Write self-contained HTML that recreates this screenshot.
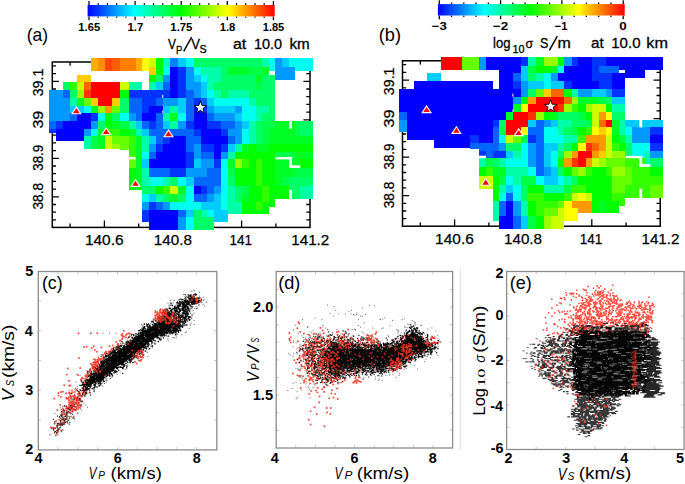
<!DOCTYPE html>
<html><head><meta charset="utf-8"><title>figure</title><style>html,body{margin:0;padding:0;background:#fff;width:685px;height:484px;overflow:hidden}svg{display:block}</style></head><body>
<svg width="685" height="484" viewBox="0 0 685 484" font-family='"Liberation Sans", sans-serif'>
<rect x="0" y="0" width="685" height="484" fill="#ffffff"/>
<defs><linearGradient id="g87" x1="0" x2="1" y1="0" y2="0"><stop offset="0" stop-color="#0000ff"/><stop offset="0.25" stop-color="#00ffff"/><stop offset="0.5" stop-color="#00ff00"/><stop offset="0.75" stop-color="#ffff00"/><stop offset="1" stop-color="#ff0000"/></linearGradient></defs>
<path d="M89.00 4.95v-1.6M89.00 16.40v1.4 M98.22 4.95v-1.6M98.22 16.40v1.4 M107.44 4.95v-1.6M107.44 16.40v1.4 M116.66 4.95v-1.6M116.66 16.40v1.4 M125.88 4.95v-1.6M125.88 16.40v1.4 M135.10 4.95v-1.6M135.10 16.40v1.4 M144.32 4.95v-1.6M144.32 16.40v1.4 M153.54 4.95v-1.6M153.54 16.40v1.4 M162.76 4.95v-1.6M162.76 16.40v1.4 M171.98 4.95v-1.6M171.98 16.40v1.4 M181.20 4.95v-1.6M181.20 16.40v1.4 M190.42 4.95v-1.6M190.42 16.40v1.4 M199.64 4.95v-1.6M199.64 16.40v1.4 M208.86 4.95v-1.6M208.86 16.40v1.4 M218.08 4.95v-1.6M218.08 16.40v1.4 M227.30 4.95v-1.6M227.30 16.40v1.4 M236.52 4.95v-1.6M236.52 16.40v1.4 M245.74 4.95v-1.6M245.74 16.40v1.4 M254.96 4.95v-1.6M254.96 16.40v1.4 M264.18 4.95v-1.6M264.18 16.40v1.4 M273.40 4.95v-1.6M273.40 16.40v1.4 M89.00 4.95V1.05M89.00 16.40V20.20 M135.10 4.95V1.05M135.10 16.40V20.20 M181.20 4.95V1.05M181.20 16.40V20.20 M227.30 4.95V1.05M227.30 16.40V20.20 M273.40 4.95V1.05M273.40 16.40V20.20" stroke="#000" stroke-width="1.25" fill="none"/>
<rect x="87.60" y="4.95" width="187.10" height="11.45" fill="url(#g87)"/>
<defs><linearGradient id="g437" x1="0" x2="1" y1="0" y2="0"><stop offset="0" stop-color="#0000ff"/><stop offset="0.25" stop-color="#00ffff"/><stop offset="0.5" stop-color="#00ff00"/><stop offset="0.75" stop-color="#ffff00"/><stop offset="1" stop-color="#ff0000"/></linearGradient></defs>
<path d="M439.30 4.10v-1.6M439.30 15.50v1.4 M451.56 4.10v-1.6M451.56 15.50v1.4 M463.82 4.10v-1.6M463.82 15.50v1.4 M476.08 4.10v-1.6M476.08 15.50v1.4 M488.34 4.10v-1.6M488.34 15.50v1.4 M500.60 4.10v-1.6M500.60 15.50v1.4 M512.86 4.10v-1.6M512.86 15.50v1.4 M525.12 4.10v-1.6M525.12 15.50v1.4 M537.38 4.10v-1.6M537.38 15.50v1.4 M549.64 4.10v-1.6M549.64 15.50v1.4 M561.90 4.10v-1.6M561.90 15.50v1.4 M574.16 4.10v-1.6M574.16 15.50v1.4 M586.42 4.10v-1.6M586.42 15.50v1.4 M598.68 4.10v-1.6M598.68 15.50v1.4 M610.94 4.10v-1.6M610.94 15.50v1.4 M623.20 4.10v-1.6M623.20 15.50v1.4 M439.30 4.10V0.20M439.30 15.50V19.30 M500.60 4.10V0.20M500.60 15.50V19.30 M561.90 4.10V0.20M561.90 15.50V19.30 M623.20 4.10V0.20M623.20 15.50V19.30" stroke="#000" stroke-width="1.25" fill="none"/>
<rect x="437.90" y="4.10" width="186.80" height="11.40" fill="url(#g437)"/>
<text x="78.39" y="30.90" font-size="11.20" font-weight="bold" font-style="normal" fill="#000" font-family='"Liberation Sans", sans-serif' textLength="21.82" lengthAdjust="spacingAndGlyphs" >1.65</text>
<text x="127.48" y="30.90" font-size="11.20" font-weight="bold" font-style="normal" fill="#000" font-family='"Liberation Sans", sans-serif' textLength="15.82" lengthAdjust="spacingAndGlyphs" >1.7</text>
<text x="170.39" y="30.90" font-size="11.20" font-weight="bold" font-style="normal" fill="#000" font-family='"Liberation Sans", sans-serif' textLength="22.03" lengthAdjust="spacingAndGlyphs" >1.75</text>
<text x="219.69" y="30.90" font-size="11.20" font-weight="bold" font-style="normal" fill="#000" font-family='"Liberation Sans", sans-serif' textLength="15.66" lengthAdjust="spacingAndGlyphs" >1.8</text>
<text x="262.81" y="30.90" font-size="11.20" font-weight="bold" font-style="normal" fill="#000" font-family='"Liberation Sans", sans-serif' textLength="21.40" lengthAdjust="spacingAndGlyphs" >1.85</text>
<text x="431.75" y="29.90" font-size="11.50" font-weight="bold" font-style="normal" fill="#000" font-family='"Liberation Sans", sans-serif' textLength="15.13" lengthAdjust="spacingAndGlyphs" >−3</text>
<text x="493.04" y="29.90" font-size="11.50" font-weight="bold" font-style="normal" fill="#000" font-family='"Liberation Sans", sans-serif' textLength="15.29" lengthAdjust="spacingAndGlyphs" >−2</text>
<text x="554.73" y="30.00" font-size="11.50" font-weight="bold" font-style="normal" fill="#000" font-family='"Liberation Sans", sans-serif' textLength="12.78" lengthAdjust="spacingAndGlyphs" >−1</text>
<text x="619.37" y="30.10" font-size="11.50" font-weight="bold" font-style="normal" fill="#000" font-family='"Liberation Sans", sans-serif' textLength="7.48" lengthAdjust="spacingAndGlyphs" >0</text>
<text x="26.72" y="41.00" font-size="18.20" font-weight="normal" font-style="normal" fill="#000" font-family='"Liberation Sans", sans-serif' textLength="21.37" lengthAdjust="spacingAndGlyphs" >(a)</text>
<text x="378.77" y="41.00" font-size="18.20" font-weight="normal" font-style="normal" fill="#000" font-family='"Liberation Sans", sans-serif' textLength="22.26" lengthAdjust="spacingAndGlyphs" >(b)</text>
<g stroke="#000" stroke-width="0.3">
<text x="167.95" y="48.80" font-size="14.80" font-weight="normal" font-style="normal" fill="#000" font-family='"Liberation Sans", sans-serif' textLength="8.01" lengthAdjust="spacingAndGlyphs" >V</text>
<text x="176.03" y="53.75" font-size="11.40" font-weight="normal" font-style="normal" fill="#000" font-family='"Liberation Sans", sans-serif' textLength="6.27" lengthAdjust="spacingAndGlyphs" >P</text>
<path d="M183.70 51.30L191.60 37.20" stroke="#000" stroke-width="1.45" stroke-linecap="butt"/>
<text x="191.24" y="48.80" font-size="14.80" font-weight="normal" font-style="normal" fill="#000" font-family='"Liberation Sans", sans-serif' textLength="8.71" lengthAdjust="spacingAndGlyphs" >V</text>
<text x="199.41" y="53.40" font-size="10.90" font-weight="normal" font-style="normal" fill="#000" font-family='"Liberation Sans", sans-serif' textLength="7.18" lengthAdjust="spacingAndGlyphs" >S</text>
<text x="232.92" y="48.80" font-size="14.80" font-weight="normal" font-style="normal" fill="#000" font-family='"Liberation Sans", sans-serif' textLength="13.29" lengthAdjust="spacingAndGlyphs" >at</text>
<text x="253.90" y="48.80" font-size="14.80" font-weight="normal" font-style="normal" fill="#000" font-family='"Liberation Sans", sans-serif' textLength="28.17" lengthAdjust="spacingAndGlyphs" >10.0</text>
<text x="289.47" y="48.80" font-size="14.80" font-weight="normal" font-style="normal" fill="#000" font-family='"Liberation Sans", sans-serif' textLength="20.33" lengthAdjust="spacingAndGlyphs" >km</text>
<text x="493.12" y="47.80" font-size="13.80" font-weight="normal" font-style="normal" fill="#000" font-family='"Liberation Sans", sans-serif' textLength="17.42" lengthAdjust="spacingAndGlyphs" >log</text>
<text x="512.57" y="52.75" font-size="11.00" font-weight="normal" font-style="normal" fill="#000" font-family='"Liberation Sans", sans-serif' textLength="12.05" lengthAdjust="spacingAndGlyphs" >10</text>
<text x="525.38" y="47.80" font-size="13.50" font-weight="normal" font-style="normal" fill="#000" font-family='"Liberation Sans", sans-serif' textLength="7.60" lengthAdjust="spacingAndGlyphs" >σ</text>
<text x="540.03" y="47.80" font-size="14.60" font-weight="normal" font-style="normal" fill="#000" font-family='"Liberation Sans", sans-serif' textLength="8.34" lengthAdjust="spacingAndGlyphs" >S</text>
<path d="M549.40 50.30L557.30 36.20" stroke="#000" stroke-width="1.45" stroke-linecap="butt"/>
<text x="557.64" y="47.80" font-size="14.60" font-weight="normal" font-style="normal" fill="#000" font-family='"Liberation Sans", sans-serif' textLength="13.32" lengthAdjust="spacingAndGlyphs" >m</text>
<text x="591.06" y="47.80" font-size="14.60" font-weight="normal" font-style="normal" fill="#000" font-family='"Liberation Sans", sans-serif' textLength="12.66" lengthAdjust="spacingAndGlyphs" >at</text>
<text x="611.26" y="47.80" font-size="14.60" font-weight="normal" font-style="normal" fill="#000" font-family='"Liberation Sans", sans-serif' textLength="29.23" lengthAdjust="spacingAndGlyphs" >10.0</text>
<text x="646.30" y="47.80" font-size="14.60" font-weight="normal" font-style="normal" fill="#000" font-family='"Liberation Sans", sans-serif' textLength="21.67" lengthAdjust="spacingAndGlyphs" >km</text>
</g>
<path d="M52.30 219.90h3.70 M310.00 219.90h-3.70 M52.30 212.20h3.70 M310.00 212.20h-3.70 M52.30 204.50h3.70 M310.00 204.50h-3.70 M52.30 196.80h6.60 M310.00 196.80h-6.60 M52.30 189.10h3.70 M310.00 189.10h-3.70 M52.30 181.40h3.70 M310.00 181.40h-3.70 M52.30 173.70h3.70 M310.00 173.70h-3.70 M52.30 166.00h3.70 M310.00 166.00h-3.70 M52.30 158.30h6.60 M310.00 158.30h-6.60 M52.30 150.60h3.70 M310.00 150.60h-3.70 M52.30 142.90h3.70 M310.00 142.90h-3.70 M52.30 135.20h3.70 M310.00 135.20h-3.70 M52.30 127.50h3.70 M310.00 127.50h-3.70 M52.30 119.80h6.60 M310.00 119.80h-6.60 M52.30 112.10h3.70 M310.00 112.10h-3.70 M52.30 104.40h3.70 M310.00 104.40h-3.70 M52.30 96.70h3.70 M310.00 96.70h-3.70 M52.30 89.00h3.70 M310.00 89.00h-3.70 M52.30 81.30h6.60 M310.00 81.30h-6.60 M52.30 73.60h3.70 M310.00 73.60h-3.70 M52.30 65.90h3.70 M310.00 65.90h-3.70 M70.10 227.40v-3.80 M70.10 62.00v3.80 M104.40 227.40v-7.00 M104.40 62.00v7.00 M138.70 227.40v-3.80 M138.70 62.00v3.80 M173.00 227.40v-7.00 M173.00 62.00v7.00 M207.30 227.40v-3.80 M207.30 62.00v3.80 M241.60 227.40v-7.00 M241.60 62.00v7.00 M275.90 227.40v-3.80 M275.90 62.00v3.80" stroke="#000" stroke-width="1.3" fill="none"/>
<rect x="52.30" y="62.00" width="257.70" height="165.40" fill="none" stroke="#000" stroke-width="1.5"/>
<g shape-rendering="crispEdges"><rect x="90.90" y="58.20" width="7.00" height="8.70" fill="#ffad00"/>
<rect x="97.90" y="58.20" width="6.90" height="8.70" fill="#ff8f00"/>
<rect x="104.80" y="58.20" width="6.70" height="8.70" fill="#ff4700"/>
<rect x="111.50" y="58.20" width="8.50" height="8.70" fill="#ff5c00"/>
<rect x="120.00" y="58.20" width="8.70" height="8.70" fill="#ff8000"/>
<rect x="128.70" y="58.20" width="7.00" height="8.70" fill="#ff8000"/>
<rect x="135.70" y="58.20" width="6.70" height="8.70" fill="#ffad00"/>
<rect x="142.40" y="58.20" width="6.70" height="8.70" fill="#ffff00"/>
<rect x="149.10" y="58.20" width="7.00" height="8.70" fill="#ccff00"/>
<rect x="156.10" y="58.20" width="6.60" height="8.70" fill="#00ff00"/>
<rect x="162.70" y="58.20" width="7.60" height="8.70" fill="#00ffbd"/>
<rect x="170.30" y="58.20" width="7.20" height="8.70" fill="#0080ff"/>
<rect x="177.50" y="58.20" width="8.70" height="8.70" fill="#00ccff"/>
<rect x="186.20" y="58.20" width="7.70" height="8.70" fill="#00fff0"/>
<rect x="193.90" y="58.20" width="6.80" height="8.70" fill="#00ff66"/>
<rect x="200.70" y="58.20" width="6.70" height="8.70" fill="#00ff66"/>
<rect x="207.40" y="58.20" width="6.70" height="8.70" fill="#00ff66"/>
<rect x="214.10" y="58.20" width="7.20" height="8.70" fill="#00ff66"/>
<rect x="221.30" y="58.20" width="6.70" height="8.70" fill="#00ff66"/>
<rect x="228.00" y="58.20" width="7.30" height="8.70" fill="#00ff66"/>
<rect x="235.30" y="58.20" width="6.70" height="8.70" fill="#00ff66"/>
<rect x="242.00" y="58.20" width="6.70" height="8.70" fill="#00ff66"/>
<rect x="248.70" y="58.20" width="7.20" height="8.70" fill="#00ff66"/>
<rect x="255.90" y="58.20" width="6.30" height="8.70" fill="#00ff66"/>
<rect x="262.20" y="58.20" width="6.30" height="8.70" fill="#00ffa8"/>
<rect x="268.50" y="58.20" width="6.50" height="8.70" fill="#00fff0"/>
<rect x="275.00" y="58.20" width="6.90" height="8.70" fill="#0099ff"/>
<rect x="281.90" y="58.20" width="6.80" height="8.70" fill="#00ccff"/>
<rect x="288.70" y="58.20" width="5.80" height="8.70" fill="#00fff0"/>
<rect x="294.50" y="58.20" width="5.70" height="8.70" fill="#00fff0"/>
<rect x="300.20" y="58.20" width="6.30" height="8.70" fill="#00fff0"/>
<rect x="306.50" y="58.20" width="6.30" height="8.70" fill="#00fff0"/>
<rect x="149.10" y="66.90" width="7.00" height="7.70" fill="#ffcc00"/>
<rect x="156.10" y="66.90" width="6.60" height="7.70" fill="#00ff00"/>
<rect x="162.70" y="66.90" width="7.60" height="7.70" fill="#00fff0"/>
<rect x="170.30" y="66.90" width="7.20" height="7.70" fill="#0000ff"/>
<rect x="177.50" y="66.90" width="8.70" height="7.70" fill="#0033ff"/>
<rect x="186.20" y="66.90" width="7.70" height="7.70" fill="#0099ff"/>
<rect x="193.90" y="66.90" width="6.80" height="7.70" fill="#00fff0"/>
<rect x="200.70" y="66.90" width="6.70" height="7.70" fill="#00ffa8"/>
<rect x="207.40" y="66.90" width="6.70" height="7.70" fill="#00ffa8"/>
<rect x="214.10" y="66.90" width="7.20" height="7.70" fill="#00ffa8"/>
<rect x="221.30" y="66.90" width="6.70" height="7.70" fill="#00ff66"/>
<rect x="228.00" y="66.90" width="7.30" height="7.70" fill="#00ff24"/>
<rect x="235.30" y="66.90" width="6.70" height="7.70" fill="#00ff24"/>
<rect x="242.00" y="66.90" width="6.70" height="7.70" fill="#00ff24"/>
<rect x="248.70" y="66.90" width="7.20" height="7.70" fill="#00ff47"/>
<rect x="255.90" y="66.90" width="6.30" height="7.70" fill="#00ff47"/>
<rect x="262.20" y="66.90" width="6.30" height="7.70" fill="#00ff24"/>
<rect x="275.00" y="66.90" width="6.90" height="7.70" fill="#0099ff"/>
<rect x="281.90" y="66.90" width="6.80" height="7.70" fill="#0099ff"/>
<rect x="288.70" y="66.90" width="5.80" height="7.70" fill="#0099ff"/>
<rect x="77.20" y="74.60" width="7.00" height="7.70" fill="#ffcc00"/>
<rect x="84.20" y="74.60" width="6.70" height="7.70" fill="#ffcc00"/>
<rect x="149.10" y="74.60" width="7.00" height="7.70" fill="#00ff00"/>
<rect x="156.10" y="74.60" width="6.60" height="7.70" fill="#00ff66"/>
<rect x="162.70" y="74.60" width="7.60" height="7.70" fill="#0099ff"/>
<rect x="170.30" y="74.60" width="7.20" height="7.70" fill="#0000ff"/>
<rect x="177.50" y="74.60" width="8.70" height="7.70" fill="#0033ff"/>
<rect x="186.20" y="74.60" width="7.70" height="7.70" fill="#0099ff"/>
<rect x="193.90" y="74.60" width="6.80" height="7.70" fill="#00ccff"/>
<rect x="200.70" y="74.60" width="6.70" height="7.70" fill="#00fff0"/>
<rect x="207.40" y="74.60" width="6.70" height="7.70" fill="#00ffa8"/>
<rect x="214.10" y="74.60" width="7.20" height="7.70" fill="#00ffa8"/>
<rect x="221.30" y="74.60" width="6.70" height="7.70" fill="#00ff66"/>
<rect x="228.00" y="74.60" width="7.30" height="7.70" fill="#00ff66"/>
<rect x="235.30" y="74.60" width="6.70" height="7.70" fill="#00ff66"/>
<rect x="242.00" y="74.60" width="6.70" height="7.70" fill="#00ff66"/>
<rect x="248.70" y="74.60" width="7.20" height="7.70" fill="#00ff66"/>
<rect x="255.90" y="74.60" width="6.30" height="7.70" fill="#00ff24"/>
<rect x="262.20" y="74.60" width="6.30" height="7.70" fill="#00ff66"/>
<rect x="268.50" y="74.60" width="6.50" height="7.70" fill="#00ff66"/>
<rect x="275.00" y="74.60" width="6.90" height="4.90" fill="#0099ff"/>
<rect x="281.90" y="74.60" width="6.80" height="4.90" fill="#0099ff"/>
<rect x="288.70" y="74.60" width="5.80" height="4.90" fill="#0099ff"/>
<rect x="63.30" y="82.30" width="6.90" height="7.70" fill="#00ff66"/>
<rect x="70.20" y="82.30" width="7.00" height="7.70" fill="#33ff00"/>
<rect x="77.20" y="82.30" width="7.00" height="7.70" fill="#ccff00"/>
<rect x="84.20" y="82.30" width="6.70" height="7.70" fill="#ff6600"/>
<rect x="90.90" y="82.30" width="7.00" height="7.70" fill="#ff0000"/>
<rect x="97.90" y="82.30" width="6.90" height="7.70" fill="#ff0000"/>
<rect x="104.80" y="82.30" width="6.70" height="7.70" fill="#ff0000"/>
<rect x="111.50" y="82.30" width="8.50" height="7.70" fill="#ff0000"/>
<rect x="120.00" y="82.30" width="8.70" height="7.70" fill="#ccff00"/>
<rect x="128.70" y="82.30" width="7.00" height="7.70" fill="#00ffa8"/>
<rect x="135.70" y="82.30" width="6.70" height="7.70" fill="#00ffa8"/>
<rect x="149.10" y="82.30" width="7.00" height="7.70" fill="#00ffa8"/>
<rect x="156.10" y="82.30" width="6.60" height="7.70" fill="#00ccff"/>
<rect x="162.70" y="82.30" width="7.60" height="7.70" fill="#0066ff"/>
<rect x="170.30" y="82.30" width="7.20" height="7.70" fill="#0000ff"/>
<rect x="177.50" y="82.30" width="8.70" height="7.70" fill="#0033ff"/>
<rect x="186.20" y="82.30" width="7.70" height="7.70" fill="#0099ff"/>
<rect x="193.90" y="82.30" width="6.80" height="7.70" fill="#0099ff"/>
<rect x="200.70" y="82.30" width="6.70" height="7.70" fill="#00ccff"/>
<rect x="207.40" y="82.30" width="6.70" height="7.70" fill="#00ffa8"/>
<rect x="214.10" y="82.30" width="7.20" height="7.70" fill="#00ff66"/>
<rect x="221.30" y="82.30" width="6.70" height="7.70" fill="#00ff66"/>
<rect x="228.00" y="82.30" width="7.30" height="7.70" fill="#00ff66"/>
<rect x="235.30" y="82.30" width="6.70" height="7.70" fill="#00ff66"/>
<rect x="242.00" y="82.30" width="6.70" height="7.70" fill="#00ff66"/>
<rect x="248.70" y="82.30" width="7.20" height="7.70" fill="#00ff66"/>
<rect x="255.90" y="82.30" width="6.30" height="7.70" fill="#00ff47"/>
<rect x="262.20" y="82.30" width="6.30" height="7.70" fill="#00ff66"/>
<rect x="268.50" y="82.30" width="6.50" height="7.70" fill="#00ff66"/>
<rect x="49.20" y="90.00" width="7.10" height="7.80" fill="#0099ff"/>
<rect x="56.30" y="90.00" width="7.00" height="7.80" fill="#0099ff"/>
<rect x="63.30" y="90.00" width="6.90" height="7.80" fill="#0066ff"/>
<rect x="70.20" y="90.00" width="7.00" height="7.80" fill="#00ff66"/>
<rect x="77.20" y="90.00" width="7.00" height="7.80" fill="#99ff00"/>
<rect x="84.20" y="90.00" width="6.70" height="7.80" fill="#ff3300"/>
<rect x="90.90" y="90.00" width="7.00" height="7.80" fill="#ff0000"/>
<rect x="97.90" y="90.00" width="6.90" height="7.80" fill="#ff0000"/>
<rect x="104.80" y="90.00" width="6.70" height="7.80" fill="#ff0000"/>
<rect x="111.50" y="90.00" width="8.50" height="7.80" fill="#ff0000"/>
<rect x="120.00" y="90.00" width="8.70" height="7.80" fill="#00ff00"/>
<rect x="128.70" y="90.00" width="7.00" height="7.80" fill="#0033ff"/>
<rect x="135.70" y="90.00" width="6.70" height="7.80" fill="#0033ff"/>
<rect x="142.40" y="90.00" width="6.70" height="7.80" fill="#0033ff"/>
<rect x="149.10" y="90.00" width="7.00" height="7.80" fill="#0033ff"/>
<rect x="156.10" y="90.00" width="6.60" height="7.80" fill="#0033ff"/>
<rect x="162.70" y="90.00" width="7.60" height="7.80" fill="#0033ff"/>
<rect x="170.30" y="90.00" width="7.20" height="7.80" fill="#0000ff"/>
<rect x="177.50" y="90.00" width="8.70" height="7.80" fill="#0033ff"/>
<rect x="186.20" y="90.00" width="7.70" height="7.80" fill="#0066ff"/>
<rect x="193.90" y="90.00" width="6.80" height="7.80" fill="#0099ff"/>
<rect x="200.70" y="90.00" width="6.70" height="7.80" fill="#00ccff"/>
<rect x="207.40" y="90.00" width="6.70" height="7.80" fill="#00fff0"/>
<rect x="214.10" y="90.00" width="7.20" height="7.80" fill="#00ffa8"/>
<rect x="221.30" y="90.00" width="6.70" height="7.80" fill="#00ff66"/>
<rect x="228.00" y="90.00" width="7.30" height="7.80" fill="#00ffa8"/>
<rect x="235.30" y="90.00" width="6.70" height="7.80" fill="#00ffa8"/>
<rect x="242.00" y="90.00" width="6.70" height="7.80" fill="#00ffa8"/>
<rect x="248.70" y="90.00" width="7.20" height="7.80" fill="#00ff66"/>
<rect x="255.90" y="90.00" width="6.30" height="7.80" fill="#00ff66"/>
<rect x="262.20" y="90.00" width="6.30" height="7.80" fill="#00ff66"/>
<rect x="268.50" y="90.00" width="6.50" height="7.80" fill="#00ff66"/>
<rect x="49.20" y="97.80" width="7.10" height="7.70" fill="#0099ff"/>
<rect x="56.30" y="97.80" width="7.00" height="7.70" fill="#0099ff"/>
<rect x="63.30" y="97.80" width="6.90" height="7.70" fill="#0099ff"/>
<rect x="70.20" y="97.80" width="7.00" height="7.70" fill="#00ffa8"/>
<rect x="77.20" y="97.80" width="7.00" height="7.70" fill="#00ff24"/>
<rect x="84.20" y="97.80" width="6.70" height="7.70" fill="#66ff00"/>
<rect x="90.90" y="97.80" width="7.00" height="7.70" fill="#ffcc00"/>
<rect x="97.90" y="97.80" width="6.90" height="7.70" fill="#ff0000"/>
<rect x="104.80" y="97.80" width="6.70" height="7.70" fill="#ff0000"/>
<rect x="111.50" y="97.80" width="8.50" height="7.70" fill="#ffcc00"/>
<rect x="120.00" y="97.80" width="8.70" height="7.70" fill="#00ff66"/>
<rect x="128.70" y="97.80" width="7.00" height="7.70" fill="#0066ff"/>
<rect x="135.70" y="97.80" width="6.70" height="7.70" fill="#0066ff"/>
<rect x="142.40" y="97.80" width="6.70" height="7.70" fill="#0033ff"/>
<rect x="149.10" y="97.80" width="7.00" height="7.70" fill="#0033ff"/>
<rect x="156.10" y="97.80" width="6.60" height="7.70" fill="#0066ff"/>
<rect x="162.70" y="97.80" width="7.60" height="7.70" fill="#0099ff"/>
<rect x="170.30" y="97.80" width="7.20" height="7.70" fill="#0099ff"/>
<rect x="177.50" y="97.80" width="8.70" height="7.70" fill="#00ccff"/>
<rect x="186.20" y="97.80" width="7.70" height="7.70" fill="#0066ff"/>
<rect x="193.90" y="97.80" width="6.80" height="7.70" fill="#0033ff"/>
<rect x="200.70" y="97.80" width="6.70" height="7.70" fill="#0066ff"/>
<rect x="207.40" y="97.80" width="6.70" height="7.70" fill="#00ccff"/>
<rect x="214.10" y="97.80" width="7.20" height="7.70" fill="#00fff0"/>
<rect x="221.30" y="97.80" width="6.70" height="7.70" fill="#00fff0"/>
<rect x="228.00" y="97.80" width="7.30" height="7.70" fill="#00fff0"/>
<rect x="235.30" y="97.80" width="6.70" height="7.70" fill="#00fff0"/>
<rect x="242.00" y="97.80" width="6.70" height="7.70" fill="#00fff0"/>
<rect x="248.70" y="97.80" width="7.20" height="7.70" fill="#00ffa8"/>
<rect x="255.90" y="97.80" width="6.30" height="7.70" fill="#00ff66"/>
<rect x="262.20" y="97.80" width="6.30" height="7.70" fill="#00ff66"/>
<rect x="268.50" y="97.80" width="6.50" height="7.70" fill="#00ff66"/>
<rect x="49.20" y="105.50" width="7.10" height="7.80" fill="#0099ff"/>
<rect x="56.30" y="105.50" width="7.00" height="7.80" fill="#0099ff"/>
<rect x="63.30" y="105.50" width="6.90" height="7.80" fill="#0099ff"/>
<rect x="70.20" y="105.50" width="7.00" height="7.80" fill="#00ccff"/>
<rect x="77.20" y="105.50" width="7.00" height="7.80" fill="#00ccff"/>
<rect x="84.20" y="105.50" width="6.70" height="7.80" fill="#00fff0"/>
<rect x="90.90" y="105.50" width="7.00" height="7.80" fill="#00ff24"/>
<rect x="97.90" y="105.50" width="6.90" height="7.80" fill="#99ff00"/>
<rect x="104.80" y="105.50" width="6.70" height="7.80" fill="#ff9900"/>
<rect x="111.50" y="105.50" width="8.50" height="7.80" fill="#66ff00"/>
<rect x="120.00" y="105.50" width="8.70" height="7.80" fill="#00ff66"/>
<rect x="128.70" y="105.50" width="7.00" height="7.80" fill="#0066ff"/>
<rect x="135.70" y="105.50" width="6.70" height="7.80" fill="#0066ff"/>
<rect x="142.40" y="105.50" width="6.70" height="7.80" fill="#0033ff"/>
<rect x="149.10" y="105.50" width="7.00" height="7.80" fill="#0000ff"/>
<rect x="156.10" y="105.50" width="6.60" height="7.80" fill="#0000ff"/>
<rect x="162.70" y="105.50" width="7.60" height="7.80" fill="#00ccff"/>
<rect x="170.30" y="105.50" width="7.20" height="7.80" fill="#00ffa8"/>
<rect x="177.50" y="105.50" width="8.70" height="7.80" fill="#00ccff"/>
<rect x="186.20" y="105.50" width="7.70" height="7.80" fill="#0066ff"/>
<rect x="193.90" y="105.50" width="6.80" height="7.80" fill="#0000ff"/>
<rect x="200.70" y="105.50" width="6.70" height="7.80" fill="#0033ff"/>
<rect x="207.40" y="105.50" width="6.70" height="7.80" fill="#0099ff"/>
<rect x="214.10" y="105.50" width="7.20" height="7.80" fill="#00ccff"/>
<rect x="221.30" y="105.50" width="6.70" height="7.80" fill="#00ccff"/>
<rect x="228.00" y="105.50" width="7.30" height="7.80" fill="#00ccff"/>
<rect x="235.30" y="105.50" width="6.70" height="7.80" fill="#0099ff"/>
<rect x="242.00" y="105.50" width="6.70" height="7.80" fill="#00fff0"/>
<rect x="248.70" y="105.50" width="7.20" height="7.80" fill="#00fff0"/>
<rect x="255.90" y="105.50" width="6.30" height="7.80" fill="#00ffa8"/>
<rect x="262.20" y="105.50" width="6.30" height="7.80" fill="#00ffa8"/>
<rect x="268.50" y="105.50" width="6.50" height="7.80" fill="#00ff66"/>
<rect x="49.20" y="113.30" width="7.10" height="7.60" fill="#0099ff"/>
<rect x="56.30" y="113.30" width="7.00" height="7.60" fill="#0099ff"/>
<rect x="63.30" y="113.30" width="6.90" height="7.60" fill="#0099ff"/>
<rect x="70.20" y="113.30" width="7.00" height="7.60" fill="#0066ff"/>
<rect x="77.20" y="113.30" width="7.00" height="7.60" fill="#0000ff"/>
<rect x="84.20" y="113.30" width="6.70" height="7.60" fill="#0000ff"/>
<rect x="90.90" y="113.30" width="7.00" height="7.60" fill="#0033ff"/>
<rect x="97.90" y="113.30" width="6.90" height="7.60" fill="#00fff0"/>
<rect x="104.80" y="113.30" width="6.70" height="7.60" fill="#00ff00"/>
<rect x="111.50" y="113.30" width="8.50" height="7.60" fill="#00ff66"/>
<rect x="120.00" y="113.30" width="8.70" height="7.60" fill="#00fff0"/>
<rect x="128.70" y="113.30" width="7.00" height="7.60" fill="#0099ff"/>
<rect x="135.70" y="113.30" width="6.70" height="7.60" fill="#0066ff"/>
<rect x="142.40" y="113.30" width="6.70" height="7.60" fill="#0000ff"/>
<rect x="149.10" y="113.30" width="7.00" height="7.60" fill="#0000ff"/>
<rect x="156.10" y="113.30" width="6.60" height="7.60" fill="#0066ff"/>
<rect x="162.70" y="113.30" width="7.60" height="7.60" fill="#00ffa8"/>
<rect x="170.30" y="113.30" width="7.20" height="7.60" fill="#00ff24"/>
<rect x="177.50" y="113.30" width="8.70" height="7.60" fill="#00fff0"/>
<rect x="186.20" y="113.30" width="7.70" height="7.60" fill="#0066ff"/>
<rect x="193.90" y="113.30" width="6.80" height="7.60" fill="#0000ff"/>
<rect x="200.70" y="113.30" width="6.70" height="7.60" fill="#0000ff"/>
<rect x="207.40" y="113.30" width="6.70" height="7.60" fill="#0066ff"/>
<rect x="214.10" y="113.30" width="7.20" height="7.60" fill="#0099ff"/>
<rect x="221.30" y="113.30" width="6.70" height="7.60" fill="#0099ff"/>
<rect x="228.00" y="113.30" width="7.30" height="7.60" fill="#0099ff"/>
<rect x="235.30" y="113.30" width="6.70" height="7.60" fill="#00ccff"/>
<rect x="242.00" y="113.30" width="6.70" height="7.60" fill="#00fff0"/>
<rect x="248.70" y="113.30" width="7.20" height="7.60" fill="#00fff0"/>
<rect x="255.90" y="113.30" width="6.30" height="7.60" fill="#00ffa8"/>
<rect x="262.20" y="113.30" width="6.30" height="7.60" fill="#00ff66"/>
<rect x="268.50" y="113.30" width="6.50" height="7.60" fill="#00ff66"/>
<rect x="49.20" y="120.90" width="7.10" height="7.70" fill="#0066ff"/>
<rect x="56.30" y="120.90" width="7.00" height="7.70" fill="#0033ff"/>
<rect x="63.30" y="120.90" width="6.90" height="7.70" fill="#0000ff"/>
<rect x="70.20" y="120.90" width="7.00" height="7.70" fill="#0000ff"/>
<rect x="77.20" y="120.90" width="7.00" height="7.70" fill="#0000ff"/>
<rect x="84.20" y="120.90" width="6.70" height="7.70" fill="#0000ff"/>
<rect x="90.90" y="120.90" width="7.00" height="7.70" fill="#0099ff"/>
<rect x="97.90" y="120.90" width="6.90" height="7.70" fill="#00ff66"/>
<rect x="104.80" y="120.90" width="6.70" height="7.70" fill="#00ff00"/>
<rect x="111.50" y="120.90" width="8.50" height="7.70" fill="#00ff24"/>
<rect x="120.00" y="120.90" width="8.70" height="7.70" fill="#00ff47"/>
<rect x="128.70" y="120.90" width="7.00" height="7.70" fill="#00ffa8"/>
<rect x="135.70" y="120.90" width="6.70" height="7.70" fill="#00ccff"/>
<rect x="142.40" y="120.90" width="6.70" height="7.70" fill="#0066ff"/>
<rect x="149.10" y="120.90" width="7.00" height="7.70" fill="#0033ff"/>
<rect x="156.10" y="120.90" width="6.60" height="7.70" fill="#0066ff"/>
<rect x="162.70" y="120.90" width="7.60" height="7.70" fill="#00ccff"/>
<rect x="170.30" y="120.90" width="7.20" height="7.70" fill="#00ffa8"/>
<rect x="177.50" y="120.90" width="8.70" height="7.70" fill="#0099ff"/>
<rect x="186.20" y="120.90" width="7.70" height="7.70" fill="#0033ff"/>
<rect x="193.90" y="120.90" width="6.80" height="7.70" fill="#0000ff"/>
<rect x="200.70" y="120.90" width="6.70" height="7.70" fill="#0000ff"/>
<rect x="207.40" y="120.90" width="6.70" height="7.70" fill="#0033ff"/>
<rect x="214.10" y="120.90" width="7.20" height="7.70" fill="#0033ff"/>
<rect x="221.30" y="120.90" width="6.70" height="7.70" fill="#0066ff"/>
<rect x="228.00" y="120.90" width="7.30" height="7.70" fill="#0066ff"/>
<rect x="235.30" y="120.90" width="6.70" height="7.70" fill="#0099ff"/>
<rect x="242.00" y="120.90" width="6.70" height="7.70" fill="#00ccff"/>
<rect x="248.70" y="120.90" width="7.20" height="7.70" fill="#00ffa8"/>
<rect x="255.90" y="120.90" width="6.30" height="7.70" fill="#00ff66"/>
<rect x="262.20" y="120.90" width="6.30" height="7.70" fill="#00ff47"/>
<rect x="268.50" y="120.90" width="6.50" height="7.70" fill="#00ff47"/>
<rect x="275.00" y="120.90" width="6.90" height="7.70" fill="#00ff24"/>
<rect x="281.90" y="120.90" width="6.80" height="7.70" fill="#00ff24"/>
<rect x="288.70" y="120.90" width="5.80" height="7.70" fill="#00ff24"/>
<rect x="294.50" y="120.90" width="5.70" height="7.70" fill="#00ff47"/>
<rect x="300.20" y="120.90" width="6.30" height="7.70" fill="#00ff66"/>
<rect x="306.50" y="120.90" width="6.30" height="7.70" fill="#00ff66"/>
<rect x="49.20" y="128.60" width="7.10" height="4.80" fill="#0033ff"/>
<rect x="56.30" y="128.60" width="7.00" height="7.80" fill="#0000ff"/>
<rect x="63.30" y="128.60" width="6.90" height="7.80" fill="#0000ff"/>
<rect x="70.20" y="128.60" width="7.00" height="7.80" fill="#0000ff"/>
<rect x="77.20" y="128.60" width="7.00" height="7.80" fill="#0000ff"/>
<rect x="84.20" y="128.60" width="6.70" height="7.80" fill="#0099ff"/>
<rect x="90.90" y="128.60" width="7.00" height="7.80" fill="#00fff0"/>
<rect x="97.90" y="128.60" width="6.90" height="7.80" fill="#00ff24"/>
<rect x="104.80" y="128.60" width="6.70" height="7.80" fill="#33ff00"/>
<rect x="111.50" y="128.60" width="8.50" height="7.80" fill="#33ff00"/>
<rect x="120.00" y="128.60" width="8.70" height="7.80" fill="#00ff00"/>
<rect x="128.70" y="128.60" width="7.00" height="7.80" fill="#00ff24"/>
<rect x="135.70" y="128.60" width="6.70" height="7.80" fill="#00ffa8"/>
<rect x="142.40" y="128.60" width="6.70" height="7.80" fill="#00ccff"/>
<rect x="149.10" y="128.60" width="7.00" height="7.80" fill="#0066ff"/>
<rect x="156.10" y="128.60" width="6.60" height="7.80" fill="#0066ff"/>
<rect x="162.70" y="128.60" width="7.60" height="7.80" fill="#0066ff"/>
<rect x="170.30" y="128.60" width="7.20" height="7.80" fill="#0066ff"/>
<rect x="177.50" y="128.60" width="8.70" height="7.80" fill="#0066ff"/>
<rect x="186.20" y="128.60" width="7.70" height="7.80" fill="#0066ff"/>
<rect x="193.90" y="128.60" width="6.80" height="7.80" fill="#0033ff"/>
<rect x="200.70" y="128.60" width="6.70" height="7.80" fill="#0000ff"/>
<rect x="207.40" y="128.60" width="6.70" height="7.80" fill="#0000ff"/>
<rect x="214.10" y="128.60" width="7.20" height="7.80" fill="#0000ff"/>
<rect x="221.30" y="128.60" width="6.70" height="7.80" fill="#0033ff"/>
<rect x="228.00" y="128.60" width="7.30" height="7.80" fill="#0099ff"/>
<rect x="235.30" y="128.60" width="6.70" height="7.80" fill="#0099ff"/>
<rect x="242.00" y="128.60" width="6.70" height="7.80" fill="#00fff0"/>
<rect x="248.70" y="128.60" width="7.20" height="7.80" fill="#00ffa8"/>
<rect x="255.90" y="128.60" width="6.30" height="7.80" fill="#00ff66"/>
<rect x="262.20" y="128.60" width="6.30" height="7.80" fill="#00ff47"/>
<rect x="268.50" y="128.60" width="6.50" height="7.80" fill="#00ff24"/>
<rect x="275.00" y="128.60" width="6.90" height="7.80" fill="#00ff24"/>
<rect x="281.90" y="128.60" width="6.80" height="7.80" fill="#00ff24"/>
<rect x="288.70" y="128.60" width="5.80" height="7.80" fill="#00ff24"/>
<rect x="294.50" y="128.60" width="5.70" height="7.80" fill="#00ff47"/>
<rect x="300.20" y="128.60" width="6.30" height="7.80" fill="#00ff66"/>
<rect x="306.50" y="128.60" width="6.30" height="7.80" fill="#00ff66"/>
<rect x="56.30" y="136.40" width="7.00" height="4.90" fill="#0000ff"/>
<rect x="63.30" y="136.40" width="6.90" height="4.90" fill="#0000ff"/>
<rect x="70.20" y="136.40" width="7.00" height="4.90" fill="#0000ff"/>
<rect x="77.20" y="136.40" width="7.00" height="4.90" fill="#0000ff"/>
<rect x="84.20" y="136.40" width="6.70" height="7.60" fill="#00ffa8"/>
<rect x="90.90" y="136.40" width="7.00" height="7.60" fill="#00ff47"/>
<rect x="97.90" y="136.40" width="6.90" height="7.60" fill="#00ff24"/>
<rect x="104.80" y="136.40" width="6.70" height="7.60" fill="#ccff00"/>
<rect x="111.50" y="136.40" width="8.50" height="7.60" fill="#66ff00"/>
<rect x="120.00" y="136.40" width="8.70" height="7.60" fill="#66ff00"/>
<rect x="128.70" y="136.40" width="7.00" height="7.60" fill="#33ff00"/>
<rect x="135.70" y="136.40" width="6.70" height="7.60" fill="#00ff24"/>
<rect x="142.40" y="136.40" width="6.70" height="7.60" fill="#00ffa8"/>
<rect x="149.10" y="136.40" width="7.00" height="7.60" fill="#00ccff"/>
<rect x="156.10" y="136.40" width="6.60" height="7.60" fill="#0066ff"/>
<rect x="162.70" y="136.40" width="7.60" height="7.60" fill="#0033ff"/>
<rect x="170.30" y="136.40" width="7.20" height="7.60" fill="#0000ff"/>
<rect x="177.50" y="136.40" width="8.70" height="7.60" fill="#0000ff"/>
<rect x="186.20" y="136.40" width="7.70" height="7.60" fill="#0066ff"/>
<rect x="193.90" y="136.40" width="6.80" height="7.60" fill="#0066ff"/>
<rect x="200.70" y="136.40" width="6.70" height="7.60" fill="#0000ff"/>
<rect x="207.40" y="136.40" width="6.70" height="7.60" fill="#0000ff"/>
<rect x="214.10" y="136.40" width="7.20" height="7.60" fill="#0000ff"/>
<rect x="221.30" y="136.40" width="6.70" height="7.60" fill="#0000ff"/>
<rect x="228.00" y="136.40" width="7.30" height="7.60" fill="#0066ff"/>
<rect x="235.30" y="136.40" width="6.70" height="7.60" fill="#0099ff"/>
<rect x="242.00" y="136.40" width="6.70" height="7.60" fill="#00fff0"/>
<rect x="248.70" y="136.40" width="7.20" height="7.60" fill="#00ffa8"/>
<rect x="255.90" y="136.40" width="6.30" height="7.60" fill="#00ff66"/>
<rect x="262.20" y="136.40" width="6.30" height="7.60" fill="#00ff47"/>
<rect x="268.50" y="136.40" width="6.50" height="7.60" fill="#00ff24"/>
<rect x="275.00" y="136.40" width="6.90" height="7.60" fill="#00ff24"/>
<rect x="281.90" y="136.40" width="6.80" height="7.60" fill="#00ff24"/>
<rect x="288.70" y="136.40" width="5.80" height="7.60" fill="#00ff24"/>
<rect x="294.50" y="136.40" width="5.70" height="7.60" fill="#00ff24"/>
<rect x="300.20" y="136.40" width="6.30" height="7.60" fill="#00ff24"/>
<rect x="306.50" y="136.40" width="6.30" height="7.60" fill="#00ff24"/>
<rect x="84.20" y="144.00" width="6.70" height="5.20" fill="#00ffa8"/>
<rect x="90.90" y="144.00" width="7.00" height="5.20" fill="#00ff47"/>
<rect x="97.90" y="144.00" width="6.90" height="5.20" fill="#00ff24"/>
<rect x="104.80" y="144.00" width="6.70" height="5.20" fill="#ccff00"/>
<rect x="111.50" y="144.00" width="8.50" height="5.20" fill="#99ff00"/>
<rect x="120.00" y="144.00" width="8.70" height="6.00" fill="#66ff00"/>
<rect x="128.70" y="144.00" width="7.00" height="7.70" fill="#33ff00"/>
<rect x="135.70" y="144.00" width="6.70" height="7.70" fill="#00ff24"/>
<rect x="142.40" y="144.00" width="6.70" height="7.70" fill="#00ffa8"/>
<rect x="149.10" y="144.00" width="7.00" height="7.70" fill="#0099ff"/>
<rect x="156.10" y="144.00" width="6.60" height="7.70" fill="#0033ff"/>
<rect x="162.70" y="144.00" width="7.60" height="7.70" fill="#0000ff"/>
<rect x="170.30" y="144.00" width="7.20" height="7.70" fill="#0000ff"/>
<rect x="177.50" y="144.00" width="8.70" height="7.70" fill="#0000ff"/>
<rect x="186.20" y="144.00" width="7.70" height="7.70" fill="#0066ff"/>
<rect x="193.90" y="144.00" width="6.80" height="7.70" fill="#0099ff"/>
<rect x="200.70" y="144.00" width="6.70" height="7.70" fill="#0033ff"/>
<rect x="207.40" y="144.00" width="6.70" height="7.70" fill="#0033ff"/>
<rect x="214.10" y="144.00" width="7.20" height="7.70" fill="#0000ff"/>
<rect x="221.30" y="144.00" width="6.70" height="7.70" fill="#0033ff"/>
<rect x="228.00" y="144.00" width="7.30" height="7.70" fill="#00ccff"/>
<rect x="235.30" y="144.00" width="6.70" height="7.70" fill="#00ffa8"/>
<rect x="242.00" y="144.00" width="6.70" height="7.70" fill="#00ff24"/>
<rect x="248.70" y="144.00" width="7.20" height="7.70" fill="#00ff00"/>
<rect x="255.90" y="144.00" width="6.30" height="7.70" fill="#00ff24"/>
<rect x="262.20" y="144.00" width="6.30" height="7.70" fill="#00ff24"/>
<rect x="268.50" y="144.00" width="6.50" height="7.70" fill="#00ff00"/>
<rect x="275.00" y="144.00" width="6.90" height="7.70" fill="#00ff00"/>
<rect x="281.90" y="144.00" width="6.80" height="7.70" fill="#00ff00"/>
<rect x="288.70" y="144.00" width="5.80" height="7.70" fill="#00ff00"/>
<rect x="294.50" y="144.00" width="5.70" height="7.70" fill="#00ff00"/>
<rect x="300.20" y="144.00" width="6.30" height="7.70" fill="#00ff00"/>
<rect x="306.50" y="144.00" width="6.30" height="7.70" fill="#00ff00"/>
<rect x="128.70" y="151.70" width="7.00" height="7.60" fill="#33ff00"/>
<rect x="135.70" y="151.70" width="6.70" height="7.60" fill="#00ff24"/>
<rect x="142.40" y="151.70" width="6.70" height="7.60" fill="#00fff0"/>
<rect x="149.10" y="151.70" width="7.00" height="7.60" fill="#0066ff"/>
<rect x="156.10" y="151.70" width="6.60" height="7.60" fill="#0000ff"/>
<rect x="162.70" y="151.70" width="7.60" height="7.60" fill="#0000ff"/>
<rect x="170.30" y="151.70" width="7.20" height="7.60" fill="#0000ff"/>
<rect x="177.50" y="151.70" width="8.70" height="7.60" fill="#0000ff"/>
<rect x="186.20" y="151.70" width="7.70" height="7.60" fill="#0033ff"/>
<rect x="193.90" y="151.70" width="6.80" height="7.60" fill="#0099ff"/>
<rect x="200.70" y="151.70" width="6.70" height="7.60" fill="#0066ff"/>
<rect x="207.40" y="151.70" width="6.70" height="7.60" fill="#0066ff"/>
<rect x="214.10" y="151.70" width="7.20" height="7.60" fill="#0000ff"/>
<rect x="221.30" y="151.70" width="6.70" height="7.60" fill="#0099ff"/>
<rect x="228.00" y="151.70" width="7.30" height="7.60" fill="#00ffa8"/>
<rect x="235.30" y="151.70" width="6.70" height="7.60" fill="#00ff00"/>
<rect x="242.00" y="151.70" width="6.70" height="7.60" fill="#00ff00"/>
<rect x="248.70" y="151.70" width="7.20" height="7.60" fill="#00ff00"/>
<rect x="255.90" y="151.70" width="6.30" height="7.60" fill="#00ff00"/>
<rect x="262.20" y="151.70" width="6.30" height="7.60" fill="#00ff00"/>
<rect x="268.50" y="151.70" width="6.50" height="7.60" fill="#00ff00"/>
<rect x="275.00" y="151.70" width="6.90" height="7.60" fill="#00ff47"/>
<rect x="281.90" y="151.70" width="6.80" height="7.60" fill="#00ff47"/>
<rect x="288.70" y="151.70" width="5.80" height="7.60" fill="#00ff47"/>
<rect x="294.50" y="151.70" width="5.70" height="7.60" fill="#00ff24"/>
<rect x="300.20" y="151.70" width="6.30" height="7.60" fill="#00ff24"/>
<rect x="306.50" y="151.70" width="6.30" height="7.60" fill="#00ff24"/>
<rect x="128.70" y="159.30" width="7.00" height="8.50" fill="#66ff00"/>
<rect x="135.70" y="159.30" width="6.70" height="8.50" fill="#00ff24"/>
<rect x="142.40" y="159.30" width="6.70" height="8.50" fill="#00ccff"/>
<rect x="149.10" y="159.30" width="7.00" height="8.50" fill="#0000ff"/>
<rect x="156.10" y="159.30" width="6.60" height="8.50" fill="#0000ff"/>
<rect x="162.70" y="159.30" width="7.60" height="8.50" fill="#0000ff"/>
<rect x="170.30" y="159.30" width="7.20" height="8.50" fill="#0000ff"/>
<rect x="177.50" y="159.30" width="8.70" height="8.50" fill="#0000ff"/>
<rect x="186.20" y="159.30" width="7.70" height="8.50" fill="#0033ff"/>
<rect x="193.90" y="159.30" width="6.80" height="8.50" fill="#00ccff"/>
<rect x="200.70" y="159.30" width="6.70" height="8.50" fill="#0099ff"/>
<rect x="207.40" y="159.30" width="6.70" height="8.50" fill="#0099ff"/>
<rect x="214.10" y="159.30" width="7.20" height="8.50" fill="#0033ff"/>
<rect x="221.30" y="159.30" width="6.70" height="8.50" fill="#00fff0"/>
<rect x="228.00" y="159.30" width="7.30" height="8.50" fill="#00ff24"/>
<rect x="235.30" y="159.30" width="6.70" height="8.50" fill="#99ff00"/>
<rect x="242.00" y="159.30" width="6.70" height="8.50" fill="#33ff00"/>
<rect x="248.70" y="159.30" width="7.20" height="8.50" fill="#00ff00"/>
<rect x="255.90" y="159.30" width="6.30" height="8.50" fill="#33ff00"/>
<rect x="262.20" y="159.30" width="6.30" height="8.50" fill="#00ff00"/>
<rect x="268.50" y="159.30" width="6.50" height="8.50" fill="#00ff00"/>
<rect x="275.00" y="159.30" width="6.90" height="8.50" fill="#00ff24"/>
<rect x="281.90" y="159.30" width="6.80" height="8.50" fill="#00ff24"/>
<rect x="288.70" y="159.30" width="5.80" height="8.50" fill="#00ff24"/>
<rect x="294.50" y="159.30" width="5.70" height="8.50" fill="#00ff24"/>
<rect x="300.20" y="159.30" width="6.30" height="8.50" fill="#00ff00"/>
<rect x="306.50" y="159.30" width="6.30" height="8.50" fill="#00ff00"/>
<rect x="128.70" y="167.80" width="7.00" height="9.10" fill="#00ff00"/>
<rect x="135.70" y="167.80" width="6.70" height="9.10" fill="#00ff24"/>
<rect x="142.40" y="167.80" width="6.70" height="9.10" fill="#00ffa8"/>
<rect x="149.10" y="167.80" width="7.00" height="9.10" fill="#0066ff"/>
<rect x="156.10" y="167.80" width="6.60" height="9.10" fill="#0066ff"/>
<rect x="162.70" y="167.80" width="7.60" height="9.10" fill="#0066ff"/>
<rect x="170.30" y="167.80" width="7.20" height="9.10" fill="#0033ff"/>
<rect x="177.50" y="167.80" width="8.70" height="9.10" fill="#0033ff"/>
<rect x="186.20" y="167.80" width="7.70" height="9.10" fill="#0099ff"/>
<rect x="193.90" y="167.80" width="6.80" height="9.10" fill="#0099ff"/>
<rect x="200.70" y="167.80" width="6.70" height="9.10" fill="#0099ff"/>
<rect x="207.40" y="167.80" width="6.70" height="9.10" fill="#0066ff"/>
<rect x="214.10" y="167.80" width="7.20" height="9.10" fill="#0066ff"/>
<rect x="221.30" y="167.80" width="6.70" height="9.10" fill="#00fff0"/>
<rect x="228.00" y="167.80" width="7.30" height="9.10" fill="#00ff47"/>
<rect x="235.30" y="167.80" width="6.70" height="9.10" fill="#00ff00"/>
<rect x="242.00" y="167.80" width="6.70" height="9.10" fill="#00ff00"/>
<rect x="248.70" y="167.80" width="7.20" height="9.10" fill="#00ff00"/>
<rect x="255.90" y="167.80" width="6.30" height="9.10" fill="#33ff00"/>
<rect x="262.20" y="167.80" width="6.30" height="9.10" fill="#00ff00"/>
<rect x="268.50" y="167.80" width="6.50" height="9.10" fill="#00ff00"/>
<rect x="275.00" y="167.80" width="6.90" height="9.10" fill="#00ff24"/>
<rect x="281.90" y="167.80" width="6.80" height="9.10" fill="#00ff24"/>
<rect x="288.70" y="167.80" width="5.80" height="9.10" fill="#00ff24"/>
<rect x="294.50" y="167.80" width="5.70" height="9.10" fill="#00ff47"/>
<rect x="300.20" y="167.80" width="6.30" height="9.10" fill="#00ff47"/>
<rect x="306.50" y="167.80" width="6.30" height="9.10" fill="#00ff47"/>
<rect x="128.70" y="176.90" width="7.00" height="9.40" fill="#00ff00"/>
<rect x="135.70" y="176.90" width="6.70" height="9.40" fill="#00ff24"/>
<rect x="142.40" y="176.90" width="6.70" height="9.40" fill="#00ffa8"/>
<rect x="149.10" y="176.90" width="7.00" height="9.40" fill="#00fff0"/>
<rect x="156.10" y="176.90" width="6.60" height="9.40" fill="#00fff0"/>
<rect x="162.70" y="176.90" width="7.60" height="9.40" fill="#00ffa8"/>
<rect x="170.30" y="176.90" width="7.20" height="9.40" fill="#00ff66"/>
<rect x="177.50" y="176.90" width="8.70" height="9.40" fill="#00fff0"/>
<rect x="186.20" y="176.90" width="7.70" height="9.40" fill="#00ccff"/>
<rect x="193.90" y="176.90" width="6.80" height="9.40" fill="#0066ff"/>
<rect x="200.70" y="176.90" width="6.70" height="9.40" fill="#0066ff"/>
<rect x="207.40" y="176.90" width="6.70" height="9.40" fill="#0066ff"/>
<rect x="214.10" y="176.90" width="7.20" height="9.40" fill="#0066ff"/>
<rect x="221.30" y="176.90" width="6.70" height="9.40" fill="#00fff0"/>
<rect x="228.00" y="176.90" width="7.30" height="9.40" fill="#00ff66"/>
<rect x="235.30" y="176.90" width="6.70" height="9.40" fill="#00ff00"/>
<rect x="242.00" y="176.90" width="6.70" height="9.40" fill="#00ff00"/>
<rect x="248.70" y="176.90" width="7.20" height="9.40" fill="#00ff00"/>
<rect x="255.90" y="176.90" width="6.30" height="9.40" fill="#33ff00"/>
<rect x="262.20" y="176.90" width="6.30" height="9.40" fill="#00ff00"/>
<rect x="268.50" y="176.90" width="6.50" height="9.40" fill="#00ff00"/>
<rect x="275.00" y="176.90" width="6.90" height="9.40" fill="#00ff24"/>
<rect x="281.90" y="176.90" width="6.80" height="9.40" fill="#00ff47"/>
<rect x="288.70" y="176.90" width="5.80" height="9.40" fill="#00ff66"/>
<rect x="294.50" y="176.90" width="5.70" height="9.40" fill="#00ff66"/>
<rect x="300.20" y="176.90" width="6.30" height="9.40" fill="#00ff66"/>
<rect x="306.50" y="176.90" width="6.30" height="9.40" fill="#00ff66"/>
<rect x="128.70" y="186.30" width="7.00" height="3.70" fill="#00ff00"/>
<rect x="135.70" y="186.30" width="6.70" height="3.70" fill="#00ff24"/>
<rect x="142.40" y="186.30" width="6.70" height="7.90" fill="#00ff66"/>
<rect x="149.10" y="186.30" width="7.00" height="7.90" fill="#00ff66"/>
<rect x="156.10" y="186.30" width="6.60" height="7.90" fill="#00ff00"/>
<rect x="162.70" y="186.30" width="7.60" height="7.90" fill="#33ff00"/>
<rect x="170.30" y="186.30" width="7.20" height="7.90" fill="#ccff00"/>
<rect x="177.50" y="186.30" width="8.70" height="7.90" fill="#00ff24"/>
<rect x="186.20" y="186.30" width="7.70" height="7.90" fill="#00fff0"/>
<rect x="193.90" y="186.30" width="6.80" height="7.90" fill="#0000ff"/>
<rect x="200.70" y="186.30" width="6.70" height="7.90" fill="#0033ff"/>
<rect x="207.40" y="186.30" width="6.70" height="7.90" fill="#0066ff"/>
<rect x="214.10" y="186.30" width="7.20" height="7.90" fill="#0099ff"/>
<rect x="221.30" y="186.30" width="6.70" height="7.90" fill="#00fff0"/>
<rect x="228.00" y="186.30" width="7.30" height="7.90" fill="#00ffa8"/>
<rect x="235.30" y="186.30" width="6.70" height="7.90" fill="#00ff66"/>
<rect x="242.00" y="186.30" width="6.70" height="7.90" fill="#00ff47"/>
<rect x="248.70" y="186.30" width="7.20" height="7.90" fill="#00ff00"/>
<rect x="255.90" y="186.30" width="6.30" height="7.90" fill="#00ff00"/>
<rect x="262.20" y="186.30" width="6.30" height="7.90" fill="#33ff00"/>
<rect x="268.50" y="186.30" width="6.50" height="7.90" fill="#00ff00"/>
<rect x="275.00" y="186.30" width="6.90" height="7.90" fill="#00ff00"/>
<rect x="281.90" y="186.30" width="6.80" height="7.90" fill="#00ff00"/>
<rect x="288.70" y="186.30" width="5.80" height="7.90" fill="#00ff66"/>
<rect x="294.50" y="186.30" width="5.70" height="7.90" fill="#00ff66"/>
<rect x="300.20" y="186.30" width="6.30" height="7.90" fill="#00ffa8"/>
<rect x="306.50" y="186.30" width="6.30" height="7.90" fill="#00ffa8"/>
<rect x="142.40" y="194.20" width="6.70" height="7.80" fill="#00fff0"/>
<rect x="149.10" y="194.20" width="7.00" height="7.80" fill="#00ccff"/>
<rect x="156.10" y="194.20" width="6.60" height="7.80" fill="#00ffa8"/>
<rect x="162.70" y="194.20" width="7.60" height="7.80" fill="#00ff66"/>
<rect x="170.30" y="194.20" width="7.20" height="7.80" fill="#00ff24"/>
<rect x="177.50" y="194.20" width="8.70" height="7.80" fill="#00ff66"/>
<rect x="186.20" y="194.20" width="7.70" height="7.80" fill="#00fff0"/>
<rect x="193.90" y="194.20" width="6.80" height="7.80" fill="#0066ff"/>
<rect x="200.70" y="194.20" width="6.70" height="7.80" fill="#0066ff"/>
<rect x="207.40" y="194.20" width="6.70" height="7.80" fill="#0099ff"/>
<rect x="214.10" y="194.20" width="7.20" height="7.80" fill="#00ccff"/>
<rect x="221.30" y="194.20" width="6.70" height="7.80" fill="#00fff0"/>
<rect x="228.00" y="194.20" width="7.30" height="7.80" fill="#00ffa8"/>
<rect x="235.30" y="194.20" width="6.70" height="7.80" fill="#00ff66"/>
<rect x="242.00" y="194.20" width="6.70" height="7.80" fill="#00ff24"/>
<rect x="248.70" y="194.20" width="7.20" height="7.80" fill="#00ff00"/>
<rect x="255.90" y="194.20" width="6.30" height="7.80" fill="#00ff00"/>
<rect x="262.20" y="194.20" width="6.30" height="7.80" fill="#33ff00"/>
<rect x="268.50" y="194.20" width="6.50" height="7.80" fill="#00ff00"/>
<rect x="275.00" y="194.20" width="6.90" height="5.20" fill="#00ff00"/>
<rect x="281.90" y="194.20" width="6.80" height="5.20" fill="#00ff00"/>
<rect x="288.70" y="194.20" width="5.80" height="5.20" fill="#00ff66"/>
<rect x="294.50" y="194.20" width="5.70" height="5.20" fill="#00ff66"/>
<rect x="300.20" y="194.20" width="6.30" height="5.20" fill="#00ffa8"/>
<rect x="306.50" y="194.20" width="6.30" height="5.20" fill="#00ffa8"/>
<rect x="142.40" y="202.00" width="6.70" height="7.60" fill="#0099ff"/>
<rect x="149.10" y="202.00" width="7.00" height="7.60" fill="#0033ff"/>
<rect x="156.10" y="202.00" width="6.60" height="7.60" fill="#0066ff"/>
<rect x="162.70" y="202.00" width="7.60" height="7.60" fill="#0099ff"/>
<rect x="170.30" y="202.00" width="7.20" height="7.60" fill="#00fff0"/>
<rect x="177.50" y="202.00" width="8.70" height="7.60" fill="#00fff0"/>
<rect x="186.20" y="202.00" width="7.70" height="7.60" fill="#00fff0"/>
<rect x="193.90" y="202.00" width="6.80" height="7.60" fill="#00fff0"/>
<rect x="200.70" y="202.00" width="6.70" height="7.60" fill="#00ccff"/>
<rect x="207.40" y="202.00" width="6.70" height="7.60" fill="#00ccff"/>
<rect x="214.10" y="202.00" width="7.20" height="7.60" fill="#00ccff"/>
<rect x="221.30" y="202.00" width="6.70" height="7.60" fill="#00fff0"/>
<rect x="228.00" y="202.00" width="7.30" height="7.60" fill="#00ffa8"/>
<rect x="235.30" y="202.00" width="6.70" height="7.60" fill="#00ffa8"/>
<rect x="242.00" y="202.00" width="6.70" height="7.60" fill="#00ff00"/>
<rect x="248.70" y="202.00" width="7.20" height="7.60" fill="#00ff00"/>
<rect x="255.90" y="202.00" width="6.30" height="7.60" fill="#33ff00"/>
<rect x="262.20" y="202.00" width="6.30" height="7.60" fill="#00ff00"/>
<rect x="268.50" y="202.00" width="6.50" height="5.10" fill="#00ff00"/>
<rect x="142.40" y="209.60" width="6.70" height="7.50" fill="#0033ff"/>
<rect x="149.10" y="209.60" width="7.00" height="7.50" fill="#0000ff"/>
<rect x="156.10" y="209.60" width="6.60" height="7.50" fill="#0000ff"/>
<rect x="162.70" y="209.60" width="7.60" height="7.50" fill="#0000ff"/>
<rect x="170.30" y="209.60" width="7.20" height="7.50" fill="#0000ff"/>
<rect x="177.50" y="209.60" width="8.70" height="7.50" fill="#0066ff"/>
<rect x="186.20" y="209.60" width="7.70" height="7.50" fill="#00ccff"/>
<rect x="193.90" y="209.60" width="6.80" height="7.50" fill="#00ff66"/>
<rect x="200.70" y="209.60" width="6.70" height="7.50" fill="#00ffa8"/>
<rect x="207.40" y="209.60" width="6.70" height="7.50" fill="#00fff0"/>
<rect x="214.10" y="209.60" width="7.20" height="7.50" fill="#00ccff"/>
<rect x="221.30" y="209.60" width="6.70" height="7.50" fill="#00ccff"/>
<rect x="228.00" y="209.60" width="7.30" height="4.60" fill="#00ffa8"/>
<rect x="235.30" y="209.60" width="6.70" height="4.60" fill="#00ffa8"/>
<rect x="242.00" y="209.60" width="6.70" height="4.60" fill="#00ff00"/>
<rect x="248.70" y="209.60" width="7.20" height="4.60" fill="#00ff00"/>
<rect x="255.90" y="209.60" width="6.30" height="4.60" fill="#00ff00"/>
<rect x="262.20" y="209.60" width="6.30" height="4.60" fill="#00ff00"/>
<rect x="142.40" y="217.10" width="6.70" height="4.80" fill="#0033ff"/>
<rect x="149.10" y="217.10" width="7.00" height="5.40" fill="#0000ff"/>
<rect x="156.10" y="217.10" width="6.60" height="5.40" fill="#0000ff"/>
<rect x="162.70" y="217.10" width="7.60" height="5.40" fill="#0000ff"/>
<rect x="170.30" y="217.10" width="7.20" height="5.40" fill="#0000ff"/>
<rect x="177.50" y="217.10" width="8.70" height="5.40" fill="#0099ff"/>
<rect x="186.20" y="217.10" width="7.70" height="5.40" fill="#00fff0"/>
<rect x="193.90" y="217.10" width="6.80" height="5.40" fill="#00ff66"/>
<rect x="200.70" y="217.10" width="6.70" height="5.40" fill="#00ff66"/>
<rect x="207.40" y="217.10" width="6.70" height="5.40" fill="#00ff66"/>
<rect x="214.10" y="217.10" width="7.20" height="4.70" fill="#00ccff"/>
<rect x="221.30" y="217.10" width="6.70" height="4.70" fill="#00ccff"/>
<rect x="149.10" y="222.50" width="7.00" height="7.50" fill="#0000ff"/>
<rect x="156.10" y="222.50" width="6.60" height="7.50" fill="#0000ff"/>
<rect x="162.70" y="222.50" width="7.60" height="7.50" fill="#0000ff"/>
<rect x="170.30" y="222.50" width="7.20" height="7.50" fill="#0000ff"/>
<rect x="177.50" y="222.50" width="8.70" height="7.50" fill="#0099ff"/>
<rect x="186.20" y="222.50" width="7.70" height="7.50" fill="#00fff0"/>
<rect x="193.90" y="222.50" width="6.80" height="7.50" fill="#00ff66"/>
<rect x="200.70" y="222.50" width="6.70" height="7.50" fill="#00ff66"/>
<rect x="207.40" y="222.50" width="6.70" height="7.50" fill="#00ff66"/>
<rect x="90.90" y="66.90" width="7.00" height="4.10" fill="#ffad00"/>
<rect x="97.90" y="66.90" width="6.90" height="4.10" fill="#ff8f00"/>
<rect x="104.80" y="66.90" width="6.70" height="4.10" fill="#ff4700"/>
<rect x="111.50" y="66.90" width="8.50" height="4.10" fill="#ff5c00"/>
<rect x="120.00" y="66.90" width="8.70" height="4.10" fill="#ff8000"/>
<rect x="128.70" y="66.90" width="7.00" height="4.10" fill="#ff8000"/>
<rect x="135.70" y="66.90" width="6.70" height="4.10" fill="#ffad00"/>
<rect x="142.40" y="66.90" width="6.70" height="4.10" fill="#ffff00"/>
<rect x="268.50" y="66.90" width="6.50" height="4.10" fill="#00fff0"/>
<rect x="294.50" y="66.90" width="5.70" height="4.10" fill="#00fff0"/>
<rect x="300.20" y="66.90" width="6.30" height="4.10" fill="#00fff0"/>
<rect x="306.50" y="66.90" width="6.30" height="4.10" fill="#00fff0"/></g>
<rect x="275.50" y="157.10" width="16.50" height="2.30" fill="#fff"/>
<rect x="289.20" y="157.10" width="2.80" height="10.90" fill="#fff"/>
<rect x="289.20" y="165.30" width="11.00" height="2.70" fill="#fff"/>
<rect x="289.20" y="190.00" width="2.80" height="9.40" fill="#fff"/>
<rect x="289.20" y="120.70" width="2.80" height="7.90" fill="#fff"/>
<rect x="128.70" y="156.90" width="7.00" height="2.50" fill="#fff"/>
<rect x="162.20" y="94.80" width="1.00" height="3.10" fill="#fff"/>
<rect x="162.20" y="110.80" width="1.00" height="2.10" fill="#fff"/>
<path d="M76.4 107.1L72.0 113.8L80.8 113.8Z" fill="#ff0000" stroke="#ffffff" stroke-width="1.1" stroke-linejoin="miter"/>
<path d="M106.2 127.9L101.8 134.6L110.6 134.6Z" fill="#ff0000" stroke="#ffffff" stroke-width="1.1" stroke-linejoin="miter"/>
<path d="M168.5 130.1L164.1 136.8L172.9 136.8Z" fill="#ff0000" stroke="#ffffff" stroke-width="1.1" stroke-linejoin="miter"/>
<path d="M135.5 179.7L131.1 186.4L139.9 186.4Z" fill="#ff0000" stroke="#ffffff" stroke-width="1.1" stroke-linejoin="miter"/>
<path d="M200.40 101.00L201.99 105.42L206.68 105.56L202.97 108.43L204.28 112.94L200.40 110.30L196.52 112.94L197.83 108.43L194.12 105.56L198.81 105.42Z" fill="#ffffff" stroke="#000000" stroke-width="0.9"/>
<g stroke="#000" stroke-width="0.25">
<text x="84.92" y="245.00" font-size="15.20" font-weight="normal" font-style="normal" fill="#000" font-family='"Liberation Sans", sans-serif' textLength="38.66" lengthAdjust="spacingAndGlyphs" >140.6</text>
<text x="153.84" y="245.00" font-size="15.20" font-weight="normal" font-style="normal" fill="#000" font-family='"Liberation Sans", sans-serif' textLength="38.02" lengthAdjust="spacingAndGlyphs" >140.8</text>
<text x="229.57" y="245.00" font-size="15.20" font-weight="normal" font-style="normal" fill="#000" font-family='"Liberation Sans", sans-serif' textLength="22.59" lengthAdjust="spacingAndGlyphs" >141</text>
<text x="291.24" y="245.00" font-size="15.20" font-weight="normal" font-style="normal" fill="#000" font-family='"Liberation Sans", sans-serif' textLength="38.02" lengthAdjust="spacingAndGlyphs" >141.2</text>
<g transform="translate(43.30 95.80) rotate(-90)"><text x="-0.54" y="0.00" font-size="15.20" font-weight="normal" font-style="normal" fill="#000" font-family='"Liberation Sans", sans-serif' textLength="27.63" lengthAdjust="spacingAndGlyphs" >39.1</text></g>
<g transform="translate(43.30 128.00) rotate(-90)"><text x="-0.61" y="0.00" font-size="15.20" font-weight="normal" font-style="normal" fill="#000" font-family='"Liberation Sans", sans-serif' textLength="17.87" lengthAdjust="spacingAndGlyphs" >39</text></g>
<g transform="translate(43.30 170.20) rotate(-90)"><text x="-0.51" y="0.00" font-size="15.20" font-weight="normal" font-style="normal" fill="#000" font-family='"Liberation Sans", sans-serif' textLength="25.94" lengthAdjust="spacingAndGlyphs" >38.9</text></g>
<g transform="translate(43.30 209.00) rotate(-90)"><text x="-0.52" y="0.00" font-size="15.20" font-weight="normal" font-style="normal" fill="#000" font-family='"Liberation Sans", sans-serif' textLength="26.72" lengthAdjust="spacingAndGlyphs" >38.8</text></g>
</g>
<path d="M402.50 218.70h3.70 M660.20 218.70h-3.70 M402.50 211.00h3.70 M660.20 211.00h-3.70 M402.50 203.30h3.70 M660.20 203.30h-3.70 M402.50 195.60h6.60 M660.20 195.60h-6.60 M402.50 187.90h3.70 M660.20 187.90h-3.70 M402.50 180.20h3.70 M660.20 180.20h-3.70 M402.50 172.50h3.70 M660.20 172.50h-3.70 M402.50 164.80h3.70 M660.20 164.80h-3.70 M402.50 157.10h6.60 M660.20 157.10h-6.60 M402.50 149.40h3.70 M660.20 149.40h-3.70 M402.50 141.70h3.70 M660.20 141.70h-3.70 M402.50 134.00h3.70 M660.20 134.00h-3.70 M402.50 126.30h3.70 M660.20 126.30h-3.70 M402.50 118.60h6.60 M660.20 118.60h-6.60 M402.50 110.90h3.70 M660.20 110.90h-3.70 M402.50 103.20h3.70 M660.20 103.20h-3.70 M402.50 95.50h3.70 M660.20 95.50h-3.70 M402.50 87.80h3.70 M660.20 87.80h-3.70 M402.50 80.10h6.60 M660.20 80.10h-6.60 M402.50 72.40h3.70 M660.20 72.40h-3.70 M402.50 64.70h3.70 M660.20 64.70h-3.70 M420.30 226.20v-3.80 M420.30 60.80v3.80 M454.60 226.20v-7.00 M454.60 60.80v7.00 M488.90 226.20v-3.80 M488.90 60.80v3.80 M523.20 226.20v-7.00 M523.20 60.80v7.00 M557.50 226.20v-3.80 M557.50 60.80v3.80 M591.80 226.20v-7.00 M591.80 60.80v7.00 M626.10 226.20v-3.80 M626.10 60.80v3.80" stroke="#000" stroke-width="1.3" fill="none"/>
<rect x="402.50" y="60.80" width="257.70" height="165.40" fill="none" stroke="#000" stroke-width="1.5"/>
<g shape-rendering="crispEdges"><rect x="441.10" y="57.00" width="7.00" height="8.70" fill="#ff0000"/>
<rect x="448.10" y="57.00" width="6.90" height="8.70" fill="#ff0000"/>
<rect x="455.00" y="57.00" width="6.70" height="8.70" fill="#ff0000"/>
<rect x="461.70" y="57.00" width="8.50" height="8.70" fill="#66ff00"/>
<rect x="470.20" y="57.00" width="8.70" height="8.70" fill="#66ff00"/>
<rect x="478.90" y="57.00" width="7.00" height="8.70" fill="#0099ff"/>
<rect x="485.90" y="57.00" width="6.70" height="8.70" fill="#0000ff"/>
<rect x="492.60" y="57.00" width="6.70" height="8.70" fill="#0000ff"/>
<rect x="499.30" y="57.00" width="7.00" height="8.70" fill="#0000ff"/>
<rect x="506.30" y="57.00" width="6.60" height="8.70" fill="#0000ff"/>
<rect x="512.90" y="57.00" width="7.60" height="8.70" fill="#0000ff"/>
<rect x="520.50" y="57.00" width="7.20" height="8.70" fill="#0033ff"/>
<rect x="527.70" y="57.00" width="8.70" height="8.70" fill="#00ffa8"/>
<rect x="536.40" y="57.00" width="7.70" height="8.70" fill="#00ff24"/>
<rect x="544.10" y="57.00" width="6.80" height="8.70" fill="#99ff00"/>
<rect x="550.90" y="57.00" width="6.70" height="8.70" fill="#99ff00"/>
<rect x="557.60" y="57.00" width="6.70" height="8.70" fill="#00ff00"/>
<rect x="564.30" y="57.00" width="7.20" height="8.70" fill="#0099ff"/>
<rect x="571.50" y="57.00" width="6.70" height="8.70" fill="#0033ff"/>
<rect x="578.20" y="57.00" width="7.30" height="8.70" fill="#0000ff"/>
<rect x="585.50" y="57.00" width="6.70" height="8.70" fill="#0000ff"/>
<rect x="592.20" y="57.00" width="6.70" height="8.70" fill="#0033ff"/>
<rect x="598.90" y="57.00" width="7.20" height="8.70" fill="#0033ff"/>
<rect x="606.10" y="57.00" width="6.30" height="8.70" fill="#0000ff"/>
<rect x="612.40" y="57.00" width="6.30" height="8.70" fill="#0000ff"/>
<rect x="618.70" y="57.00" width="6.50" height="8.70" fill="#0000ff"/>
<rect x="625.20" y="57.00" width="6.90" height="8.70" fill="#0000ff"/>
<rect x="632.10" y="57.00" width="6.80" height="8.70" fill="#0000ff"/>
<rect x="638.90" y="57.00" width="5.80" height="8.70" fill="#0000ff"/>
<rect x="644.70" y="57.00" width="5.70" height="8.70" fill="#0000ff"/>
<rect x="650.40" y="57.00" width="6.30" height="8.70" fill="#0000ff"/>
<rect x="656.70" y="57.00" width="6.30" height="8.70" fill="#0000ff"/>
<rect x="499.30" y="65.70" width="7.00" height="7.70" fill="#0000ff"/>
<rect x="506.30" y="65.70" width="6.60" height="7.70" fill="#0000ff"/>
<rect x="512.90" y="65.70" width="7.60" height="7.70" fill="#0000ff"/>
<rect x="520.50" y="65.70" width="7.20" height="7.70" fill="#00ccff"/>
<rect x="527.70" y="65.70" width="8.70" height="7.70" fill="#00ff47"/>
<rect x="536.40" y="65.70" width="7.70" height="7.70" fill="#00ff00"/>
<rect x="544.10" y="65.70" width="6.80" height="7.70" fill="#00ff00"/>
<rect x="550.90" y="65.70" width="6.70" height="7.70" fill="#00ff24"/>
<rect x="557.60" y="65.70" width="6.70" height="7.70" fill="#00fff0"/>
<rect x="564.30" y="65.70" width="7.20" height="7.70" fill="#0000ff"/>
<rect x="571.50" y="65.70" width="6.70" height="7.70" fill="#0000ff"/>
<rect x="578.20" y="65.70" width="7.30" height="7.70" fill="#0000ff"/>
<rect x="585.50" y="65.70" width="6.70" height="7.70" fill="#0000ff"/>
<rect x="592.20" y="65.70" width="6.70" height="7.70" fill="#0033ff"/>
<rect x="598.90" y="65.70" width="7.20" height="7.70" fill="#0066ff"/>
<rect x="606.10" y="65.70" width="6.30" height="7.70" fill="#0066ff"/>
<rect x="612.40" y="65.70" width="6.30" height="7.70" fill="#0066ff"/>
<rect x="625.20" y="65.70" width="6.90" height="7.70" fill="#0000ff"/>
<rect x="632.10" y="65.70" width="6.80" height="7.70" fill="#0000ff"/>
<rect x="638.90" y="65.70" width="5.80" height="7.70" fill="#0000ff"/>
<rect x="427.40" y="73.40" width="7.00" height="7.70" fill="#00ccff"/>
<rect x="434.40" y="73.40" width="6.70" height="7.70" fill="#00ccff"/>
<rect x="499.30" y="73.40" width="7.00" height="7.70" fill="#0000ff"/>
<rect x="506.30" y="73.40" width="6.60" height="7.70" fill="#0000ff"/>
<rect x="512.90" y="73.40" width="7.60" height="7.70" fill="#0066ff"/>
<rect x="520.50" y="73.40" width="7.20" height="7.70" fill="#00ccff"/>
<rect x="527.70" y="73.40" width="8.70" height="7.70" fill="#00ff66"/>
<rect x="536.40" y="73.40" width="7.70" height="7.70" fill="#00ffa8"/>
<rect x="544.10" y="73.40" width="6.80" height="7.70" fill="#00fff0"/>
<rect x="550.90" y="73.40" width="6.70" height="7.70" fill="#0099ff"/>
<rect x="557.60" y="73.40" width="6.70" height="7.70" fill="#0000ff"/>
<rect x="564.30" y="73.40" width="7.20" height="7.70" fill="#0000ff"/>
<rect x="571.50" y="73.40" width="6.70" height="7.70" fill="#0000ff"/>
<rect x="578.20" y="73.40" width="7.30" height="7.70" fill="#0000ff"/>
<rect x="585.50" y="73.40" width="6.70" height="7.70" fill="#0000ff"/>
<rect x="592.20" y="73.40" width="6.70" height="7.70" fill="#0033ff"/>
<rect x="598.90" y="73.40" width="7.20" height="7.70" fill="#0033ff"/>
<rect x="606.10" y="73.40" width="6.30" height="7.70" fill="#0033ff"/>
<rect x="612.40" y="73.40" width="6.30" height="7.70" fill="#0000ff"/>
<rect x="618.70" y="73.40" width="6.50" height="7.70" fill="#0000ff"/>
<rect x="625.20" y="73.40" width="6.90" height="4.90" fill="#0000ff"/>
<rect x="632.10" y="73.40" width="6.80" height="4.90" fill="#0000ff"/>
<rect x="638.90" y="73.40" width="5.80" height="4.90" fill="#0000ff"/>
<rect x="413.50" y="81.10" width="6.90" height="7.70" fill="#0000ff"/>
<rect x="420.40" y="81.10" width="7.00" height="7.70" fill="#0000ff"/>
<rect x="427.40" y="81.10" width="7.00" height="7.70" fill="#0000ff"/>
<rect x="434.40" y="81.10" width="6.70" height="7.70" fill="#0000ff"/>
<rect x="441.10" y="81.10" width="7.00" height="7.70" fill="#0000ff"/>
<rect x="448.10" y="81.10" width="6.90" height="7.70" fill="#0000ff"/>
<rect x="455.00" y="81.10" width="6.70" height="7.70" fill="#0000ff"/>
<rect x="461.70" y="81.10" width="8.50" height="7.70" fill="#0000ff"/>
<rect x="470.20" y="81.10" width="8.70" height="7.70" fill="#0000ff"/>
<rect x="478.90" y="81.10" width="7.00" height="7.70" fill="#0000ff"/>
<rect x="485.90" y="81.10" width="6.70" height="7.70" fill="#0000ff"/>
<rect x="499.30" y="81.10" width="7.00" height="7.70" fill="#0000ff"/>
<rect x="506.30" y="81.10" width="6.60" height="7.70" fill="#0000ff"/>
<rect x="512.90" y="81.10" width="7.60" height="7.70" fill="#0033ff"/>
<rect x="520.50" y="81.10" width="7.20" height="7.70" fill="#0099ff"/>
<rect x="527.70" y="81.10" width="8.70" height="7.70" fill="#00ccff"/>
<rect x="536.40" y="81.10" width="7.70" height="7.70" fill="#00ccff"/>
<rect x="544.10" y="81.10" width="6.80" height="7.70" fill="#00fff0"/>
<rect x="550.90" y="81.10" width="6.70" height="7.70" fill="#00ccff"/>
<rect x="557.60" y="81.10" width="6.70" height="7.70" fill="#00ccff"/>
<rect x="564.30" y="81.10" width="7.20" height="7.70" fill="#0033ff"/>
<rect x="571.50" y="81.10" width="6.70" height="7.70" fill="#0000ff"/>
<rect x="578.20" y="81.10" width="7.30" height="7.70" fill="#0000ff"/>
<rect x="585.50" y="81.10" width="6.70" height="7.70" fill="#0000ff"/>
<rect x="592.20" y="81.10" width="6.70" height="7.70" fill="#0000ff"/>
<rect x="598.90" y="81.10" width="7.20" height="7.70" fill="#0033ff"/>
<rect x="606.10" y="81.10" width="6.30" height="7.70" fill="#0033ff"/>
<rect x="612.40" y="81.10" width="6.30" height="7.70" fill="#0000ff"/>
<rect x="618.70" y="81.10" width="6.50" height="7.70" fill="#0000ff"/>
<rect x="399.40" y="88.80" width="7.10" height="7.80" fill="#0000ff"/>
<rect x="406.50" y="88.80" width="7.00" height="7.80" fill="#0000ff"/>
<rect x="413.50" y="88.80" width="6.90" height="7.80" fill="#0000ff"/>
<rect x="420.40" y="88.80" width="7.00" height="7.80" fill="#0000ff"/>
<rect x="427.40" y="88.80" width="7.00" height="7.80" fill="#0000ff"/>
<rect x="434.40" y="88.80" width="6.70" height="7.80" fill="#0000ff"/>
<rect x="441.10" y="88.80" width="7.00" height="7.80" fill="#0000ff"/>
<rect x="448.10" y="88.80" width="6.90" height="7.80" fill="#0000ff"/>
<rect x="455.00" y="88.80" width="6.70" height="7.80" fill="#0000ff"/>
<rect x="461.70" y="88.80" width="8.50" height="7.80" fill="#0000ff"/>
<rect x="470.20" y="88.80" width="8.70" height="7.80" fill="#0000ff"/>
<rect x="478.90" y="88.80" width="7.00" height="7.80" fill="#0000ff"/>
<rect x="485.90" y="88.80" width="6.70" height="7.80" fill="#0000ff"/>
<rect x="492.60" y="88.80" width="6.70" height="7.80" fill="#0000ff"/>
<rect x="499.30" y="88.80" width="7.00" height="7.80" fill="#0000ff"/>
<rect x="506.30" y="88.80" width="6.60" height="7.80" fill="#0000ff"/>
<rect x="512.90" y="88.80" width="7.60" height="7.80" fill="#0000ff"/>
<rect x="520.50" y="88.80" width="7.20" height="7.80" fill="#0099ff"/>
<rect x="527.70" y="88.80" width="8.70" height="7.80" fill="#00ff66"/>
<rect x="536.40" y="88.80" width="7.70" height="7.80" fill="#66ff00"/>
<rect x="544.10" y="88.80" width="6.80" height="7.80" fill="#ffcc00"/>
<rect x="550.90" y="88.80" width="6.70" height="7.80" fill="#ff6600"/>
<rect x="557.60" y="88.80" width="6.70" height="7.80" fill="#ff6600"/>
<rect x="564.30" y="88.80" width="7.20" height="7.80" fill="#00ff00"/>
<rect x="571.50" y="88.80" width="6.70" height="7.80" fill="#00ffa8"/>
<rect x="578.20" y="88.80" width="7.30" height="7.80" fill="#0099ff"/>
<rect x="585.50" y="88.80" width="6.70" height="7.80" fill="#0099ff"/>
<rect x="592.20" y="88.80" width="6.70" height="7.80" fill="#00ccff"/>
<rect x="598.90" y="88.80" width="7.20" height="7.80" fill="#00ccff"/>
<rect x="606.10" y="88.80" width="6.30" height="7.80" fill="#0099ff"/>
<rect x="612.40" y="88.80" width="6.30" height="7.80" fill="#0033ff"/>
<rect x="618.70" y="88.80" width="6.50" height="7.80" fill="#0033ff"/>
<rect x="399.40" y="96.60" width="7.10" height="7.70" fill="#0000ff"/>
<rect x="406.50" y="96.60" width="7.00" height="7.70" fill="#0000ff"/>
<rect x="413.50" y="96.60" width="6.90" height="7.70" fill="#0000ff"/>
<rect x="420.40" y="96.60" width="7.00" height="7.70" fill="#0000ff"/>
<rect x="427.40" y="96.60" width="7.00" height="7.70" fill="#0000ff"/>
<rect x="434.40" y="96.60" width="6.70" height="7.70" fill="#0000ff"/>
<rect x="441.10" y="96.60" width="7.00" height="7.70" fill="#0000ff"/>
<rect x="448.10" y="96.60" width="6.90" height="7.70" fill="#0000ff"/>
<rect x="455.00" y="96.60" width="6.70" height="7.70" fill="#0000ff"/>
<rect x="461.70" y="96.60" width="8.50" height="7.70" fill="#0000ff"/>
<rect x="470.20" y="96.60" width="8.70" height="7.70" fill="#0000ff"/>
<rect x="478.90" y="96.60" width="7.00" height="7.70" fill="#0000ff"/>
<rect x="485.90" y="96.60" width="6.70" height="7.70" fill="#0000ff"/>
<rect x="492.60" y="96.60" width="6.70" height="7.70" fill="#0000ff"/>
<rect x="499.30" y="96.60" width="7.00" height="7.70" fill="#0000ff"/>
<rect x="506.30" y="96.60" width="6.60" height="7.70" fill="#0000ff"/>
<rect x="512.90" y="96.60" width="7.60" height="7.70" fill="#0099ff"/>
<rect x="520.50" y="96.60" width="7.20" height="7.70" fill="#00ff00"/>
<rect x="527.70" y="96.60" width="8.70" height="7.70" fill="#ff9900"/>
<rect x="536.40" y="96.60" width="7.70" height="7.70" fill="#ff0000"/>
<rect x="544.10" y="96.60" width="6.80" height="7.70" fill="#ff0000"/>
<rect x="550.90" y="96.60" width="6.70" height="7.70" fill="#ff0000"/>
<rect x="557.60" y="96.60" width="6.70" height="7.70" fill="#ff0000"/>
<rect x="564.30" y="96.60" width="7.20" height="7.70" fill="#ff6600"/>
<rect x="571.50" y="96.60" width="6.70" height="7.70" fill="#99ff00"/>
<rect x="578.20" y="96.60" width="7.30" height="7.70" fill="#00ff24"/>
<rect x="585.50" y="96.60" width="6.70" height="7.70" fill="#00ff24"/>
<rect x="592.20" y="96.60" width="6.70" height="7.70" fill="#00ff24"/>
<rect x="598.90" y="96.60" width="7.20" height="7.70" fill="#00ff47"/>
<rect x="606.10" y="96.60" width="6.30" height="7.70" fill="#00ff66"/>
<rect x="612.40" y="96.60" width="6.30" height="7.70" fill="#00ccff"/>
<rect x="618.70" y="96.60" width="6.50" height="7.70" fill="#00ccff"/>
<rect x="399.40" y="104.30" width="7.10" height="7.80" fill="#0000ff"/>
<rect x="406.50" y="104.30" width="7.00" height="7.80" fill="#0000ff"/>
<rect x="413.50" y="104.30" width="6.90" height="7.80" fill="#0000ff"/>
<rect x="420.40" y="104.30" width="7.00" height="7.80" fill="#0000ff"/>
<rect x="427.40" y="104.30" width="7.00" height="7.80" fill="#0000ff"/>
<rect x="434.40" y="104.30" width="6.70" height="7.80" fill="#0000ff"/>
<rect x="441.10" y="104.30" width="7.00" height="7.80" fill="#0000ff"/>
<rect x="448.10" y="104.30" width="6.90" height="7.80" fill="#0000ff"/>
<rect x="455.00" y="104.30" width="6.70" height="7.80" fill="#0000ff"/>
<rect x="461.70" y="104.30" width="8.50" height="7.80" fill="#0000ff"/>
<rect x="470.20" y="104.30" width="8.70" height="7.80" fill="#0000ff"/>
<rect x="478.90" y="104.30" width="7.00" height="7.80" fill="#0000ff"/>
<rect x="485.90" y="104.30" width="6.70" height="7.80" fill="#0000ff"/>
<rect x="492.60" y="104.30" width="6.70" height="7.80" fill="#0000ff"/>
<rect x="499.30" y="104.30" width="7.00" height="7.80" fill="#0000ff"/>
<rect x="506.30" y="104.30" width="6.60" height="7.80" fill="#0000ff"/>
<rect x="512.90" y="104.30" width="7.60" height="7.80" fill="#00ff24"/>
<rect x="520.50" y="104.30" width="7.20" height="7.80" fill="#ffff00"/>
<rect x="527.70" y="104.30" width="8.70" height="7.80" fill="#ff0000"/>
<rect x="536.40" y="104.30" width="7.70" height="7.80" fill="#ff0000"/>
<rect x="544.10" y="104.30" width="6.80" height="7.80" fill="#ff0000"/>
<rect x="550.90" y="104.30" width="6.70" height="7.80" fill="#ff0000"/>
<rect x="557.60" y="104.30" width="6.70" height="7.80" fill="#ff3300"/>
<rect x="564.30" y="104.30" width="7.20" height="7.80" fill="#99ff00"/>
<rect x="571.50" y="104.30" width="6.70" height="7.80" fill="#33ff00"/>
<rect x="578.20" y="104.30" width="7.30" height="7.80" fill="#00ff00"/>
<rect x="585.50" y="104.30" width="6.70" height="7.80" fill="#99ff00"/>
<rect x="592.20" y="104.30" width="6.70" height="7.80" fill="#ccff00"/>
<rect x="598.90" y="104.30" width="7.20" height="7.80" fill="#ccff00"/>
<rect x="606.10" y="104.30" width="6.30" height="7.80" fill="#00ff00"/>
<rect x="612.40" y="104.30" width="6.30" height="7.80" fill="#00ffa8"/>
<rect x="618.70" y="104.30" width="6.50" height="7.80" fill="#00ffa8"/>
<rect x="399.40" y="112.10" width="7.10" height="7.60" fill="#0066ff"/>
<rect x="406.50" y="112.10" width="7.00" height="7.60" fill="#0000ff"/>
<rect x="413.50" y="112.10" width="6.90" height="7.60" fill="#0000ff"/>
<rect x="420.40" y="112.10" width="7.00" height="7.60" fill="#0000ff"/>
<rect x="427.40" y="112.10" width="7.00" height="7.60" fill="#0000ff"/>
<rect x="434.40" y="112.10" width="6.70" height="7.60" fill="#0000ff"/>
<rect x="441.10" y="112.10" width="7.00" height="7.60" fill="#0000ff"/>
<rect x="448.10" y="112.10" width="6.90" height="7.60" fill="#0000ff"/>
<rect x="455.00" y="112.10" width="6.70" height="7.60" fill="#0000ff"/>
<rect x="461.70" y="112.10" width="8.50" height="7.60" fill="#0000ff"/>
<rect x="470.20" y="112.10" width="8.70" height="7.60" fill="#0000ff"/>
<rect x="478.90" y="112.10" width="7.00" height="7.60" fill="#0000ff"/>
<rect x="485.90" y="112.10" width="6.70" height="7.60" fill="#0000ff"/>
<rect x="492.60" y="112.10" width="6.70" height="7.60" fill="#0000ff"/>
<rect x="499.30" y="112.10" width="7.00" height="7.60" fill="#0000ff"/>
<rect x="506.30" y="112.10" width="6.60" height="7.60" fill="#00ff24"/>
<rect x="512.90" y="112.10" width="7.60" height="7.60" fill="#ff0000"/>
<rect x="520.50" y="112.10" width="7.20" height="7.60" fill="#ff0000"/>
<rect x="527.70" y="112.10" width="8.70" height="7.60" fill="#ff3300"/>
<rect x="536.40" y="112.10" width="7.70" height="7.60" fill="#99ff00"/>
<rect x="544.10" y="112.10" width="6.80" height="7.60" fill="#00ff00"/>
<rect x="550.90" y="112.10" width="6.70" height="7.60" fill="#00ff24"/>
<rect x="557.60" y="112.10" width="6.70" height="7.60" fill="#00ff66"/>
<rect x="564.30" y="112.10" width="7.20" height="7.60" fill="#00ff66"/>
<rect x="571.50" y="112.10" width="6.70" height="7.60" fill="#00ff66"/>
<rect x="578.20" y="112.10" width="7.30" height="7.60" fill="#00ff47"/>
<rect x="585.50" y="112.10" width="6.70" height="7.60" fill="#00ff00"/>
<rect x="592.20" y="112.10" width="6.70" height="7.60" fill="#ccff00"/>
<rect x="598.90" y="112.10" width="7.20" height="7.60" fill="#ff9900"/>
<rect x="606.10" y="112.10" width="6.30" height="7.60" fill="#ffff00"/>
<rect x="612.40" y="112.10" width="6.30" height="7.60" fill="#00ff66"/>
<rect x="618.70" y="112.10" width="6.50" height="7.60" fill="#00ff66"/>
<rect x="399.40" y="119.70" width="7.10" height="7.70" fill="#0099ff"/>
<rect x="406.50" y="119.70" width="7.00" height="7.70" fill="#0000ff"/>
<rect x="413.50" y="119.70" width="6.90" height="7.70" fill="#0000ff"/>
<rect x="420.40" y="119.70" width="7.00" height="7.70" fill="#0000ff"/>
<rect x="427.40" y="119.70" width="7.00" height="7.70" fill="#0000ff"/>
<rect x="434.40" y="119.70" width="6.70" height="7.70" fill="#0000ff"/>
<rect x="441.10" y="119.70" width="7.00" height="7.70" fill="#0000ff"/>
<rect x="448.10" y="119.70" width="6.90" height="7.70" fill="#0000ff"/>
<rect x="455.00" y="119.70" width="6.70" height="7.70" fill="#0000ff"/>
<rect x="461.70" y="119.70" width="8.50" height="7.70" fill="#0000ff"/>
<rect x="470.20" y="119.70" width="8.70" height="7.70" fill="#0000ff"/>
<rect x="478.90" y="119.70" width="7.00" height="7.70" fill="#0000ff"/>
<rect x="485.90" y="119.70" width="6.70" height="7.70" fill="#0000ff"/>
<rect x="492.60" y="119.70" width="6.70" height="7.70" fill="#0033ff"/>
<rect x="499.30" y="119.70" width="7.00" height="7.70" fill="#00ff66"/>
<rect x="506.30" y="119.70" width="6.60" height="7.70" fill="#ff0000"/>
<rect x="512.90" y="119.70" width="7.60" height="7.70" fill="#ff0000"/>
<rect x="520.50" y="119.70" width="7.20" height="7.70" fill="#ff0000"/>
<rect x="527.70" y="119.70" width="8.70" height="7.70" fill="#00ccff"/>
<rect x="536.40" y="119.70" width="7.70" height="7.70" fill="#0066ff"/>
<rect x="544.10" y="119.70" width="6.80" height="7.70" fill="#0099ff"/>
<rect x="550.90" y="119.70" width="6.70" height="7.70" fill="#00ccff"/>
<rect x="557.60" y="119.70" width="6.70" height="7.70" fill="#00ffa8"/>
<rect x="564.30" y="119.70" width="7.20" height="7.70" fill="#00ffa8"/>
<rect x="571.50" y="119.70" width="6.70" height="7.70" fill="#00ff66"/>
<rect x="578.20" y="119.70" width="7.30" height="7.70" fill="#00ff66"/>
<rect x="585.50" y="119.70" width="6.70" height="7.70" fill="#00ff47"/>
<rect x="592.20" y="119.70" width="6.70" height="7.70" fill="#ccff00"/>
<rect x="598.90" y="119.70" width="7.20" height="7.70" fill="#ff6600"/>
<rect x="606.10" y="119.70" width="6.30" height="7.70" fill="#ff0000"/>
<rect x="612.40" y="119.70" width="6.30" height="7.70" fill="#00ff24"/>
<rect x="618.70" y="119.70" width="6.50" height="7.70" fill="#00ffa8"/>
<rect x="625.20" y="119.70" width="6.90" height="7.70" fill="#00ccff"/>
<rect x="632.10" y="119.70" width="6.80" height="7.70" fill="#00ccff"/>
<rect x="638.90" y="119.70" width="5.80" height="7.70" fill="#00ccff"/>
<rect x="644.70" y="119.70" width="5.70" height="7.70" fill="#00ccff"/>
<rect x="650.40" y="119.70" width="6.30" height="7.70" fill="#00ccff"/>
<rect x="656.70" y="119.70" width="6.30" height="7.70" fill="#00ccff"/>
<rect x="399.40" y="127.40" width="7.10" height="4.80" fill="#0099ff"/>
<rect x="406.50" y="127.40" width="7.00" height="7.80" fill="#0000ff"/>
<rect x="413.50" y="127.40" width="6.90" height="7.80" fill="#0000ff"/>
<rect x="420.40" y="127.40" width="7.00" height="7.80" fill="#0000ff"/>
<rect x="427.40" y="127.40" width="7.00" height="7.80" fill="#0000ff"/>
<rect x="434.40" y="127.40" width="6.70" height="7.80" fill="#0000ff"/>
<rect x="441.10" y="127.40" width="7.00" height="7.80" fill="#0000ff"/>
<rect x="448.10" y="127.40" width="6.90" height="7.80" fill="#0000ff"/>
<rect x="455.00" y="127.40" width="6.70" height="7.80" fill="#0000ff"/>
<rect x="461.70" y="127.40" width="8.50" height="7.80" fill="#0000ff"/>
<rect x="470.20" y="127.40" width="8.70" height="7.80" fill="#0000ff"/>
<rect x="478.90" y="127.40" width="7.00" height="7.80" fill="#0000ff"/>
<rect x="485.90" y="127.40" width="6.70" height="7.80" fill="#0000ff"/>
<rect x="492.60" y="127.40" width="6.70" height="7.80" fill="#0066ff"/>
<rect x="499.30" y="127.40" width="7.00" height="7.80" fill="#00ff47"/>
<rect x="506.30" y="127.40" width="6.60" height="7.80" fill="#ff0000"/>
<rect x="512.90" y="127.40" width="7.60" height="7.80" fill="#ff0000"/>
<rect x="520.50" y="127.40" width="7.20" height="7.80" fill="#ffff00"/>
<rect x="527.70" y="127.40" width="8.70" height="7.80" fill="#0066ff"/>
<rect x="536.40" y="127.40" width="7.70" height="7.80" fill="#0066ff"/>
<rect x="544.10" y="127.40" width="6.80" height="7.80" fill="#00fff0"/>
<rect x="550.90" y="127.40" width="6.70" height="7.80" fill="#00fff0"/>
<rect x="557.60" y="127.40" width="6.70" height="7.80" fill="#00ffa8"/>
<rect x="564.30" y="127.40" width="7.20" height="7.80" fill="#00ff66"/>
<rect x="571.50" y="127.40" width="6.70" height="7.80" fill="#00ff47"/>
<rect x="578.20" y="127.40" width="7.30" height="7.80" fill="#00ff00"/>
<rect x="585.50" y="127.40" width="6.70" height="7.80" fill="#33ff00"/>
<rect x="592.20" y="127.40" width="6.70" height="7.80" fill="#ffff00"/>
<rect x="598.90" y="127.40" width="7.20" height="7.80" fill="#ffcc00"/>
<rect x="606.10" y="127.40" width="6.30" height="7.80" fill="#ffff00"/>
<rect x="612.40" y="127.40" width="6.30" height="7.80" fill="#00ff24"/>
<rect x="618.70" y="127.40" width="6.50" height="7.80" fill="#00ffa8"/>
<rect x="625.20" y="127.40" width="6.90" height="7.80" fill="#00fff0"/>
<rect x="632.10" y="127.40" width="6.80" height="7.80" fill="#0099ff"/>
<rect x="638.90" y="127.40" width="5.80" height="7.80" fill="#0099ff"/>
<rect x="644.70" y="127.40" width="5.70" height="7.80" fill="#0099ff"/>
<rect x="650.40" y="127.40" width="6.30" height="7.80" fill="#0033ff"/>
<rect x="656.70" y="127.40" width="6.30" height="7.80" fill="#0033ff"/>
<rect x="406.50" y="135.20" width="7.00" height="4.90" fill="#0000ff"/>
<rect x="413.50" y="135.20" width="6.90" height="4.90" fill="#0000ff"/>
<rect x="420.40" y="135.20" width="7.00" height="4.90" fill="#0000ff"/>
<rect x="427.40" y="135.20" width="7.00" height="4.90" fill="#0000ff"/>
<rect x="434.40" y="135.20" width="6.70" height="7.60" fill="#0000ff"/>
<rect x="441.10" y="135.20" width="7.00" height="7.60" fill="#0000ff"/>
<rect x="448.10" y="135.20" width="6.90" height="7.60" fill="#0000ff"/>
<rect x="455.00" y="135.20" width="6.70" height="7.60" fill="#0000ff"/>
<rect x="461.70" y="135.20" width="8.50" height="7.60" fill="#0000ff"/>
<rect x="470.20" y="135.20" width="8.70" height="7.60" fill="#0033ff"/>
<rect x="478.90" y="135.20" width="7.00" height="7.60" fill="#0000ff"/>
<rect x="485.90" y="135.20" width="6.70" height="7.60" fill="#0000ff"/>
<rect x="492.60" y="135.20" width="6.70" height="7.60" fill="#0066ff"/>
<rect x="499.30" y="135.20" width="7.00" height="7.60" fill="#00fff0"/>
<rect x="506.30" y="135.20" width="6.60" height="7.60" fill="#ccff00"/>
<rect x="512.90" y="135.20" width="7.60" height="7.60" fill="#66ff00"/>
<rect x="520.50" y="135.20" width="7.20" height="7.60" fill="#00ff47"/>
<rect x="527.70" y="135.20" width="8.70" height="7.60" fill="#0033ff"/>
<rect x="536.40" y="135.20" width="7.70" height="7.60" fill="#0066ff"/>
<rect x="544.10" y="135.20" width="6.80" height="7.60" fill="#00fff0"/>
<rect x="550.90" y="135.20" width="6.70" height="7.60" fill="#00fff0"/>
<rect x="557.60" y="135.20" width="6.70" height="7.60" fill="#00fff0"/>
<rect x="564.30" y="135.20" width="7.20" height="7.60" fill="#00ffa8"/>
<rect x="571.50" y="135.20" width="6.70" height="7.60" fill="#00ffa8"/>
<rect x="578.20" y="135.20" width="7.30" height="7.60" fill="#33ff00"/>
<rect x="585.50" y="135.20" width="6.70" height="7.60" fill="#ff9900"/>
<rect x="592.20" y="135.20" width="6.70" height="7.60" fill="#ff9900"/>
<rect x="598.90" y="135.20" width="7.20" height="7.60" fill="#ff9900"/>
<rect x="606.10" y="135.20" width="6.30" height="7.60" fill="#ccff00"/>
<rect x="612.40" y="135.20" width="6.30" height="7.60" fill="#00ff00"/>
<rect x="618.70" y="135.20" width="6.50" height="7.60" fill="#00ff47"/>
<rect x="625.20" y="135.20" width="6.90" height="7.60" fill="#00ffa8"/>
<rect x="632.10" y="135.20" width="6.80" height="7.60" fill="#0099ff"/>
<rect x="638.90" y="135.20" width="5.80" height="7.60" fill="#0099ff"/>
<rect x="644.70" y="135.20" width="5.70" height="7.60" fill="#0099ff"/>
<rect x="650.40" y="135.20" width="6.30" height="7.60" fill="#0000ff"/>
<rect x="656.70" y="135.20" width="6.30" height="7.60" fill="#0000ff"/>
<rect x="434.40" y="142.80" width="6.70" height="5.20" fill="#0000ff"/>
<rect x="441.10" y="142.80" width="7.00" height="5.20" fill="#0000ff"/>
<rect x="448.10" y="142.80" width="6.90" height="5.20" fill="#0000ff"/>
<rect x="455.00" y="142.80" width="6.70" height="5.20" fill="#0000ff"/>
<rect x="461.70" y="142.80" width="8.50" height="5.20" fill="#0000ff"/>
<rect x="470.20" y="142.80" width="8.70" height="6.00" fill="#0066ff"/>
<rect x="478.90" y="142.80" width="7.00" height="7.70" fill="#0066ff"/>
<rect x="485.90" y="142.80" width="6.70" height="7.70" fill="#0066ff"/>
<rect x="492.60" y="142.80" width="6.70" height="7.70" fill="#0066ff"/>
<rect x="499.30" y="142.80" width="7.00" height="7.70" fill="#0099ff"/>
<rect x="506.30" y="142.80" width="6.60" height="7.70" fill="#00ff66"/>
<rect x="512.90" y="142.80" width="7.60" height="7.70" fill="#00ff66"/>
<rect x="520.50" y="142.80" width="7.20" height="7.70" fill="#00fff0"/>
<rect x="527.70" y="142.80" width="8.70" height="7.70" fill="#0099ff"/>
<rect x="536.40" y="142.80" width="7.70" height="7.70" fill="#0066ff"/>
<rect x="544.10" y="142.80" width="6.80" height="7.70" fill="#00ccff"/>
<rect x="550.90" y="142.80" width="6.70" height="7.70" fill="#00ccff"/>
<rect x="557.60" y="142.80" width="6.70" height="7.70" fill="#00ffa8"/>
<rect x="564.30" y="142.80" width="7.20" height="7.70" fill="#00ff66"/>
<rect x="571.50" y="142.80" width="6.70" height="7.70" fill="#00ff00"/>
<rect x="578.20" y="142.80" width="7.30" height="7.70" fill="#ffff00"/>
<rect x="585.50" y="142.80" width="6.70" height="7.70" fill="#ff3300"/>
<rect x="592.20" y="142.80" width="6.70" height="7.70" fill="#ff6600"/>
<rect x="598.90" y="142.80" width="7.20" height="7.70" fill="#ff9900"/>
<rect x="606.10" y="142.80" width="6.30" height="7.70" fill="#ccff00"/>
<rect x="612.40" y="142.80" width="6.30" height="7.70" fill="#33ff00"/>
<rect x="618.70" y="142.80" width="6.50" height="7.70" fill="#00ff00"/>
<rect x="625.20" y="142.80" width="6.90" height="7.70" fill="#00ff66"/>
<rect x="632.10" y="142.80" width="6.80" height="7.70" fill="#00fff0"/>
<rect x="638.90" y="142.80" width="5.80" height="7.70" fill="#00fff0"/>
<rect x="644.70" y="142.80" width="5.70" height="7.70" fill="#00fff0"/>
<rect x="650.40" y="142.80" width="6.30" height="7.70" fill="#0033ff"/>
<rect x="656.70" y="142.80" width="6.30" height="7.70" fill="#0033ff"/>
<rect x="478.90" y="150.50" width="7.00" height="7.60" fill="#0033ff"/>
<rect x="485.90" y="150.50" width="6.70" height="7.60" fill="#0066ff"/>
<rect x="492.60" y="150.50" width="6.70" height="7.60" fill="#0033ff"/>
<rect x="499.30" y="150.50" width="7.00" height="7.60" fill="#0033ff"/>
<rect x="506.30" y="150.50" width="6.60" height="7.60" fill="#00ccff"/>
<rect x="512.90" y="150.50" width="7.60" height="7.60" fill="#00ffa8"/>
<rect x="520.50" y="150.50" width="7.20" height="7.60" fill="#00fff0"/>
<rect x="527.70" y="150.50" width="8.70" height="7.60" fill="#0099ff"/>
<rect x="536.40" y="150.50" width="7.70" height="7.60" fill="#0066ff"/>
<rect x="544.10" y="150.50" width="6.80" height="7.60" fill="#00ccff"/>
<rect x="550.90" y="150.50" width="6.70" height="7.60" fill="#00fff0"/>
<rect x="557.60" y="150.50" width="6.70" height="7.60" fill="#00ff66"/>
<rect x="564.30" y="150.50" width="7.20" height="7.60" fill="#99ff00"/>
<rect x="571.50" y="150.50" width="6.70" height="7.60" fill="#ff9900"/>
<rect x="578.20" y="150.50" width="7.30" height="7.60" fill="#ff0000"/>
<rect x="585.50" y="150.50" width="6.70" height="7.60" fill="#ff0000"/>
<rect x="592.20" y="150.50" width="6.70" height="7.60" fill="#ff9900"/>
<rect x="598.90" y="150.50" width="7.20" height="7.60" fill="#ffcc00"/>
<rect x="606.10" y="150.50" width="6.30" height="7.60" fill="#ccff00"/>
<rect x="612.40" y="150.50" width="6.30" height="7.60" fill="#99ff00"/>
<rect x="618.70" y="150.50" width="6.50" height="7.60" fill="#99ff00"/>
<rect x="625.20" y="150.50" width="6.90" height="7.60" fill="#00ff66"/>
<rect x="632.10" y="150.50" width="6.80" height="7.60" fill="#00fff0"/>
<rect x="638.90" y="150.50" width="5.80" height="7.60" fill="#00fff0"/>
<rect x="644.70" y="150.50" width="5.70" height="7.60" fill="#00ffa8"/>
<rect x="650.40" y="150.50" width="6.30" height="7.60" fill="#0099ff"/>
<rect x="656.70" y="150.50" width="6.30" height="7.60" fill="#0099ff"/>
<rect x="478.90" y="158.10" width="7.00" height="8.50" fill="#00ffa8"/>
<rect x="485.90" y="158.10" width="6.70" height="8.50" fill="#00ff47"/>
<rect x="492.60" y="158.10" width="6.70" height="8.50" fill="#00ff66"/>
<rect x="499.30" y="158.10" width="7.00" height="8.50" fill="#00ffa8"/>
<rect x="506.30" y="158.10" width="6.60" height="8.50" fill="#00fff0"/>
<rect x="512.90" y="158.10" width="7.60" height="8.50" fill="#00fff0"/>
<rect x="520.50" y="158.10" width="7.20" height="8.50" fill="#00fff0"/>
<rect x="527.70" y="158.10" width="8.70" height="8.50" fill="#0099ff"/>
<rect x="536.40" y="158.10" width="7.70" height="8.50" fill="#0066ff"/>
<rect x="544.10" y="158.10" width="6.80" height="8.50" fill="#00ccff"/>
<rect x="550.90" y="158.10" width="6.70" height="8.50" fill="#00fff0"/>
<rect x="557.60" y="158.10" width="6.70" height="8.50" fill="#00ff00"/>
<rect x="564.30" y="158.10" width="7.20" height="8.50" fill="#ff9900"/>
<rect x="571.50" y="158.10" width="6.70" height="8.50" fill="#ff3300"/>
<rect x="578.20" y="158.10" width="7.30" height="8.50" fill="#ff0000"/>
<rect x="585.50" y="158.10" width="6.70" height="8.50" fill="#ff9900"/>
<rect x="592.20" y="158.10" width="6.70" height="8.50" fill="#ccff00"/>
<rect x="598.90" y="158.10" width="7.20" height="8.50" fill="#99ff00"/>
<rect x="606.10" y="158.10" width="6.30" height="8.50" fill="#66ff00"/>
<rect x="612.40" y="158.10" width="6.30" height="8.50" fill="#66ff00"/>
<rect x="618.70" y="158.10" width="6.50" height="8.50" fill="#66ff00"/>
<rect x="625.20" y="158.10" width="6.90" height="8.50" fill="#33ff00"/>
<rect x="632.10" y="158.10" width="6.80" height="8.50" fill="#33ff00"/>
<rect x="638.90" y="158.10" width="5.80" height="8.50" fill="#33ff00"/>
<rect x="644.70" y="158.10" width="5.70" height="8.50" fill="#00ffa8"/>
<rect x="650.40" y="158.10" width="6.30" height="8.50" fill="#00ff66"/>
<rect x="656.70" y="158.10" width="6.30" height="8.50" fill="#00ff66"/>
<rect x="478.90" y="166.60" width="7.00" height="9.10" fill="#00ff00"/>
<rect x="485.90" y="166.60" width="6.70" height="9.10" fill="#33ff00"/>
<rect x="492.60" y="166.60" width="6.70" height="9.10" fill="#00ff24"/>
<rect x="499.30" y="166.60" width="7.00" height="9.10" fill="#00ff24"/>
<rect x="506.30" y="166.60" width="6.60" height="9.10" fill="#00ffa8"/>
<rect x="512.90" y="166.60" width="7.60" height="9.10" fill="#00ffa8"/>
<rect x="520.50" y="166.60" width="7.20" height="9.10" fill="#00ffa8"/>
<rect x="527.70" y="166.60" width="8.70" height="9.10" fill="#00fff0"/>
<rect x="536.40" y="166.60" width="7.70" height="9.10" fill="#0066ff"/>
<rect x="544.10" y="166.60" width="6.80" height="9.10" fill="#0099ff"/>
<rect x="550.90" y="166.60" width="6.70" height="9.10" fill="#00ccff"/>
<rect x="557.60" y="166.60" width="6.70" height="9.10" fill="#00ff66"/>
<rect x="564.30" y="166.60" width="7.20" height="9.10" fill="#00ff00"/>
<rect x="571.50" y="166.60" width="6.70" height="9.10" fill="#66ff00"/>
<rect x="578.20" y="166.60" width="7.30" height="9.10" fill="#99ff00"/>
<rect x="585.50" y="166.60" width="6.70" height="9.10" fill="#33ff00"/>
<rect x="592.20" y="166.60" width="6.70" height="9.10" fill="#00ff00"/>
<rect x="598.90" y="166.60" width="7.20" height="9.10" fill="#00ff00"/>
<rect x="606.10" y="166.60" width="6.30" height="9.10" fill="#33ff00"/>
<rect x="612.40" y="166.60" width="6.30" height="9.10" fill="#99ff00"/>
<rect x="618.70" y="166.60" width="6.50" height="9.10" fill="#99ff00"/>
<rect x="625.20" y="166.60" width="6.90" height="9.10" fill="#66ff00"/>
<rect x="632.10" y="166.60" width="6.80" height="9.10" fill="#33ff00"/>
<rect x="638.90" y="166.60" width="5.80" height="9.10" fill="#33ff00"/>
<rect x="644.70" y="166.60" width="5.70" height="9.10" fill="#33ff00"/>
<rect x="650.40" y="166.60" width="6.30" height="9.10" fill="#00ff00"/>
<rect x="656.70" y="166.60" width="6.30" height="9.10" fill="#00ff00"/>
<rect x="478.90" y="175.70" width="7.00" height="9.40" fill="#ccff00"/>
<rect x="485.90" y="175.70" width="6.70" height="9.40" fill="#ccff00"/>
<rect x="492.60" y="175.70" width="6.70" height="9.40" fill="#00ff00"/>
<rect x="499.30" y="175.70" width="7.00" height="9.40" fill="#00ff47"/>
<rect x="506.30" y="175.70" width="6.60" height="9.40" fill="#00fff0"/>
<rect x="512.90" y="175.70" width="7.60" height="9.40" fill="#00ffa8"/>
<rect x="520.50" y="175.70" width="7.20" height="9.40" fill="#00ff47"/>
<rect x="527.70" y="175.70" width="8.70" height="9.40" fill="#00ff47"/>
<rect x="536.40" y="175.70" width="7.70" height="9.40" fill="#00fff0"/>
<rect x="544.10" y="175.70" width="6.80" height="9.40" fill="#00ccff"/>
<rect x="550.90" y="175.70" width="6.70" height="9.40" fill="#00ccff"/>
<rect x="557.60" y="175.70" width="6.70" height="9.40" fill="#00fff0"/>
<rect x="564.30" y="175.70" width="7.20" height="9.40" fill="#00ffa8"/>
<rect x="571.50" y="175.70" width="6.70" height="9.40" fill="#00ff66"/>
<rect x="578.20" y="175.70" width="7.30" height="9.40" fill="#00ff00"/>
<rect x="585.50" y="175.70" width="6.70" height="9.40" fill="#00ff00"/>
<rect x="592.20" y="175.70" width="6.70" height="9.40" fill="#00ff00"/>
<rect x="598.90" y="175.70" width="7.20" height="9.40" fill="#00ff00"/>
<rect x="606.10" y="175.70" width="6.30" height="9.40" fill="#00ff00"/>
<rect x="612.40" y="175.70" width="6.30" height="9.40" fill="#66ff00"/>
<rect x="618.70" y="175.70" width="6.50" height="9.40" fill="#66ff00"/>
<rect x="625.20" y="175.70" width="6.90" height="9.40" fill="#66ff00"/>
<rect x="632.10" y="175.70" width="6.80" height="9.40" fill="#33ff00"/>
<rect x="638.90" y="175.70" width="5.80" height="9.40" fill="#33ff00"/>
<rect x="644.70" y="175.70" width="5.70" height="9.40" fill="#33ff00"/>
<rect x="650.40" y="175.70" width="6.30" height="9.40" fill="#33ff00"/>
<rect x="656.70" y="175.70" width="6.30" height="9.40" fill="#33ff00"/>
<rect x="478.90" y="185.10" width="7.00" height="3.70" fill="#ccff00"/>
<rect x="485.90" y="185.10" width="6.70" height="3.70" fill="#ccff00"/>
<rect x="492.60" y="185.10" width="6.70" height="7.90" fill="#00ff00"/>
<rect x="499.30" y="185.10" width="7.00" height="7.90" fill="#00ffa8"/>
<rect x="506.30" y="185.10" width="6.60" height="7.90" fill="#00ccff"/>
<rect x="512.90" y="185.10" width="7.60" height="7.90" fill="#00fff0"/>
<rect x="520.50" y="185.10" width="7.20" height="7.90" fill="#00ff66"/>
<rect x="527.70" y="185.10" width="8.70" height="7.90" fill="#00ff00"/>
<rect x="536.40" y="185.10" width="7.70" height="7.90" fill="#00ff00"/>
<rect x="544.10" y="185.10" width="6.80" height="7.90" fill="#00ffa8"/>
<rect x="550.90" y="185.10" width="6.70" height="7.90" fill="#00ffa8"/>
<rect x="557.60" y="185.10" width="6.70" height="7.90" fill="#00ffa8"/>
<rect x="564.30" y="185.10" width="7.20" height="7.90" fill="#00ff47"/>
<rect x="571.50" y="185.10" width="6.70" height="7.90" fill="#33ff00"/>
<rect x="578.20" y="185.10" width="7.30" height="7.90" fill="#33ff00"/>
<rect x="585.50" y="185.10" width="6.70" height="7.90" fill="#00ff00"/>
<rect x="592.20" y="185.10" width="6.70" height="7.90" fill="#00ff00"/>
<rect x="598.90" y="185.10" width="7.20" height="7.90" fill="#00ff00"/>
<rect x="606.10" y="185.10" width="6.30" height="7.90" fill="#00ff00"/>
<rect x="612.40" y="185.10" width="6.30" height="7.90" fill="#66ff00"/>
<rect x="618.70" y="185.10" width="6.50" height="7.90" fill="#66ff00"/>
<rect x="625.20" y="185.10" width="6.90" height="7.90" fill="#33ff00"/>
<rect x="632.10" y="185.10" width="6.80" height="7.90" fill="#33ff00"/>
<rect x="638.90" y="185.10" width="5.80" height="7.90" fill="#33ff00"/>
<rect x="644.70" y="185.10" width="5.70" height="7.90" fill="#33ff00"/>
<rect x="650.40" y="185.10" width="6.30" height="7.90" fill="#66ff00"/>
<rect x="656.70" y="185.10" width="6.30" height="7.90" fill="#66ff00"/>
<rect x="492.60" y="193.00" width="6.70" height="7.80" fill="#00ff00"/>
<rect x="499.30" y="193.00" width="7.00" height="7.80" fill="#00fff0"/>
<rect x="506.30" y="193.00" width="6.60" height="7.80" fill="#0066ff"/>
<rect x="512.90" y="193.00" width="7.60" height="7.80" fill="#00fff0"/>
<rect x="520.50" y="193.00" width="7.20" height="7.80" fill="#00ff66"/>
<rect x="527.70" y="193.00" width="8.70" height="7.80" fill="#33ff00"/>
<rect x="536.40" y="193.00" width="7.70" height="7.80" fill="#33ff00"/>
<rect x="544.10" y="193.00" width="6.80" height="7.80" fill="#00ff00"/>
<rect x="550.90" y="193.00" width="6.70" height="7.80" fill="#00ff00"/>
<rect x="557.60" y="193.00" width="6.70" height="7.80" fill="#00ff00"/>
<rect x="564.30" y="193.00" width="7.20" height="7.80" fill="#33ff00"/>
<rect x="571.50" y="193.00" width="6.70" height="7.80" fill="#ccff00"/>
<rect x="578.20" y="193.00" width="7.30" height="7.80" fill="#ffff00"/>
<rect x="585.50" y="193.00" width="6.70" height="7.80" fill="#ccff00"/>
<rect x="592.20" y="193.00" width="6.70" height="7.80" fill="#00ff00"/>
<rect x="598.90" y="193.00" width="7.20" height="7.80" fill="#00ff00"/>
<rect x="606.10" y="193.00" width="6.30" height="7.80" fill="#00ff00"/>
<rect x="612.40" y="193.00" width="6.30" height="7.80" fill="#33ff00"/>
<rect x="618.70" y="193.00" width="6.50" height="7.80" fill="#33ff00"/>
<rect x="625.20" y="193.00" width="6.90" height="5.20" fill="#33ff00"/>
<rect x="632.10" y="193.00" width="6.80" height="5.20" fill="#33ff00"/>
<rect x="638.90" y="193.00" width="5.80" height="5.20" fill="#33ff00"/>
<rect x="644.70" y="193.00" width="5.70" height="5.20" fill="#33ff00"/>
<rect x="650.40" y="193.00" width="6.30" height="5.20" fill="#66ff00"/>
<rect x="656.70" y="193.00" width="6.30" height="5.20" fill="#66ff00"/>
<rect x="492.60" y="200.80" width="6.70" height="7.60" fill="#00ffa8"/>
<rect x="499.30" y="200.80" width="7.00" height="7.60" fill="#0066ff"/>
<rect x="506.30" y="200.80" width="6.60" height="7.60" fill="#0000ff"/>
<rect x="512.90" y="200.80" width="7.60" height="7.60" fill="#0099ff"/>
<rect x="520.50" y="200.80" width="7.20" height="7.60" fill="#00ffa8"/>
<rect x="527.70" y="200.80" width="8.70" height="7.60" fill="#00ff00"/>
<rect x="536.40" y="200.80" width="7.70" height="7.60" fill="#33ff00"/>
<rect x="544.10" y="200.80" width="6.80" height="7.60" fill="#33ff00"/>
<rect x="550.90" y="200.80" width="6.70" height="7.60" fill="#33ff00"/>
<rect x="557.60" y="200.80" width="6.70" height="7.60" fill="#66ff00"/>
<rect x="564.30" y="200.80" width="7.20" height="7.60" fill="#ffff00"/>
<rect x="571.50" y="200.80" width="6.70" height="7.60" fill="#ff9900"/>
<rect x="578.20" y="200.80" width="7.30" height="7.60" fill="#ff9900"/>
<rect x="585.50" y="200.80" width="6.70" height="7.60" fill="#ff9900"/>
<rect x="592.20" y="200.80" width="6.70" height="7.60" fill="#00ff00"/>
<rect x="598.90" y="200.80" width="7.20" height="7.60" fill="#00ff24"/>
<rect x="606.10" y="200.80" width="6.30" height="7.60" fill="#00ff00"/>
<rect x="612.40" y="200.80" width="6.30" height="7.60" fill="#00ff00"/>
<rect x="618.70" y="200.80" width="6.50" height="5.10" fill="#33ff00"/>
<rect x="492.60" y="208.40" width="6.70" height="7.50" fill="#00ffa8"/>
<rect x="499.30" y="208.40" width="7.00" height="7.50" fill="#0066ff"/>
<rect x="506.30" y="208.40" width="6.60" height="7.50" fill="#0000ff"/>
<rect x="512.90" y="208.40" width="7.60" height="7.50" fill="#0099ff"/>
<rect x="520.50" y="208.40" width="7.20" height="7.50" fill="#00ffa8"/>
<rect x="527.70" y="208.40" width="8.70" height="7.50" fill="#00ff00"/>
<rect x="536.40" y="208.40" width="7.70" height="7.50" fill="#33ff00"/>
<rect x="544.10" y="208.40" width="6.80" height="7.50" fill="#66ff00"/>
<rect x="550.90" y="208.40" width="6.70" height="7.50" fill="#66ff00"/>
<rect x="557.60" y="208.40" width="6.70" height="7.50" fill="#ccff00"/>
<rect x="564.30" y="208.40" width="7.20" height="7.50" fill="#ffff00"/>
<rect x="571.50" y="208.40" width="6.70" height="7.50" fill="#ffff00"/>
<rect x="578.20" y="208.40" width="7.30" height="4.60" fill="#ff9900"/>
<rect x="585.50" y="208.40" width="6.70" height="4.60" fill="#ff9900"/>
<rect x="592.20" y="208.40" width="6.70" height="4.60" fill="#00ff00"/>
<rect x="598.90" y="208.40" width="7.20" height="4.60" fill="#00ff24"/>
<rect x="606.10" y="208.40" width="6.30" height="4.60" fill="#00ff00"/>
<rect x="612.40" y="208.40" width="6.30" height="4.60" fill="#00ff00"/>
<rect x="492.60" y="215.90" width="6.70" height="4.80" fill="#00ffa8"/>
<rect x="499.30" y="215.90" width="7.00" height="5.40" fill="#0000ff"/>
<rect x="506.30" y="215.90" width="6.60" height="5.40" fill="#0000ff"/>
<rect x="512.90" y="215.90" width="7.60" height="5.40" fill="#0066ff"/>
<rect x="520.50" y="215.90" width="7.20" height="5.40" fill="#00ccff"/>
<rect x="527.70" y="215.90" width="8.70" height="5.40" fill="#00ff47"/>
<rect x="536.40" y="215.90" width="7.70" height="5.40" fill="#00ff00"/>
<rect x="544.10" y="215.90" width="6.80" height="5.40" fill="#99ff00"/>
<rect x="550.90" y="215.90" width="6.70" height="5.40" fill="#ccff00"/>
<rect x="557.60" y="215.90" width="6.70" height="5.40" fill="#ccff00"/>
<rect x="564.30" y="215.90" width="7.20" height="4.70" fill="#ffff00"/>
<rect x="571.50" y="215.90" width="6.70" height="4.70" fill="#ffff00"/>
<rect x="499.30" y="221.30" width="7.00" height="7.50" fill="#0000ff"/>
<rect x="506.30" y="221.30" width="6.60" height="7.50" fill="#0000ff"/>
<rect x="512.90" y="221.30" width="7.60" height="7.50" fill="#0066ff"/>
<rect x="520.50" y="221.30" width="7.20" height="7.50" fill="#00ccff"/>
<rect x="527.70" y="221.30" width="8.70" height="7.50" fill="#00ff47"/>
<rect x="536.40" y="221.30" width="7.70" height="7.50" fill="#00ff00"/>
<rect x="544.10" y="221.30" width="6.80" height="7.50" fill="#99ff00"/>
<rect x="550.90" y="221.30" width="6.70" height="7.50" fill="#ccff00"/>
<rect x="557.60" y="221.30" width="6.70" height="7.50" fill="#ccff00"/>
<rect x="441.10" y="65.70" width="7.00" height="4.10" fill="#ff0000"/>
<rect x="448.10" y="65.70" width="6.90" height="4.10" fill="#ff0000"/>
<rect x="455.00" y="65.70" width="6.70" height="4.10" fill="#ff0000"/>
<rect x="461.70" y="65.70" width="8.50" height="4.10" fill="#66ff00"/>
<rect x="470.20" y="65.70" width="8.70" height="4.10" fill="#66ff00"/>
<rect x="478.90" y="65.70" width="7.00" height="4.10" fill="#0099ff"/>
<rect x="485.90" y="65.70" width="6.70" height="4.10" fill="#0000ff"/>
<rect x="492.60" y="65.70" width="6.70" height="4.10" fill="#0000ff"/>
<rect x="618.70" y="65.70" width="6.50" height="4.10" fill="#0000ff"/>
<rect x="644.70" y="65.70" width="5.70" height="4.10" fill="#0000ff"/>
<rect x="650.40" y="65.70" width="6.30" height="4.10" fill="#0000ff"/>
<rect x="656.70" y="65.70" width="6.30" height="4.10" fill="#0000ff"/></g>
<rect x="625.70" y="155.90" width="16.50" height="2.30" fill="#fff"/>
<rect x="639.40" y="155.90" width="2.80" height="10.90" fill="#fff"/>
<rect x="639.40" y="164.10" width="11.00" height="2.70" fill="#fff"/>
<rect x="639.40" y="188.80" width="2.80" height="9.40" fill="#fff"/>
<rect x="639.40" y="119.50" width="2.80" height="7.90" fill="#fff"/>
<rect x="478.90" y="155.70" width="7.00" height="2.50" fill="#fff"/>
<rect x="512.40" y="93.60" width="1.00" height="3.10" fill="#fff"/>
<rect x="512.40" y="109.60" width="1.00" height="2.10" fill="#fff"/>
<path d="M426.6 105.9L422.2 112.6L431.0 112.6Z" fill="#ff0000" stroke="#ffffff" stroke-width="1.1" stroke-linejoin="miter"/>
<path d="M456.4 126.7L452.0 133.4L460.8 133.4Z" fill="#ff0000" stroke="#ffffff" stroke-width="1.1" stroke-linejoin="miter"/>
<path d="M518.7 128.9L514.3 135.6L523.1 135.6Z" fill="#ff0000" stroke="#ffffff" stroke-width="1.1" stroke-linejoin="miter"/>
<path d="M485.7 178.5L481.3 185.2L490.1 185.2Z" fill="#ff0000" stroke="#ffffff" stroke-width="1.1" stroke-linejoin="miter"/>
<path d="M550.60 99.80L552.19 104.22L556.88 104.36L553.17 107.23L554.48 111.74L550.60 109.10L546.72 111.74L548.03 107.23L544.32 104.36L549.01 104.22Z" fill="#ffffff" stroke="#000000" stroke-width="0.9"/>
<g stroke="#000" stroke-width="0.25">
<text x="435.12" y="243.80" font-size="15.20" font-weight="normal" font-style="normal" fill="#000" font-family='"Liberation Sans", sans-serif' textLength="38.66" lengthAdjust="spacingAndGlyphs" >140.6</text>
<text x="504.04" y="243.80" font-size="15.20" font-weight="normal" font-style="normal" fill="#000" font-family='"Liberation Sans", sans-serif' textLength="38.02" lengthAdjust="spacingAndGlyphs" >140.8</text>
<text x="579.77" y="243.80" font-size="15.20" font-weight="normal" font-style="normal" fill="#000" font-family='"Liberation Sans", sans-serif' textLength="22.59" lengthAdjust="spacingAndGlyphs" >141</text>
<text x="641.44" y="243.80" font-size="15.20" font-weight="normal" font-style="normal" fill="#000" font-family='"Liberation Sans", sans-serif' textLength="38.02" lengthAdjust="spacingAndGlyphs" >141.2</text>
<g transform="translate(393.50 94.60) rotate(-90)"><text x="-0.54" y="0.00" font-size="15.20" font-weight="normal" font-style="normal" fill="#000" font-family='"Liberation Sans", sans-serif' textLength="27.63" lengthAdjust="spacingAndGlyphs" >39.1</text></g>
<g transform="translate(393.50 126.80) rotate(-90)"><text x="-0.61" y="0.00" font-size="15.20" font-weight="normal" font-style="normal" fill="#000" font-family='"Liberation Sans", sans-serif' textLength="17.87" lengthAdjust="spacingAndGlyphs" >39</text></g>
<g transform="translate(393.50 169.00) rotate(-90)"><text x="-0.51" y="0.00" font-size="15.20" font-weight="normal" font-style="normal" fill="#000" font-family='"Liberation Sans", sans-serif' textLength="25.94" lengthAdjust="spacingAndGlyphs" >38.9</text></g>
<g transform="translate(393.50 207.80) rotate(-90)"><text x="-0.52" y="0.00" font-size="15.20" font-weight="normal" font-style="normal" fill="#000" font-family='"Liberation Sans", sans-serif' textLength="26.72" lengthAdjust="spacingAndGlyphs" >38.8</text></g>
</g>
<path d="M58.10 449.90v-2.8M58.10 271.50v2.8 M77.90 449.90v-2.8M77.90 271.50v2.8 M97.70 449.90v-2.8M97.70 271.50v2.8 M117.50 449.90v-2.8M117.50 271.50v2.8 M137.30 449.90v-2.8M137.30 271.50v2.8 M157.10 449.90v-2.8M157.10 271.50v2.8 M176.90 449.90v-2.8M176.90 271.50v2.8 M196.70 449.90v-2.8M196.70 271.50v2.8 M216.50 449.90v-2.8M216.50 271.50v2.8 M38.30 420.10h2.8M216.80 420.10h-2.8 M38.30 390.30h2.8M216.80 390.30h-2.8 M38.30 360.50h2.8M216.80 360.50h-2.8 M38.30 330.70h2.8M216.80 330.70h-2.8 M38.30 300.90h2.8M216.80 300.90h-2.8" stroke="#c8c8c8" stroke-width="1" fill="none"/>
<rect x="38.30" y="271.50" width="178.50" height="178.40" fill="none" stroke="#8c8c8c" stroke-width="1.3"/>
<path d="M72.0 396.5h0M77.7 400.4h0M70.0 406.7h0M193.9 296.2h0M109.0 358.2h0M157.6 332.3h0M156.3 322.1h0M134.6 361.7h0M169.2 328.3h0M75.5 388.2h0M122.0 345.3h0M82.6 393.2h0M190.5 325.1h0M193.2 306.9h0M155.6 333.0h0M155.6 318.0h0M100.3 384.5h0M69.0 390.1h0M121.8 345.7h0M70.9 398.6h0M176.7 316.3h0M83.3 378.5h0M68.5 408.2h0M169.5 328.1h0M187.9 308.0h0M87.0 370.9h0M95.2 371.9h0M105.8 362.0h0M151.0 328.9h0M157.1 337.1h0M152.1 346.5h0M75.6 397.4h0M171.4 324.4h0M61.7 413.4h0M183.0 303.0h0M152.0 332.6h0M127.7 357.3h0M143.2 350.1h0M136.7 351.4h0M108.6 364.7h0M75.8 382.1h0M101.3 356.3h0M73.6 406.3h0M69.9 410.7h0M160.0 326.1h0M61.4 409.4h0M157.9 327.6h0M144.7 340.8h0M93.6 379.1h0M144.8 351.1h0M167.4 313.7h0M173.0 318.9h0M133.0 354.8h0M177.7 311.0h0M150.2 331.8h0M107.3 359.2h0M112.6 355.7h0M81.4 381.5h0M189.2 328.5h0M74.8 389.3h0M112.8 367.9h0M119.3 341.2h0M177.9 304.9h0M132.3 339.0h0M181.2 302.8h0M82.5 383.2h0M124.5 358.7h0M70.2 381.2h0M84.1 378.5h0M133.3 339.7h0M96.4 362.0h0M93.3 381.5h0M166.9 336.6h0M91.9 365.0h0M60.2 428.3h0M192.1 314.2h0M120.1 372.0h0M81.0 406.0h0M141.7 346.6h0M185.6 295.1h0M108.7 354.0h0M99.6 383.9h0M156.9 332.7h0M133.1 362.6h0M81.1 391.1h0M75.5 396.7h0M171.6 326.3h0M89.8 391.7h0M160.6 328.9h0M78.5 403.2h0M143.1 336.5h0M185.1 332.7h0M90.1 369.7h0M77.4 398.6h0M136.0 334.1h0M83.8 403.1h0M113.5 372.8h0M67.5 415.1h0M137.5 353.5h0M153.9 338.7h0M164.3 314.8h0M122.0 363.8h0M133.0 344.2h0M114.4 366.6h0M174.9 331.1h0M101.2 374.9h0M72.9 418.6h0M86.2 393.0h0M99.8 376.1h0M98.9 364.3h0M87.5 407.2h0M171.9 333.6h0M187.6 310.6h0M116.7 368.2h0M194.0 324.5h0M142.9 354.7h0M142.6 344.0h0M180.3 303.0h0M174.1 310.7h0M80.6 408.6h0M80.0 375.6h0M109.0 353.5h0M129.5 358.3h0M95.0 374.4h0M100.1 380.1h0M163.4 333.0h0M162.5 314.6h0M124.3 352.1h0M148.5 346.1h0M157.0 333.8h0M185.9 324.6h0M81.4 410.1h0M162.1 313.0h0M141.5 348.3h0M157.3 314.3h0M197.6 307.9h0M158.6 323.1h0M106.3 382.3h0M204.1 300.0h0M76.8 374.4h0M147.8 356.6h0M162.6 329.3h0M158.2 322.3h0M77.6 405.5h0M95.6 362.0h0M77.3 386.3h0M130.6 352.0h0M54.9 413.5h0M194.2 320.5h0M173.6 323.8h0M188.2 310.6h0M93.9 371.1h0M76.4 398.3h0M104.6 352.7h0M154.6 333.1h0M70.4 412.5h0M163.4 319.7h0M94.2 389.3h0M96.9 380.8h0M97.8 374.4h0M156.4 324.0h0M168.1 340.4h0M76.5 408.3h0M148.7 349.0h0M88.9 382.6h0M161.9 313.2h0M170.0 313.2h0M115.7 371.6h0M159.4 339.3h0M196.1 304.2h0M93.3 359.3h0M65.1 410.1h0M69.7 408.9h0M90.8 373.4h0M60.5 407.8h0M85.0 390.8h0M91.8 365.1h0M82.9 381.8h0M112.4 365.1h0M91.2 377.2h0M121.4 353.7h0M85.1 404.9h0M65.4 414.8h0M83.4 394.2h0M138.4 344.3h0M174.3 328.7h0M115.8 367.1h0" stroke="#303030" stroke-width="1.00" stroke-linecap="square" fill="none" opacity="0.70"/>
<path d="M176.3 336.0h0M140.7 356.0h0M106.8 380.4h0M110.8 352.0h0M125.2 361.8h0M93.0 373.8h0M189.9 311.9h0M109.0 354.9h0M138.4 360.4h0M129.2 336.4h0M198.3 301.3h0M169.9 305.7h0M83.6 388.9h0M183.7 294.6h0M88.9 374.3h0M111.6 349.6h0M169.3 307.2h0M118.7 345.4h0M179.6 299.4h0M107.7 375.0h0M190.4 309.9h0M90.9 374.9h0M182.0 334.9h0M79.8 389.4h0M163.4 311.7h0M146.9 325.0h0M155.8 341.2h0M188.0 296.5h0M95.2 382.7h0M144.5 326.3h0M157.6 319.7h0M98.2 364.5h0M95.2 367.7h0M81.0 385.6h0M116.7 371.7h0M186.3 325.6h0M196.9 308.7h0M93.3 385.1h0M141.5 351.8h0M96.2 363.9h0M190.4 308.1h0M203.0 304.2h0M117.5 344.9h0M87.3 379.1h0M194.1 290.4h0M125.9 342.5h0M178.6 300.0h0M152.3 346.0h0M136.0 357.2h0M191.8 291.4h0M127.6 366.2h0M153.4 340.7h0M114.2 347.2h0M105.5 358.8h0M147.6 327.2h0M81.7 382.2h0M173.1 302.9h0M162.9 309.2h0M138.5 358.7h0M110.1 378.4h0M106.1 378.6h0M82.8 382.7h0M185.0 296.7h0M150.9 346.2h0M96.0 362.1h0M90.3 368.4h0M96.6 366.0h0M125.0 369.3h0M82.4 388.1h0M186.3 312.7h0M192.2 315.9h0M127.8 364.8h0M97.5 387.1h0M117.6 343.7h0M161.6 339.4h0M190.4 313.2h0M186.6 296.8h0M148.4 347.2h0M111.2 351.6h0M160.9 340.6h0M192.0 314.9h0M147.4 352.4h0M110.7 372.7h0M83.9 382.3h0M85.8 392.4h0M152.3 347.4h0M184.4 298.7h0M129.9 336.4h0M124.1 365.0h0M170.2 300.5h0M151.1 344.3h0M186.4 332.0h0M152.9 342.9h0M199.2 298.1h0M190.7 319.3h0M158.3 313.8h0M202.0 300.0h0M172.9 337.6h0M105.5 354.3h0M127.0 341.5h0M180.1 327.7h0M181.2 302.2h0M178.0 331.2h0M86.6 379.0h0M153.1 318.9h0M102.1 378.5h0M147.9 325.2h0M104.1 353.8h0M118.5 346.8h0M111.7 374.7h0M191.7 308.5h0M129.7 334.9h0M169.0 305.2h0M154.6 342.8h0M86.6 375.3h0M111.9 377.2h0M164.6 309.5h0M95.2 365.9h0M117.2 374.3h0M188.7 317.8h0M127.9 338.8h0M176.5 302.8h0M206.4 302.1h0M201.8 302.5h0M184.8 294.3h0M145.4 348.6h0M170.4 302.9h0M172.3 304.9h0M105.9 354.3h0M160.2 318.6h0M124.6 364.7h0M100.9 385.7h0M165.5 308.9h0M187.2 321.6h0M141.8 328.1h0M91.3 375.1h0M133.5 338.4h0M183.8 324.3h0M106.8 380.0h0M143.1 352.6h0M177.6 301.2h0M177.1 334.4h0M160.8 337.1h0M170.8 305.7h0M167.9 338.8h0M102.7 383.0h0M186.0 299.0h0M140.4 329.7h0M167.4 309.1h0M142.6 350.8h0M204.6 305.9h0M143.6 350.2h0M85.9 379.9h0M89.8 370.3h0M104.6 383.5h0M102.0 360.7h0M189.2 309.0h0M174.1 337.8h0M187.7 297.5h0M143.0 325.3h0M203.1 297.2h0M105.1 380.5h0M161.0 338.3h0M160.4 312.4h0M141.7 329.2h0M124.2 366.5h0M180.8 329.2h0M147.4 345.9h0M185.5 301.1h0M201.5 299.6h0M134.7 355.1h0M191.3 296.2h0M187.4 324.9h0M93.8 389.8h0M141.6 324.7h0M189.8 320.3h0M196.1 306.7h0M137.0 334.5h0M199.3 301.4h0M176.7 333.5h0M194.0 313.2h0M150.7 323.2h0M117.7 368.9h0M182.5 325.7h0M80.3 389.9h0M126.8 360.9h0M125.8 363.4h0M176.1 338.1h0M189.5 310.9h0M143.0 355.2h0M136.4 356.6h0M186.4 324.7h0M89.8 388.5h0M191.8 318.6h0M142.8 326.6h0M189.8 297.6h0M201.5 300.3h0M143.2 331.3h0M124.1 364.6h0M144.3 348.7h0M201.0 298.3h0M102.9 386.1h0M87.5 388.3h0M106.5 356.5h0M116.4 371.4h0M190.1 296.6h0M174.1 300.3h0M148.5 323.5h0M139.8 353.0h0M127.5 340.9h0M98.2 384.4h0M163.5 312.9h0M198.9 305.7h0M182.9 326.1h0M151.3 341.9h0M122.1 344.1h0M177.1 302.3h0M131.4 335.4h0M171.0 302.9h0M144.1 347.8h0M185.7 294.7h0M136.1 335.9h0M123.9 365.6h0M176.3 304.1h0M101.1 356.8h0M85.4 379.9h0M196.7 308.7h0M194.8 308.5h0M120.6 343.3h0M199.0 304.5h0M161.7 335.6h0M157.7 317.1h0M185.4 297.7h0M110.7 376.0h0M104.6 381.5h0M131.4 335.1h0M187.6 311.3h0M199.4 296.1h0M199.6 292.2h0M163.9 310.8h0M138.8 334.0h0M134.1 338.5h0M198.1 303.4h0M87.6 389.8h0M159.9 318.4h0M87.3 376.9h0M142.9 354.2h0M193.1 310.7h0M110.4 378.6h0M114.5 372.1h0M203.8 300.2h0M151.7 321.2h0M138.2 330.2h0M168.0 303.0h0M185.3 325.2h0M115.9 370.6h0M137.6 357.6h0M99.2 385.8h0M191.0 323.0h0M131.8 359.4h0M97.0 368.7h0M142.9 328.7h0" stroke="#202020" stroke-width="1.00" stroke-linecap="square" fill="none" opacity="0.80"/>
<path d="M78.8 392.1h0M66.5 397.8h0M67.8 368.4h0M80.2 368.1h0M56.1 421.3h0M93.7 346.2h0M85.7 381.5h0M74.7 392.0h0M60.7 397.0h0M58.4 393.0h0M54.3 398.4h0M70.3 385.7h0M60.3 404.9h0M70.5 403.2h0M62.8 391.7h0M71.2 393.6h0M66.8 374.4h0M89.6 375.3h0M101.4 347.5h0M68.7 380.8h0M91.1 373.1h0M93.3 364.6h0M103.2 355.3h0M58.5 395.5h0M84.6 384.4h0M98.2 360.8h0M69.1 392.4h0M106.3 352.5h0M57.3 410.0h0M84.0 347.0h0M94.9 350.0h0M91.8 347.9h0M79.0 358.0h0M87.3 375.0h0M89.9 372.1h0M54.6 423.1h0M97.0 351.8h0M63.0 411.2h0M102.0 354.8h0M64.2 385.2h0M72.5 405.9h0M90.6 373.4h0M71.0 401.6h0M72.0 390.4h0M60.9 392.0h0M103.5 356.7h0M69.2 385.6h0M86.7 346.7h0M78.1 375.1h0M93.2 362.4h0M111.7 352.2h0M102.2 358.4h0M117.0 348.5h0M85.5 383.1h0M82.3 377.7h0M87.2 376.4h0M103.4 359.5h0M105.9 351.6h0M112.8 353.6h0M97.4 361.5h0M86.1 381.4h0M119.4 349.7h0M83.9 383.4h0M117.5 346.3h0M112.1 354.0h0M116.1 342.0h0M110.5 357.5h0M105.0 353.4h0M105.1 360.2h0M98.6 357.4h0M118.2 343.9h0M95.5 364.4h0M85.4 375.5h0M103.4 362.4h0M87.6 383.4h0M98.2 360.5h0M81.7 378.5h0M95.6 365.5h0M125.5 343.4h0M102.5 358.5h0M94.7 362.0h0M108.6 351.6h0M117.6 344.4h0M115.8 349.6h0M100.7 359.1h0M108.1 354.3h0M92.5 368.1h0M112.0 349.0h0M89.4 371.6h0M88.8 383.3h0M96.1 368.4h0M112.7 345.6h0M111.1 353.4h0M87.7 374.5h0M85.5 376.8h0M86.1 384.8h0M87.7 380.4h0M92.1 380.1h0M93.7 364.7h0M117.0 349.0h0M109.5 346.2h0M109.3 351.8h0M101.1 363.3h0M85.4 380.7h0M116.9 349.4h0M80.8 379.7h0M93.0 367.6h0M103.1 359.0h0M111.5 352.7h0M119.3 345.8h0M108.7 353.3h0M113.0 349.3h0M85.6 379.3h0M81.7 379.0h0M110.9 350.6h0M85.6 379.8h0M96.9 362.0h0M112.3 349.6h0M87.2 377.2h0M103.6 359.2h0M90.7 370.7h0M115.5 347.6h0M90.3 377.7h0M98.0 362.4h0M113.5 352.4h0M112.6 354.1h0M89.9 369.9h0M97.0 362.4h0M86.1 381.2h0M85.6 376.6h0M87.5 372.4h0M88.4 375.0h0M55.8 435.6h0M66.0 415.8h0M69.2 404.4h0M83.4 390.3h0M76.3 398.8h0M67.5 411.1h0M80.2 399.7h0M58.0 431.7h0M61.0 423.0h0M63.4 412.7h0M83.1 394.8h0M82.7 388.6h0M71.0 408.5h0M63.0 411.5h0M64.8 414.5h0M62.5 418.9h0M72.2 401.2h0M79.5 395.3h0M67.3 418.2h0M77.0 401.0h0M73.7 416.4h0M64.4 419.7h0M60.4 424.9h0M74.9 398.3h0M78.5 394.6h0M78.0 399.8h0M87.4 389.8h0M70.3 405.8h0M57.0 432.4h0M64.1 423.5h0M62.5 412.9h0M79.1 392.1h0M59.2 419.7h0M84.2 390.4h0M61.5 414.6h0M80.3 394.4h0M58.8 429.5h0M84.2 391.4h0M57.2 426.2h0M74.3 410.0h0M54.3 428.0h0M82.4 392.4h0M76.0 390.0h0M78.0 393.9h0M79.4 392.8h0M66.9 412.8h0M82.3 401.4h0M61.3 430.4h0M62.9 424.6h0M67.7 408.7h0M66.4 406.8h0M82.5 388.3h0M83.5 393.3h0M56.4 433.2h0M85.3 394.2h0M89.6 392.8h0M85.0 389.6h0M53.2 428.9h0M87.0 383.4h0M60.4 424.3h0M61.7 424.2h0M70.1 413.0h0M80.2 399.7h0M64.3 422.0h0M69.8 412.6h0M78.9 402.4h0M64.1 410.2h0M85.1 386.9h0M62.8 408.5h0M85.6 394.4h0M50.9 427.3h0M69.6 417.1h0M75.8 406.9h0M80.8 405.9h0M66.4 410.9h0M57.4 425.0h0M61.9 423.3h0M61.1 414.7h0M63.1 420.6h0M69.5 409.2h0M80.3 398.4h0M65.5 414.8h0M86.4 387.7h0M65.9 418.8h0M77.7 396.7h0M85.1 390.1h0" stroke="#ff3322" stroke-width="2.00" stroke-linecap="round" fill="none" opacity="0.85"/>
<path d="M78.5 333.2h0M90.8 333.2h0M97.3 333.2h0" stroke="#ff3322" stroke-width="2.00" stroke-linecap="round" fill="none" opacity="0.85"/>
<path d="M103.0 333.2h0M109.6 333.2h0M116.0 333.2h0" stroke="#404040" stroke-width="1.00" stroke-linecap="square" fill="none" opacity="0.80"/>
<path d="M80.8 401.8h0M59.6 417.2h0M54.8 431.5h0M82.6 396.7h0M60.9 422.2h0M86.7 393.5h0M56.8 430.5h0M69.1 412.3h0M77.9 397.6h0M54.8 421.5h0M67.9 416.4h0M72.4 414.2h0M61.6 416.2h0M74.5 406.7h0M55.7 431.4h0M62.8 406.3h0M71.0 410.3h0M61.8 419.3h0M81.6 395.5h0M64.8 422.3h0M57.6 428.9h0M84.9 396.4h0M64.6 420.8h0M87.7 389.4h0M66.7 408.4h0M64.5 411.1h0M62.1 415.0h0M67.9 413.1h0M53.8 428.9h0M53.3 419.4h0M60.6 424.0h0M54.6 432.6h0M79.5 393.8h0M60.0 425.1h0M68.6 408.5h0M81.0 395.5h0M83.7 391.7h0M77.9 406.3h0M60.4 427.0h0M75.4 403.6h0M71.9 402.9h0M64.9 420.1h0M55.6 428.1h0M73.0 404.8h0M64.0 418.5h0M64.9 413.1h0M86.9 392.7h0M71.3 393.5h0M68.0 408.7h0M73.0 403.5h0M61.3 431.7h0M67.7 422.9h0M81.1 404.2h0M68.8 408.2h0M66.7 419.5h0M83.5 389.7h0M67.2 421.4h0M63.4 419.1h0M58.3 425.2h0M58.7 428.7h0M50.0 434.7h0M81.0 401.3h0M79.8 398.3h0M65.7 421.8h0M73.0 404.8h0M52.9 427.6h0M57.1 425.9h0M64.6 405.6h0M85.2 389.8h0M66.4 412.7h0M57.5 416.1h0M79.2 400.4h0M69.5 418.8h0M61.6 411.6h0M77.5 398.0h0M71.3 407.7h0M60.5 415.8h0M59.6 424.0h0M66.3 414.0h0M72.6 408.4h0M77.8 398.4h0M71.2 404.8h0M70.2 409.0h0M81.2 405.2h0M56.7 432.6h0M53.6 430.3h0M57.2 427.5h0M80.0 400.2h0M78.3 391.4h0M79.1 396.0h0M67.1 412.6h0M62.7 429.9h0M71.0 408.7h0M71.0 416.2h0M68.0 420.7h0M78.9 405.8h0M58.9 423.3h0M83.1 385.6h0M72.0 407.1h0M74.5 404.4h0M63.1 422.9h0M85.7 393.3h0M69.3 424.1h0M70.5 405.9h0M74.6 399.0h0M62.2 424.2h0M66.7 414.9h0M83.6 389.3h0M75.3 409.8h0M73.2 406.8h0M79.9 399.6h0M80.4 390.4h0M77.8 413.1h0M58.0 430.1h0M65.0 406.5h0M63.2 414.7h0M86.0 389.6h0M65.9 422.4h0M74.4 399.5h0M79.3 398.9h0M63.2 410.3h0M73.3 405.8h0M71.7 405.6h0M54.7 424.0h0M59.5 416.5h0M64.8 424.1h0M83.8 390.4h0M69.8 422.5h0M78.8 408.0h0M71.9 408.4h0M68.6 420.4h0M65.3 419.2h0M70.2 407.2h0M60.3 420.9h0M76.8 402.7h0M78.7 391.6h0M59.8 427.7h0M58.4 423.6h0M73.0 417.6h0M74.4 418.8h0M60.6 418.3h0M61.7 415.2h0M85.1 389.5h0M66.6 417.3h0M86.6 389.4h0M64.6 416.8h0M84.7 395.3h0M66.7 406.0h0M71.8 399.0h0M70.7 410.8h0M51.5 428.2h0M77.4 398.3h0M63.4 409.8h0M63.2 417.1h0M79.9 393.3h0M69.1 409.4h0M63.2 424.2h0M57.3 423.6h0M61.9 415.4h0M60.9 420.5h0M83.6 392.2h0M72.7 412.0h0M57.8 434.3h0M85.5 392.4h0M57.7 430.8h0M65.6 416.4h0M85.3 393.9h0M62.3 424.3h0M77.1 402.8h0M60.9 421.3h0M72.4 411.3h0M84.0 392.0h0M62.1 417.1h0M77.4 390.6h0M81.9 401.1h0M90.2 392.7h0M74.8 409.5h0M68.1 408.0h0M71.2 413.3h0M62.0 425.0h0M68.2 408.7h0M82.6 394.8h0M62.3 425.8h0M77.3 388.7h0M82.6 393.6h0M74.5 395.3h0M56.8 425.7h0M90.5 395.1h0M71.1 405.4h0M72.2 399.1h0M61.7 424.1h0M68.6 411.5h0M62.1 419.4h0" stroke="#101010" stroke-width="1.10" stroke-linecap="square" fill="none" opacity="0.90"/>
<path d="M86.9 382.5L85.6 386.5L88.3 385.7L97.4 381.9L106.6 374.6L115.9 367.2L125.2 361.6L134.4 354.2L143.7 346.7L153.0 339.2L162.3 331.9L169.0 326.5L169.0 317.1L163.4 319.9L154.1 325.4L144.9 330.8L135.6 338.3L126.4 345.8L117.1 351.3L107.9 358.8L98.6 367.7L86.9 382.5Z" fill="#060606" fill-rule="evenodd" opacity="1.00"/>
<path d="M90.9 381.8h0M93.5 373.2h0M135.3 344.5h0M101.7 371.3h0M125.5 353.9h0M149.2 335.6h0M164.3 320.6h0M158.7 323.2h0M159.4 324.8h0M141.8 340.2h0M98.1 370.3h0M135.3 349.7h0M135.1 355.8h0M155.4 327.4h0M104.1 357.2h0M115.5 370.9h0M136.9 343.9h0M153.6 340.0h0M164.6 325.5h0M141.6 343.4h0M153.8 335.6h0M115.1 362.0h0M148.9 326.6h0M86.3 388.6h0M161.1 330.2h0M118.5 350.0h0M95.2 384.0h0M98.2 370.6h0M146.0 337.5h0M109.2 360.7h0M171.0 327.2h0M107.3 362.5h0M106.1 376.0h0M89.1 383.6h0M167.5 320.0h0M158.4 329.5h0M90.9 378.0h0M171.7 311.5h0M114.3 354.1h0M130.6 348.3h0M125.4 350.0h0M144.7 326.7h0M97.3 371.6h0M138.3 342.9h0M152.1 326.8h0M125.5 358.1h0M160.6 333.5h0M143.8 343.0h0M116.1 355.1h0M109.6 376.0h0M140.8 341.5h0M142.2 341.6h0M140.9 330.2h0M87.1 387.2h0M135.1 347.4h0M94.8 386.3h0M167.1 327.5h0M163.9 329.8h0M123.9 356.8h0M113.6 355.7h0M145.3 336.4h0M95.2 380.6h0M127.0 345.4h0M147.7 339.7h0M131.9 341.2h0M114.3 354.7h0M90.4 382.2h0M128.8 343.2h0M102.7 363.7h0M154.9 323.7h0M124.1 360.0h0M117.2 347.6h0M120.7 357.1h0M162.5 335.9h0M154.0 324.0h0M150.5 331.2h0M168.3 322.9h0M116.9 355.6h0M130.9 354.8h0M105.6 362.6h0M119.9 348.4h0M135.2 350.4h0M159.6 333.1h0M130.1 350.3h0M114.8 352.5h0M117.2 359.8h0M88.6 376.5h0M109.1 373.0h0M123.6 349.3h0M135.0 352.8h0M119.2 367.1h0M167.7 328.2h0M166.6 325.1h0M165.1 327.0h0M116.3 354.2h0M120.5 345.5h0M151.4 331.7h0M94.7 370.8h0M164.0 328.5h0M159.6 318.6h0M84.3 385.5h0M109.4 361.5h0M152.7 321.5h0M110.6 369.7h0M164.2 323.6h0M102.7 379.9h0M134.7 354.7h0M103.3 373.7h0M109.8 360.4h0M111.7 373.7h0M130.9 346.6h0M125.4 348.8h0M100.7 375.3h0M103.6 366.3h0M109.2 358.6h0M86.8 379.8h0M138.8 333.1h0M156.6 325.2h0M106.6 358.9h0M136.0 339.7h0M109.5 357.5h0M94.8 384.9h0M159.1 331.5h0M108.8 358.3h0M113.0 355.5h0M133.5 349.5h0M154.6 326.6h0M163.9 331.6h0M161.8 326.6h0M161.5 333.9h0M142.3 347.3h0M151.9 336.0h0M104.0 381.7h0M167.4 328.1h0M124.2 361.8h0M92.3 379.6h0M111.1 369.1h0M144.7 347.7h0M163.9 332.6h0M92.3 378.2h0M98.1 380.3h0M86.1 388.4h0M114.0 359.9h0M119.4 356.8h0M160.0 333.2h0M133.9 340.5h0M111.3 374.0h0M113.1 359.6h0M162.5 330.0h0M104.9 363.4h0M160.3 320.6h0M128.8 352.4h0M89.8 375.5h0M161.7 334.7h0M141.9 352.8h0M99.7 378.9h0M137.4 345.2h0M112.9 355.8h0M117.3 349.5h0M113.0 357.3h0M125.9 349.4h0M109.5 360.8h0M103.9 362.2h0M126.5 366.2h0M126.7 342.5h0M144.8 342.9h0M99.9 366.1h0M113.2 363.0h0M160.3 326.6h0M106.2 363.7h0M112.6 364.6h0M105.6 359.3h0M135.5 336.1h0M91.0 380.4h0M98.3 373.5h0M102.6 362.5h0M94.0 371.1h0M116.8 362.7h0M98.1 380.1h0M123.9 350.2h0M149.3 329.2h0M82.4 384.7h0M106.2 368.2h0M170.5 316.6h0M88.6 381.7h0M129.0 355.5h0M102.0 367.2h0M158.0 322.1h0M165.4 329.4h0M107.2 374.4h0M148.3 343.6h0M108.3 368.1h0M111.3 362.7h0M165.7 322.7h0M103.2 376.1h0M147.1 331.2h0M168.9 327.5h0M94.0 384.9h0M161.5 323.8h0M145.4 338.3h0M99.0 373.5h0M101.2 377.8h0M88.2 384.3h0M169.1 319.3h0M135.9 333.6h0M130.3 360.0h0M104.0 358.2h0M107.8 359.4h0M122.5 355.1h0M114.3 357.9h0M120.5 362.2h0M120.4 363.8h0M130.1 357.4h0M134.1 343.9h0M140.7 337.2h0M109.1 374.1h0M101.0 379.8h0M91.3 380.0h0M90.9 386.4h0M129.9 356.0h0M122.0 363.7h0M86.2 384.4h0M143.2 332.9h0M144.9 338.3h0M163.0 328.8h0M97.8 370.8h0M147.2 326.0h0M130.0 352.2h0M136.8 349.7h0M166.8 316.4h0M128.5 357.7h0M105.6 362.6h0M129.0 350.4h0M101.9 369.0h0M92.1 381.7h0M164.5 319.5h0M108.9 367.4h0M152.4 338.2h0M154.4 331.8h0M159.9 326.3h0M158.5 332.3h0M142.0 346.5h0M153.8 334.4h0M145.5 334.5h0M91.8 380.7h0M122.4 364.8h0M149.3 329.5h0M137.5 336.6h0M143.5 328.4h0M109.4 364.9h0M139.6 343.5h0M149.3 327.4h0M113.2 363.7h0M152.4 337.2h0M96.6 380.2h0M97.8 373.2h0M114.3 372.8h0M94.1 370.1h0M108.2 370.1h0M160.3 327.9h0M150.2 337.6h0M124.1 354.4h0M138.0 350.9h0M106.2 373.9h0M136.6 343.1h0M122.5 352.6h0M103.3 372.5h0M113.1 364.6h0M144.3 341.6h0M106.9 353.7h0M139.6 341.6h0M130.6 340.1h0M135.0 337.7h0M142.8 339.4h0M159.0 331.2h0M100.6 381.7h0M138.7 343.2h0M103.0 379.3h0M166.9 328.0h0M141.9 341.6h0M164.8 322.4h0M117.3 349.3h0M98.3 367.1h0M136.4 348.4h0M116.9 371.6h0M144.3 331.3h0M141.3 338.9h0M158.5 327.3h0M112.5 361.2h0M128.8 357.1h0M130.0 344.3h0M153.2 335.7h0M169.4 329.1h0M109.3 364.9h0M146.1 338.5h0M99.7 374.1h0M96.8 386.9h0M120.5 367.0h0M108.1 372.3h0M110.2 354.0h0M94.8 387.5h0M97.7 379.7h0M140.1 341.7h0M132.3 342.4h0M167.8 325.0h0M150.4 333.7h0M118.6 370.2h0M124.6 345.4h0M106.1 372.0h0M148.6 331.3h0M100.0 366.5h0M88.1 383.0h0M96.5 375.6h0M111.0 367.5h0M126.7 367.8h0M169.2 314.3h0M88.7 388.6h0M126.3 350.1h0M103.6 367.5h0M158.9 324.1h0M139.3 351.3h0M113.7 349.2h0M114.6 350.4h0M99.9 380.0h0M127.6 351.3h0M136.5 346.0h0M108.7 372.5h0M139.7 350.5h0M104.1 359.9h0M149.4 337.4h0M109.0 364.6h0M157.5 322.4h0M148.2 335.7h0M155.9 328.1h0M161.5 333.9h0M143.5 327.3h0M118.7 364.3h0M153.6 332.2h0M122.0 350.6h0M110.7 365.8h0M123.7 366.6h0M87.9 379.9h0M132.8 344.6h0M113.3 352.4h0M146.3 338.6h0M158.3 341.7h0M168.5 325.3h0M164.6 322.0h0M125.5 360.1h0M160.3 320.8h0M92.5 377.5h0M168.2 322.5h0M118.6 348.2h0M140.0 342.8h0M151.7 340.9h0M132.8 355.9h0M152.6 335.2h0M146.9 337.9h0M120.3 361.1h0M147.3 338.0h0M96.2 368.9h0M108.9 359.4h0M150.8 341.4h0M151.9 335.1h0M118.2 351.9h0M126.5 349.7h0M128.5 337.3h0M153.9 332.2h0M159.3 320.9h0M148.1 324.7h0M97.2 371.8h0M100.8 379.5h0M133.8 344.4h0M152.0 341.4h0M100.6 366.7h0M155.7 320.8h0M84.9 384.6h0M122.5 361.5h0M122.3 355.2h0M138.9 346.9h0M163.5 318.9h0M159.0 324.7h0M105.6 356.8h0M134.6 339.4h0M156.1 324.3h0M123.5 355.0h0M97.3 378.8h0M113.7 353.0h0M109.6 359.0h0M87.5 388.5h0M128.7 355.7h0M109.3 356.7h0M144.1 346.6h0M162.0 327.7h0M110.8 364.4h0M92.8 377.4h0M115.2 361.1h0M123.8 354.0h0M160.3 324.4h0M147.3 335.6h0M97.7 375.7h0M143.3 347.5h0M122.1 354.8h0M163.8 328.4h0M134.7 337.6h0M130.2 362.7h0M102.8 365.0h0M132.0 334.4h0M111.0 370.9h0M160.3 327.7h0M107.9 358.3h0M118.9 364.5h0M108.6 372.4h0M91.9 373.9h0M128.0 351.0h0M91.0 385.0h0M110.1 373.1h0M132.9 346.7h0M100.1 372.6h0M132.3 338.2h0M121.1 354.6h0M118.3 354.3h0M122.1 367.3h0M133.1 339.9h0M116.0 367.1h0M155.6 336.2h0M165.7 316.9h0M94.1 391.1h0M149.3 339.9h0M115.5 352.9h0M116.7 361.8h0M108.8 357.9h0M166.9 330.2h0M139.5 347.5h0M125.9 363.7h0M103.0 375.9h0M168.2 317.7h0M171.9 324.3h0M121.9 341.5h0M157.3 338.1h0M110.6 363.0h0M168.4 318.4h0M99.7 380.5h0M106.2 361.5h0M83.5 387.4h0M169.0 323.2h0M145.1 332.7h0M138.8 351.9h0M113.4 358.9h0M161.7 329.0h0M153.9 337.2h0M115.9 365.1h0M153.8 325.6h0M163.1 320.5h0M147.8 341.3h0M132.2 345.4h0M170.4 319.8h0M165.9 325.5h0M91.0 380.2h0M101.5 365.1h0M156.9 325.0h0M142.6 329.6h0M159.4 339.1h0M129.6 356.9h0M156.5 334.5h0M121.5 345.6h0M145.3 339.7h0M162.8 327.0h0M160.3 339.5h0M163.7 326.7h0M90.4 382.8h0M123.1 368.0h0M88.3 384.0h0M161.5 333.4h0M157.2 331.6h0M165.5 314.4h0M116.9 362.9h0M93.4 382.4h0M148.5 338.7h0M98.4 369.6h0M146.7 343.4h0M124.6 365.4h0M137.8 334.7h0M98.0 367.7h0M86.0 381.8h0M159.1 334.8h0M137.4 348.0h0M138.3 352.5h0M121.5 360.8h0M112.9 368.1h0M129.6 357.0h0M143.0 347.1h0M111.8 357.4h0M154.0 329.2h0M101.7 364.7h0M96.1 377.5h0M132.4 356.6h0M165.8 320.4h0M116.8 362.1h0M135.3 343.1h0M106.2 365.8h0M105.0 365.8h0M143.7 333.7h0M171.3 320.9h0M171.1 314.1h0M122.6 362.9h0M107.1 366.3h0M129.8 361.8h0M107.2 374.8h0M106.9 370.2h0M158.1 330.3h0M130.4 350.8h0M98.7 380.0h0M89.6 385.3h0M135.2 343.1h0M105.7 375.9h0M158.1 337.6h0M149.1 331.4h0M155.5 328.1h0M160.0 335.1h0M114.2 366.6h0M86.6 383.9h0M99.8 365.2h0M95.5 382.1h0M136.9 345.5h0M99.6 385.9h0M131.2 352.7h0M90.1 387.6h0M163.9 330.3h0M135.4 340.7h0M155.0 334.4h0M159.6 330.9h0M101.9 374.1h0M150.5 340.0h0M91.6 371.9h0M155.1 340.6h0M136.3 341.4h0M102.4 374.4h0M163.0 320.8h0M93.0 380.3h0M155.1 343.8h0M147.9 336.0h0M133.6 354.7h0M90.3 376.0h0M155.8 330.8h0M89.7 378.8h0M111.2 361.2h0M139.0 336.2h0M147.1 334.0h0M131.3 344.2h0M131.9 355.5h0M120.5 354.4h0M121.9 362.7h0M118.1 367.1h0M95.0 385.5h0M102.5 360.8h0M151.8 343.0h0M130.8 353.4h0M100.9 370.3h0M120.7 345.8h0M102.5 366.0h0M154.0 319.8h0M98.8 373.5h0M156.6 329.2h0M141.4 352.9h0M147.7 332.2h0M149.3 327.4h0M103.4 361.7h0M106.0 359.3h0M164.9 327.2h0M151.2 327.7h0M170.7 324.0h0M111.5 368.7h0M171.1 317.3h0M99.2 385.5h0M87.9 373.2h0M117.8 356.6h0M90.7 385.5h0M138.6 349.4h0M126.5 346.7h0M122.9 356.0h0M128.6 344.9h0M143.6 333.2h0M120.4 349.4h0M166.1 319.2h0M104.7 366.3h0M113.1 355.7h0M91.0 373.3h0M109.7 372.7h0M90.6 377.0h0M145.6 351.1h0M109.9 351.8h0M113.9 357.8h0M161.8 326.9h0M123.5 349.9h0M124.4 346.2h0M110.7 368.4h0M106.8 374.7h0M160.0 329.0h0M93.6 376.0h0M93.8 388.0h0M132.0 337.2h0M104.4 364.2h0M153.5 327.1h0M164.0 317.6h0M161.1 322.8h0M168.4 314.8h0M143.6 331.3h0M122.6 373.4h0M98.9 379.2h0M105.2 368.4h0M89.6 390.1h0M167.2 332.4h0M82.9 384.1h0M123.3 362.7h0M160.5 320.3h0M163.0 316.3h0M91.5 374.8h0M80.0 385.4h0M138.1 341.5h0M115.0 360.9h0M152.4 334.8h0M153.5 336.8h0M137.3 350.1h0M119.5 354.0h0M128.9 345.1h0M131.6 347.1h0M143.0 329.0h0M138.4 346.5h0M123.1 363.5h0M110.4 368.5h0M168.8 327.1h0M140.6 353.3h0M140.5 332.3h0M114.0 357.3h0M124.2 346.7h0M101.0 369.1h0M109.7 358.7h0M149.1 326.8h0M137.5 344.9h0M111.9 361.0h0M157.4 328.7h0M106.9 362.5h0M132.0 344.9h0M147.9 328.2h0M116.8 346.7h0M130.9 340.6h0M98.7 371.5h0M120.0 355.2h0M105.6 371.7h0M86.3 384.7h0M113.6 369.0h0M125.8 351.2h0M130.5 357.7h0M159.9 322.1h0M107.1 369.1h0M163.3 334.8h0M90.1 380.3h0M130.0 353.2h0M140.7 347.9h0M147.8 339.6h0M169.1 320.1h0M161.1 335.9h0M86.5 385.2h0M162.3 325.7h0M137.2 342.8h0M121.3 346.3h0M92.0 377.8h0M105.6 355.7h0M143.2 349.5h0M132.8 354.9h0M113.5 369.5h0M136.9 355.4h0M99.7 382.7h0M128.9 349.5h0M150.3 334.7h0M118.3 353.5h0M85.1 386.3h0M124.2 366.2h0M151.7 336.2h0M140.7 334.7h0M110.9 365.6h0M98.3 377.0h0M133.8 335.5h0M129.2 353.8h0M168.3 329.7h0M139.9 347.8h0M143.6 354.8h0M92.1 373.9h0M85.0 380.8h0M129.5 358.3h0M97.8 380.4h0M122.0 364.8h0M121.2 358.6h0M144.9 340.2h0M155.9 330.9h0M161.7 321.8h0M114.8 357.0h0M160.3 323.5h0M151.9 336.5h0M167.0 325.0h0M172.7 325.7h0M112.8 357.9h0M112.2 354.3h0M169.2 322.9h0M140.3 333.3h0M127.8 348.9h0M146.8 338.1h0M134.1 351.9h0M106.1 372.1h0M131.4 358.1h0M137.5 348.6h0M116.7 368.4h0M141.3 348.7h0M109.0 360.3h0M110.4 373.7h0M140.2 356.5h0M104.2 360.2h0M142.4 331.9h0M169.2 315.1h0M87.9 371.4h0M110.5 355.6h0M134.8 346.8h0M145.4 336.0h0M96.5 375.0h0M155.4 335.9h0M126.2 349.5h0M147.4 344.6h0M165.8 323.3h0M150.6 334.6h0M106.7 355.7h0M121.9 352.0h0M148.2 340.9h0M118.4 361.6h0M138.5 334.7h0M155.7 320.2h0M168.7 324.6h0M121.0 358.1h0M96.5 378.0h0M119.8 348.1h0M136.0 356.1h0M111.9 374.5h0M133.8 334.6h0M163.3 324.6h0M155.1 334.0h0M168.9 322.4h0M126.7 360.8h0M113.3 350.9h0M172.0 328.7h0M141.5 335.9h0M115.4 350.3h0M142.3 341.4h0M98.6 367.7h0M153.9 337.6h0M123.3 351.2h0M169.3 332.9h0M128.4 345.0h0M113.8 370.7h0M94.6 375.0h0M140.6 339.9h0M153.3 327.7h0M114.8 362.6h0M93.9 374.5h0M133.0 342.7h0M122.9 362.7h0M144.8 337.9h0M112.1 366.6h0M129.4 360.3h0M143.1 340.8h0M106.1 360.7h0M91.2 383.6h0M106.5 359.9h0M97.9 381.8h0M135.2 342.6h0M152.9 331.6h0M111.6 363.4h0M109.4 354.7h0M104.3 377.2h0M162.0 333.1h0M139.9 346.1h0M104.5 368.4h0M163.6 321.3h0M129.6 359.8h0M129.6 356.3h0M123.4 348.3h0M160.4 317.9h0M140.2 343.4h0M127.2 356.1h0M134.4 340.2h0M140.9 340.9h0M166.0 326.2h0M162.8 329.6h0M102.0 378.1h0M108.0 370.1h0M127.8 359.0h0M158.5 319.8h0M93.8 379.9h0M138.4 334.1h0M167.0 332.7h0M138.4 333.5h0M120.6 353.2h0M156.3 334.5h0M146.0 341.7h0M131.2 359.3h0M116.4 360.5h0M129.4 359.5h0M135.7 351.3h0M96.4 368.8h0M123.6 364.5h0M151.3 332.1h0M151.6 337.2h0M127.4 362.2h0M112.1 357.3h0M131.6 360.9h0M130.7 357.2h0M83.0 388.3h0M160.6 327.1h0M160.4 335.5h0M112.0 368.9h0M106.2 363.1h0M125.9 350.2h0M95.2 370.4h0M132.5 359.2h0M144.4 324.0h0M96.3 376.5h0M151.2 328.7h0M115.9 365.0h0M138.9 330.9h0M152.3 345.6h0M144.8 345.6h0M115.1 355.3h0M151.5 331.5h0M139.3 330.7h0M138.7 334.7h0M168.5 331.2h0M109.8 366.2h0M140.2 343.8h0M155.4 325.0h0M168.2 326.7h0M120.7 348.2h0M148.4 338.8h0M125.4 348.1h0M157.9 322.6h0M148.6 345.5h0M115.4 355.1h0M110.5 363.7h0M100.9 377.4h0M131.9 354.5h0M97.7 366.2h0M136.2 357.7h0M167.9 320.9h0M116.9 358.3h0M110.7 361.5h0M101.9 372.4h0M116.0 366.9h0M125.0 360.8h0M111.4 358.1h0M156.3 336.8h0M143.9 334.4h0M164.5 322.7h0M147.1 331.7h0M144.0 338.9h0M115.4 365.6h0M116.7 368.3h0M154.9 337.2h0M140.3 346.7h0M104.8 377.7h0M148.1 335.3h0M141.1 349.7h0M103.4 377.6h0M115.6 362.6h0M129.8 349.7h0M145.8 346.3h0M124.7 350.8h0M106.2 365.2h0M171.0 320.5h0M100.8 368.9h0M95.9 374.1h0M99.5 364.7h0M83.2 382.4h0M127.7 345.8h0M154.1 331.1h0M131.6 349.4h0M117.6 351.8h0M139.9 345.3h0M104.1 368.4h0M108.5 358.3h0M146.5 341.8h0M106.3 361.7h0M150.2 330.9h0M152.6 333.5h0M103.3 371.1h0M113.8 370.2h0M109.4 371.5h0M89.2 383.2h0M120.0 363.9h0M147.4 332.8h0M129.0 360.1h0M135.9 355.9h0M146.6 324.1h0M142.3 341.3h0M94.2 375.0h0M96.8 372.0h0M106.8 368.7h0M161.1 328.5h0M161.1 328.2h0M117.0 363.3h0M137.5 350.3h0M83.8 384.3h0M139.6 339.5h0M160.2 329.8h0M87.2 380.3h0M132.0 351.0h0M150.2 339.5h0M89.6 386.1h0M87.6 383.7h0M160.8 332.5h0M114.8 366.5h0M158.3 323.0h0M105.6 374.4h0M87.3 386.2h0M97.3 372.5h0M121.5 364.8h0M124.6 361.0h0M107.5 372.9h0M155.7 327.6h0M102.2 363.0h0M90.5 375.5h0M103.1 362.8h0M151.6 328.2h0M155.2 329.8h0M156.9 334.8h0M167.1 322.0h0M138.4 349.8h0M109.9 367.9h0M147.6 329.3h0M130.0 342.5h0M142.8 339.8h0M149.7 348.6h0M142.3 332.8h0M130.7 345.1h0M110.6 371.5h0M132.1 358.9h0M132.6 356.5h0M103.6 378.8h0M159.9 324.2h0M128.0 357.9h0M111.8 357.8h0M139.9 341.9h0M142.4 332.5h0M146.9 341.4h0M151.3 338.2h0M127.8 353.3h0M148.4 330.9h0M93.6 379.7h0M154.8 331.5h0M89.9 385.4h0M95.3 368.0h0M137.4 353.3h0M121.2 349.8h0M97.3 368.2h0M145.4 336.0h0M112.2 371.2h0M170.1 323.6h0M143.1 343.2h0M159.4 326.8h0M148.0 334.1h0M131.1 350.6h0M134.8 338.8h0M127.6 357.1h0M169.3 322.1h0M165.8 316.6h0M135.7 346.2h0M170.8 319.6h0M114.3 357.6h0M98.3 383.4h0M164.3 328.1h0M132.3 354.4h0M170.7 318.0h0M86.6 390.8h0M90.8 380.9h0M89.1 379.5h0M150.2 326.6h0M98.1 370.9h0M161.3 334.5h0M93.9 380.6h0M110.6 369.1h0M122.1 357.3h0M96.0 380.4h0M119.0 346.7h0M95.3 385.5h0M95.6 374.5h0M127.5 345.1h0M115.3 366.6h0M110.6 371.8h0M160.5 333.4h0M111.0 358.0h0M164.0 322.6h0M130.0 351.9h0M90.7 378.5h0M156.4 325.5h0M101.0 370.9h0M108.7 363.1h0M105.6 364.9h0M139.8 342.5h0M108.3 368.3h0M149.4 341.1h0M112.8 367.0h0M92.9 377.7h0M145.4 343.5h0M152.0 333.3h0M130.9 346.4h0M160.8 319.4h0M94.9 374.7h0M104.2 371.1h0M82.1 390.4h0M104.8 369.3h0M108.8 367.4h0M101.1 380.4h0M96.1 370.3h0M132.4 352.8h0M98.3 378.3h0M163.5 327.8h0M168.4 321.7h0M120.1 357.5h0M100.7 384.0h0M127.1 350.2h0M126.3 344.3h0M157.7 318.3h0M157.3 337.1h0M142.2 336.3h0M113.0 366.2h0M100.5 379.9h0M167.3 316.9h0M125.3 353.8h0M107.4 375.5h0M144.4 333.4h0M161.9 326.2h0M134.0 357.9h0M121.7 363.5h0M112.6 375.8h0M135.5 341.2h0M155.9 320.9h0M141.4 348.4h0M127.4 350.8h0M103.1 368.2h0M148.9 327.4h0M160.2 329.8h0M111.5 360.7h0M161.9 324.7h0M104.4 361.0h0M142.7 334.0h0M87.5 380.6h0M110.7 363.2h0M133.3 355.1h0M136.4 337.1h0M118.2 347.7h0M127.7 343.6h0M112.5 370.5h0M105.6 374.1h0M117.8 365.3h0M136.8 337.3h0M144.0 331.6h0M168.1 315.2h0M91.1 382.7h0M169.7 323.5h0M100.5 379.0h0M90.9 379.8h0M144.4 331.8h0M121.6 351.5h0M170.7 329.4h0M103.1 375.2h0M130.6 344.4h0M101.3 361.5h0M167.1 313.2h0M118.8 348.2h0M168.2 316.8h0M146.1 341.5h0M116.8 364.4h0M117.5 364.0h0M133.5 349.1h0M117.0 363.1h0M85.1 390.0h0M143.1 344.3h0M119.1 362.0h0M167.1 329.2h0M168.4 329.7h0M111.2 357.5h0M135.5 343.8h0M145.8 343.3h0M89.0 386.0h0M130.0 353.5h0M156.3 323.4h0M100.1 382.3h0M107.5 368.7h0M144.0 347.2h0M95.4 373.9h0M173.3 326.5h0M115.4 352.2h0M99.9 376.5h0M152.0 342.9h0M150.8 334.9h0M86.2 382.6h0M129.8 344.7h0M125.7 348.1h0M131.1 356.0h0M124.3 349.1h0M87.6 382.1h0M142.2 343.6h0M134.2 356.7h0M145.6 330.5h0M99.2 367.3h0M158.8 317.5h0M127.5 347.6h0M117.4 367.2h0M115.2 358.2h0M134.4 337.9h0M99.2 368.0h0M88.7 386.3h0M112.7 359.3h0M141.8 351.5h0M109.8 360.3h0M90.8 375.1h0M136.0 347.0h0M97.5 376.3h0M153.6 322.2h0M161.1 320.3h0M144.6 337.0h0M133.3 358.5h0M127.9 345.2h0M151.9 333.4h0M114.1 351.7h0M134.5 351.0h0M128.5 341.3h0M151.9 321.8h0M157.5 331.0h0M111.6 368.6h0M99.1 376.3h0M123.7 355.1h0M127.0 341.8h0M131.1 355.5h0M155.4 325.2h0M117.5 357.8h0M122.3 352.8h0M133.8 351.5h0M103.6 365.4h0M142.8 333.8h0M126.6 353.1h0M169.4 320.7h0M136.3 340.1h0M166.1 318.0h0M96.1 379.3h0M91.3 382.4h0M86.8 387.5h0M161.4 321.7h0M155.1 324.1h0M138.7 346.3h0M127.2 343.7h0M100.8 361.8h0M127.8 362.3h0M119.4 360.0h0M153.9 336.0h0M121.5 349.4h0M144.8 334.8h0M99.0 375.9h0M88.2 380.1h0M146.9 325.8h0M109.1 361.2h0M102.4 377.9h0M149.0 344.2h0M142.4 341.5h0M101.2 381.2h0M109.3 374.9h0M93.2 377.1h0M114.6 353.7h0M127.4 352.2h0M147.5 335.4h0M150.0 327.0h0M93.8 367.5h0M102.6 364.2h0M137.2 347.6h0M141.1 337.5h0M161.3 320.4h0M146.6 336.8h0M111.8 361.1h0M126.3 353.7h0M112.1 352.7h0M100.8 367.1h0M123.0 343.1h0M144.3 344.1h0M162.4 329.4h0M139.3 350.8h0M93.1 374.4h0M152.0 338.9h0M123.3 349.9h0M155.1 336.6h0M138.5 344.7h0M150.9 333.0h0M167.8 330.6h0M100.2 374.3h0M96.8 369.2h0M163.9 313.4h0M122.5 354.5h0M146.9 342.6h0M98.7 372.9h0M151.3 335.3h0M123.6 355.9h0M161.3 331.2h0M137.8 343.3h0M100.1 372.8h0M141.4 332.6h0M167.9 324.7h0M97.3 376.1h0M138.2 335.1h0M147.3 346.7h0M152.5 328.6h0M122.0 352.1h0M126.0 347.4h0M144.5 328.0h0M142.6 333.7h0M96.4 371.0h0M123.6 346.0h0M113.2 359.9h0M106.4 366.6h0M108.4 366.6h0M132.6 338.4h0M107.9 369.8h0M147.0 332.3h0M162.1 325.2h0M113.3 361.6h0M169.9 324.4h0M144.1 330.2h0M101.7 376.4h0M112.5 361.5h0M114.6 371.1h0M130.0 346.5h0M172.6 320.1h0M117.2 353.6h0M153.0 336.3h0M158.1 332.8h0M143.0 331.3h0M153.3 332.2h0M104.8 373.3h0M106.8 365.1h0M133.4 346.2h0M124.1 347.3h0M121.2 362.6h0M116.1 361.2h0M130.3 342.4h0M134.9 345.0h0M142.5 346.9h0M137.4 347.6h0M158.1 330.9h0M133.9 350.8h0M151.2 336.4h0M154.4 326.1h0M95.4 372.8h0M165.4 329.0h0M94.5 371.4h0M102.8 376.8h0M123.9 347.8h0M171.5 313.1h0M108.0 372.5h0M112.7 351.0h0M107.8 375.3h0M125.2 355.7h0M122.8 361.0h0M112.7 365.1h0M96.0 383.6h0M168.6 330.4h0M157.8 335.4h0M115.0 351.6h0M128.0 349.0h0M159.0 334.8h0M142.7 347.1h0M97.9 380.5h0M91.9 379.5h0M121.7 353.3h0M146.1 348.0h0M144.5 331.2h0M137.1 337.2h0M121.5 356.9h0M126.8 347.6h0M81.8 385.3h0M117.5 354.1h0M173.5 320.3h0M158.0 336.2h0M101.1 363.0h0M108.0 356.0h0M102.1 379.5h0M87.5 388.6h0M136.0 338.1h0M99.1 381.8h0M100.6 369.0h0M128.5 347.9h0M107.0 365.1h0M156.0 328.1h0M161.4 331.1h0M130.5 340.9h0M167.5 322.9h0M138.9 349.6h0M126.5 348.9h0M125.2 353.9h0M103.3 380.9h0M124.1 355.5h0M116.0 355.5h0M171.6 322.0h0M117.3 368.5h0M115.2 360.7h0M83.9 386.1h0M157.1 336.5h0M134.2 347.0h0M117.4 362.8h0M138.7 341.2h0M145.7 328.8h0M124.5 348.9h0M160.2 330.2h0M129.1 352.2h0M121.8 357.9h0M132.3 354.4h0M156.6 333.1h0M125.1 353.5h0M89.0 384.8h0M105.1 366.3h0M91.4 379.8h0M92.2 388.5h0M86.4 388.3h0M128.4 354.1h0M136.0 351.3h0M134.2 352.9h0M124.3 347.8h0M112.4 363.5h0M114.5 358.5h0M166.8 321.0h0M110.0 369.4h0M111.4 353.6h0M159.7 320.7h0M141.4 346.7h0M156.6 325.4h0M152.8 338.9h0M136.4 356.0h0M128.1 353.9h0M124.5 353.7h0M147.4 326.3h0M153.2 328.2h0M146.7 331.6h0M108.8 358.1h0M122.1 356.6h0M143.6 329.1h0M120.9 360.9h0M141.8 333.5h0M134.2 341.2h0M153.2 326.3h0M152.6 327.5h0M163.9 315.9h0M118.4 359.7h0M146.6 336.5h0M106.5 376.7h0M118.9 361.6h0M106.8 356.8h0M115.4 354.9h0M136.8 343.9h0M146.3 337.2h0M110.9 361.0h0M114.6 353.9h0M137.2 337.6h0M91.1 376.6h0M150.3 337.9h0M87.1 385.7h0M118.7 360.4h0M113.5 348.1h0M152.2 329.1h0M138.9 337.7h0M109.5 354.7h0M126.2 349.5h0M87.8 389.3h0M99.9 359.3h0M140.3 351.2h0M170.8 321.9h0M125.9 355.0h0M96.6 376.3h0M104.8 365.2h0M118.9 355.6h0M130.6 361.1h0M110.6 369.9h0M94.2 366.9h0M98.8 378.9h0M141.2 330.5h0M152.3 335.4h0M96.4 372.7h0M111.2 360.5h0M136.1 336.2h0M89.8 381.2h0M102.8 370.7h0M171.0 317.3h0M113.3 369.0h0M139.5 338.7h0M132.9 362.7h0M163.6 310.8h0M101.0 383.6h0M119.9 352.5h0M131.9 347.5h0M106.7 368.2h0M148.9 340.7h0M114.1 355.5h0M115.6 372.4h0M122.0 353.3h0M127.5 358.2h0M148.2 332.2h0M97.6 365.8h0M137.0 350.4h0M133.1 346.8h0M138.7 334.1h0M128.3 342.6h0M167.3 318.8h0M101.5 365.5h0M132.6 351.5h0M165.4 326.8h0M157.6 328.6h0M142.6 330.6h0M108.8 355.4h0M150.0 325.3h0M154.4 330.2h0M85.5 388.0h0M152.3 332.7h0M135.5 350.9h0M152.5 327.8h0M121.2 350.5h0M158.2 327.7h0M95.9 376.6h0M136.3 351.2h0M171.4 315.0h0M122.7 356.4h0M135.3 347.7h0M135.2 338.7h0M112.6 362.7h0M81.5 380.8h0M120.8 367.4h0M134.8 352.5h0M152.7 328.1h0M146.5 339.6h0M150.1 341.2h0M159.4 338.2h0M122.8 347.9h0M146.8 332.1h0M165.6 319.7h0M152.5 329.9h0M99.1 383.1h0M116.6 367.4h0M151.5 335.0h0M140.5 335.2h0M140.8 346.9h0M161.4 318.4h0M163.6 333.0h0M111.1 352.8h0M169.8 317.8h0M160.7 327.2h0M149.6 325.2h0M122.7 368.7h0M115.6 355.4h0M114.7 363.5h0M137.1 342.0h0M139.6 354.0h0M147.6 338.7h0M156.0 332.9h0M144.9 333.9h0M161.0 330.3h0M116.9 349.5h0M151.8 336.3h0M152.4 324.6h0M105.7 366.7h0M121.9 352.5h0M106.8 373.2h0M119.6 362.3h0M106.9 364.3h0M136.2 350.1h0M129.2 357.1h0M141.2 336.0h0M141.8 333.4h0M144.0 342.3h0M109.0 362.9h0M146.7 348.8h0M148.9 332.8h0M132.5 341.0h0M160.2 322.0h0M121.6 354.9h0M112.0 362.6h0M154.7 334.7h0M85.4 390.6h0M122.6 349.9h0M112.4 354.8h0M114.7 368.0h0M110.1 370.8h0M133.4 351.1h0M163.0 319.5h0M89.3 385.9h0M153.5 326.3h0M150.8 337.0h0M168.2 325.8h0M89.8 382.7h0M142.5 338.3h0M138.3 341.4h0M96.7 375.4h0M117.9 367.6h0M158.7 328.0h0" stroke="#060606" stroke-width="1.30" stroke-linecap="square" fill="none" opacity="1.00"/>
<path d="M117.5 354.3h0M88.9 382.9h0M158.8 326.2h0M108.2 361.7h0M166.4 323.7h0M101.7 370.3h0M102.2 369.1h0M144.5 336.1h0M134.3 343.4h0M145.5 338.0h0M134.0 350.8h0M127.4 354.3h0M144.7 336.6h0M105.6 366.1h0M97.2 373.9h0M141.0 340.2h0M107.0 365.4h0M133.5 345.4h0M104.0 367.9h0M95.5 377.2h0M102.1 367.1h0M164.1 321.7h0M146.2 337.7h0M104.5 364.2h0M151.6 332.6h0M122.6 350.8h0M95.8 380.5h0M144.8 333.9h0M138.3 342.5h0M144.0 342.5h0M129.4 353.3h0M129.0 354.1h0M117.7 362.6h0M166.8 320.5h0M105.5 363.7h0M153.2 331.6h0M122.3 357.9h0M109.9 362.5h0" stroke="#ffffff" stroke-width="1.00" stroke-linecap="square" fill="none" opacity="0.40"/>
<path d="M179.3 326.4h0M176.1 316.0h0M164.9 322.7h0M184.2 311.9h0M165.6 327.3h0M184.9 310.7h0M179.4 311.9h0M160.1 321.4h0M180.7 304.9h0M186.8 309.1h0M159.5 322.4h0M194.0 296.4h0M177.0 317.9h0M188.5 316.8h0M195.9 301.2h0M185.0 317.5h0M174.4 330.3h0M173.5 326.3h0M175.6 323.8h0M193.1 298.1h0M172.7 309.4h0M173.0 329.5h0M179.7 310.0h0M170.9 319.2h0M184.9 305.5h0M191.5 300.9h0M176.1 310.7h0M172.9 324.5h0M182.9 321.6h0M195.0 299.7h0M186.3 311.2h0M162.4 325.4h0M185.8 309.6h0M172.9 329.8h0M187.3 304.5h0M191.0 299.8h0M177.3 330.4h0M183.9 305.3h0M170.8 327.8h0M174.7 331.6h0M172.9 327.5h0M166.8 333.4h0M182.5 327.4h0M184.9 302.2h0M161.7 317.4h0M171.9 326.0h0M179.4 312.0h0M175.3 322.8h0M193.3 301.3h0M188.3 303.9h0M183.2 310.4h0M184.9 320.6h0M166.6 317.0h0M186.4 317.2h0M173.3 316.3h0M180.9 315.7h0M183.8 302.3h0M169.9 332.0h0M169.1 317.5h0M163.6 318.8h0M159.5 328.5h0M161.6 329.3h0M164.1 334.5h0M189.3 320.2h0M171.7 322.8h0M180.6 303.8h0M176.1 321.8h0M160.7 330.0h0M164.3 328.4h0M195.4 300.3h0M187.0 316.6h0M182.5 301.6h0M178.2 312.1h0M186.3 303.7h0M188.3 303.0h0M174.7 329.9h0M179.5 321.6h0M174.0 322.9h0M168.6 325.8h0M191.6 302.8h0M185.7 300.0h0M178.5 321.7h0M180.2 309.5h0M165.8 319.6h0M180.5 322.2h0M171.5 313.3h0M165.7 318.4h0M164.8 333.2h0M166.5 324.1h0M163.3 332.1h0M169.9 329.1h0M180.3 324.5h0M175.2 322.7h0M183.8 302.8h0M175.7 331.2h0M174.8 308.7h0M168.5 319.6h0M174.2 326.8h0M173.3 323.5h0M164.7 329.9h0M168.7 330.5h0M173.7 331.7h0M164.7 326.4h0M175.1 306.2h0M171.1 303.9h0M178.6 319.8h0M187.5 300.8h0M169.2 308.4h0M196.9 298.6h0M185.0 311.0h0M181.7 315.1h0M176.4 320.7h0M168.6 317.6h0M193.8 298.5h0M169.1 322.1h0M186.4 312.1h0M174.3 320.6h0M177.3 306.0h0M182.8 304.5h0M175.0 317.9h0M184.7 321.3h0M186.1 301.7h0M176.1 323.5h0M173.0 330.4h0M162.6 333.5h0M170.5 330.7h0M175.2 329.5h0M164.5 316.6h0M177.1 328.6h0M198.2 301.7h0M168.4 319.7h0M173.6 324.1h0M177.2 325.2h0M175.1 330.4h0M192.1 307.0h0M194.2 302.7h0M158.4 331.0h0M172.0 326.2h0M175.4 324.3h0M163.2 334.3h0M179.2 322.9h0M190.7 296.0h0M174.4 329.0h0M162.5 312.7h0M184.6 313.6h0M182.1 322.1h0M170.2 315.0h0M184.5 306.7h0M166.9 319.2h0M167.8 333.0h0M183.2 301.9h0M177.3 318.4h0M184.2 323.7h0M184.7 301.4h0M169.6 329.9h0M177.9 305.7h0M162.8 325.5h0M182.4 315.8h0M166.7 319.4h0M188.0 314.4h0M193.7 300.1h0M180.4 311.0h0M172.2 325.0h0M183.0 310.6h0M177.8 306.1h0M195.6 298.6h0M176.0 319.2h0M183.9 325.6h0M177.8 330.2h0M182.6 304.8h0M168.4 331.7h0M185.6 304.5h0M164.1 319.5h0M178.6 325.8h0M173.0 330.1h0M188.0 312.8h0M165.5 311.2h0M164.4 335.8h0M180.4 320.1h0M175.7 327.2h0M172.1 327.4h0M173.0 312.2h0M171.4 313.5h0M188.7 297.0h0M186.8 314.2h0M187.3 308.7h0M175.1 325.3h0M181.4 326.0h0M177.9 329.4h0M170.2 314.5h0M169.9 314.2h0M165.9 320.6h0M192.1 301.8h0M178.2 317.0h0M172.9 321.6h0M198.5 297.8h0M176.0 315.3h0M168.2 325.5h0M189.3 319.1h0M168.1 324.9h0M176.7 325.7h0M188.9 300.8h0M167.1 316.3h0M184.6 323.9h0M168.3 323.8h0M184.9 305.2h0M176.2 311.7h0M175.9 322.7h0M188.7 301.0h0M164.0 319.2h0M175.5 311.8h0M185.8 298.2h0M193.9 304.1h0M168.3 328.0h0M189.6 298.6h0M176.0 327.0h0M192.5 296.9h0M169.4 316.5h0M166.4 328.7h0M183.0 322.6h0M193.2 302.2h0M166.5 332.7h0M179.5 311.4h0M178.8 312.5h0M179.7 304.7h0M192.0 300.4h0M185.3 302.0h0M174.3 328.3h0M167.8 320.7h0M183.1 306.1h0M173.2 328.7h0M168.6 312.3h0M170.3 331.1h0M176.9 310.2h0M184.9 318.0h0M171.5 313.2h0M178.1 313.7h0M168.3 314.9h0M185.8 311.9h0M187.3 304.6h0M176.7 324.9h0M178.7 315.4h0M188.6 304.7h0M173.2 320.0h0M175.2 322.5h0M177.2 313.8h0M191.6 303.8h0M170.6 327.2h0M183.3 309.0h0M179.1 303.0h0M170.5 308.5h0M178.0 308.4h0M197.5 298.5h0M170.7 323.6h0M190.9 295.0h0M159.6 329.9h0M185.7 316.1h0M182.4 307.0h0M174.9 316.9h0M183.6 307.2h0M191.4 301.9h0M161.1 318.3h0M190.2 300.0h0M179.7 318.6h0M176.6 326.5h0M182.3 308.0h0M174.1 317.1h0M199.3 300.3h0M169.1 318.5h0M160.0 324.3h0M186.0 305.0h0M168.7 323.5h0M165.8 321.8h0M162.4 322.6h0M167.0 310.9h0M182.4 307.5h0M169.5 330.9h0M164.9 319.1h0M171.2 330.9h0M171.2 331.4h0M171.9 330.9h0M160.9 318.7h0M165.6 320.3h0M176.4 307.6h0M170.6 327.3h0M186.5 302.2h0M188.9 303.7h0M176.3 328.1h0M182.0 321.9h0M181.8 308.8h0M175.2 311.9h0M193.2 300.9h0M180.1 320.4h0M195.1 294.3h0M165.7 331.6h0M179.8 305.3h0M198.3 300.3h0M177.0 323.9h0M191.1 302.1h0M182.9 313.9h0M183.6 303.4h0M178.8 326.9h0M190.0 305.6h0M188.6 297.6h0M180.2 320.4h0M178.3 314.4h0M196.2 303.4h0M179.0 312.5h0M173.6 324.2h0M170.0 315.6h0M171.4 314.0h0M184.6 308.1h0M161.7 320.9h0M170.6 316.9h0M167.2 325.6h0M175.0 323.9h0M192.9 300.7h0M162.0 332.0h0M184.2 307.9h0M186.2 306.0h0M164.5 320.8h0M163.5 322.3h0M179.9 317.7h0M171.1 330.4h0M179.6 301.5h0M164.5 313.0h0M172.9 330.6h0M172.4 314.0h0M185.6 313.3h0M165.7 321.0h0M177.2 311.6h0M164.2 318.2h0M189.2 298.3h0M193.3 303.5h0M185.3 309.9h0M189.4 317.3h0M188.8 309.1h0M179.8 309.2h0M199.7 300.4h0M177.5 306.0h0M194.7 303.4h0M171.4 327.1h0M183.2 317.2h0M175.4 327.0h0M175.9 319.6h0M191.8 297.3h0M182.7 317.2h0M185.1 304.7h0M190.2 304.9h0M164.8 313.4h0M161.3 328.6h0M176.0 329.9h0M195.1 299.7h0M188.5 318.5h0M185.2 317.7h0M159.6 321.2h0M159.6 317.8h0M172.9 330.1h0M165.5 313.4h0M200.8 301.2h0M174.9 327.3h0M194.1 300.9h0M187.6 306.3h0M165.2 318.8h0M166.1 330.3h0M168.5 325.8h0M174.8 306.6h0M183.4 310.5h0M186.2 305.0h0M175.8 324.5h0M175.6 316.8h0M177.9 331.4h0M179.3 321.7h0M174.6 327.2h0M185.2 322.4h0M197.0 303.0h0M180.0 310.3h0M174.6 327.4h0M195.6 295.2h0M169.3 328.0h0M172.8 330.7h0M182.4 317.7h0M179.2 321.3h0M173.7 315.8h0M174.4 313.9h0M161.5 329.5h0M180.3 319.9h0M199.8 302.1h0M180.7 304.2h0M189.6 316.6h0M163.7 322.1h0M172.4 305.7h0M174.7 309.3h0M182.4 310.2h0M171.7 313.1h0M160.9 317.4h0M197.0 303.1h0M164.7 326.8h0M166.0 317.4h0M163.8 332.8h0M184.3 318.2h0M179.1 305.1h0M195.3 294.0h0M185.1 302.4h0M170.2 333.8h0M180.9 317.2h0M171.3 331.9h0M192.1 297.4h0M178.3 325.3h0M167.6 311.2h0M171.6 332.8h0M175.9 313.4h0M185.3 310.8h0M187.3 302.1h0M187.0 302.2h0M170.1 331.4h0M182.9 309.4h0M172.6 333.5h0M180.4 315.7h0M176.7 311.1h0M177.5 324.8h0M196.4 294.7h0M168.2 319.0h0M194.8 301.4h0M164.2 325.0h0M169.9 319.9h0M169.4 325.8h0M165.1 328.0h0M162.6 329.3h0M163.7 321.8h0M166.2 333.2h0M183.1 315.4h0M179.7 326.3h0M164.0 331.5h0M169.5 328.8h0M164.4 318.0h0M177.1 318.3h0M177.7 320.7h0M161.5 329.7h0M165.4 313.6h0M180.1 325.8h0M162.1 324.8h0M161.5 334.6h0M194.6 303.0h0M175.3 313.8h0M179.8 323.5h0M168.7 326.5h0M179.2 316.8h0M174.8 324.0h0M174.6 308.7h0M188.0 310.7h0M169.8 332.6h0M182.0 310.3h0M191.3 300.2h0M183.4 313.5h0M170.0 327.9h0M193.9 300.5h0M187.6 313.5h0M163.7 318.8h0M174.7 307.1h0M179.0 304.7h0M167.4 317.9h0M184.1 323.8h0M179.3 319.3h0M185.0 306.7h0M178.0 303.7h0M166.2 327.7h0M180.7 321.3h0M188.3 295.0h0M181.7 317.0h0M169.4 314.8h0M168.5 322.0h0M164.9 320.5h0M175.5 334.5h0M179.3 309.0h0M176.6 316.1h0M165.1 320.1h0M182.6 303.1h0M184.3 310.3h0M175.7 318.2h0M170.2 325.1h0M164.6 319.8h0M180.7 325.4h0M170.5 310.5h0M194.5 302.8h0M168.5 319.9h0M159.8 316.0h0M177.8 328.0h0M170.4 318.6h0M177.5 314.1h0M163.6 323.4h0M169.5 327.3h0M175.7 323.3h0M180.4 318.5h0M173.0 322.9h0M164.5 319.7h0M179.8 323.3h0M161.0 326.0h0M172.8 330.7h0M185.7 322.1h0M186.4 311.1h0M183.2 304.0h0M174.0 327.8h0M177.0 329.0h0M191.1 297.3h0M189.6 300.0h0M191.0 306.2h0M170.4 313.7h0M185.2 306.8h0M169.6 330.6h0M182.2 326.5h0M184.8 309.8h0M183.7 304.7h0M187.2 307.7h0M184.2 303.3h0M189.6 300.5h0M166.5 330.3h0M163.2 317.8h0M160.7 330.5h0M175.4 328.5h0M163.7 312.6h0M182.5 304.4h0M182.9 316.3h0M183.6 309.9h0M170.5 326.9h0M179.8 314.1h0M188.5 308.2h0M188.9 298.6h0M164.5 326.5h0M160.4 323.8h0M169.3 328.5h0M196.6 301.2h0M179.8 319.5h0M166.8 315.0h0M180.0 318.3h0M168.2 325.7h0M183.7 307.5h0M180.7 330.9h0M166.2 335.1h0M184.5 300.3h0M170.3 323.8h0M179.9 308.9h0M182.4 324.2h0M184.4 320.0h0M182.8 321.3h0M187.5 315.6h0M177.8 306.2h0M165.5 314.7h0M176.2 332.1h0M187.4 304.2h0M185.8 309.3h0M162.1 325.0h0M161.4 319.8h0M185.4 307.9h0M188.8 304.4h0M167.8 311.8h0M175.3 326.8h0M177.6 326.7h0M175.4 326.6h0M166.5 319.6h0M167.8 330.4h0M174.6 315.0h0M172.2 309.4h0M188.0 300.9h0M177.1 330.3h0M167.7 312.6h0M169.0 327.0h0M173.2 327.4h0M171.5 313.8h0M177.6 323.6h0M174.5 320.4h0M178.9 330.6h0M164.9 329.9h0M189.6 311.2h0M185.8 314.7h0M185.0 319.2h0M186.9 312.7h0M163.4 315.8h0M175.8 312.7h0M173.3 326.1h0M166.8 332.4h0M180.8 299.2h0M178.4 324.6h0M174.3 316.8h0M188.1 314.5h0M174.6 331.3h0M187.5 304.2h0M189.8 302.1h0M172.1 312.8h0M177.9 308.9h0M192.7 299.8h0M159.9 328.4h0M184.0 318.1h0M176.8 317.7h0M187.0 300.4h0M197.2 298.5h0M162.6 325.4h0M171.0 325.2h0M173.2 322.4h0M184.4 313.5h0M166.7 315.2h0M179.6 328.7h0M178.6 317.0h0M177.4 324.0h0M178.2 323.3h0M193.6 303.9h0M168.2 311.0h0M187.5 307.0h0M174.0 318.8h0M170.0 311.6h0M173.2 317.9h0M160.0 325.1h0M165.4 324.6h0M187.0 320.7h0M194.2 302.2h0M188.2 313.9h0M165.4 312.8h0M167.4 328.7h0M166.1 320.5h0M162.7 329.0h0M188.4 309.7h0M161.9 326.2h0M184.4 307.3h0M161.5 320.4h0M193.3 303.8h0M193.1 300.6h0M159.5 332.0h0M165.3 319.1h0M172.8 332.5h0M179.3 318.7h0M184.4 307.9h0M177.4 307.0h0M172.7 323.5h0M185.3 320.6h0M170.9 323.6h0M185.2 314.3h0M175.8 317.9h0M178.7 318.1h0M168.7 314.3h0M167.6 314.2h0M192.5 302.2h0M161.8 322.0h0M169.2 319.9h0M164.3 326.1h0M187.1 311.4h0M165.2 332.5h0M182.9 299.6h0M187.1 313.0h0M161.1 320.1h0M167.1 327.2h0M173.5 330.1h0M191.9 298.7h0M166.6 309.2h0M178.9 315.5h0M174.7 310.6h0M164.6 329.6h0M164.9 309.6h0M170.0 321.1h0M173.5 332.6h0M160.1 318.7h0M178.6 307.2h0M168.0 319.9h0M178.5 318.2h0M190.1 299.8h0M185.6 317.9h0M175.6 316.5h0M164.5 332.4h0M191.3 298.7h0M181.0 319.9h0M173.1 308.6h0M178.3 323.8h0M188.8 302.5h0M184.8 321.3h0M192.8 301.9h0M195.0 298.3h0M179.0 306.4h0M176.1 330.8h0M169.9 329.0h0M163.4 334.9h0M185.0 316.6h0M175.8 314.5h0M177.3 305.9h0M159.0 321.1h0M175.0 307.7h0M162.0 320.1h0M179.6 325.3h0M192.3 304.3h0M176.4 324.2h0M178.0 327.3h0M162.6 324.4h0M168.8 319.8h0M187.1 319.2h0M162.6 323.6h0M179.0 305.6h0M172.1 315.7h0M178.2 323.5h0M183.6 322.2h0M164.2 330.0h0M176.0 321.3h0M163.9 315.3h0M186.1 315.9h0M168.6 312.9h0M163.4 337.9h0M163.0 328.8h0M171.7 324.0h0M172.1 313.4h0M171.1 326.2h0M193.4 299.6h0M185.7 302.2h0M187.2 301.7h0M178.7 303.2h0M178.0 308.2h0M182.8 308.9h0M193.6 294.9h0M198.3 302.2h0M173.8 323.1h0M183.6 304.6h0M186.5 317.2h0M170.9 331.6h0M167.0 329.2h0M196.3 298.5h0M177.3 320.4h0M162.9 316.8h0M185.5 319.1h0M183.6 313.2h0M173.6 315.1h0M186.9 316.7h0M182.0 319.8h0M178.8 325.4h0M165.4 329.9h0M188.7 308.6h0M192.3 302.9h0M181.2 303.0h0M180.8 302.2h0M184.2 313.2h0M166.1 317.9h0M164.5 334.1h0M183.4 312.1h0M194.6 302.3h0M171.2 310.6h0M176.2 326.2h0M171.4 312.8h0M175.1 332.5h0M177.6 311.3h0M186.4 319.4h0M168.9 329.1h0M176.3 317.5h0M179.2 319.5h0M162.2 333.5h0M181.9 299.8h0M176.4 319.9h0M184.7 306.9h0M161.6 317.0h0M168.8 312.7h0M187.3 303.0h0M166.6 331.7h0M167.5 309.9h0M174.8 327.9h0M172.9 326.2h0M167.1 315.9h0M170.2 314.0h0M174.9 330.1h0M173.0 321.0h0M172.2 323.5h0M190.6 299.0h0M168.2 315.3h0M171.7 320.5h0M186.0 304.2h0M177.2 306.9h0M194.4 303.9h0M168.2 314.8h0M185.3 315.1h0M183.4 303.0h0M183.1 312.8h0M168.4 336.1h0M172.6 325.8h0M162.5 318.4h0M178.6 320.8h0M179.4 305.9h0M175.3 308.7h0M178.5 332.4h0M180.1 303.9h0M180.3 301.8h0M178.8 327.7h0M195.7 302.4h0M169.5 325.6h0M165.6 314.4h0M183.8 317.7h0M178.8 326.4h0M176.6 323.8h0M170.5 319.2h0M185.5 305.5h0M169.6 313.9h0M176.5 320.1h0M180.9 302.7h0M177.9 317.8h0M164.3 332.9h0M175.3 310.7h0M194.3 297.8h0M177.7 321.1h0M199.0 298.7h0M165.2 316.3h0M169.4 313.2h0M164.6 312.2h0M176.1 328.5h0M169.4 322.0h0M172.8 321.2h0M177.3 302.3h0M180.4 310.9h0M166.1 320.7h0M184.3 320.7h0M174.1 314.9h0M179.9 327.4h0M182.2 313.1h0M174.5 306.9h0M170.7 319.2h0M172.8 326.5h0M174.6 323.0h0M166.0 333.2h0M179.7 328.0h0M173.7 316.9h0M175.4 331.8h0M174.8 325.0h0M196.5 302.9h0M168.4 331.7h0M194.5 303.6h0M188.0 306.8h0M176.5 329.3h0M186.5 301.1h0M168.6 327.6h0M166.4 312.6h0M162.5 332.1h0M179.9 315.9h0M171.7 310.2h0M172.3 321.1h0M183.0 317.2h0M173.1 328.5h0M179.0 309.0h0M169.5 330.5h0M197.0 302.3h0M173.9 318.3h0M185.8 300.9h0M185.0 301.8h0M174.0 313.0h0M160.8 318.7h0M163.8 317.3h0M163.6 327.0h0M175.8 313.8h0M183.9 310.7h0M164.6 335.8h0M175.9 327.6h0M174.2 308.4h0M167.3 320.6h0M184.8 318.6h0M164.1 322.4h0M182.9 319.2h0M178.7 322.7h0M190.8 317.2h0M170.6 322.9h0M191.2 302.4h0M170.1 326.5h0M189.8 295.7h0M171.3 320.5h0M180.0 329.8h0M199.4 300.4h0M180.7 306.2h0M174.4 331.1h0M179.1 327.7h0M189.2 303.4h0M186.6 306.6h0M178.7 308.2h0M176.3 309.0h0M188.0 301.8h0" stroke="#0a0a0a" stroke-width="1.30" stroke-linecap="square" fill="none" opacity="1.00"/>
<path d="M172.9 312.5h0M128.1 344.0h0M170.6 322.1h0M105.6 375.2h0M172.6 326.3h0M166.4 322.9h0M159.2 328.3h0M161.7 320.8h0M98.4 367.1h0M129.5 341.0h0M188.9 300.3h0" stroke="#ff3322" stroke-width="1.80" stroke-linecap="round" fill="none" opacity="0.80"/>
<path d="M157.8 319.2h0M157.1 314.0h0M165.0 319.3h0M157.3 311.9h0M162.3 317.6h0M161.2 318.6h0M165.9 321.7h0M160.6 309.3h0M160.3 311.6h0M157.0 318.6h0M159.5 319.7h0M163.7 317.6h0M160.2 320.2h0M156.4 315.6h0M157.3 313.6h0M160.0 319.2h0M159.8 310.5h0M157.5 317.0h0M162.9 314.9h0M157.5 320.2h0M158.8 315.4h0M155.3 311.1h0M162.9 310.4h0M163.3 313.0h0M157.8 317.3h0M162.6 311.8h0M166.6 313.0h0M164.7 309.7h0M163.0 316.7h0M155.1 315.2h0M159.8 314.0h0M155.1 318.0h0M158.5 317.4h0M165.9 317.3h0M165.1 309.6h0M159.9 319.0h0M155.3 312.6h0M160.5 317.6h0M155.1 317.4h0M166.5 312.6h0M163.3 313.8h0M159.6 318.3h0M162.6 310.3h0M162.7 311.8h0M163.7 319.5h0M164.3 313.2h0M163.0 320.3h0M158.4 316.6h0M165.4 312.5h0M162.1 313.5h0M159.5 312.6h0M168.3 318.1h0M156.3 320.8h0M168.1 310.9h0M158.4 315.4h0M158.9 315.0h0M157.9 317.8h0M159.9 321.1h0M160.9 312.5h0M165.8 313.9h0M166.0 317.0h0M161.7 315.4h0M164.4 312.0h0M163.7 314.4h0M161.0 322.1h0M160.7 319.8h0M176.1 316.1h0M176.5 323.6h0M170.1 322.5h0M175.7 320.2h0M168.5 323.0h0M177.5 322.6h0M168.8 323.4h0M177.7 317.9h0M165.8 321.3h0M171.1 318.9h0M166.3 323.1h0M166.7 316.2h0M175.3 313.8h0M170.1 317.5h0M174.0 317.9h0M169.5 319.0h0M171.5 318.7h0M175.3 317.0h0M172.2 314.0h0M171.0 318.1h0M165.6 319.8h0M169.8 317.9h0M174.4 322.1h0M172.2 315.8h0M169.5 320.1h0M170.3 319.2h0M179.4 319.2h0M173.3 320.2h0M166.5 314.7h0M167.6 316.6h0M167.9 317.8h0M164.5 315.0h0M171.1 320.5h0M196.4 302.8h0M196.3 300.3h0M196.1 298.4h0M196.6 301.7h0M191.9 300.1h0M193.0 296.1h0M199.7 298.1h0M196.8 298.1h0M196.7 299.3h0M196.9 300.3h0M196.8 301.4h0M193.3 297.6h0M200.8 300.6h0M196.2 302.6h0M123.0 337.1h0M124.2 336.5h0M126.7 334.0h0M122.4 338.5h0M123.7 336.3h0M121.5 335.3h0M122.4 333.8h0M122.2 339.3h0M128.5 333.3h0M120.1 340.6h0M125.9 337.4h0M123.7 330.8h0M122.4 335.5h0M126.1 335.0h0M129.3 337.1h0M130.0 333.4h0M136.3 356.7h0M143.1 355.0h0M143.2 357.4h0M136.3 356.1h0M133.2 354.6h0M132.2 350.5h0M140.6 361.1h0M140.6 350.5h0M141.8 354.1h0M138.5 351.1h0M142.2 352.7h0M141.5 359.4h0M136.6 353.5h0M138.9 352.3h0M135.7 356.2h0M138.4 356.7h0M137.9 354.7h0M137.8 358.3h0M142.3 356.7h0M139.5 360.6h0M140.8 357.2h0M142.4 351.7h0M132.5 358.4h0M135.1 361.9h0M136.9 363.6h0M94.8 370.1h0M94.5 368.8h0M99.8 371.1h0M98.4 359.5h0M97.2 359.6h0M92.5 365.3h0M96.5 370.9h0M93.2 366.9h0M96.6 361.9h0M96.8 364.9h0M90.4 369.4h0M92.5 367.2h0M100.0 359.9h0M100.2 371.9h0M94.5 362.8h0M94.7 370.2h0M97.8 361.6h0M95.0 359.8h0M94.5 359.2h0M92.3 366.5h0M98.8 363.7h0M92.7 368.6h0M95.5 369.5h0M95.7 364.6h0M94.4 366.7h0M100.7 360.0h0M90.9 363.7h0M93.1 369.0h0M93.1 366.9h0M97.4 372.3h0M98.7 368.6h0M96.2 364.5h0M96.6 366.3h0M95.3 360.3h0M95.9 364.4h0M97.6 362.2h0M69.9 408.0h0M79.2 405.1h0M66.2 408.7h0M73.1 395.9h0M70.7 398.0h0M76.3 404.0h0M76.1 400.6h0M73.9 396.7h0M75.6 410.4h0M78.9 400.6h0M78.8 407.6h0M70.4 396.8h0M73.8 399.1h0M73.1 404.0h0M72.7 403.2h0M66.4 398.8h0M72.3 408.7h0M70.2 408.1h0M71.4 402.6h0M68.9 406.7h0M72.8 409.7h0M75.8 402.4h0M70.3 395.5h0M75.1 406.7h0M69.6 393.4h0M76.5 397.4h0M76.2 407.6h0M74.3 405.6h0M77.8 404.7h0M73.6 400.8h0M77.8 409.2h0M73.9 408.8h0M68.3 398.1h0M77.1 406.4h0M79.0 402.7h0M80.0 407.4h0M69.5 400.3h0M67.1 407.5h0M66.2 393.3h0M74.3 402.3h0M75.6 397.8h0M71.5 397.1h0M69.1 402.8h0M66.3 408.5h0M69.2 397.0h0M76.5 398.8h0M72.9 402.1h0M81.2 396.5h0M77.1 402.8h0M76.4 398.2h0M68.5 407.4h0M77.5 399.5h0M74.8 395.0h0M74.1 398.3h0M72.5 411.2h0M69.6 399.9h0M72.7 405.4h0M76.4 409.3h0M75.7 403.3h0M69.5 406.0h0M69.0 401.1h0M72.4 392.6h0M68.1 398.7h0" stroke="#ff3322" stroke-width="2.00" stroke-linecap="round" fill="none" opacity="0.85"/>
<text x="41.90" y="289.10" font-size="18.20" font-weight="normal" font-style="normal" fill="#000" font-family='"Liberation Sans", sans-serif' textLength="20.70" lengthAdjust="spacingAndGlyphs" >(c)</text>
<text x="25.19" y="275.60" font-size="14.40" font-weight="bold" font-style="normal" fill="#000" font-family='"Liberation Sans", sans-serif' textLength="8.01" lengthAdjust="spacingAndGlyphs" >5</text>
<text x="24.87" y="336.00" font-size="14.40" font-weight="bold" font-style="normal" fill="#000" font-family='"Liberation Sans", sans-serif' textLength="8.01" lengthAdjust="spacingAndGlyphs" >4</text>
<text x="25.31" y="395.25" font-size="14.40" font-weight="bold" font-style="normal" fill="#000" font-family='"Liberation Sans", sans-serif' textLength="8.01" lengthAdjust="spacingAndGlyphs" >3</text>
<text x="25.37" y="454.10" font-size="14.40" font-weight="bold" font-style="normal" fill="#000" font-family='"Liberation Sans", sans-serif' textLength="8.01" lengthAdjust="spacingAndGlyphs" >2</text>
<text x="34.58" y="462.50" font-size="14.40" font-weight="bold" font-style="normal" fill="#000" font-family='"Liberation Sans", sans-serif' textLength="8.01" lengthAdjust="spacingAndGlyphs" >4</text>
<text x="113.64" y="462.50" font-size="14.40" font-weight="bold" font-style="normal" fill="#000" font-family='"Liberation Sans", sans-serif' textLength="8.01" lengthAdjust="spacingAndGlyphs" >6</text>
<text x="192.69" y="462.50" font-size="14.40" font-weight="bold" font-style="normal" fill="#000" font-family='"Liberation Sans", sans-serif' textLength="8.01" lengthAdjust="spacingAndGlyphs" >8</text>
<text x="88.69" y="479.40" font-size="16.60" font-weight="normal" font-style="italic" fill="#000" font-family='"Liberation Sans", sans-serif' textLength="7.80" lengthAdjust="spacingAndGlyphs" >V</text>
<text x="98.29" y="479.40" font-size="10.00" font-weight="normal" font-style="italic" fill="#000" font-family='"Liberation Sans", sans-serif' textLength="6.67" lengthAdjust="spacingAndGlyphs" >P</text>
<text x="110.55" y="479.10" font-size="16.60" font-weight="normal" font-style="normal" fill="#000" font-family='"Liberation Sans", sans-serif' textLength="51.29" lengthAdjust="spacingAndGlyphs" >(km/s)</text>
<g transform="translate(13.60 399.70) rotate(-90)"><text x="-1.56" y="0.00" font-size="16.60" font-weight="normal" font-style="italic" fill="#000" font-family='"Liberation Sans", sans-serif' textLength="12.06" lengthAdjust="spacingAndGlyphs" >V</text><text x="13.33" y="0.00" font-size="10.00" font-weight="normal" font-style="italic" fill="#000" font-family='"Liberation Sans", sans-serif' textLength="6.27" lengthAdjust="spacingAndGlyphs" >S</text><text x="21.71" y="0.00" font-size="16.60" font-weight="normal" font-style="normal" fill="#000" font-family='"Liberation Sans", sans-serif' textLength="53.28" lengthAdjust="spacingAndGlyphs" >(km/s)</text></g>
<path d="M295.79 448.00v-2.8M295.79 271.50v2.8 M315.38 448.00v-2.8M315.38 271.50v2.8 M334.97 448.00v-2.8M334.97 271.50v2.8 M354.56 448.00v-2.8M354.56 271.50v2.8 M374.15 448.00v-2.8M374.15 271.50v2.8 M393.74 448.00v-2.8M393.74 271.50v2.8 M413.33 448.00v-2.8M413.33 271.50v2.8 M432.92 448.00v-2.8M432.92 271.50v2.8 M452.51 448.00v-2.8M452.51 271.50v2.8 M276.20 430.38h2.8M452.60 430.38h-2.8 M276.20 412.76h2.8M452.60 412.76h-2.8 M276.20 395.14h2.8M452.60 395.14h-2.8 M276.20 377.52h2.8M452.60 377.52h-2.8 M276.20 359.90h2.8M452.60 359.90h-2.8 M276.20 342.28h2.8M452.60 342.28h-2.8 M276.20 324.66h2.8M452.60 324.66h-2.8 M276.20 307.04h2.8M452.60 307.04h-2.8 M276.20 289.42h2.8M452.60 289.42h-2.8" stroke="#c8c8c8" stroke-width="1" fill="none"/>
<rect x="276.20" y="271.50" width="176.40" height="176.50" fill="none" stroke="#8c8c8c" stroke-width="1.3"/>
<path d="M296.0 382.3h0M296.2 398.7h0M354.7 329.1h0M301.6 375.8h0M293.4 342.4h0M290.4 355.2h0M307.0 387.2h0M306.9 372.8h0M390.1 325.7h0M380.7 319.2h0M314.9 385.9h0M289.0 332.3h0M322.2 327.1h0M360.5 316.0h0M310.5 352.5h0M308.9 388.0h0M392.5 320.4h0M313.2 330.2h0M374.9 305.9h0M309.4 389.7h0M354.7 315.2h0M323.2 325.4h0M382.7 319.1h0M293.1 346.8h0M307.7 327.4h0M362.3 316.3h0M307.6 334.6h0M296.1 343.0h0M356.9 314.5h0M293.6 353.3h0M300.0 377.7h0M310.0 397.6h0M297.3 391.7h0M297.7 369.2h0M330.0 313.4h0M288.8 353.8h0M351.5 310.3h0M298.5 369.2h0M327.5 305.1h0M308.5 344.9h0M349.5 333.4h0M293.5 329.8h0M373.6 337.0h0M381.9 328.4h0M310.1 378.2h0M358.3 325.5h0M316.4 352.0h0M372.7 328.0h0M306.8 344.9h0M309.2 364.6h0M293.4 341.0h0M311.2 349.1h0M296.5 352.4h0M316.9 345.2h0M316.7 353.2h0M319.6 357.8h0M369.5 305.3h0M355.3 329.6h0M297.2 397.3h0M355.4 330.1h0M305.0 342.1h0M297.1 348.8h0M362.1 331.8h0M338.8 313.9h0M360.5 327.2h0M349.0 311.3h0M327.9 329.8h0M300.7 368.8h0M314.1 372.9h0M379.9 319.5h0M293.2 383.1h0M333.4 316.1h0M295.4 325.2h0M325.3 328.0h0M365.5 314.5h0M309.0 338.2h0M363.9 322.7h0M293.2 356.2h0M353.5 314.6h0M362.7 308.1h0M335.7 310.3h0M309.7 361.4h0M298.5 333.3h0M308.4 368.3h0M320.0 333.0h0M322.0 319.6h0M345.5 314.3h0M299.0 362.6h0M312.0 347.0h0M351.0 313.9h0M306.0 348.5h0M287.8 390.5h0M384.7 317.9h0M303.6 350.0h0M319.0 362.3h0M300.8 383.4h0M308.0 326.6h0M301.1 390.0h0M302.6 319.5h0M334.3 306.4h0M315.0 318.1h0M383.2 328.0h0M358.4 319.3h0M356.8 313.0h0M332.8 332.3h0M292.2 388.6h0M419.5 340.8h0M322.6 350.5h0M343.9 360.8h0M326.3 347.0h0M388.5 336.7h0M305.5 359.4h0M418.5 358.0h0M325.2 342.5h0M311.9 340.6h0M380.8 369.8h0M351.4 375.2h0M391.8 367.6h0M301.8 335.9h0M358.4 342.0h0M394.1 345.5h0M410.7 338.9h0M438.1 355.5h0M389.5 375.0h0M378.8 374.9h0M311.3 364.5h0M300.8 345.9h0M387.0 353.5h0M305.2 354.3h0M311.0 366.0h0M399.1 375.5h0M300.3 375.7h0M342.6 366.1h0M419.5 339.1h0M299.8 350.1h0M392.3 362.4h0M339.9 379.2h0M351.2 354.4h0M410.9 345.2h0M358.9 348.2h0M398.3 338.5h0M336.9 359.1h0M337.8 367.8h0M321.9 351.9h0M327.3 338.3h0M325.1 342.4h0M401.7 339.1h0M362.0 355.1h0M348.4 335.9h0M431.0 338.2h0M421.4 355.4h0M437.3 342.7h0M306.3 346.6h0M381.4 362.8h0M393.0 371.4h0M308.8 366.9h0M371.7 337.1h0M302.5 345.6h0M388.7 356.6h0M308.9 361.6h0M382.0 375.6h0M422.4 338.8h0M374.0 359.0h0M367.7 361.5h0M312.5 341.6h0M415.3 336.0h0M364.8 354.3h0M347.2 336.1h0M306.3 341.8h0M396.8 329.5h0M386.7 352.8h0M316.4 334.2h0M373.1 351.7h0M295.9 368.3h0M312.1 350.5h0M333.0 357.5h0M398.7 350.8h0M354.1 371.8h0M326.7 363.4h0M315.2 373.6h0M303.7 340.8h0M311.1 365.0h0M378.7 380.2h0M406.7 348.7h0M326.6 382.5h0M438.2 346.3h0M399.4 335.3h0M341.9 340.7h0M330.3 348.0h0M402.7 362.2h0M313.7 339.8h0M414.9 323.9h0M430.5 357.6h0M402.2 352.8h0M358.6 352.5h0M319.1 373.0h0M397.7 359.6h0M345.0 351.2h0M402.5 343.6h0M349.9 345.7h0M307.2 362.7h0M322.1 334.1h0M337.7 362.6h0M303.6 345.8h0M343.9 335.9h0M323.9 359.9h0M341.9 367.1h0M363.5 338.7h0M344.3 358.7h0M363.8 354.6h0M385.3 343.4h0M333.0 377.7h0M396.9 337.4h0M335.0 367.7h0M416.1 341.1h0M307.3 373.6h0M381.1 371.2h0M383.5 365.6h0M372.5 357.8h0M397.9 366.1h0M435.0 336.2h0M395.9 364.7h0M346.7 362.9h0M379.2 368.6h0M412.6 342.6h0M344.9 380.8h0M334.1 365.0h0M353.2 367.1h0M338.3 362.9h0M361.9 366.0h0M361.7 354.1h0M441.0 341.3h0M300.1 344.2h0M332.3 378.3h0M344.0 350.5h0M336.2 349.2h0M314.4 376.0h0M359.6 358.8h0M364.0 359.9h0M394.5 358.3h0M373.9 356.7h0M391.7 339.9h0M341.7 364.1h0M409.3 350.8h0M324.8 366.4h0M323.4 353.5h0M401.2 332.8h0M340.5 369.2h0M434.3 350.9h0M338.0 347.1h0M405.0 356.6h0M334.1 373.6h0M397.8 330.9h0M369.9 369.2h0M336.7 359.6h0M400.4 335.6h0M328.5 372.6h0M397.9 333.1h0M412.6 336.3h0M422.7 353.3h0M320.3 335.4h0M430.0 343.0h0M306.9 369.4h0M393.7 353.5h0M349.4 363.8h0M316.0 352.9h0M307.9 347.4h0M331.8 346.4h0M379.2 345.9h0M423.4 339.7h0M385.7 375.4h0M355.1 361.8h0M399.5 373.7h0M336.3 377.2h0M363.3 338.3h0M386.2 356.2h0M418.8 353.6h0M409.2 335.6h0M342.8 347.8h0M405.4 338.5h0M330.3 337.7h0M404.3 369.2h0M395.5 339.4h0M416.0 345.2h0M376.0 353.3h0M404.6 326.2h0M415.4 322.6h0M409.2 359.3h0M353.8 352.5h0M430.2 353.9h0M391.7 370.3h0M417.5 369.1h0M329.9 378.4h0M315.6 368.8h0M311.3 332.3h0M304.2 339.3h0M311.1 349.9h0M396.5 365.2h0M315.5 379.9h0M313.6 368.8h0M367.9 344.0h0M410.5 362.4h0M321.3 359.8h0M417.7 330.7h0M435.5 351.7h0M395.6 352.5h0M362.2 338.2h0M400.5 348.8h0M352.3 355.6h0M376.9 360.2h0M341.8 364.6h0M360.8 352.9h0M301.8 349.0h0M303.4 337.6h0M301.1 346.4h0M302.1 368.9h0M396.0 348.1h0M313.1 346.0h0M323.2 369.4h0M358.0 355.1h0M381.4 347.1h0M439.6 339.9h0M335.3 364.7h0M403.6 343.3h0M382.2 353.3h0M363.2 363.1h0M328.1 376.4h0M357.1 364.9h0M355.8 345.5h0M369.5 353.9h0M324.7 342.7h0M308.7 371.9h0M334.8 361.9h0M350.2 341.5h0M365.5 352.5h0M425.6 335.6h0M324.6 367.0h0M358.7 343.9h0M323.9 359.6h0M422.0 325.0h0M415.1 343.4h0M431.9 327.9h0M408.6 352.2h0M316.4 377.7h0M373.6 372.2h0M339.2 382.9h0M397.5 348.8h0M366.4 363.1h0M317.1 349.5h0M415.5 329.4h0M346.4 373.5h0M404.4 350.7h0M369.5 368.0h0M317.7 382.9h0M314.0 376.6h0M336.5 374.4h0M318.5 337.5h0M399.6 340.7h0M351.1 345.2h0M405.2 327.5h0M409.8 352.2h0M420.2 354.4h0M381.5 358.3h0M368.4 351.4h0M406.1 361.9h0M332.4 372.7h0M425.2 355.6h0M427.3 356.1h0M398.4 345.3h0M384.3 367.6h0M341.5 370.1h0M373.8 350.3h0M394.6 340.3h0M313.5 379.4h0M360.0 349.9h0M359.7 349.4h0M431.8 343.5h0M312.1 380.6h0M375.8 369.1h0M314.0 383.3h0M361.6 363.8h0M407.7 324.2h0M306.5 371.8h0M302.2 377.0h0M393.0 364.3h0M345.9 346.3h0M350.9 366.7h0M324.4 374.6h0M434.5 338.1h0M308.8 376.1h0M306.3 339.4h0M336.6 337.8h0M415.5 352.9h0M425.9 352.4h0M316.2 364.0h0M381.1 366.7h0M419.2 333.4h0M408.6 337.0h0M346.1 378.7h0M354.4 353.2h0M318.5 355.3h0M412.7 351.2h0M390.7 356.7h0M346.5 355.3h0M320.3 360.1h0M342.1 361.5h0M313.0 387.3h0M399.3 363.0h0M379.3 379.1h0M326.3 370.5h0M420.7 325.5h0M325.2 344.7h0M390.4 368.9h0M364.0 377.9h0M346.9 347.4h0M381.8 376.4h0M417.9 336.6h0M393.6 356.4h0M342.6 376.2h0M313.9 350.2h0M368.7 348.1h0M322.3 352.4h0M395.9 348.0h0M343.1 377.6h0M337.3 362.0h0M305.5 338.2h0M329.3 358.7h0M346.2 353.1h0M342.6 330.8h0M346.7 350.1h0M409.2 344.0h0M349.8 357.5h0M343.7 376.6h0M431.7 353.9h0M310.5 379.3h0M420.5 332.5h0M384.8 358.4h0M361.9 362.0h0M308.9 362.8h0M314.0 382.1h0M334.8 371.0h0M369.7 362.8h0M337.8 341.8h0M314.2 384.6h0M300.1 375.5h0M319.3 361.3h0M318.3 342.5h0M427.0 356.5h0M322.3 350.0h0M303.4 345.8h0M330.9 345.8h0M324.3 391.4h0M377.7 349.0h0M366.2 335.2h0M359.9 354.9h0M437.3 338.9h0M386.4 364.5h0M398.6 330.2h0M398.6 331.8h0M321.9 337.1h0M354.4 369.9h0M395.1 361.4h0M311.2 345.1h0M418.5 348.9h0M339.3 364.9h0M352.4 329.4h0M322.2 361.5h0M420.6 342.8h0M353.8 361.0h0M306.8 361.6h0M429.2 345.4h0M306.5 360.3h0M302.1 378.5h0M401.1 342.9h0M365.7 368.5h0M402.7 359.8h0M416.4 329.9h0M400.6 339.3h0M431.5 342.5h0M392.3 364.7h0M347.3 343.9h0M426.1 359.1h0M383.5 354.2h0M308.3 334.5h0M375.6 379.1h0M330.1 341.3h0M386.0 344.5h0M327.4 329.3h0M366.1 365.0h0M362.6 368.0h0M380.1 351.1h0M376.1 346.7h0M379.6 375.9h0M303.2 351.4h0M351.8 345.1h0M312.9 375.5h0M317.2 366.6h0M399.2 341.2h0M391.2 365.5h0M411.2 361.2h0M408.9 324.7h0M298.4 341.6h0M375.3 376.9h0M412.3 342.0h0M347.7 343.7h0M396.7 343.1h0M426.5 352.2h0M411.2 337.0h0M381.9 354.8h0M384.1 352.9h0M390.9 341.9h0M349.7 356.4h0M405.8 331.5h0M414.1 321.9h0M321.2 372.9h0M427.8 329.0h0M371.7 375.7h0M358.9 340.6h0M308.9 386.0h0M365.9 360.6h0M434.8 341.8h0M378.9 352.1h0M302.9 380.8h0M374.0 360.8h0M322.9 365.7h0M389.5 352.2h0M358.0 360.2h0M305.6 370.2h0M406.4 357.5h0M410.9 348.5h0M309.0 338.9h0M311.7 340.5h0M435.8 330.9h0M337.5 357.7h0M424.7 361.6h0M345.7 358.7h0M425.7 340.7h0M323.0 382.9h0M308.6 347.6h0M360.7 368.8h0M306.5 382.0h0M430.7 351.7h0M303.5 354.7h0M379.8 352.6h0M387.3 342.1h0M337.4 343.0h0M322.8 356.6h0M419.9 337.7h0M310.0 365.2h0M375.4 352.2h0M361.2 370.8h0M353.5 375.0h0M407.0 327.7h0M433.9 338.5h0M380.3 367.5h0M337.0 329.5h0M343.0 370.4h0M406.3 353.1h0M311.9 363.0h0M363.8 333.3h0M410.3 350.4h0M377.8 340.6h0M352.8 342.6h0M305.9 383.9h0M364.7 362.2h0M374.9 370.9h0M400.6 366.8h0M429.0 348.7h0M357.8 354.0h0M398.5 351.6h0M380.0 373.1h0M327.1 361.6h0M312.5 355.3h0M408.9 347.0h0M365.3 352.4h0M404.3 318.9h0M382.2 374.8h0M388.1 335.2h0M414.2 365.8h0M397.0 371.3h0M377.6 342.6h0M321.2 345.9h0M304.4 344.0h0M370.1 360.2h0M370.2 362.5h0M312.7 373.6h0M381.6 348.2h0M303.6 361.5h0M349.0 364.1h0M340.9 354.2h0M312.4 363.7h0M415.7 325.1h0M411.4 335.6h0M396.3 377.7h0M412.3 320.6h0M407.9 337.9h0M431.3 354.9h0M377.6 358.2h0M335.6 364.5h0M433.8 337.9h0M366.8 361.0h0M323.6 344.3h0M354.0 363.1h0M385.4 369.3h0M300.8 349.1h0M410.8 364.1h0M300.3 376.5h0M364.9 355.2h0M314.4 354.0h0M321.4 375.1h0M404.5 359.5h0M425.0 356.0h0M353.6 383.0h0M313.6 374.3h0M420.3 336.8h0M408.1 357.3h0M303.2 361.0h0M394.7 362.7h0M393.2 374.4h0M315.7 364.4h0M339.3 355.9h0M327.3 352.9h0M320.7 377.3h0M337.1 367.6h0M353.3 352.5h0M342.0 352.5h0M437.7 335.4h0M321.0 336.3h0M347.6 340.1h0M400.6 350.0h0M343.9 362.5h0M335.5 350.2h0M405.6 343.0h0M375.1 345.9h0M421.9 357.1h0M358.3 367.9h0M320.3 341.2h0M341.5 368.2h0M431.1 344.7h0M359.7 340.7h0M410.1 352.4h0M336.4 361.9h0M389.7 354.0h0M353.2 339.3h0M440.6 342.7h0M309.5 339.6h0M334.7 350.3h0M312.4 355.9h0M382.0 380.6h0M309.8 360.8h0M399.9 348.3h0M398.2 343.6h0M424.4 333.7h0M359.8 358.2h0M406.3 368.6h0M432.0 346.8h0M415.0 361.3h0M328.7 378.1h0M378.3 370.9h0M361.5 347.4h0M368.5 357.5h0M423.1 332.2h0M329.7 336.7h0M402.0 319.5h0M401.8 366.3h0M334.5 374.3h0M358.0 359.3h0M341.9 369.9h0M387.4 352.4h0" stroke="#303030" stroke-width="1.00" stroke-linecap="square" fill="none" opacity="0.70"/>
<path d="M314.1 333.5h0M331.5 393.4h0M303.8 357.2h0M328.5 361.9h0M309.6 335.2h0M336.8 332.3h0M316.2 390.6h0M352.1 348.7h0M327.3 339.7h0M352.6 347.2h0M293.0 373.5h0M322.6 369.6h0M313.7 342.7h0M334.5 370.3h0M328.2 357.1h0M335.4 372.9h0M316.0 343.3h0M320.9 377.7h0M351.0 337.6h0M307.2 340.6h0M343.1 370.1h0M308.8 354.5h0M337.9 383.5h0M332.0 348.5h0M303.9 333.6h0M304.0 382.5h0M300.2 331.7h0M297.3 328.2h0M299.2 323.4h0M332.0 390.3h0M315.2 346.5h0M346.1 363.1h0M337.1 388.6h0M319.5 396.6h0M324.4 387.6h0M289.9 340.2h0M324.7 378.5h0M298.5 322.0h0M299.4 347.8h0M327.2 343.3h0M313.7 334.1h0M306.0 378.7h0M303.3 376.2h0M353.2 340.9h0M322.8 345.4h0M325.6 378.9h0M341.2 368.7h0M324.4 373.2h0M290.7 342.5h0M339.5 355.2h0M338.8 374.3h0M321.6 372.2h0M309.5 344.0h0M335.5 356.2h0M299.1 376.0h0M320.1 334.9h0M304.3 353.0h0M309.0 379.9h0M339.7 371.9h0M341.8 340.3h0M328.2 353.2h0M320.3 328.1h0M347.7 341.1h0M322.7 330.4h0M315.7 373.9h0M334.0 365.9h0M309.4 380.3h0M345.2 343.5h0M308.3 375.9h0M308.9 342.2h0M311.3 357.8h0M300.2 348.7h0M327.4 367.8h0M311.1 377.8h0M299.3 351.2h0M338.4 331.5h0M327.4 374.0h0M304.3 380.2h0M312.8 381.2h0M307.8 367.9h0M350.2 354.9h0M331.4 342.7h0M300.0 370.3h0M344.1 335.3h0M294.3 360.2h0M289.2 338.9h0M327.2 353.6h0M328.7 340.5h0M312.0 338.5h0M297.7 341.3h0M290.6 337.2h0M339.8 340.9h0M327.0 341.6h0M297.5 375.3h0M336.5 378.8h0M326.5 363.0h0M299.8 358.3h0M299.5 370.4h0M339.6 357.7h0M310.1 379.6h0M304.5 381.7h0M318.0 366.3h0M320.4 354.4h0M321.2 340.1h0M289.5 333.3h0M338.9 349.2h0M348.3 329.6h0M300.7 388.0h0M350.2 353.4h0M342.3 336.9h0M324.3 391.9h0M343.7 368.5h0M327.7 385.4h0M338.3 345.5h0M317.4 392.5h0M301.2 360.4h0M302.9 348.8h0M310.9 349.7h0M345.2 333.4h0M323.8 333.3h0M311.9 352.9h0M341.5 382.2h0M330.4 413.9h0M327.1 412.5h0M314.6 407.2h0M329.3 398.2h0M310.6 411.3h0M310.6 424.4h0M337.7 398.9h0M326.7 408.0h0M310.0 383.5h0M308.8 419.8h0M309.2 393.8h0M335.2 394.1h0M330.9 407.9h0M316.8 414.2h0M322.3 389.3h0M317.7 387.8h0M319.1 402.3h0M311.1 391.1h0M333.4 397.4h0M324.5 426.2h0M323.4 354.1h0M307.8 363.4h0M338.2 337.1h0M312.1 374.0h0M327.6 361.6h0M303.9 359.0h0M316.0 383.4h0M328.1 358.3h0M339.2 369.1h0M335.9 362.6h0M339.6 371.1h0M337.8 379.7h0M309.6 351.7h0M328.9 365.1h0M337.0 349.7h0M318.2 378.0h0M335.5 345.4h0M310.2 377.5h0M304.7 344.4h0M334.2 343.1h0M327.6 361.1h0M319.8 353.5h0M314.2 361.5h0M322.3 340.0h0M339.7 365.5h0M305.8 347.0h0M329.1 371.4h0M333.6 344.0h0M311.9 379.2h0M340.2 344.6h0M329.6 351.4h0M306.0 361.5h0M318.1 364.6h0M343.4 357.4h0M318.0 370.9h0M338.0 341.1h0M336.3 374.7h0M318.6 365.7h0M339.7 360.7h0M306.4 352.2h0M321.4 344.5h0M342.9 350.8h0M325.3 374.7h0M313.2 377.3h0M317.0 341.4h0M308.3 354.4h0M311.6 364.3h0M333.0 367.1h0M331.2 344.0h0M323.3 337.3h0M339.0 354.3h0M333.1 339.9h0M305.9 360.3h0M310.2 342.9h0M336.8 349.4h0M317.3 370.7h0M329.1 365.9h0M341.3 350.0h0M337.1 371.8h0M306.6 353.6h0M337.4 361.1h0M328.3 359.0h0M314.7 341.3h0M333.4 360.6h0M341.8 352.6h0M336.5 345.4h0M330.4 355.7h0M318.6 361.5h0M312.5 345.7h0M334.3 336.8h0M317.1 344.0h0M302.4 356.6h0M343.2 371.5h0M322.9 365.2h0M304.7 366.9h0M324.4 378.3h0M349.3 352.7h0M319.1 342.7h0M305.8 347.7h0M302.7 354.7h0M312.4 365.5h0M327.4 346.3h0M309.7 360.4h0M301.3 364.8h0M323.0 356.1h0M344.5 349.2h0M335.5 352.7h0M329.3 374.7h0M306.3 339.8h0M336.5 348.0h0M334.7 355.8h0M311.7 355.0h0M319.2 373.0h0M313.7 349.1h0M344.9 364.0h0M333.5 371.9h0M325.1 374.2h0M338.4 361.2h0M331.0 380.0h0M315.0 355.3h0M336.6 364.4h0M327.7 344.4h0M340.8 368.0h0M332.7 358.7h0M334.6 356.2h0M319.2 347.3h0M342.6 357.0h0M341.2 342.7h0M327.4 374.9h0M344.7 372.1h0M326.9 382.3h0M309.4 371.1h0M342.2 349.4h0M320.3 365.9h0M331.6 382.1h0M315.0 367.7h0M347.2 360.1h0M304.1 366.4h0M306.3 360.8h0M324.4 345.6h0M322.1 381.9h0M324.7 352.0h0M311.1 366.3h0M334.5 346.0h0M315.7 343.1h0M313.4 346.2h0M323.0 373.2h0M307.2 370.0h0M314.8 338.3h0M326.5 353.7h0M311.3 343.1h0M339.6 375.8h0M340.7 361.6h0M329.3 359.3h0M331.7 377.0h0M339.5 375.5h0M335.6 372.0h0M340.4 348.0h0M340.7 364.0h0M317.6 342.1h0M299.0 357.7h0M309.4 373.8h0M317.4 364.2h0M335.7 350.2h0M335.3 352.0h0M312.6 359.4h0M299.2 362.5h0M309.4 345.9h0M308.8 361.2h0M324.9 353.3h0M338.3 348.4h0M320.3 340.8h0M321.1 361.2h0M309.9 350.7h0M312.2 357.2h0M347.3 351.3h0M318.0 342.8h0M327.8 341.7h0M343.9 367.0h0M308.5 351.7h0M306.2 363.1h0M323.5 353.2h0M333.1 351.7h0M327.4 374.4h0M315.1 375.7h0M334.1 351.7h0M309.1 367.4h0M330.3 369.1h0M342.7 351.7h0M338.2 339.2h0M344.6 345.6h0M324.8 377.2h0M317.6 365.6h0M339.4 359.0h0M334.2 347.6h0M324.7 348.8h0M328.2 375.1h0M310.4 353.2h0M319.3 361.9h0M296.0 362.8h0M305.3 363.3h0M342.1 348.8h0M324.2 362.0h0M335.3 362.8h0M327.5 360.1h0M308.7 344.5h0M305.1 368.6h0M318.2 377.0h0M334.1 380.7h0M301.4 366.1h0M345.4 351.1h0M344.2 378.3h0M341.8 352.5h0M346.1 343.1h0M339.8 373.2h0M340.8 338.1h0M312.2 370.4h0M328.2 348.9h0M299.8 357.3h0M332.7 381.8h0M320.7 360.5h0M318.8 347.2h0M334.3 343.7h0M326.0 348.9h0M316.3 340.7h0M324.3 348.9h0M310.3 355.0h0M324.5 374.5h0M326.9 361.1h0M315.6 338.5h0M333.0 384.4h0M315.3 363.8h0M319.7 364.6h0M327.5 367.6h0M329.8 348.7h0M309.3 348.2h0M340.2 356.2h0M326.3 378.3h0M320.0 349.3h0M315.1 352.2h0M331.8 345.8h0M313.6 363.9h0M342.4 364.3h0M331.4 365.7h0M297.3 359.3h0M320.8 344.1h0M332.8 365.9h0M318.9 379.4h0M319.9 358.0h0M325.7 363.6h0M309.4 351.2h0M334.3 371.4h0M326.9 348.0h0M318.5 349.8h0M312.4 351.6h0M323.1 345.0h0M312.8 347.9h0M317.8 335.7h0M329.6 371.0h0M321.3 362.0h0M315.0 352.2h0M341.0 359.0h0M320.9 361.6h0M343.3 348.4h0M338.7 364.8h0M334.1 343.8h0M304.2 355.4h0M316.4 367.4h0M306.4 354.2h0M339.7 379.0h0M309.6 357.1h0M324.2 352.0h0M325.0 357.2h0M331.3 348.3h0M316.6 347.2h0M333.4 366.4h0M329.6 362.6h0M331.6 368.2h0M313.3 368.1h0" stroke="#ff3322" stroke-width="2.00" stroke-linecap="round" fill="none" opacity="0.85"/>
<path d="M359.1 375.1h0M307.7 353.4h0M337.6 361.9h0M313.0 354.7h0M350.8 367.3h0M356.6 371.4h0M365.8 368.1h0M348.4 334.1h0M307.8 355.3h0M347.1 371.0h0M317.4 345.4h0M348.6 357.6h0M335.2 375.2h0M358.3 371.3h0M318.7 362.4h0M346.6 343.4h0M380.5 363.8h0M347.7 339.1h0M341.8 362.3h0M349.9 359.9h0M345.0 378.6h0M330.2 372.7h0M327.3 350.1h0M346.2 350.5h0M346.6 358.9h0M314.4 364.3h0M314.5 356.7h0M328.3 357.2h0M321.8 338.2h0M319.8 365.4h0M312.1 353.7h0M376.8 363.2h0M354.7 353.3h0M330.9 360.5h0M330.3 353.8h0M326.7 361.9h0M336.9 372.1h0M326.1 379.9h0M368.7 359.3h0M362.9 366.8h0M349.1 366.4h0M360.8 338.4h0M313.9 374.9h0M309.0 340.1h0M317.2 369.6h0M305.0 351.3h0M314.6 342.9h0M342.8 381.4h0M345.5 350.7h0M371.5 359.9h0M356.3 357.7h0M329.2 367.4h0M332.1 342.7h0M327.2 352.1h0M325.4 375.4h0M326.2 357.4h0M379.8 369.1h0M317.3 372.9h0M326.0 376.2h0M369.8 346.9h0M314.5 341.8h0M310.5 353.0h0M343.8 331.2h0M349.9 368.6h0M355.2 360.3h0M310.0 347.7h0M322.1 349.2h0M354.8 354.8h0M333.5 343.3h0M356.1 373.0h0M348.7 361.5h0M326.7 364.4h0M326.5 384.9h0M338.5 338.7h0M366.8 350.6h0M334.0 367.9h0M311.7 358.5h0M346.6 344.7h0M338.3 358.7h0M348.8 372.4h0M334.5 374.6h0M359.7 351.2h0M317.5 350.6h0M321.6 365.2h0M343.6 374.2h0M338.6 359.5h0M334.8 354.1h0M368.0 342.1h0M335.4 375.8h0M339.2 345.3h0M318.8 378.5h0M347.4 343.5h0M316.4 342.5h0M379.5 360.6h0M378.4 345.3h0M350.2 338.6h0M326.2 354.0h0M369.1 349.9h0M376.2 342.1h0M329.2 377.3h0M314.8 346.7h0M320.8 368.0h0M333.7 378.6h0M355.4 357.6h0M340.6 377.8h0M329.5 339.0h0M357.9 344.0h0M312.3 350.4h0M372.8 344.4h0M321.2 370.6h0M343.9 370.5h0M305.2 348.8h0M355.5 367.0h0M313.0 351.3h0M323.2 348.5h0M349.5 365.2h0M355.6 355.6h0M334.5 366.1h0M364.6 352.0h0M336.0 350.2h0M386.3 343.0h0M363.7 360.6h0M361.3 347.3h0M373.4 367.2h0M361.2 339.5h0M353.6 353.0h0M379.5 346.6h0M349.3 359.4h0M343.3 356.3h0M324.9 357.9h0M330.5 342.6h0M366.9 360.5h0M355.6 369.4h0M312.9 349.4h0M347.5 348.7h0M330.3 375.7h0M315.8 372.9h0M317.1 378.0h0M324.2 364.6h0M340.5 351.7h0M327.4 342.8h0M331.3 365.5h0M370.7 367.3h0M335.1 352.6h0M322.7 369.2h0M352.1 353.7h0M320.5 361.0h0M336.4 368.2h0M344.4 347.5h0M363.4 347.3h0M348.8 354.9h0M354.1 368.5h0M310.2 337.2h0M327.5 352.1h0M361.1 361.8h0M342.4 354.2h0M359.1 349.6h0M363.6 339.3h0M382.7 360.5h0M369.6 350.5h0M369.2 358.6h0M373.3 355.1h0M340.0 377.2h0M371.0 356.3h0M343.1 377.5h0M318.5 365.1h0M328.6 380.9h0M355.5 351.9h0M355.4 341.7h0M335.1 342.3h0M382.3 362.4h0M334.6 373.3h0M315.6 354.7h0M377.9 354.9h0M377.9 350.4h0M371.0 360.1h0M336.5 366.4h0M332.3 345.6h0M319.6 374.0h0M337.3 339.9h0M332.1 341.2h0M325.9 377.9h0M359.4 370.1h0M356.2 362.3h0M382.0 357.5h0M377.5 365.4h0M327.6 376.4h0M361.2 340.3h0M337.3 352.0h0M376.2 360.4h0M306.0 344.5h0M351.9 344.3h0M376.0 345.6h0M328.4 370.5h0M314.2 346.3h0M337.2 366.9h0M355.5 345.2h0M365.9 350.5h0M333.4 347.3h0M330.4 382.4h0M325.8 359.0h0M332.0 362.4h0M311.6 344.9h0M383.7 358.2h0M341.6 376.2h0M387.3 347.4h0M333.4 342.3h0M334.3 366.5h0M358.9 376.8h0M321.3 362.7h0M330.2 383.5h0M327.8 352.1h0M307.8 363.4h0M362.7 356.6h0M362.5 361.6h0M350.2 374.4h0M327.9 381.7h0M363.4 371.2h0M317.6 347.1h0M311.8 370.2h0M364.2 354.8h0M372.7 348.7h0M364.3 338.8h0M349.2 372.5h0M321.7 380.2h0M313.8 339.5h0M333.8 375.3h0M297.3 353.0h0M329.0 347.4h0M341.4 372.3h0M387.9 365.3h0M324.7 354.1h0M353.2 373.7h0M373.6 354.9h0M315.1 374.7h0M316.5 366.0h0M352.3 342.2h0M323.8 365.0h0M321.4 353.9h0M367.2 342.4h0M359.0 360.2h0M359.4 345.8h0M379.9 362.9h0M378.0 363.1h0M321.2 354.1h0M372.0 342.7h0M362.4 372.9h0M314.4 360.7h0M350.0 356.6h0M385.6 350.2h0M349.8 364.7h0M319.2 361.6h0M367.5 365.1h0M335.7 354.1h0M332.3 381.4h0M381.4 362.9h0M330.8 346.5h0M354.4 373.5h0M326.8 349.8h0M353.2 353.0h0M347.7 357.9h0M366.0 357.3h0M380.9 358.2h0M312.0 360.3h0M337.8 334.7h0M356.5 344.5h0M307.1 358.1h0M347.2 369.5h0M381.2 355.3h0M317.6 339.5h0M335.1 353.5h0M354.5 362.7h0M327.9 340.5h0M364.4 350.6h0M362.4 367.4h0M343.4 341.0h0M322.4 356.4h0M381.1 356.7h0M311.9 362.4h0M322.5 379.0h0M354.5 364.2h0M378.4 369.7h0M354.9 350.2h0M362.2 374.2h0M377.7 348.0h0M324.3 355.3h0M363.7 369.8h0M334.7 337.9h0M381.9 363.1h0M369.4 358.1h0M341.5 366.3h0M322.2 367.7h0M336.0 346.4h0M369.9 349.6h0M369.6 351.8h0M311.6 359.7h0M339.8 376.4h0M343.0 369.9h0M313.2 361.2h0M362.6 339.4h0M321.3 346.8h0M382.7 354.1h0M311.3 352.6h0M337.8 351.3h0M318.9 357.9h0M336.0 375.2h0M363.0 337.3h0M322.2 360.3h0M347.1 345.0h0M314.5 343.5h0M355.2 347.4h0M335.7 362.1h0M318.7 352.3h0M343.8 357.1h0M341.4 366.4h0M320.3 347.2h0M352.2 371.3h0M350.0 370.0h0M323.5 348.7h0M335.9 340.2h0M347.7 343.4h0M309.0 347.4h0M373.0 355.5h0M322.6 377.3h0M377.2 365.3h0M341.1 371.8h0M369.7 355.6h0M337.8 362.1h0M332.8 346.9h0M376.9 346.5h0M372.4 356.1h0M353.6 371.5h0M317.3 337.9h0M365.1 348.9h0M374.9 349.4h0M378.8 368.8h0M368.5 355.8h0M317.4 380.3h0M314.8 355.4h0M354.8 362.2h0M364.9 367.8h0M358.6 354.9h0M323.3 341.7h0M347.4 342.9h0M357.7 366.5h0M335.0 362.2h0M343.9 344.6h0M350.7 361.4h0M310.2 349.0h0M349.6 366.8h0M337.5 380.7h0M356.2 350.1h0M330.0 355.4h0M320.6 350.3h0M358.3 346.3h0M355.8 369.8h0M357.6 352.5h0M308.0 351.0h0M337.5 376.2h0M324.3 347.9h0M315.2 344.0h0M386.2 345.5h0M330.9 358.1h0M338.1 358.5h0M379.7 347.9h0M369.9 369.4h0M314.5 363.8h0M365.9 344.7h0M319.0 371.8h0M372.6 348.3h0M315.4 363.5h0M313.3 347.3h0M330.9 349.4h0M324.9 351.1h0M343.0 348.8h0M324.9 355.1h0M328.7 356.4h0M333.5 377.7h0M360.6 357.5h0M326.0 350.8h0M324.9 371.6h0M332.1 359.1h0M337.1 356.9h0M321.7 360.1h0M319.1 346.7h0M311.4 365.5h0M329.6 344.0h0M322.0 346.3h0M330.7 365.8h0M338.8 336.8h0M376.0 350.3h0M348.6 356.1h0M347.3 360.3h0M374.0 355.2h0M339.8 335.5h0M327.4 380.6h0M363.7 339.4h0M321.1 342.3h0M331.4 380.0h0M321.4 370.6h0M327.9 341.5h0M311.3 373.1h0M342.9 371.2h0M344.8 366.9h0M363.3 340.2h0M351.3 360.4h0M353.9 359.0h0M331.8 335.3h0M376.8 356.2h0M317.7 360.6h0M347.4 341.9h0M326.6 373.5h0M347.2 357.7h0M377.4 343.1h0M322.7 341.6h0M326.7 353.3h0M339.1 347.5h0M355.3 366.3h0M372.4 344.6h0M381.0 361.1h0M378.6 341.9h0M326.9 356.5h0M327.3 354.5h0M348.9 339.8h0M378.6 354.8h0M315.0 371.7h0M365.2 361.3h0M331.1 341.9h0M328.9 344.3h0M334.9 378.9h0M315.4 361.9h0M381.5 344.9h0M356.4 367.0h0M381.6 345.1h0M320.3 375.8h0M312.1 357.4h0M364.5 343.4h0M326.0 383.0h0M342.9 369.1h0M341.5 339.9h0M335.0 364.0h0M309.2 368.2h0M344.4 366.2h0M384.4 356.2h0M322.4 352.1h0M373.0 362.1h0M332.8 362.1h0M333.9 373.8h0M365.7 354.8h0M380.2 358.7h0M306.6 350.1h0M322.0 365.7h0M350.4 346.4h0M345.7 359.2h0M327.7 377.8h0M344.9 373.0h0M378.2 371.0h0M330.7 354.3h0M378.5 352.4h0M356.8 342.8h0M321.3 346.4h0M325.7 351.9h0M330.8 335.3h0M376.0 363.7h0M309.1 357.8h0M342.8 372.0h0M312.4 354.5h0M337.5 348.9h0M353.1 367.9h0M361.4 367.6h0M330.4 375.4h0M374.8 351.3h0M349.8 346.9h0M348.8 352.5h0M355.6 359.7h0M307.5 348.7h0M333.1 362.4h0M299.7 355.4h0M340.9 363.0h0M337.7 375.0h0M347.4 357.4h0M321.9 341.4h0M342.5 360.2h0M343.2 357.4h0M392.1 348.1h0M315.3 371.0h0M317.3 375.8h0M356.6 346.9h0M372.6 369.0h0M336.9 371.1h0M326.3 356.0h0M316.6 364.3h0M374.4 367.3h0M380.2 351.1h0M378.9 370.0h0M304.3 353.9h0M320.4 364.8h0M323.2 366.5h0M310.6 341.5h0M342.3 351.9h0M330.6 345.3h0M341.9 348.9h0M338.5 377.7h0M323.1 372.7h0M383.4 357.6h0M336.0 377.6h0M331.3 341.8h0M338.0 366.5h0M371.2 368.7h0M323.4 368.3h0M363.8 339.2h0M386.3 338.1h0M374.2 349.6h0M306.2 363.8h0M368.4 358.5h0M352.3 355.3h0M324.9 361.3h0M383.5 349.7h0M320.6 351.2h0M368.1 344.8h0M367.5 342.0h0M326.9 340.7h0M383.8 350.2h0M321.5 346.5h0M357.5 372.8h0M350.0 370.5h0M344.4 355.8h0M328.6 335.9h0M387.3 339.8h0M318.0 369.0h0M338.1 368.6h0M323.4 378.8h0M362.2 364.6h0M317.2 350.1h0M329.9 347.5h0M343.5 371.1h0M357.3 368.3h0M339.5 345.0h0M305.7 355.9h0M348.2 339.8h0M345.0 369.0h0M335.6 346.5h0M333.0 345.1h0M313.7 336.4h0M354.7 357.8h0M359.7 345.2h0M321.8 353.2h0M327.0 342.1h0M319.0 374.4h0M377.2 370.1h0M340.9 340.7h0M319.9 374.0h0M364.1 365.1h0M368.4 366.2h0M356.5 375.4h0M333.4 348.8h0M326.3 341.8h0M385.0 356.2h0M363.3 368.8h0M318.1 363.4h0M354.4 354.8h0M383.8 356.1h0M317.3 375.4h0M361.6 353.8h0M336.6 368.5h0M383.3 360.2h0M361.2 348.9h0M356.8 347.3h0M351.6 349.8h0M381.6 355.3h0M319.1 363.0h0M377.0 367.4h0M385.5 349.6h0M366.4 366.3h0M357.3 348.1h0M320.7 356.3h0M343.1 347.3h0M330.0 339.2h0M315.8 367.3h0M318.5 358.5h0M307.9 365.9h0M352.5 342.5h0M330.7 358.2h0M328.3 379.9h0M315.5 364.9h0M339.1 355.6h0M319.2 373.5h0M311.0 345.7h0M372.4 357.7h0M366.1 364.9h0M372.1 352.4h0M320.5 377.8h0M331.3 354.0h0M317.8 342.7h0M314.4 358.3h0M338.1 382.5h0M381.7 362.1h0M349.1 346.7h0M340.9 353.0h0M357.6 338.3h0M378.3 370.4h0M373.7 342.2h0M354.3 369.0h0M325.0 358.9h0M299.8 350.5h0M326.2 352.3h0M327.1 336.0h0M331.3 352.8h0M361.7 365.2h0M354.9 373.3h0M384.3 365.2h0M343.6 341.7h0M350.3 365.9h0M339.6 369.2h0M335.5 376.3h0M352.1 338.3h0M322.7 350.4h0M335.8 361.8h0M360.1 365.0h0M334.5 358.2h0M338.9 368.1h0M342.8 341.4h0M319.5 356.5h0M320.3 350.6h0M337.3 369.5h0M367.3 370.6h0M353.8 359.8h0M380.4 360.6h0M361.5 336.9h0M388.4 352.0h0M309.0 351.6h0M348.4 354.1h0M322.8 379.8h0M325.4 344.5h0M352.6 345.7h0M378.3 350.0h0M364.2 343.9h0M369.3 344.9h0M306.0 347.9h0M336.5 369.0h0M329.9 354.4h0M320.8 362.3h0M346.2 337.1h0M307.8 351.7h0M331.4 351.8h0M367.6 347.1h0M326.2 360.8h0M363.1 379.2h0M370.5 358.4h0M323.3 348.3h0M333.1 348.7h0M380.7 371.3h0M321.4 366.5h0M378.0 375.7h0M313.7 355.5h0M336.7 357.3h0M380.1 352.0h0M314.1 368.7h0M383.2 343.2h0M365.6 348.6h0M321.1 357.7h0M316.0 375.4h0M346.6 352.2h0M323.6 369.1h0M329.2 335.0h0M310.1 343.3h0M374.0 340.5h0M358.5 341.6h0M345.8 354.4h0M369.3 361.8h0M377.4 371.0h0M346.9 336.9h0M319.1 367.3h0M355.9 366.8h0M338.7 364.7h0M359.2 349.0h0M326.8 350.1h0M330.5 365.0h0M378.3 341.0h0M357.9 356.6h0M373.0 344.0h0M352.1 351.5h0M317.7 346.5h0M313.1 342.3h0M351.0 367.2h0M358.9 372.7h0M332.1 364.9h0M347.0 340.0h0M361.9 367.7h0M388.4 354.3h0M374.2 374.5h0M313.2 351.7h0M375.2 349.1h0M364.5 362.7h0M330.5 343.7h0M376.1 358.5h0M378.1 372.1h0M370.1 353.0h0M379.8 373.3h0M359.1 365.5h0M383.5 369.0h0M320.5 362.0h0M347.3 368.7h0M365.2 352.8h0M325.2 363.4h0M334.9 344.4h0M366.6 342.5h0M365.9 364.6h0M326.1 384.7h0M312.0 370.2h0M347.4 355.1h0M364.5 351.0h0M358.3 367.7h0M300.7 361.0h0M344.3 334.6h0M332.7 375.0h0M389.6 350.8h0M353.5 366.5h0M344.8 374.9h0M356.9 359.0h0M342.2 370.3h0M327.4 358.5h0M371.3 347.4h0M362.7 343.1h0M331.7 367.1h0M311.5 363.8h0M353.8 356.0h0M333.3 361.2h0M373.9 359.8h0M311.4 359.3h0M314.5 365.4h0M362.5 372.4h0M374.0 356.8h0M307.7 373.1h0M351.6 356.0h0M336.3 347.7h0M361.6 351.2h0M364.2 343.0h0M310.4 346.0h0M349.6 367.6h0M352.1 345.8h0M318.1 376.4h0M327.2 367.9h0M334.1 350.6h0M367.3 338.1h0M303.2 345.3h0M318.1 362.6h0M366.8 364.3h0M333.2 348.3h0M345.8 348.2h0M355.1 362.7h0M328.2 336.2h0M352.9 358.5h0M344.5 349.9h0M337.5 360.1h0M358.2 344.5h0M302.3 349.3h0M322.6 368.8h0M344.1 352.2h0M321.7 368.9h0M335.4 377.7h0M366.0 351.4h0M323.7 338.4h0M383.1 348.4h0M349.0 349.6h0M349.6 354.5h0M350.7 374.2h0M357.6 347.4h0M352.0 350.3h0M320.0 378.4h0M338.1 375.6h0M351.7 344.0h0M329.5 347.8h0M334.6 354.4h0M353.0 339.3h0M330.9 355.7h0M381.8 362.9h0M332.2 373.4h0M322.0 357.5h0M369.4 357.1h0M328.3 352.5h0M318.5 350.6h0M355.6 343.9h0M378.6 357.9h0M318.6 341.6h0M320.3 343.2h0M308.9 363.8h0M349.5 371.4h0M372.7 360.1h0M381.8 364.8h0M383.3 351.0h0M341.8 347.9h0M345.7 353.7h0M331.1 378.6h0M313.1 358.3h0M321.8 363.0h0M375.1 366.0h0M330.5 358.9h0M337.1 376.5h0M367.6 339.0h0M341.8 352.3h0M358.5 340.7h0M354.8 359.6h0M336.5 375.1h0M334.2 344.5h0M368.9 370.6h0M319.7 355.3h0M314.7 368.0h0M317.2 383.0h0M352.1 362.0h0M374.0 371.0h0M345.7 350.6h0M376.4 351.4h0M316.8 375.6h0M375.5 353.8h0M384.9 343.9h0M335.7 381.3h0M325.1 352.7h0M344.3 336.9h0M322.8 363.8h0M358.5 353.6h0M363.1 340.5h0M384.0 362.9h0M376.7 339.7h0M370.8 374.1h0M383.6 367.5h0M371.1 355.4h0M336.2 348.1h0M299.4 362.5h0M347.4 364.4h0M365.6 357.0h0M320.7 374.0h0M362.0 347.1h0M359.4 350.1h0M307.9 347.9h0M327.0 342.0h0M361.1 358.5h0M316.0 380.5h0M338.9 364.0h0M324.8 343.9h0M308.8 363.1h0M353.9 360.0h0M337.0 344.6h0M317.0 367.6h0M321.6 349.5h0M358.0 354.8h0M374.0 367.8h0M364.0 363.3h0M358.1 349.2h0M365.7 348.8h0M345.8 367.4h0M317.1 354.5h0M363.9 359.7h0M364.7 349.6h0M308.7 365.7h0M373.5 370.8h0M377.6 349.4h0M340.2 362.4h0M315.0 361.1h0M336.2 358.1h0M311.6 355.7h0M330.2 370.0h0M341.1 352.2h0M355.7 355.6h0M327.3 379.6h0M337.7 357.1h0M338.9 352.5h0M346.4 333.1h0M341.1 350.6h0M340.4 358.7h0M297.7 359.7h0M337.3 366.2h0M368.7 346.5h0M334.3 363.1h0M353.1 338.8h0M366.6 365.0h0M362.3 342.5h0M377.5 369.8h0M320.9 374.8h0M318.3 334.2h0M330.3 353.9h0M317.6 358.5h0M353.3 356.7h0M354.7 375.3h0M339.3 345.3h0M379.8 364.8h0M341.9 344.0h0M308.6 356.9h0M352.0 346.2h0M316.5 346.9h0M368.2 349.9h0M347.9 355.8h0M355.1 366.5h0M308.4 360.1h0M382.4 369.8h0M337.6 380.4h0M369.4 355.3h0M326.8 379.8h0M306.8 354.6h0M341.0 367.2h0M356.8 372.5h0M326.4 355.9h0M362.4 364.0h0M354.5 369.2h0M357.3 368.5h0M374.4 341.9h0M385.4 351.6h0M366.1 343.2h0M382.2 373.9h0M371.1 354.8h0M343.1 346.9h0M327.2 345.9h0M328.8 342.3h0M324.6 364.8h0M374.3 361.0h0M336.6 371.2h0M372.2 356.3h0M305.8 344.9h0M316.1 370.8h0M322.1 362.4h0M330.4 359.0h0M377.3 345.4h0M323.9 386.8h0M336.1 348.6h0M336.2 351.1h0M345.7 360.3h0M311.8 346.7h0M309.9 360.7h0M310.2 360.9h0M329.0 357.2h0M331.5 342.2h0M333.5 366.3h0M365.1 345.8h0M341.4 361.8h0M330.8 377.9h0M364.2 345.0h0M316.2 354.9h0M368.2 335.7h0M324.7 364.9h0M367.0 357.7h0M349.1 357.0h0M332.4 361.3h0M314.5 351.5h0M329.0 358.2h0M329.9 360.0h0M346.2 367.9h0M322.5 340.2h0M333.2 359.7h0M378.8 343.6h0M326.2 363.4h0M367.0 364.7h0M373.5 365.1h0M368.7 377.0h0M386.0 370.6h0M322.9 341.6h0M315.6 362.5h0M348.8 348.2h0M355.0 354.3h0M352.1 375.5h0M367.5 358.2h0M389.6 345.0h0M332.2 352.5h0M331.3 369.6h0M315.0 351.0h0M337.7 362.1h0M352.1 350.5h0M321.0 371.0h0M335.3 362.0h0M307.7 367.2h0M310.1 354.8h0M329.9 356.1h0M308.7 348.8h0M331.1 342.2h0M336.2 371.8h0M324.4 382.6h0M369.7 367.5h0M325.9 358.6h0M324.0 373.0h0M307.4 354.9h0M363.9 364.4h0M307.3 358.5h0M374.4 346.7h0M354.1 349.0h0M360.0 352.9h0M317.0 371.8h0M328.1 345.4h0M329.8 346.5h0M314.0 343.1h0M362.0 349.7h0M314.0 367.2h0M324.7 350.1h0M361.1 362.2h0M314.1 366.7h0M349.7 375.7h0M344.1 353.2h0M358.5 375.1h0M302.1 366.6h0M341.6 338.3h0M318.8 359.4h0M358.1 349.6h0M330.5 334.5h0M338.2 348.4h0M383.6 365.8h0M324.3 345.5h0M347.8 350.0h0M364.0 364.3h0M328.7 372.0h0M337.0 347.2h0M340.2 359.6h0M359.4 364.2h0M350.4 340.1h0M356.0 361.9h0M350.6 356.6h0M313.3 356.5h0M323.7 359.9h0M319.6 343.1h0M381.4 367.2h0M322.7 368.1h0M366.2 340.0h0M379.4 365.3h0M346.2 363.9h0M344.6 367.1h0M345.9 350.8h0M335.0 378.3h0M318.4 355.5h0M336.0 352.1h0M344.8 337.0h0M336.0 340.6h0M368.4 347.1h0M364.3 344.5h0M360.1 343.4h0M329.6 364.1h0M337.5 347.2h0M379.9 355.8h0M359.1 346.6h0M352.3 349.8h0M353.7 336.4h0M351.7 359.7h0M337.0 379.4h0M371.8 345.4h0M354.8 346.1h0M373.3 351.8h0M308.5 357.1h0M307.8 348.1h0M333.7 367.3h0M332.5 354.6h0M335.6 337.5h0M371.2 360.7h0M373.5 364.1h0M360.8 349.4h0M322.0 340.2h0M319.6 336.7h0M354.0 353.6h0M328.6 331.9h0M349.1 362.3h0M380.1 358.3h0M322.8 356.3h0M378.9 371.5h0M384.4 371.7h0M339.3 343.8h0M351.3 374.0h0M321.5 358.0h0M340.9 363.4h0M375.4 351.6h0M310.3 352.7h0M375.3 348.2h0M337.8 344.1h0M319.4 373.3h0M334.9 375.0h0M370.9 350.2h0M344.5 347.3h0M349.1 350.4h0M323.7 366.1h0M342.6 378.2h0M345.7 331.6h0M324.2 354.0h0M347.1 345.5h0M348.8 342.8h0M376.5 359.5h0M344.6 377.9h0M336.4 372.8h0M318.8 342.5h0M312.1 349.9h0M320.3 345.6h0M303.0 350.7h0M336.9 364.7h0M323.8 365.0h0M322.6 356.8h0M345.3 367.7h0M323.4 350.1h0M367.2 375.0h0M376.2 347.7h0M355.4 371.9h0M310.1 371.5h0M346.3 375.4h0M315.8 336.7h0M341.7 337.2h0M376.5 353.9h0M324.8 343.0h0M372.7 365.2h0M335.5 363.9h0M335.6 350.3h0M323.8 365.8h0M311.5 359.3h0M380.6 367.2h0M370.1 349.4h0M306.9 355.1h0M320.6 382.7h0M345.7 371.0h0M338.8 338.0h0M318.6 338.8h0M358.9 335.3h0M365.5 346.1h0M342.8 337.8h0M385.7 362.9h0M357.0 364.7h0M315.9 352.0h0M337.1 352.7h0M314.4 368.3h0M313.0 353.4h0M342.2 353.4h0M316.9 370.0h0M380.5 344.1h0M318.5 346.7h0M370.5 354.7h0M366.3 375.0h0M367.8 339.7h0M344.4 339.4h0M310.5 354.2h0M343.4 362.1h0M344.8 366.8h0M334.6 347.8h0M355.5 369.6h0M375.8 362.7h0M325.4 370.7h0M343.6 354.1h0M340.2 373.4h0M376.3 366.8h0M338.9 361.4h0M303.4 341.5h0M326.5 366.6h0M365.8 368.0h0M320.9 354.6h0M356.8 363.0h0M320.1 356.2h0M307.7 347.9h0M332.0 377.4h0M314.2 372.5h0M307.6 368.7h0M322.1 368.4h0M377.9 349.8h0M344.0 355.3h0M380.4 357.2h0M331.1 382.6h0M324.6 339.1h0M344.4 347.7h0M333.5 342.5h0M352.3 359.7h0M344.4 358.3h0M332.5 334.0h0M353.1 335.8h0M334.9 346.3h0M320.0 350.6h0M366.8 362.1h0M312.8 342.0h0M380.9 359.7h0M354.2 366.5h0M333.1 349.6h0M384.4 345.9h0M361.0 339.1h0M326.9 340.9h0M317.3 362.0h0M328.9 374.5h0M340.6 364.8h0M330.1 340.7h0M363.6 351.7h0M338.2 374.9h0M336.7 364.5h0M340.9 355.9h0M312.5 374.6h0M379.1 367.9h0M352.1 346.2h0M308.1 341.9h0M333.3 359.2h0M369.7 338.8h0M335.7 357.1h0M313.3 359.3h0M362.1 364.3h0M335.7 372.1h0M322.7 358.1h0M369.9 372.7h0M382.2 366.4h0M324.0 361.9h0M326.7 378.9h0M337.5 356.3h0M316.1 372.6h0M315.3 366.6h0M358.4 365.4h0M360.4 349.5h0M313.1 348.7h0M373.5 368.9h0M334.5 360.5h0M321.4 351.2h0M357.8 358.1h0M351.9 366.0h0M364.9 369.2h0M343.6 343.2h0M322.1 369.9h0M334.2 336.6h0M350.5 356.3h0M323.1 374.3h0M328.7 366.6h0M314.4 369.9h0M336.3 365.2h0M306.5 359.9h0M300.7 349.4h0M366.0 353.5h0M335.0 369.5h0M373.4 370.7h0M318.9 375.9h0M346.0 367.7h0M336.8 346.1h0M328.8 364.1h0M316.2 333.9h0M348.1 355.7h0M355.3 361.3h0M343.5 377.3h0M343.4 360.6h0M322.6 354.8h0M320.0 370.6h0M318.0 356.8h0M366.0 338.8h0M340.6 338.7h0M371.1 339.4h0M372.0 372.7h0M368.1 357.9h0M378.0 362.4h0M374.0 344.2h0M316.4 358.9h0M373.4 352.7h0M324.8 379.1h0M367.0 359.4h0M358.2 341.9h0M335.1 368.7h0M320.4 365.4h0M346.7 348.4h0M373.9 350.8h0M312.0 358.2h0M313.4 361.8h0M350.0 361.7h0M345.4 363.9h0M383.8 355.7h0M364.3 363.4h0M380.7 372.8h0M326.3 352.2h0M321.9 345.2h0M328.1 364.1h0M308.2 372.4h0M334.1 338.1h0M369.2 345.9h0M331.9 349.7h0M312.0 342.7h0M360.2 362.7h0M324.1 371.9h0M322.0 373.1h0M380.1 341.8h0M338.4 348.5h0M372.0 359.3h0M342.5 371.8h0M307.3 350.4h0M318.5 370.1h0M343.4 369.8h0M381.1 346.4h0M345.6 377.1h0M339.7 352.4h0M366.2 372.2h0M366.0 348.1h0M327.6 360.8h0M338.0 370.8h0M320.0 337.7h0M378.6 347.1h0M334.1 353.4h0M381.2 369.8h0M382.0 365.4h0M314.6 352.1h0M321.6 382.2h0M358.7 370.7h0M322.2 375.2h0M362.4 357.9h0M345.4 359.3h0M371.2 371.3h0M355.9 370.1h0M343.9 367.0h0M356.7 354.3h0M350.9 359.1h0M360.8 351.3h0M333.6 338.9h0M318.8 336.6h0M342.8 372.0h0M379.1 358.5h0M340.1 347.1h0M305.4 359.3h0M340.2 349.3h0M351.4 371.3h0M356.9 363.2h0M318.7 360.5h0M329.0 361.0h0M311.7 368.1h0M332.0 352.3h0M344.4 365.2h0M317.1 338.8h0M313.2 352.3h0M317.0 378.9h0M311.0 344.9h0M302.8 348.2h0M342.1 343.1h0M360.8 367.2h0M366.8 347.8h0M339.0 336.5h0M338.8 347.5h0M342.9 367.8h0M348.1 370.8h0M317.6 337.9h0M370.7 354.1h0M362.9 369.7h0M325.1 371.5h0M320.1 363.2h0M368.5 344.5h0M306.6 364.1h0M381.1 356.6h0M308.1 352.3h0M359.9 370.4h0M335.0 348.8h0M361.7 349.3h0M371.1 348.7h0M352.5 369.2h0M312.5 361.5h0M358.4 364.6h0M358.0 363.2h0M379.4 355.4h0M325.4 377.8h0M349.3 355.5h0M322.1 366.0h0M356.2 368.6h0M308.5 371.4h0M369.1 337.9h0M332.2 358.8h0" stroke="#101010" stroke-width="1.20" stroke-linecap="square" fill="none" opacity="0.90"/>
<path d="M369.1 339.9h0M321.0 371.9h0M311.2 353.2h0M315.0 357.5h0M331.1 341.6h0M316.8 358.8h0M331.4 372.5h0M314.2 344.6h0M321.4 364.2h0M319.1 371.2h0M332.2 382.3h0M315.9 348.0h0M340.6 337.4h0M316.5 339.3h0M307.0 365.8h0M364.6 343.4h0M324.5 360.8h0M375.2 369.6h0M365.4 371.2h0M327.7 341.9h0M311.7 353.8h0M335.6 344.0h0M321.7 369.5h0M312.0 350.6h0M361.3 372.1h0M308.8 351.3h0M324.3 354.7h0M344.7 379.8h0M324.0 378.8h0M331.1 343.3h0M354.6 373.4h0M334.3 377.9h0M317.7 347.1h0M356.5 345.3h0M323.3 373.9h0M330.6 376.1h0M316.7 378.2h0M305.5 345.5h0M327.9 341.8h0M314.3 371.4h0M353.5 343.9h0M321.0 365.9h0M330.1 379.8h0M342.3 333.9h0M315.1 351.0h0M319.8 363.4h0M307.4 349.2h0M359.6 343.9h0M323.2 358.4h0M314.7 348.5h0M332.7 343.6h0M325.6 382.6h0M350.9 373.2h0M324.2 369.2h0M330.0 345.5h0M308.5 365.1h0M310.7 366.3h0M320.9 345.6h0M304.8 353.0h0M320.6 352.9h0M358.5 340.7h0M329.5 378.2h0M358.0 339.5h0M324.0 349.2h0M351.7 339.2h0M324.2 340.4h0M307.8 360.2h0M354.8 374.8h0M313.0 343.7h0M323.8 363.3h0M363.8 343.8h0M321.0 359.8h0M304.3 352.0h0M349.9 344.7h0M321.9 339.3h0M326.1 355.8h0M328.5 345.3h0M370.3 335.7h0M310.0 352.7h0M374.6 341.8h0M308.3 372.4h0M344.1 341.2h0M312.9 363.6h0M360.4 341.9h0M311.6 370.2h0M308.5 358.4h0M314.6 352.8h0M371.9 341.4h0M336.7 377.5h0M328.4 336.6h0M331.9 381.2h0M366.1 345.4h0M358.1 370.3h0M339.6 346.0h0M323.2 351.7h0M337.3 335.0h0M324.9 342.3h0M313.6 372.5h0M368.4 344.2h0M305.7 341.9h0M313.2 359.1h0M330.7 339.1h0M314.1 360.4h0M318.7 341.9h0M322.5 367.4h0M362.9 339.9h0M322.7 345.8h0M364.5 344.5h0" stroke="#ff3322" stroke-width="1.90" stroke-linecap="round" fill="none" opacity="0.80"/>
<path d="M329.5 350.7L329.5 367.4L334.8 370.3L346.6 368.5L361.4 366.5L388.5 366.5L398.8 363.4L407.4 357.3L418.1 353.3L425.7 349.1L431.4 345.6L425.5 344.0L417.1 334.5L412.7 331.9L409.8 334.2L403.7 341.8L396.7 345.2L384.2 349.5L368.8 349.5L354.8 348.5L340.4 348.5L329.5 350.7Z" fill="#080808" fill-rule="evenodd" opacity="1.00"/>
<path d="M333.6 348.4h0M404.7 353.3h0M339.0 363.0h0M388.4 346.6h0M358.2 345.5h0M364.9 368.8h0M406.7 351.9h0M378.3 349.1h0M380.1 369.8h0M363.2 372.1h0M353.0 371.3h0M340.8 362.0h0M434.1 348.9h0M405.9 346.6h0M410.6 338.3h0M379.1 359.4h0M413.8 351.7h0M358.2 352.4h0M366.9 360.5h0M398.3 354.7h0M375.6 351.3h0M376.3 367.7h0M370.1 368.5h0M329.5 368.0h0M402.3 358.8h0M362.7 353.1h0M381.7 346.8h0M387.3 346.2h0M413.4 343.8h0M372.8 369.8h0M396.2 353.9h0M407.0 348.1h0M389.3 361.3h0M406.7 365.8h0M404.9 367.0h0M379.6 367.7h0M339.2 361.1h0M406.5 332.9h0M374.2 352.7h0M368.3 358.7h0M380.9 363.4h0M362.6 368.0h0M421.4 353.8h0M394.5 363.3h0M406.3 356.6h0M424.8 342.5h0M365.4 374.3h0M330.2 363.9h0M332.9 371.8h0M393.4 348.6h0M363.4 357.2h0M388.2 344.1h0M415.2 360.1h0M373.0 358.5h0M388.8 349.4h0M347.9 361.5h0M336.7 365.4h0M409.1 350.3h0M366.0 355.3h0M371.3 354.4h0M407.5 341.1h0M426.5 347.2h0M409.5 356.5h0M428.6 344.2h0M330.4 368.3h0M369.8 367.3h0M395.7 347.2h0M418.0 343.9h0M424.1 340.3h0M344.0 349.3h0M349.4 355.3h0M402.6 358.4h0M359.0 351.6h0M359.1 351.7h0M427.6 340.2h0M337.2 373.8h0M393.2 345.4h0M336.1 346.6h0M412.5 341.0h0M363.3 365.7h0M346.2 362.7h0M404.9 357.7h0M338.5 363.5h0M375.0 346.4h0M351.4 363.2h0M370.8 353.6h0M342.4 374.2h0M414.4 333.7h0M357.8 353.8h0M406.2 356.5h0M372.9 369.4h0M392.1 364.6h0M365.6 367.0h0M340.9 353.0h0M411.6 360.3h0M354.3 370.2h0M410.3 347.1h0M374.3 365.0h0M387.2 346.3h0M424.9 350.0h0M431.2 340.2h0M367.0 356.2h0M349.6 370.4h0M347.3 363.0h0M419.3 339.3h0M435.0 346.1h0M334.6 358.4h0M374.5 360.6h0M348.7 351.2h0M418.4 347.7h0M328.7 353.3h0M337.7 358.4h0M418.8 340.9h0M379.8 361.1h0M351.7 347.3h0M406.8 348.9h0M400.5 335.3h0M383.6 343.6h0M374.6 345.2h0M404.7 343.9h0M368.2 368.4h0M366.5 352.3h0M345.4 359.9h0M421.5 349.5h0M407.1 343.1h0M420.2 333.0h0M378.6 353.8h0M387.1 362.2h0M385.7 346.2h0M428.6 342.3h0M354.3 352.8h0M399.7 366.6h0M405.3 357.7h0M344.3 353.6h0M426.7 345.9h0M358.6 365.6h0M338.3 363.1h0M418.2 333.2h0M378.8 364.0h0M354.4 355.7h0M381.2 347.7h0M422.1 334.7h0M413.0 331.1h0M342.2 362.6h0M429.7 347.3h0M411.1 338.5h0M347.3 370.8h0M394.9 351.0h0M381.8 348.2h0M418.6 344.1h0M358.6 357.0h0M336.6 344.1h0M343.2 357.7h0M410.8 357.9h0M401.9 358.8h0M416.2 335.3h0M376.7 361.7h0M350.5 365.2h0M339.0 371.7h0M412.3 344.3h0M359.4 353.7h0M375.6 356.1h0M423.9 351.1h0M423.1 350.9h0M333.1 348.5h0M418.6 357.1h0M361.0 358.9h0M409.3 335.1h0M395.7 359.5h0M424.4 342.3h0M384.0 365.1h0M383.7 352.4h0M416.0 338.9h0M360.1 350.2h0M396.4 345.0h0M366.0 364.3h0M407.0 360.8h0M392.9 355.9h0M383.5 353.1h0M335.1 350.6h0M420.3 347.8h0M372.0 371.1h0M424.2 349.1h0M329.5 353.4h0M325.9 353.9h0M341.6 341.5h0M339.0 356.7h0M389.5 362.5h0M362.7 350.3h0M376.8 368.2h0M386.4 347.5h0M343.2 358.1h0M378.8 368.3h0M404.6 361.4h0M430.4 349.5h0M404.6 343.5h0M346.5 345.2h0M396.6 341.7h0M403.8 349.1h0M398.3 363.6h0M367.2 368.6h0M350.6 355.7h0M428.3 351.9h0M377.0 369.9h0M331.4 355.1h0M401.5 343.7h0M336.6 366.4h0M334.4 370.3h0M414.1 341.7h0M381.0 350.2h0M361.6 367.2h0M403.1 362.9h0M356.4 360.9h0M409.5 355.6h0M392.2 369.6h0M385.6 364.3h0M359.7 352.4h0M394.6 341.9h0M397.7 341.4h0M361.6 356.0h0M327.3 365.3h0M381.6 356.5h0M331.6 358.5h0M327.3 360.3h0M374.9 358.0h0M377.3 351.3h0M384.8 353.4h0M338.6 345.5h0M416.0 340.4h0M406.2 347.3h0M338.5 365.1h0M417.9 335.8h0M371.5 348.7h0M407.8 354.8h0M376.9 349.4h0M342.0 347.0h0M327.3 356.2h0M329.2 367.0h0M410.5 339.5h0M396.0 350.5h0M339.4 357.8h0M333.0 347.0h0M415.5 337.4h0M345.4 367.5h0M385.0 356.0h0M355.2 346.2h0M412.3 358.9h0M369.4 355.6h0M354.7 358.2h0M411.4 348.8h0M407.1 342.5h0M412.7 349.8h0M339.0 342.2h0M382.1 357.2h0M373.9 359.1h0M330.0 372.4h0M336.4 345.2h0M437.7 343.0h0M337.0 370.8h0M356.4 355.5h0M369.6 364.2h0M352.1 369.4h0M411.4 337.0h0M423.4 346.2h0M382.5 359.6h0M349.0 355.2h0M378.6 368.6h0M347.1 353.4h0M326.8 373.3h0M329.6 363.5h0M328.6 352.6h0M415.5 330.0h0M387.5 358.9h0M334.2 359.7h0M355.6 358.5h0M379.3 361.0h0M394.8 359.2h0M368.1 371.1h0M405.7 337.1h0M423.6 344.4h0M362.9 369.4h0M418.2 333.2h0M385.9 368.7h0M393.0 365.0h0M360.2 358.4h0M410.2 337.4h0M402.9 362.1h0M382.1 368.2h0M339.5 347.4h0M350.0 356.8h0M407.5 352.9h0M400.3 348.9h0M415.9 331.2h0M406.6 347.1h0M337.7 354.8h0M348.8 358.0h0M352.7 350.0h0M364.3 351.6h0M405.5 345.3h0M379.4 366.9h0M346.5 362.9h0M363.9 344.5h0M332.7 346.9h0M349.0 340.8h0M402.9 338.2h0M334.5 343.5h0M358.3 361.2h0M416.2 347.5h0M415.9 354.3h0M395.7 364.6h0M412.3 326.9h0M358.6 364.6h0M340.0 355.5h0M359.0 361.6h0M332.5 353.0h0M422.8 344.3h0M436.6 352.8h0M431.3 349.3h0M432.1 351.1h0M405.2 355.1h0M391.8 366.4h0M332.0 363.5h0M422.5 345.6h0M393.8 352.8h0M413.3 342.1h0M355.7 354.6h0M415.6 344.0h0M380.4 362.5h0M388.7 372.1h0M387.7 346.0h0M395.6 352.1h0M412.7 344.1h0M388.0 358.7h0M408.6 350.4h0M391.1 361.2h0M364.1 353.4h0M396.6 362.7h0M362.5 348.7h0M382.6 360.8h0M334.6 353.4h0M398.0 346.0h0M349.2 352.4h0M372.9 353.7h0M420.2 353.9h0M347.7 361.0h0M405.1 363.5h0M353.6 346.8h0M418.0 356.9h0M324.2 357.3h0M417.4 342.6h0M409.4 337.1h0M338.6 371.2h0M423.2 350.5h0M359.0 365.5h0M419.7 353.6h0M346.6 346.2h0M415.4 352.9h0M381.1 373.1h0M379.0 347.4h0M407.2 345.5h0M367.3 346.1h0M383.7 369.9h0M412.0 342.3h0M419.6 344.4h0M331.8 345.0h0M415.9 355.0h0M350.3 358.2h0M370.4 357.5h0M402.3 346.9h0M344.2 361.1h0M381.2 369.7h0M347.6 371.7h0M351.8 365.4h0M376.9 365.4h0M395.7 349.3h0M420.1 337.7h0M397.2 363.2h0M434.1 348.9h0M427.5 349.7h0M422.9 345.9h0M378.8 344.2h0M333.4 369.1h0M337.4 361.0h0M399.2 350.3h0M347.3 359.7h0M383.1 351.9h0M371.3 351.6h0M346.0 356.8h0M371.5 357.3h0M405.5 366.1h0M346.0 348.5h0M401.8 343.9h0M369.6 365.8h0M378.6 357.2h0M398.4 357.5h0M385.9 360.2h0M332.6 361.2h0M397.6 342.2h0M374.1 349.1h0M390.6 343.6h0M411.8 349.0h0M406.8 360.7h0M401.8 361.7h0M408.8 353.0h0M359.3 370.6h0M340.4 346.0h0M342.3 367.5h0M358.2 348.8h0M406.7 334.2h0M338.2 368.7h0M349.5 363.6h0M342.5 368.1h0M384.6 350.1h0M417.6 339.9h0M410.2 349.8h0M418.9 344.0h0M394.9 358.7h0M325.4 354.5h0M335.6 355.3h0M376.1 358.5h0M339.7 351.2h0M427.5 337.0h0M404.6 341.1h0M347.0 349.7h0M406.3 348.4h0M412.5 353.7h0M335.3 361.2h0M379.5 353.6h0M393.4 361.4h0M397.5 349.3h0M420.6 349.1h0M352.9 358.2h0M412.1 358.3h0M358.8 366.5h0M357.5 342.6h0M334.9 344.7h0M377.3 362.6h0M395.2 338.9h0M331.1 350.3h0M428.4 345.7h0M415.6 352.6h0M366.5 373.1h0M401.3 359.9h0M419.2 330.9h0M391.0 353.5h0M372.1 354.6h0M393.3 350.0h0M394.4 368.8h0M402.0 359.2h0M371.9 362.8h0M401.5 368.1h0M336.9 346.5h0M381.7 370.4h0M434.5 348.8h0M391.0 361.0h0M392.5 355.4h0M403.5 350.9h0M382.9 360.1h0M393.8 365.9h0M384.2 349.6h0M371.3 365.9h0M409.3 346.4h0M352.7 347.4h0M393.4 364.5h0M404.0 358.7h0M432.6 346.4h0M392.2 347.2h0M419.7 356.7h0M408.2 352.7h0M333.2 371.7h0M383.7 370.6h0M347.1 354.0h0M372.6 367.3h0M379.9 349.6h0M339.1 356.1h0M384.9 353.6h0M338.8 354.0h0M363.5 352.7h0M345.1 355.5h0M325.4 368.0h0M412.9 346.1h0M397.2 349.0h0M340.8 355.2h0M392.2 345.1h0M385.6 366.6h0M418.8 355.0h0M346.5 368.7h0M398.9 360.1h0M383.7 363.1h0M351.7 343.9h0M390.5 359.5h0M417.4 350.7h0M371.0 354.8h0M342.0 357.9h0M400.3 358.7h0M430.3 351.0h0M406.4 350.5h0M404.5 363.2h0M409.5 349.8h0M414.7 352.1h0M403.9 366.7h0M389.3 355.1h0M409.3 341.4h0M392.1 348.1h0M403.8 361.2h0M398.0 359.3h0M405.9 362.5h0M355.1 364.3h0M384.4 366.2h0M411.8 349.6h0M361.3 350.3h0M406.8 335.4h0M381.4 368.0h0M418.6 343.0h0M334.9 376.4h0M344.7 343.9h0M402.1 342.5h0M410.5 354.5h0M387.2 368.3h0M345.0 366.2h0M340.6 366.0h0M383.9 344.7h0M360.7 349.6h0M393.8 359.3h0M375.4 351.6h0M374.6 347.5h0M410.2 338.4h0M405.0 345.2h0M336.6 347.9h0M371.7 365.1h0M418.9 352.7h0M345.2 350.0h0M389.6 356.6h0M342.0 348.7h0M331.4 349.2h0M415.4 346.0h0M435.3 344.3h0M356.5 373.3h0M400.4 339.2h0M404.4 333.1h0M410.9 337.3h0M344.8 360.1h0M394.2 369.9h0M324.8 371.5h0M355.3 360.5h0M417.0 343.7h0M430.9 346.0h0M339.4 362.5h0M415.0 329.6h0M395.4 355.0h0M351.2 368.9h0M407.4 356.1h0M420.4 341.4h0M366.4 350.4h0M379.4 360.6h0M364.0 370.2h0M343.5 351.1h0M406.9 347.5h0M369.3 364.5h0M425.0 347.4h0M388.3 370.7h0M333.6 366.5h0M363.0 361.8h0M378.2 357.4h0M359.9 351.5h0M337.9 347.7h0M410.4 348.2h0M437.9 348.5h0M409.0 355.2h0M389.2 364.1h0M340.4 346.6h0M328.0 358.6h0M418.6 340.3h0M377.4 362.4h0M345.1 346.9h0M323.8 357.1h0M418.9 343.6h0M366.2 350.7h0M349.2 359.8h0M344.3 356.1h0M377.9 349.1h0M339.9 364.5h0M404.0 351.2h0M337.1 356.0h0M389.7 365.8h0M374.4 359.1h0M351.1 370.5h0M328.7 367.3h0M422.3 357.2h0M357.4 365.3h0M385.9 366.5h0M401.8 339.0h0M413.1 331.7h0M355.6 358.0h0M330.4 358.6h0M402.6 363.1h0M402.5 340.8h0M415.8 348.4h0M365.6 354.6h0M333.6 371.9h0M371.0 364.3h0M400.9 343.8h0M359.1 363.3h0M359.1 347.2h0M412.2 357.9h0M405.2 354.4h0M326.9 356.5h0M421.0 337.2h0M404.6 354.2h0M373.0 372.7h0M330.2 372.9h0M326.5 355.3h0M339.8 352.7h0M379.5 361.2h0M400.3 349.1h0M366.0 345.3h0M347.2 362.3h0M346.9 359.5h0M374.0 350.9h0M384.9 360.3h0M372.5 370.0h0M431.5 352.2h0M353.0 356.1h0M413.2 353.5h0M370.5 374.8h0M369.5 351.0h0M401.1 339.6h0M406.2 330.2h0M416.7 332.2h0M403.2 352.5h0M407.4 359.5h0M357.4 346.3h0M340.6 367.9h0M354.5 349.4h0M409.6 341.6h0M396.9 365.2h0M427.3 346.3h0M377.7 364.1h0M343.9 373.7h0M336.0 349.2h0M415.1 349.3h0M419.4 337.7h0M410.5 341.6h0M403.8 340.8h0M334.0 339.3h0M332.6 363.4h0M395.1 349.2h0M372.9 364.5h0M345.7 366.4h0M363.1 352.8h0M401.3 354.8h0M345.4 366.7h0M413.3 340.5h0M355.3 356.8h0M358.4 369.6h0M392.1 364.5h0M383.7 348.3h0M359.0 366.5h0M393.7 370.5h0M331.4 363.2h0M334.2 359.6h0M369.9 352.3h0M409.6 356.9h0M332.5 358.1h0M419.2 338.8h0M348.5 359.8h0M420.0 342.7h0M423.4 332.6h0M416.8 334.8h0M353.0 368.5h0M401.5 345.8h0M330.5 371.1h0M363.5 361.9h0M363.3 359.6h0M366.1 359.1h0M391.0 365.6h0M355.3 364.1h0M348.4 350.1h0M333.2 358.7h0M416.0 355.3h0M340.8 356.6h0M331.9 363.8h0M401.6 341.6h0M416.7 335.9h0M421.7 336.7h0M405.4 347.7h0M381.0 356.3h0M347.5 355.4h0M350.9 367.1h0M384.1 347.7h0M396.6 368.0h0M387.6 368.3h0M355.6 367.5h0M399.2 355.0h0M376.1 349.0h0M390.1 350.9h0M373.7 366.0h0M402.7 355.9h0M408.4 358.1h0M347.3 359.1h0M368.2 371.0h0M349.0 362.6h0M401.7 348.0h0M347.2 343.0h0M383.4 348.9h0M343.8 356.9h0M414.8 343.8h0M419.3 333.8h0M383.0 369.1h0M356.1 366.6h0M368.9 351.5h0M418.3 356.6h0M416.8 336.3h0M337.4 363.2h0M351.3 344.5h0M326.3 365.6h0M393.8 358.7h0M368.4 363.5h0M336.6 359.8h0M397.0 365.5h0M347.8 374.5h0M359.1 367.8h0M415.1 347.3h0M426.1 342.2h0M331.6 351.1h0M373.0 358.9h0M389.0 349.2h0M347.8 355.4h0M357.9 361.1h0M409.7 331.7h0M375.9 344.9h0M378.6 360.3h0M359.7 345.1h0M365.4 356.9h0M342.4 350.7h0M429.5 346.9h0M386.3 357.7h0M336.7 356.8h0M330.3 371.9h0M350.8 370.8h0M416.7 342.5h0M383.6 357.9h0M422.4 351.9h0M372.9 373.2h0M373.0 348.5h0M326.4 359.9h0M340.0 350.9h0M379.1 369.1h0M402.3 338.3h0M377.8 349.8h0M380.3 345.9h0M398.3 358.1h0M354.2 365.3h0M388.6 350.0h0M398.2 357.4h0M358.6 357.4h0M363.8 356.6h0M378.2 352.5h0M409.6 340.1h0M388.9 355.8h0M388.0 363.3h0M427.0 344.3h0M386.5 348.4h0M358.4 361.9h0M401.1 343.7h0M375.5 372.3h0M422.1 342.4h0M365.4 346.7h0M417.6 334.6h0M402.7 341.7h0M385.1 349.1h0M338.6 351.7h0M418.9 336.6h0M371.0 350.0h0M422.5 339.4h0M343.8 348.3h0M391.6 366.4h0M347.4 357.3h0M348.2 370.5h0M419.0 337.6h0M356.0 351.2h0M384.1 355.0h0M402.3 359.3h0M381.7 353.1h0M357.4 347.5h0M423.3 338.3h0M419.8 339.0h0M435.4 342.8h0M362.0 358.5h0M342.0 368.1h0M360.8 348.8h0M392.8 348.8h0M437.7 343.7h0M413.4 342.8h0M359.2 359.4h0M393.5 350.9h0M419.8 337.5h0M343.2 355.2h0M376.6 368.9h0M424.1 352.9h0M423.2 343.9h0M324.5 368.6h0M333.5 363.1h0M371.4 365.8h0M418.5 350.6h0M400.2 357.5h0M388.0 354.9h0M413.1 331.9h0M324.2 362.8h0M398.6 346.6h0M428.1 354.3h0M411.4 358.9h0M351.5 368.7h0M397.8 351.6h0M347.6 345.9h0M407.1 335.7h0M376.7 362.9h0M393.0 359.4h0M391.4 363.5h0M331.2 372.2h0M327.4 359.0h0M417.5 340.4h0M351.1 361.9h0M350.4 350.5h0M409.0 338.1h0M409.5 331.3h0M414.6 333.1h0M338.7 343.7h0M409.5 339.3h0M335.4 371.6h0M354.6 346.3h0M401.7 343.0h0M331.2 363.3h0M410.7 324.9h0M347.5 370.4h0M339.0 352.0h0M415.0 328.9h0M422.2 334.6h0M340.7 361.3h0M350.3 348.7h0M414.0 334.2h0M358.6 371.7h0M347.0 348.4h0M402.2 335.9h0M377.2 371.5h0M329.6 357.3h0M379.0 368.9h0M356.4 360.1h0M383.7 344.4h0M362.8 356.4h0M407.0 340.6h0M417.5 328.9h0M337.0 344.7h0M403.4 351.5h0M346.9 367.5h0M388.4 350.3h0M328.1 355.3h0M363.5 345.1h0M420.1 337.4h0M410.5 359.7h0M333.9 346.8h0M362.6 350.8h0M369.3 353.0h0M351.6 359.1h0M410.8 336.5h0M410.3 336.9h0M381.4 344.9h0M346.8 351.3h0M421.6 352.3h0M412.8 339.0h0M411.5 343.4h0M329.2 368.9h0M374.5 356.1h0M421.2 341.1h0M369.6 363.2h0M432.8 337.7h0M342.5 358.6h0M349.9 366.5h0M361.4 365.1h0M385.7 360.3h0M409.1 343.1h0M380.4 363.3h0M390.0 368.1h0M379.9 348.9h0M381.9 366.4h0M415.5 335.2h0M370.9 356.2h0M338.3 346.0h0M362.0 363.4h0M374.3 359.7h0M389.1 369.0h0M410.2 358.4h0M374.9 364.0h0M400.4 339.9h0M386.5 344.1h0M377.3 346.7h0M368.4 363.7h0M368.2 367.1h0M407.7 333.0h0M334.8 343.5h0M407.8 345.3h0M363.7 356.3h0M422.5 343.4h0M337.6 372.9h0M351.7 351.3h0M342.2 358.1h0M400.8 337.5h0M402.4 341.8h0M400.4 348.1h0M353.5 360.1h0M408.0 345.5h0M382.0 367.3h0M348.7 352.6h0M397.5 353.3h0M372.2 345.3h0M335.5 368.1h0M352.8 348.3h0M374.5 362.1h0M408.7 362.0h0M351.6 355.1h0M408.2 332.0h0M345.2 361.6h0M326.0 355.5h0M407.8 354.2h0M422.3 339.3h0M331.4 356.9h0M366.7 346.0h0M407.5 342.2h0M365.5 353.3h0M371.7 345.6h0M419.0 349.2h0M367.0 362.7h0M332.7 356.6h0M349.1 351.3h0M407.3 336.0h0M388.5 357.7h0M336.1 352.1h0M344.0 350.3h0M343.0 346.3h0M375.5 357.8h0M350.2 367.6h0M353.2 343.8h0M421.9 350.6h0M373.8 350.0h0M331.9 343.6h0M328.8 366.5h0M420.5 344.9h0M371.9 355.4h0M362.1 350.3h0M393.8 351.2h0M372.9 360.0h0M425.3 347.2h0M337.1 349.5h0M335.1 352.3h0M411.4 331.1h0M395.7 358.4h0M421.8 351.5h0M343.5 348.5h0M335.4 357.6h0M335.3 351.2h0M370.4 371.3h0M412.0 335.7h0M333.7 361.6h0M403.4 361.8h0M326.5 360.3h0M331.1 372.8h0M430.8 347.0h0M328.2 348.7h0M415.6 330.2h0M353.7 366.9h0M347.3 346.9h0M385.3 344.7h0M414.7 352.0h0M361.0 355.2h0M344.8 366.7h0M414.1 358.2h0M396.6 350.0h0M412.6 333.0h0M400.9 361.8h0M399.0 348.9h0M324.7 354.1h0M335.5 374.2h0M400.3 368.7h0M396.5 344.4h0M333.6 342.3h0M361.8 350.8h0M343.2 365.1h0M359.6 344.6h0M385.9 347.2h0M375.8 345.4h0M363.3 361.6h0M402.5 348.4h0M421.8 344.3h0M334.5 352.4h0M386.4 361.1h0M397.7 346.4h0M413.9 328.7h0M366.7 363.7h0M351.3 348.0h0M383.8 356.3h0M383.6 348.0h0M388.9 343.4h0M427.4 350.9h0M373.8 356.2h0M369.5 367.7h0M402.8 350.3h0M384.1 372.7h0M385.0 353.5h0M381.2 346.3h0M327.6 351.3h0M381.0 360.1h0M341.2 354.8h0M370.8 368.0h0M378.0 357.3h0M360.1 348.3h0M414.0 351.3h0M359.3 364.7h0M394.9 355.7h0M336.4 368.8h0M400.4 362.4h0M331.6 373.8h0M385.0 350.6h0M388.9 359.2h0M406.1 351.3h0M370.9 353.0h0M407.6 344.5h0M344.7 347.6h0M364.6 363.8h0M341.2 350.7h0M362.2 348.5h0M345.6 347.4h0M393.6 353.8h0M331.5 370.0h0M334.3 368.4h0M334.9 351.8h0M364.9 350.4h0M410.1 362.4h0M328.3 361.4h0M362.3 349.8h0M331.9 353.8h0M394.3 349.3h0M333.5 349.2h0M365.4 361.4h0M372.5 364.0h0M414.4 345.7h0M403.0 364.9h0M393.2 339.8h0M384.0 359.4h0M385.2 355.7h0M414.2 343.5h0M340.9 373.0h0M411.2 326.9h0M394.7 354.2h0M341.2 358.4h0M405.9 335.1h0M335.6 346.9h0M380.3 353.2h0M350.3 349.3h0M423.4 340.6h0M325.9 359.6h0M415.4 345.0h0M393.3 347.7h0M337.2 364.1h0M403.2 362.5h0M387.6 368.3h0M352.0 358.7h0M368.1 359.8h0M348.3 359.8h0M349.8 362.5h0M402.0 361.4h0M421.2 354.6h0M355.0 368.9h0M353.4 355.3h0M373.1 355.8h0M377.4 348.6h0M388.3 363.9h0M336.6 363.5h0M397.8 354.7h0M356.2 360.0h0M411.3 347.3h0M369.9 354.5h0M331.8 369.9h0M390.7 359.8h0M385.5 347.3h0M379.4 360.6h0M370.5 353.8h0M405.9 357.3h0M371.7 365.4h0M414.4 346.6h0M376.6 366.7h0M423.6 347.0h0M326.4 369.5h0M348.9 350.6h0M342.9 362.4h0M340.7 349.3h0M361.8 344.6h0M392.3 340.5h0M377.4 359.6h0M332.2 348.9h0M374.1 364.3h0M409.6 348.2h0M361.1 347.7h0M336.3 359.7h0M418.1 354.2h0M408.9 355.6h0M383.1 356.4h0M393.7 349.8h0M418.3 355.9h0M348.1 363.6h0M339.5 346.2h0M351.9 357.3h0M385.7 351.1h0M404.8 345.8h0M348.1 343.0h0M354.7 350.5h0M352.7 346.3h0M398.0 363.3h0M340.5 364.2h0M332.9 367.5h0M345.5 352.5h0M406.3 359.7h0M408.7 351.7h0M360.4 368.1h0M380.0 368.1h0M328.6 356.3h0M405.7 345.4h0M372.4 358.6h0M393.2 342.7h0M324.7 355.0h0M391.4 343.7h0M393.7 360.6h0M376.7 366.5h0M416.5 340.3h0M361.7 365.4h0M344.7 360.7h0M395.8 355.5h0M373.2 351.6h0M422.8 357.4h0M379.5 355.4h0M339.4 348.6h0M351.1 369.6h0M346.3 359.3h0M389.5 358.6h0M396.8 342.4h0M370.8 342.5h0M330.8 350.5h0M340.0 375.5h0M417.7 332.3h0M358.0 367.5h0M358.2 346.8h0M389.1 347.9h0M384.2 350.8h0M361.2 367.9h0M363.4 369.4h0M411.6 356.7h0M382.7 366.7h0M405.8 336.8h0M390.4 357.5h0M419.5 334.1h0M396.3 351.2h0M395.4 362.3h0M421.5 348.6h0M334.1 355.6h0M348.2 368.6h0M324.9 365.8h0M343.6 350.7h0M340.5 352.7h0M429.4 349.3h0M433.0 348.5h0M341.2 373.4h0M360.7 354.6h0M427.7 335.8h0M323.8 365.2h0M350.4 355.3h0M371.1 342.2h0M414.4 357.5h0M356.6 363.3h0M362.9 360.1h0M339.7 353.9h0M385.6 360.3h0M348.7 375.1h0M394.1 354.9h0M358.6 353.5h0M430.6 354.1h0M385.6 357.7h0M421.5 338.5h0M390.4 363.3h0M332.2 350.0h0M422.0 344.0h0M422.2 347.2h0M383.4 359.9h0M417.1 351.3h0M413.0 347.3h0M355.3 356.4h0M372.7 365.2h0M326.3 366.8h0M338.9 372.5h0M349.5 349.2h0M408.0 336.4h0M342.4 357.8h0M382.3 366.9h0M342.5 347.6h0M400.1 364.5h0M363.7 352.6h0M413.2 330.1h0M343.5 349.7h0M423.5 345.3h0M334.0 363.3h0M331.8 374.2h0M334.3 351.9h0M356.1 357.4h0M409.2 343.4h0M331.5 352.3h0M393.1 360.0h0M352.2 344.9h0M346.0 373.0h0M356.3 360.0h0M405.6 342.6h0M346.0 366.4h0M424.9 346.0h0M399.8 357.0h0M413.6 326.0h0M359.9 367.7h0M396.6 357.2h0M342.1 364.8h0M403.3 348.6h0M399.9 352.6h0M350.8 360.7h0M333.7 369.0h0M345.5 351.3h0M350.3 353.4h0M338.6 356.3h0M382.0 353.8h0M334.9 348.6h0M406.8 343.3h0M392.2 355.0h0M435.0 348.0h0M382.6 371.4h0M342.4 367.3h0M369.6 359.7h0M403.2 336.3h0M371.1 351.4h0M334.2 353.5h0M332.6 356.9h0M347.6 350.6h0M372.3 373.3h0M401.3 343.3h0M377.8 363.0h0M410.6 341.2h0M331.2 372.9h0M333.0 353.5h0M343.0 363.1h0M415.0 339.3h0M329.6 358.3h0M392.0 345.2h0M335.2 350.1h0M409.1 357.9h0M367.4 358.4h0M341.6 349.6h0M350.1 359.8h0M342.3 356.0h0M338.9 375.9h0M352.6 356.7h0M337.9 345.3h0M336.3 368.4h0M420.2 346.0h0M341.0 346.5h0M375.9 354.5h0M397.4 360.8h0M364.4 345.9h0M392.5 349.8h0M359.3 353.4h0M373.0 361.2h0M348.7 363.9h0M394.0 369.3h0M337.2 369.5h0M372.4 362.3h0M388.1 358.6h0M378.0 348.6h0M407.0 339.4h0M414.8 342.8h0M333.9 365.1h0M380.7 349.6h0M415.3 343.2h0M383.1 363.7h0M411.8 347.3h0M355.4 351.5h0M325.3 353.6h0M396.0 364.9h0M394.8 344.2h0M356.6 353.0h0M417.2 327.7h0M410.3 355.2h0M337.2 373.3h0M424.8 353.1h0M394.7 344.0h0M376.0 361.9h0M376.8 368.2h0M389.9 363.7h0M348.9 368.1h0M396.6 349.5h0M364.7 371.3h0M344.5 366.8h0M340.1 350.3h0M430.5 351.8h0M416.9 340.3h0M352.8 350.6h0M361.0 366.0h0M354.6 367.1h0M343.2 362.7h0M403.0 358.6h0M417.4 343.3h0M392.0 342.8h0M404.1 357.2h0M374.2 372.2h0M335.2 361.7h0M404.5 339.8h0M349.9 376.9h0M420.4 338.5h0M385.0 371.5h0M397.2 343.4h0M382.6 350.8h0M402.5 337.3h0M344.5 353.8h0M387.1 365.1h0M396.1 351.5h0M417.3 350.4h0M362.4 343.9h0M399.1 353.8h0M398.3 347.1h0M418.9 333.1h0M335.9 346.1h0M347.5 359.2h0M324.6 359.5h0M347.5 357.2h0M371.3 346.4h0M365.2 354.8h0M389.6 347.7h0M411.4 336.6h0M383.8 345.6h0M407.8 332.1h0M370.5 350.2h0M380.3 344.2h0M415.9 359.5h0M418.6 350.2h0M337.4 345.2h0M386.9 359.1h0M393.0 363.0h0M368.5 362.2h0M345.1 361.9h0M371.1 353.9h0M409.7 341.0h0M389.4 352.4h0M424.5 341.2h0M421.9 352.1h0M401.2 361.1h0M424.6 355.2h0M355.2 354.5h0M328.8 348.3h0M360.4 350.1h0M424.0 349.0h0M344.8 354.0h0M341.3 352.3h0M384.0 354.2h0M363.7 364.8h0M355.2 357.5h0M405.9 358.8h0M391.5 350.1h0M420.1 349.4h0M351.5 363.5h0M399.7 346.2h0M427.5 334.7h0M390.1 361.0h0M385.2 367.6h0M412.3 336.3h0M400.7 356.1h0M408.5 340.3h0M414.7 349.3h0M358.4 367.5h0M377.3 349.8h0M377.9 353.8h0M410.9 358.1h0M332.9 363.8h0M425.4 349.1h0M329.7 363.7h0M335.6 350.0h0M357.8 349.7h0M393.3 350.4h0M369.7 346.1h0M373.2 367.3h0M394.5 351.7h0M350.5 353.9h0M367.9 364.8h0M398.8 356.9h0M330.1 362.5h0M415.9 334.4h0M422.2 350.9h0M354.7 358.5h0M330.0 349.6h0M358.8 365.5h0M435.0 348.8h0M402.2 358.4h0M415.7 339.4h0M420.1 334.1h0M344.8 353.3h0M438.2 340.6h0M348.9 358.2h0M398.1 366.8h0M401.4 350.1h0M365.5 345.2h0M428.7 349.3h0M427.6 343.9h0M331.9 359.6h0M364.8 358.7h0M401.1 361.7h0M382.9 347.3h0M399.5 366.7h0M342.1 361.4h0M412.5 332.1h0M342.9 364.4h0M412.8 335.3h0M364.8 347.3h0M365.4 353.6h0M390.2 348.9h0M355.2 344.8h0M353.1 359.4h0M388.9 346.5h0M387.8 344.3h0M339.7 368.8h0M422.0 333.5h0M373.5 346.2h0M387.3 352.3h0M361.7 365.2h0M361.4 354.7h0M360.6 365.5h0M331.1 342.0h0M382.6 371.2h0M371.1 371.9h0M384.7 364.1h0M399.4 344.0h0M344.6 362.8h0M326.2 365.6h0M326.2 351.9h0M353.4 362.9h0M423.3 348.9h0M405.7 359.2h0M412.2 349.3h0M356.1 352.3h0M415.3 335.8h0M405.8 356.2h0M419.5 350.1h0M370.5 345.3h0M381.8 358.2h0M414.9 358.0h0M402.2 349.3h0M392.7 357.9h0M414.4 328.1h0M363.4 364.5h0M386.1 349.2h0M371.8 351.4h0M353.9 345.0h0M344.5 364.0h0M397.9 350.9h0M398.5 351.3h0M425.5 351.8h0M351.6 362.4h0M329.2 351.7h0M356.7 360.8h0M421.2 353.6h0M385.1 357.7h0M339.3 362.7h0M368.7 345.0h0M350.8 342.3h0M402.7 341.8h0M398.9 354.4h0M412.4 344.8h0M387.8 355.1h0M338.2 355.7h0M332.9 355.8h0M345.0 343.0h0M431.9 349.1h0M432.0 344.4h0M412.1 337.8h0M430.1 352.1h0M392.8 360.1h0M351.2 352.2h0M333.9 353.2h0M420.3 342.2h0M375.2 363.9h0M410.6 345.4h0M417.1 352.5h0M334.9 365.6h0M376.2 363.7h0M335.1 363.6h0M373.2 346.7h0M337.0 353.6h0M337.7 368.0h0M338.2 349.6h0M410.2 348.2h0M380.7 371.3h0M330.6 365.7h0M362.3 366.8h0M411.3 358.6h0M405.3 361.0h0M334.1 345.8h0M386.5 344.7h0M329.1 360.9h0M385.1 364.2h0M355.2 361.0h0M408.4 331.7h0M337.2 359.4h0M331.3 359.1h0M383.9 362.2h0M412.6 334.5h0M332.0 358.4h0M431.0 339.4h0M395.2 359.8h0M350.2 343.9h0M337.4 355.6h0M388.0 356.4h0M406.6 334.6h0M370.4 354.3h0M391.5 367.3h0M401.1 358.1h0M354.1 355.2h0M338.6 355.0h0M353.7 367.5h0M336.6 355.4h0M341.4 348.2h0M341.5 346.2h0M423.8 346.6h0M329.5 356.7h0M403.5 353.5h0M324.0 349.5h0M424.8 351.0h0M368.0 371.9h0M343.0 346.5h0M406.5 332.9h0M414.5 356.6h0M336.8 370.1h0M327.1 360.6h0M328.9 358.8h0M371.4 347.6h0M337.2 372.2h0M357.3 359.4h0M332.6 371.2h0M357.4 372.0h0M417.0 353.3h0M431.6 344.8h0M333.0 354.7h0M378.5 353.8h0M410.4 328.3h0M392.8 342.8h0M355.7 365.6h0M391.6 359.8h0M427.8 350.3h0M385.3 359.3h0M385.3 349.2h0M326.7 359.5h0M346.1 359.9h0M355.3 352.1h0M369.2 345.8h0M417.6 339.8h0M409.4 330.5h0M430.0 348.7h0M324.7 358.0h0M351.2 359.4h0M391.3 364.8h0M345.8 349.8h0M353.3 371.4h0M388.4 363.3h0M395.6 370.0h0M350.6 363.9h0M406.7 359.4h0M361.3 359.3h0M329.2 371.3h0M364.0 353.5h0M351.4 354.3h0M387.8 344.4h0M397.1 351.9h0M338.0 357.9h0M411.5 335.3h0M427.0 348.6h0M426.3 347.4h0M386.8 350.4h0M326.7 365.1h0M384.0 359.2h0M339.7 360.2h0M373.8 363.6h0M358.5 360.2h0M381.6 353.8h0M397.0 356.7h0M405.9 345.4h0M329.3 348.9h0M348.7 361.3h0M416.9 337.7h0M393.5 349.4h0M407.9 346.6h0M335.8 372.7h0M322.3 357.6h0M394.6 356.7h0M324.7 361.1h0M413.8 334.0h0M391.9 343.6h0M422.6 355.7h0M388.2 356.7h0M353.1 345.4h0M323.4 349.6h0M402.5 357.8h0M416.4 330.6h0M408.1 345.1h0M411.2 340.6h0M395.7 343.8h0M367.2 356.2h0M396.1 345.6h0M389.1 347.5h0M376.7 345.1h0M406.4 338.4h0M387.6 353.2h0M427.9 340.0h0M327.8 371.1h0M329.4 352.0h0M386.0 366.2h0M401.5 359.2h0M327.8 355.3h0M390.0 350.1h0M346.7 366.5h0M417.6 350.7h0M346.8 366.0h0M394.8 362.6h0M414.3 358.3h0M380.0 369.7h0M393.1 369.0h0M391.5 349.0h0M430.0 344.4h0M363.1 358.9h0M357.0 358.8h0M333.1 349.0h0M394.8 359.5h0M346.1 356.3h0M379.4 348.6h0M385.0 345.3h0M370.3 357.8h0M337.5 364.7h0M383.7 355.5h0M349.0 345.4h0M361.0 364.7h0M400.9 352.2h0M429.2 342.6h0M332.2 365.0h0M405.6 350.6h0M388.0 358.5h0M332.0 350.8h0M431.8 352.4h0M328.2 351.2h0M403.2 336.3h0M331.9 356.6h0M387.5 343.1h0M403.7 361.8h0M326.0 354.6h0M364.0 355.4h0M368.8 359.9h0M342.9 374.9h0M383.5 361.0h0M422.7 343.0h0M409.6 359.2h0M408.4 347.4h0M355.7 362.1h0M414.8 357.8h0M404.5 335.1h0M427.5 347.7h0M421.9 337.2h0M411.5 338.6h0M385.0 359.1h0M431.1 352.8h0M392.7 366.2h0M415.4 342.8h0M353.0 354.6h0M400.4 351.9h0M327.3 359.3h0M341.4 363.5h0M333.9 350.4h0M350.7 354.3h0M396.4 366.2h0M383.4 369.5h0M354.6 367.6h0M386.7 368.9h0M421.3 340.8h0M407.7 335.4h0M414.5 334.7h0M349.7 370.4h0M416.7 337.3h0M338.9 366.9h0M422.6 345.3h0M358.0 361.8h0M387.4 357.1h0M374.6 352.9h0M354.7 362.3h0M353.8 352.0h0M337.1 345.0h0M340.5 344.9h0M388.6 363.7h0M419.0 337.4h0M366.7 359.5h0M405.9 349.0h0M344.4 370.0h0M398.4 343.4h0M331.3 374.7h0M362.8 370.0h0M346.8 358.8h0M339.6 366.2h0M371.6 370.5h0M384.1 366.2h0M421.2 339.8h0M353.6 368.4h0M430.4 349.0h0M386.3 349.3h0M348.8 363.1h0M328.8 347.1h0M414.5 349.6h0M363.1 353.4h0M330.7 362.4h0M393.8 346.1h0M426.1 337.6h0M369.0 361.0h0M408.7 340.6h0M422.9 342.8h0M365.9 370.4h0M334.5 353.9h0M327.7 358.0h0M407.8 350.9h0M416.5 328.1h0M349.2 350.2h0M421.6 349.6h0M428.5 341.8h0M386.5 368.5h0M363.4 372.1h0M431.8 350.2h0M392.9 364.5h0M386.6 364.7h0M331.3 366.0h0M380.7 349.4h0M345.7 346.3h0M346.7 366.4h0M378.7 345.3h0M336.1 357.5h0M371.8 348.5h0M342.0 356.6h0M346.2 359.9h0M367.1 351.6h0M411.5 347.7h0M427.5 351.8h0M384.7 353.7h0M410.9 343.0h0M341.7 353.8h0M337.0 364.3h0M434.5 347.5h0M364.9 362.2h0M393.8 366.3h0M374.2 366.9h0M353.5 373.6h0M343.3 360.8h0M347.8 349.9h0M410.6 351.9h0M413.7 334.9h0M388.7 359.9h0M345.6 347.9h0M383.1 354.5h0M391.7 361.3h0M412.9 347.1h0M324.7 364.2h0M349.2 363.0h0M420.7 352.1h0M398.7 344.4h0M330.7 367.8h0M421.7 333.7h0M347.7 367.6h0M434.2 342.8h0M339.7 361.0h0M413.8 342.0h0M384.0 366.0h0M351.3 366.2h0M377.6 361.1h0M407.6 343.0h0M351.6 364.2h0M332.2 373.4h0M417.6 346.4h0M338.0 373.8h0M411.9 357.0h0M352.1 345.7h0M359.0 345.6h0M357.4 358.4h0M383.8 357.2h0M418.8 337.1h0M339.7 368.6h0M404.1 352.1h0M392.4 359.1h0M349.2 344.8h0M421.8 350.8h0M400.1 346.6h0M403.4 362.8h0M418.8 348.2h0M405.7 336.9h0M350.9 369.1h0M380.5 360.5h0M326.9 357.8h0M364.0 350.7h0M393.3 341.3h0M419.6 338.6h0M363.8 365.7h0M391.0 361.1h0M363.8 362.5h0M368.2 360.5h0M410.9 336.5h0M384.0 360.5h0M363.0 369.9h0M409.5 327.4h0M330.4 359.7h0M421.5 348.1h0M429.0 344.6h0M338.3 350.0h0M373.6 346.5h0M333.0 347.3h0M363.8 363.3h0M407.7 355.1h0M395.3 363.9h0M404.9 341.3h0M407.2 342.3h0M357.0 364.3h0M406.2 346.9h0M403.2 342.9h0M354.8 340.9h0M347.2 359.5h0M351.7 343.5h0M357.1 350.5h0M403.2 357.1h0M417.0 337.3h0M412.3 337.1h0M396.4 338.6h0M341.4 369.0h0M330.1 359.7h0M371.9 362.4h0M371.8 366.1h0M381.3 359.3h0M414.7 341.7h0M400.4 346.7h0M419.0 340.6h0M374.5 366.7h0M393.8 365.9h0M341.0 369.8h0M393.3 361.7h0M436.2 347.3h0M396.1 364.8h0M394.8 349.9h0M393.4 358.9h0M337.0 344.6h0M368.8 353.2h0M414.5 340.2h0M386.3 353.9h0M425.8 341.3h0M394.0 354.8h0M397.9 347.8h0M371.5 356.3h0M381.8 371.9h0M429.4 346.1h0M390.2 365.8h0M335.1 370.4h0M399.5 341.7h0M404.2 363.5h0M341.7 351.1h0M371.2 354.2h0M395.4 350.9h0M387.9 354.5h0M424.2 344.7h0M368.4 347.8h0M328.8 363.1h0M420.8 349.5h0M344.5 353.8h0M346.4 361.4h0M423.0 355.3h0M342.8 366.8h0M407.5 345.5h0M423.6 348.8h0M399.1 347.8h0M333.0 358.0h0M430.1 346.8h0M387.3 363.9h0M381.7 358.7h0M410.5 346.3h0M390.6 351.6h0M339.3 375.0h0M403.1 347.1h0M420.4 341.0h0M355.3 344.6h0M411.1 328.2h0M406.1 340.3h0M359.7 347.1h0M386.9 358.5h0M344.3 359.8h0M387.0 353.1h0M386.6 348.5h0M355.1 348.8h0M373.8 358.6h0M338.3 374.9h0M359.7 346.0h0M334.3 346.8h0M342.1 361.1h0M361.8 348.3h0M338.6 348.0h0M432.8 343.4h0M383.1 351.9h0M389.0 359.3h0M333.6 355.7h0M396.8 353.8h0M377.0 368.1h0M358.8 353.6h0M348.5 365.4h0M398.3 357.6h0M402.9 341.4h0M373.1 363.8h0M357.7 357.2h0M330.7 348.3h0M426.1 341.8h0M420.7 347.8h0M386.9 357.3h0M411.3 346.1h0M341.4 349.6h0M415.0 339.7h0M389.6 358.7h0M392.3 355.7h0M404.7 347.4h0M380.7 345.7h0M397.9 336.5h0M426.2 347.4h0M388.4 364.5h0M421.0 339.2h0M362.8 357.6h0M374.1 357.8h0M328.4 353.8h0M346.0 372.5h0M373.2 357.0h0M344.3 344.9h0M375.2 349.4h0M378.3 365.4h0M360.8 352.7h0M398.6 349.7h0M339.6 348.7h0M366.6 358.0h0M335.3 367.8h0M411.4 332.8h0M389.9 364.9h0M328.9 372.8h0M383.7 363.0h0M345.3 347.6h0M370.7 347.4h0M333.5 368.4h0M341.7 364.5h0M396.8 364.4h0M354.7 367.8h0M339.2 344.2h0M401.3 355.0h0M430.9 343.7h0M336.0 342.4h0M407.4 337.6h0M330.8 361.3h0M367.1 359.0h0M351.8 344.1h0M402.3 357.2h0M331.5 369.9h0M403.2 336.8h0M330.5 349.7h0M346.1 346.1h0M328.3 362.2h0M417.7 338.2h0M385.0 353.6h0M399.0 368.1h0M335.4 349.3h0M413.4 346.3h0M399.8 366.2h0M377.6 347.0h0M333.7 354.4h0M397.2 367.5h0M334.0 363.0h0M327.6 360.8h0M364.4 357.9h0M374.6 360.5h0M341.1 363.7h0M348.6 347.4h0M362.5 352.1h0M327.4 358.6h0M348.4 348.0h0M348.9 367.3h0M338.8 368.8h0M394.2 356.4h0M388.2 358.8h0M366.1 356.3h0M354.9 362.3h0M329.8 369.0h0M434.8 342.8h0M362.7 364.9h0M338.7 369.5h0M386.4 372.2h0M367.9 357.2h0M348.6 342.7h0M374.8 362.5h0M420.1 349.2h0M351.2 368.8h0M395.1 353.0h0M408.0 347.5h0M393.5 349.3h0M368.1 363.2h0M418.7 349.9h0M331.9 354.3h0M379.2 349.3h0M349.9 363.5h0M412.5 332.5h0M385.3 360.2h0M382.0 353.3h0M329.4 366.0h0M327.3 354.7h0M386.5 357.6h0M371.1 364.2h0M388.5 346.8h0M390.9 361.5h0M377.9 349.8h0M335.6 360.8h0M350.8 349.4h0M353.5 355.6h0M373.8 349.2h0M416.1 357.1h0M365.6 352.8h0M418.9 351.1h0M387.7 350.8h0M405.1 352.4h0M421.1 348.9h0M382.0 355.7h0M347.3 370.0h0M360.4 367.2h0M391.9 345.9h0M395.8 357.2h0M334.0 373.4h0M344.7 367.9h0M334.6 344.7h0M373.4 357.7h0M408.1 347.6h0M394.4 366.4h0M341.6 361.1h0M412.6 343.5h0M332.3 345.7h0M412.4 358.2h0M386.6 366.5h0M359.5 365.3h0M398.2 348.8h0M332.5 346.2h0M379.6 363.3h0M375.7 359.8h0M391.7 368.5h0M378.3 359.2h0M420.3 335.8h0M336.7 343.7h0M344.0 357.1h0M382.0 363.5h0M326.0 357.5h0M327.4 367.2h0M412.8 355.0h0M332.5 351.8h0M398.5 345.4h0M335.1 361.1h0M361.6 364.9h0M421.3 341.9h0M386.6 350.7h0M377.7 347.9h0M431.8 348.9h0M419.0 339.9h0M359.8 362.6h0M363.9 349.9h0M427.6 338.9h0M412.6 340.3h0M423.5 341.6h0M415.0 335.7h0M330.4 366.8h0M354.9 351.3h0M393.0 358.6h0M360.7 353.8h0M390.0 347.7h0M334.5 364.2h0M335.8 357.9h0M431.5 343.7h0M408.6 346.3h0M392.5 361.0h0M337.8 361.0h0M355.5 355.8h0M372.9 358.7h0M385.0 348.3h0M397.5 361.3h0M368.6 350.3h0M386.1 362.0h0M339.9 353.5h0M359.8 354.6h0M413.2 353.2h0M352.8 349.4h0M406.7 336.5h0M344.0 356.6h0M377.6 359.6h0M338.7 374.7h0M355.2 365.2h0M405.7 361.3h0M363.0 366.2h0M346.0 365.5h0M406.5 336.8h0M352.3 360.4h0M334.8 356.9h0M366.7 356.4h0M371.6 363.4h0M384.2 369.2h0M345.3 347.1h0M403.1 358.7h0M334.3 349.1h0M417.2 352.7h0M377.5 368.1h0M430.2 350.3h0M364.3 366.1h0M386.2 356.5h0M366.5 366.5h0M413.1 334.9h0M335.0 368.7h0M411.5 335.2h0M370.8 348.5h0M403.1 364.7h0M366.6 359.7h0M347.0 356.7h0M420.6 348.3h0M413.2 334.7h0M415.8 332.2h0M421.0 356.6h0M376.9 347.6h0M419.7 344.8h0M408.9 359.5h0M415.0 347.4h0M385.9 365.7h0M331.0 361.1h0M432.9 345.3h0M401.6 340.9h0M335.6 353.5h0M347.8 366.7h0M389.4 365.5h0M364.9 362.6h0M330.1 369.3h0M420.3 341.0h0M366.2 355.8h0M420.9 354.6h0M345.0 350.7h0M419.2 349.1h0M426.6 351.7h0M415.8 341.1h0M330.1 369.2h0M343.0 341.1h0M354.3 353.1h0M332.6 355.2h0M342.7 360.6h0M405.7 335.6h0M331.3 361.0h0M403.6 350.5h0M408.3 356.9h0M406.4 346.9h0M340.1 352.2h0M331.5 365.6h0M367.2 365.2h0M397.3 364.7h0M333.8 354.4h0M405.8 354.4h0M354.5 363.8h0M336.2 359.2h0M347.4 367.8h0M364.3 349.2h0M331.5 344.5h0M404.1 344.9h0M336.3 368.8h0M382.9 367.4h0M407.7 346.2h0M390.1 344.9h0M394.6 351.0h0M339.2 346.7h0M366.9 364.7h0M406.0 360.3h0M362.6 364.5h0M382.2 365.7h0M384.4 358.0h0M378.5 366.7h0M367.2 354.5h0M411.7 330.0h0M334.9 353.4h0" stroke="#080808" stroke-width="1.30" stroke-linecap="square" fill="none" opacity="1.00"/>
<path d="M427.7 345.1h0M388.9 357.0h0M405.1 365.2h0M359.9 345.5h0M353.7 344.4h0M392.0 355.4h0M345.7 350.6h0M378.7 370.1h0M339.1 345.0h0M354.5 369.5h0M398.8 358.8h0M336.1 349.4h0M348.2 366.6h0M393.2 362.5h0M364.6 347.3h0M377.2 356.6h0M372.4 365.8h0M398.7 352.6h0M339.3 343.9h0M369.3 356.2h0M333.0 371.6h0M374.1 364.5h0M389.6 367.5h0M360.1 356.1h0M363.2 359.4h0M398.5 354.1h0M371.8 363.2h0M406.6 346.8h0M361.2 369.4h0M347.9 360.6h0M429.6 346.3h0M402.3 354.9h0M397.0 348.4h0M328.4 354.6h0M371.3 363.7h0M371.0 353.1h0M390.5 360.8h0M418.6 349.8h0M338.5 347.8h0M414.4 353.7h0M366.0 346.7h0M415.8 352.3h0M377.8 350.9h0M375.2 360.1h0M395.7 350.1h0M417.1 345.4h0M351.2 347.6h0M404.9 336.1h0M342.9 351.5h0M403.0 337.7h0M361.4 366.0h0M422.1 337.0h0M373.2 348.9h0M347.5 372.3h0M389.4 347.5h0M408.6 335.0h0M370.1 347.2h0M328.9 361.8h0M343.6 347.7h0M424.2 350.7h0M382.2 357.2h0M386.1 365.5h0M350.8 359.8h0M351.8 347.2h0M327.9 366.9h0M410.9 337.3h0M355.2 354.4h0M394.9 348.0h0M397.6 340.6h0M394.9 349.3h0M353.7 370.4h0M343.4 372.7h0M415.4 340.5h0M397.3 344.9h0M414.2 338.6h0M435.6 343.3h0M404.7 338.9h0M384.5 353.3h0M370.3 353.3h0M371.8 357.9h0M358.7 355.3h0M416.1 346.2h0M402.3 342.5h0M423.8 352.5h0M401.5 349.8h0M349.7 352.1h0M384.9 346.4h0" stroke="#ff3322" stroke-width="1.80" stroke-linecap="round" fill="none" opacity="0.75"/>
<path d="M417.0 336.0h0M375.8 362.8h0M413.2 350.6h0M346.2 368.9h0M396.4 365.4h0M355.8 359.4h0M332.9 352.0h0M339.0 362.9h0M387.5 364.1h0M350.2 365.8h0M369.0 367.2h0M347.2 353.9h0M342.2 367.4h0M334.9 353.1h0M352.0 358.8h0M348.5 349.9h0M336.3 361.2h0M351.7 363.6h0M382.8 348.3h0M373.9 356.2h0M355.9 365.5h0M386.0 351.1h0M398.1 342.9h0M417.2 338.8h0M363.9 357.3h0M398.5 360.6h0M354.3 367.5h0M340.7 347.9h0M403.1 357.0h0M341.4 358.9h0M414.3 340.0h0M418.6 334.8h0M403.5 350.2h0M418.5 353.2h0M344.9 352.6h0M411.2 349.1h0M350.2 347.7h0M403.9 352.1h0M391.0 363.6h0M385.3 361.2h0M418.0 350.7h0M413.3 350.4h0M398.6 355.4h0M401.7 353.4h0M367.1 363.8h0M332.5 358.8h0M351.5 363.3h0M339.3 358.4h0M344.6 369.3h0M414.7 339.8h0M361.2 348.3h0M342.2 349.2h0M422.3 349.9h0M371.7 358.2h0M349.1 351.5h0M401.7 343.9h0M330.1 363.4h0M356.8 367.5h0M369.3 363.5h0M423.6 342.9h0M377.8 361.8h0M344.8 353.6h0M376.8 360.6h0M404.2 344.2h0M369.3 367.2h0M333.5 369.6h0M374.7 364.3h0M359.8 357.1h0M381.0 362.5h0M381.4 351.6h0M406.6 346.4h0M382.0 364.6h0M339.6 357.1h0M342.9 365.6h0M424.6 341.8h0M385.0 354.6h0M353.9 357.8h0M347.8 364.6h0M347.4 357.2h0M349.5 353.7h0M359.5 353.1h0M412.5 338.4h0M351.0 351.8h0M372.3 353.0h0M334.1 366.4h0M332.0 358.8h0M361.4 364.1h0M398.8 362.4h0M385.0 359.3h0M361.6 366.9h0M343.7 364.8h0M381.3 361.9h0M356.7 367.2h0M350.3 358.3h0M329.8 350.1h0M330.2 351.3h0M346.2 348.7h0M430.3 346.7h0M389.4 360.8h0M402.1 357.0h0M329.3 357.0h0M342.1 368.6h0M330.4 363.7h0M399.7 348.2h0M366.4 352.1h0M352.6 359.5h0M400.2 353.5h0" stroke="#ffffff" stroke-width="1.00" stroke-linecap="square" fill="none" opacity="0.40"/>
<path d="M409.0 343.8h0M403.3 348.7h0M403.7 347.3h0M409.8 354.9h0M406.4 351.4h0M409.1 349.9h0M403.5 348.8h0M407.8 347.4h0M403.2 345.5h0M412.2 352.4h0M407.9 357.3h0M406.8 352.4h0M408.5 355.9h0M408.5 346.0h0M410.3 354.8h0M411.4 354.2h0M406.4 344.9h0M403.7 345.1h0M401.3 347.0h0M410.1 348.7h0M405.3 358.2h0M404.3 350.4h0M403.4 347.5h0M411.6 346.6h0M406.6 350.6h0M406.1 352.5h0M400.8 354.1h0M403.1 351.2h0M412.7 359.2h0M409.3 351.0h0M405.8 357.1h0M408.9 360.6h0M407.3 348.8h0M411.0 350.0h0M405.8 347.3h0M405.1 358.4h0M411.0 344.7h0M409.6 351.7h0M402.7 355.5h0M408.2 352.3h0M408.5 346.5h0M403.2 349.1h0M409.8 346.3h0M407.1 357.6h0M406.6 352.4h0M406.5 354.6h0M402.7 347.6h0M402.6 354.1h0M404.0 345.0h0M409.9 346.3h0M396.2 366.8h0M395.9 363.2h0M396.7 363.3h0M391.8 367.1h0M398.6 362.1h0M401.1 363.8h0M397.0 369.5h0M395.6 364.8h0M397.1 359.3h0M395.9 368.9h0M396.1 366.7h0M391.9 365.3h0M392.5 363.0h0M401.2 365.2h0M393.2 365.8h0M399.7 361.3h0M397.5 366.7h0M394.8 369.2h0M396.8 360.7h0M391.0 359.1h0M392.3 360.8h0M393.6 362.0h0M398.0 358.1h0M395.5 368.5h0M400.8 367.9h0M398.1 364.4h0M396.8 358.8h0M395.3 362.3h0M400.8 362.4h0M390.4 365.1h0M391.0 363.3h0M396.7 369.3h0M395.0 364.6h0M391.9 360.5h0M393.7 362.2h0M393.0 371.5h0M397.0 363.8h0M389.9 369.9h0M398.0 359.2h0M401.2 359.2h0M398.5 366.9h0M368.4 339.4h0M376.3 332.2h0M376.9 339.1h0M370.6 339.2h0M371.8 342.6h0M371.1 340.9h0M377.5 341.6h0M367.4 340.8h0M367.4 335.1h0M378.2 346.8h0M371.5 336.6h0M369.2 339.5h0M369.3 339.8h0M368.3 337.2h0M378.2 345.6h0M378.2 344.4h0M366.4 337.7h0M373.2 340.1h0M375.3 333.9h0M377.5 340.3h0M375.4 338.6h0M372.1 335.1h0M371.8 336.6h0M371.4 343.8h0M369.5 345.6h0M371.5 338.2h0M376.2 332.8h0M371.2 342.6h0M374.2 343.1h0M357.3 379.7h0M356.3 381.6h0M353.2 382.4h0M359.8 377.6h0M358.2 380.9h0M354.6 381.6h0M359.3 377.6h0M355.4 378.5h0M355.7 380.8h0M356.0 380.9h0M353.7 382.6h0M355.7 377.0h0M360.9 382.0h0M359.5 381.3h0M356.5 383.1h0M347.4 341.4h0M346.2 344.9h0M345.4 340.2h0M342.2 342.0h0M339.9 346.8h0M346.2 347.1h0M341.5 344.8h0M340.0 340.6h0M344.4 337.5h0M341.1 340.7h0M350.4 344.1h0M342.6 343.5h0M346.1 347.3h0M348.2 344.0h0M343.4 346.0h0M341.1 348.2h0M348.5 348.2h0M349.1 344.3h0M322.1 359.1h0M331.7 359.3h0M330.3 359.8h0M332.0 367.3h0M338.6 358.0h0M321.8 350.5h0M337.3 355.5h0M326.3 371.4h0M323.1 363.8h0M336.0 368.9h0M325.5 361.5h0M323.9 353.0h0M321.6 355.0h0M337.1 371.6h0M327.9 359.8h0M337.0 365.4h0M319.2 356.1h0M333.9 352.8h0M331.3 364.1h0M327.8 359.6h0M335.0 355.9h0M330.7 360.5h0M321.0 365.9h0M324.6 358.4h0M319.3 355.7h0M333.4 360.1h0M339.1 366.5h0M338.0 352.3h0M334.2 361.2h0M336.8 358.4h0M322.0 361.3h0M331.6 362.2h0M321.4 365.7h0M320.8 364.3h0M333.5 360.0h0M328.8 369.7h0M337.0 359.1h0M324.9 350.1h0M333.7 365.5h0M317.8 355.8h0M332.1 367.4h0M321.6 366.0h0M323.6 366.7h0M326.7 371.1h0M337.6 352.1h0M331.0 352.8h0M332.9 351.7h0M331.0 355.7h0M337.3 358.9h0M331.9 363.7h0M327.2 364.0h0M336.1 353.9h0M321.1 366.1h0M327.4 353.5h0M326.6 358.9h0M334.5 366.7h0M325.9 370.1h0M336.5 364.6h0M319.4 362.1h0M323.3 353.6h0M319.2 369.0h0M327.9 365.9h0M327.7 360.9h0M331.1 352.9h0M328.9 356.9h0M326.3 358.0h0M432.1 336.6h0M431.2 338.3h0M430.4 345.2h0M436.3 342.9h0M434.6 338.3h0M434.1 343.3h0M427.2 341.8h0M426.3 343.4h0M428.6 342.8h0M426.5 339.8h0M427.4 345.2h0M434.2 342.3h0M425.3 343.1h0M438.8 341.9h0M431.4 343.3h0M432.2 337.7h0M432.4 342.9h0" stroke="#ff3322" stroke-width="2.00" stroke-linecap="round" fill="none" opacity="0.85"/>
<text x="278.18" y="288.80" font-size="18.20" font-weight="normal" font-style="normal" fill="#000" font-family='"Liberation Sans", sans-serif' textLength="22.15" lengthAdjust="spacingAndGlyphs" >(d)</text>
<text x="253.10" y="312.30" font-size="14.40" font-weight="bold" font-style="normal" fill="#000" font-family='"Liberation Sans", sans-serif' textLength="20.20" lengthAdjust="spacingAndGlyphs" >2.0</text>
<text x="252.67" y="400.10" font-size="14.40" font-weight="bold" font-style="normal" fill="#000" font-family='"Liberation Sans", sans-serif' textLength="20.44" lengthAdjust="spacingAndGlyphs" >1.5</text>
<text x="270.78" y="463.20" font-size="14.40" font-weight="bold" font-style="normal" fill="#000" font-family='"Liberation Sans", sans-serif' textLength="8.01" lengthAdjust="spacingAndGlyphs" >4</text>
<text x="350.59" y="463.20" font-size="14.40" font-weight="bold" font-style="normal" fill="#000" font-family='"Liberation Sans", sans-serif' textLength="8.01" lengthAdjust="spacingAndGlyphs" >6</text>
<text x="428.69" y="463.20" font-size="14.40" font-weight="bold" font-style="normal" fill="#000" font-family='"Liberation Sans", sans-serif' textLength="8.01" lengthAdjust="spacingAndGlyphs" >8</text>
<text x="334.55" y="479.40" font-size="16.60" font-weight="normal" font-style="italic" fill="#000" font-family='"Liberation Sans", sans-serif' textLength="8.11" lengthAdjust="spacingAndGlyphs" >V</text>
<text x="344.54" y="479.40" font-size="10.00" font-weight="normal" font-style="italic" fill="#000" font-family='"Liberation Sans", sans-serif' textLength="7.84" lengthAdjust="spacingAndGlyphs" >P</text>
<text x="356.72" y="479.10" font-size="16.60" font-weight="normal" font-style="normal" fill="#000" font-family='"Liberation Sans", sans-serif' textLength="52.65" lengthAdjust="spacingAndGlyphs" >(km/s)</text>
<g transform="translate(258.60 380.80) rotate(-90)"><text x="-1.30" y="0.00" font-size="16.60" font-weight="normal" font-style="italic" fill="#000" font-family='"Liberation Sans", sans-serif' textLength="10.03" lengthAdjust="spacingAndGlyphs" >V</text><text x="10.80" y="0.00" font-size="10.00" font-weight="normal" font-style="italic" fill="#000" font-family='"Liberation Sans", sans-serif' textLength="6.57" lengthAdjust="spacingAndGlyphs" >P</text><text x="19.16" y="0.00" font-size="16.60" font-weight="normal" font-style="italic" fill="#000" font-family='"Liberation Sans", sans-serif' textLength="5.68" lengthAdjust="spacingAndGlyphs" >/</text><text x="26.68" y="0.00" font-size="16.60" font-weight="normal" font-style="italic" fill="#000" font-family='"Liberation Sans", sans-serif' textLength="9.42" lengthAdjust="spacingAndGlyphs" >V</text><text x="38.21" y="0.00" font-size="10.00" font-weight="normal" font-style="italic" fill="#000" font-family='"Liberation Sans", sans-serif' textLength="4.57" lengthAdjust="spacingAndGlyphs" >S</text></g>
<path d="M536.19 449.50v-2.8M536.19 271.50v2.8 M565.77 449.50v-2.8M565.77 271.50v2.8 M595.36 449.50v-2.8M595.36 271.50v2.8 M624.94 449.50v-2.8M624.94 271.50v2.8 M654.53 449.50v-2.8M654.53 271.50v2.8 M506.60 427.25h2.8M684.10 427.25h-2.8 M506.60 405.00h2.8M684.10 405.00h-2.8 M506.60 382.75h2.8M684.10 382.75h-2.8 M506.60 360.50h2.8M684.10 360.50h-2.8 M506.60 338.25h2.8M684.10 338.25h-2.8 M506.60 316.00h2.8M684.10 316.00h-2.8 M506.60 293.75h2.8M684.10 293.75h-2.8" stroke="#c8c8c8" stroke-width="1" fill="none"/>
<rect x="506.60" y="271.50" width="177.50" height="178.00" fill="none" stroke="#8c8c8c" stroke-width="1.3"/>
<path d="M530.6 353.1h1M531.1 358.6h1M544.0 374.0h1M531.8 368.5h1M532.2 355.3h1M536.1 338.8h1M541.5 376.2h1M537.3 357.5h1M538.7 371.8h1M538.3 370.7h1M540.8 372.9h1M532.8 359.7h1M543.0 365.2h1M541.7 363.0h1M545.2 345.4h1M534.5 369.6h1M525.3 358.6h1M538.9 361.9h1M542.1 342.1h1M527.2 347.6h1M529.7 361.9h1M537.2 356.4h1M541.5 375.1h1M543.1 367.4h1M546.9 375.1h1M532.3 355.3h1M538.5 376.2h1M542.9 363.0h1M533.1 353.1h1M534.5 347.6h1M523.1 358.6h1M532.8 361.9h1M538.3 353.1h1M527.3 361.9h1M543.9 366.3h1M540.2 350.9h1M533.0 361.9h1M530.1 354.2h1M526.3 353.1h1M534.8 364.1h1M523.1 350.9h1M531.0 361.9h1M533.9 348.7h1M537.7 360.8h1M543.8 366.3h1M532.2 360.8h1M539.4 369.6h1M532.4 344.3h1M542.9 346.5h1M540.8 347.6h1M533.3 353.1h1M531.0 366.3h1M531.1 352.0h1M530.7 358.6h1M542.9 367.4h1M530.0 344.3h1M550.1 368.5h1M531.0 356.4h1M546.8 339.9h1M539.8 375.1h1M525.7 361.9h1" stroke="#202020" stroke-width="1.00" stroke-linecap="square" fill="none" opacity="0.75"/>
<path d="M571.2 294.3h0M581.5 296.9h0M564.5 321.8h0M584.8 290.0h0M599.7 294.9h0M571.4 300.0h0M565.1 299.5h0M549.4 334.7h0M560.4 298.1h0M543.4 329.8h0M545.4 317.5h0M597.7 294.1h0M579.2 295.2h0M571.1 317.8h0M604.8 289.0h0M597.8 292.2h0M557.7 326.5h0M566.9 313.6h0M570.9 315.8h0M562.8 334.6h0M599.9 291.3h0M597.0 286.0h0M575.5 323.7h0M576.0 297.3h0M566.5 329.3h0M579.1 296.0h0M582.3 300.3h0M570.2 322.9h0M564.7 321.7h0M582.6 304.0h0M572.7 293.5h0M561.3 303.6h0M561.6 298.5h0M565.0 322.3h0M559.9 302.8h0M564.3 311.3h0M603.1 294.9h0M563.8 327.6h0M564.9 313.7h0M552.6 333.6h0M554.7 312.9h0M559.6 312.4h0M559.1 336.1h0M593.5 288.2h0M586.2 290.5h0M587.1 292.7h0M578.3 311.8h0M562.2 311.9h0M566.5 294.9h0M549.0 341.8h0M564.3 297.6h0M589.1 301.7h0M563.0 332.4h0M564.8 319.3h0M595.8 290.5h0M600.3 293.9h0M569.9 304.8h0M581.4 303.1h0M579.7 309.1h0M565.9 330.1h0M565.4 314.4h0M548.7 312.9h0M551.6 341.4h0M559.3 319.9h0M551.8 299.1h0M568.2 324.5h0M560.9 327.9h0M572.3 331.0h0M586.6 295.3h0M583.3 289.3h0M554.3 332.8h0M573.4 296.3h0M586.9 300.3h0M565.9 292.6h0M573.8 306.8h0M568.6 317.4h0M571.5 293.5h0M546.9 330.3h0M558.3 333.9h0M554.0 324.3h0M578.9 303.3h0M576.7 290.3h0M570.0 293.4h0M564.9 328.5h0M570.2 310.9h0M599.0 287.9h0M573.6 293.5h0M576.8 293.7h0M556.9 305.2h0M562.1 319.1h0M600.6 286.2h0M564.6 299.2h0M540.0 341.1h0M588.2 286.5h0M552.0 308.2h0M584.3 304.8h0M546.9 328.2h0M550.7 337.9h0M546.0 323.1h0M555.0 324.5h0M612.9 285.1h0M558.7 310.8h0M567.5 311.3h0M552.0 316.2h0M554.3 323.7h0M628.8 324.9h0M575.4 317.9h0M613.9 305.8h0M592.9 310.8h0M641.3 319.0h0M576.8 318.5h0M622.4 319.2h0M578.9 328.9h0M582.5 331.8h0M619.0 305.5h0M604.8 324.4h0M599.3 294.4h0M608.4 303.9h0M582.7 300.4h0M593.7 318.3h0M601.0 304.8h0M598.1 313.0h0M634.5 302.1h0M639.4 324.5h0M642.6 315.2h0M590.1 304.1h0M588.2 326.4h0M592.1 328.7h0M609.3 307.2h0M588.6 313.1h0M632.3 308.4h0M622.0 310.9h0M604.9 297.1h0M630.0 322.2h0M579.3 317.8h0M612.1 318.6h0M628.1 319.6h0M602.7 296.0h0M643.6 307.7h0M624.0 309.1h0M571.8 324.5h0M577.8 333.1h0M619.4 320.1h0M646.2 309.0h0M614.0 298.6h0M607.3 295.2h0M595.9 309.1h0M627.2 314.4h0M587.4 318.5h0M584.7 307.9h0M645.9 316.6h0M597.7 314.0h0M586.3 306.7h0M635.4 317.2h0M580.1 318.7h0M586.3 316.6h0M627.6 306.6h0M608.0 328.6h0M599.0 318.5h0M585.5 323.4h0M613.5 299.0h0M637.7 312.2h0M629.0 306.0h0M640.2 323.2h0M632.4 317.4h0M577.1 318.2h0M618.2 298.8h0M606.6 318.7h0M594.9 327.1h0M628.1 321.3h0M645.7 306.1h0M634.3 314.3h0M598.8 315.0h0M589.6 315.9h0M636.6 315.7h0M645.8 324.2h0M571.9 328.7h0M598.6 318.6h0M604.0 294.8h0M591.8 316.7h0M593.6 303.0h0M598.0 295.1h0M589.3 310.8h0M578.4 311.8h0M573.8 307.7h0M613.6 302.3h0M591.0 298.8h0M587.3 323.2h0M603.0 292.2h0M599.6 324.6h0M646.9 321.7h0M595.3 303.4h0M633.0 308.0h0M598.5 287.7h0M598.9 321.8h0M649.4 305.8h0M582.6 314.6h0M610.7 306.1h0M603.0 308.9h0M584.6 318.1h0M595.2 294.2h0M637.8 321.7h0M604.9 309.1h0M636.6 322.7h0M615.2 300.2h0M578.3 318.7h0M624.5 316.4h0M589.6 315.0h0M606.3 310.6h0M589.5 310.6h0M651.0 317.6h0M646.8 320.8h0M581.2 317.2h0M587.7 326.6h0M613.2 307.9h0M601.1 314.0h0M600.9 306.4h0M610.3 300.7h0M581.4 319.5h0M648.8 316.3h0M590.4 300.3h0M633.2 324.6h0M594.7 292.3h0M616.3 303.8h0M651.7 317.3h0M588.2 303.2h0M645.0 303.6h0M610.7 322.8h0M593.0 322.3h0M628.4 321.3h0M612.6 325.8h0M619.8 311.0h0M576.9 321.7h0M626.7 320.2h0M616.5 302.4h0M637.2 312.9h0M574.7 324.9h0M591.8 318.2h0M623.2 308.8h0M652.4 303.5h0M632.9 325.8h0M613.6 323.7h0M585.8 308.7h0M589.6 309.7h0M587.7 305.8h0M650.8 309.0h0M575.1 329.8h0M587.3 327.5h0M652.6 312.7h0M606.8 300.9h0M609.4 325.8h0M636.3 322.7h0M593.2 307.5h0M624.6 321.3h0M599.2 317.6h0M629.2 318.0h0M602.5 316.0h0M610.2 304.0h0M590.8 299.5h0M619.0 313.2h0M593.6 312.0h0M612.2 322.4h0M635.2 323.6h0M579.7 317.3h0M589.6 298.7h0M642.1 317.0h0M610.2 295.5h0M591.7 321.9h0M609.5 311.3h0M612.4 303.1h0M650.5 316.0h0M621.8 305.0h0M579.3 322.1h0M589.0 303.2h0M590.9 314.5h0M585.7 305.2h0M631.4 316.8h0M616.8 296.0h0M605.4 311.5h0M580.4 330.6h0M613.1 293.1h0M610.3 320.1h0M602.4 321.6h0M587.7 312.9h0M640.0 324.8h0M625.2 307.2h0M640.9 304.8h0M578.8 325.9h0M605.8 308.3h0M572.7 318.8h0M598.7 323.6h0M632.7 320.9h0M599.8 308.7h0M619.3 306.9h0M611.7 300.1h0M596.3 314.5h0M582.3 328.0h0M652.3 322.5h0M595.9 307.3h0M645.0 305.2h0M628.0 324.1h0M576.1 317.3h0M648.9 316.8h0M601.8 326.4h0M631.7 312.0h0M648.1 303.7h0M620.0 319.6h0M588.8 317.1h0M597.8 310.8h0M643.4 322.4h0M587.8 321.7h0M585.1 302.4h0M629.5 321.9h0M614.8 299.6h0M582.0 330.5h0M600.3 321.6h0M581.5 309.1h0M638.6 320.7h0M603.7 312.5h0M609.0 302.8h0M609.7 306.5h0M646.8 301.8h0M575.4 330.0h0M634.0 305.4h0M635.8 324.7h0M614.7 303.1h0M614.1 320.5h0M600.4 294.1h0M635.6 312.7h0M611.2 289.9h0M636.7 315.8h0M583.7 321.6h0M580.0 309.9h0M592.8 330.6h0M650.1 308.4h0M601.0 315.4h0M631.0 308.5h0M620.8 313.2h0M596.7 303.8h0M630.8 303.9h0M602.2 298.9h0M630.6 324.7h0M618.8 311.4h0M581.0 326.9h0M600.4 303.1h0M585.0 313.9h0M580.9 309.5h0M592.1 325.8h0M583.3 308.1h0M579.9 307.1h0M588.0 313.4h0M597.2 308.7h0M630.6 304.8h0M581.7 322.1h0M621.2 318.0h0M622.0 312.8h0M630.2 305.4h0M604.6 300.6h0M616.2 319.8h0M630.1 317.3h0M593.3 321.0h0M605.2 315.3h0M632.4 324.4h0M626.4 321.4h0M624.7 327.3h0M639.2 303.1h0M596.5 324.2h0M591.9 323.6h0M608.3 292.4h0M639.8 305.3h0M622.1 305.3h0M614.5 320.5h0M571.1 331.9h0M589.5 311.5h0M579.7 325.4h0M610.1 313.2h0M620.0 300.3h0M606.4 294.9h0M603.4 297.3h0M641.7 310.1h0M638.6 326.4h0M648.4 322.3h0M600.8 313.9h0M602.1 307.3h0M576.6 312.9h0M640.9 306.2h0M652.3 305.3h0M618.3 307.3h0M647.4 309.3h0M644.4 311.7h0M612.4 319.3h0M603.3 323.5h0M647.9 325.3h0M617.0 300.4h0M595.3 321.0h0M616.5 308.5h0M599.1 292.8h0M614.1 305.9h0M589.8 301.3h0M612.9 302.4h0M647.4 316.6h0M611.3 299.8h0M589.2 296.4h0M586.6 306.2h0M584.9 323.1h0M581.3 326.8h0M635.0 307.7h0M627.7 317.6h0M620.6 304.1h0M634.8 316.0h0M620.9 314.9h0M620.6 321.6h0M598.0 316.2h0M574.1 328.2h0M599.3 318.4h0M590.1 308.8h0M642.1 322.9h0M580.9 320.5h0M575.9 327.2h0M586.1 329.1h0M587.6 312.0h0M582.4 324.0h0M612.1 318.4h0M608.4 315.9h0M629.6 312.4h0M594.5 304.9h0M584.9 314.3h0M608.5 298.8h0M573.3 319.9h0M647.4 317.1h0M610.3 293.6h0M600.3 300.4h0M583.7 312.8h0M590.5 319.7h0M588.6 304.5h0M639.0 301.5h0M597.3 321.2h0M626.7 303.4h0M588.7 319.2h0M643.0 312.2h0M601.8 305.4h0M648.2 317.4h0M608.2 301.3h0M616.7 316.7h0M584.5 327.2h0M621.2 319.4h0M573.6 315.0h0M597.9 291.6h0M639.3 313.8h0M608.1 318.5h0M622.3 316.8h0M641.3 323.3h0M641.6 302.9h0M580.9 311.5h0M576.0 313.6h0M600.9 291.5h0M621.6 304.3h0M616.6 320.3h0M649.2 297.2h0M609.6 303.3h0M636.1 312.3h0M624.4 323.5h0M608.3 321.7h0M600.9 310.3h0M614.0 295.8h0M620.2 306.4h0M582.5 300.2h0M614.2 297.3h0M652.4 311.7h0M625.8 307.1h0M599.3 315.6h0M632.0 318.4h0M625.9 318.2h0M644.3 321.6h0M615.5 324.2h0M646.8 305.6h0M643.5 316.7h0M626.1 304.1h0M645.0 324.6h0M650.6 313.3h0M639.4 306.8h0M582.0 306.5h0M580.5 323.0h0M619.5 323.1h0M628.2 313.8h0M601.8 322.3h0M630.1 317.5h0M611.0 298.3h0M595.2 305.2h0M606.6 311.3h0M649.3 309.9h0M630.9 303.3h0M626.5 308.9h0M630.1 326.9h0M645.9 322.4h0M650.1 310.5h0M589.8 310.4h0M579.1 322.3h0M594.1 311.3h0M599.0 311.5h0M606.7 296.3h0M606.1 313.4h0M628.1 315.9h0M650.9 305.6h0M639.9 314.8h0M590.1 309.1h0M583.1 307.4h0M615.3 321.6h0M636.4 309.1h0M649.9 307.1h0M614.1 301.3h0M600.7 301.7h0M617.0 319.3h0M609.6 327.8h0M615.4 316.6h0M629.3 301.2h0M620.7 312.4h0M603.3 303.7h0M600.9 296.6h0M610.4 320.1h0M635.5 315.3h0M629.7 324.6h0M640.3 329.3h0M587.2 302.9h0M608.8 307.0h0M582.5 298.0h0M627.8 302.8h0M632.9 325.9h0M586.7 317.0h0M631.6 321.6h0M593.0 324.0h0M598.4 330.7h0M575.5 315.9h0M648.1 315.4h0M571.1 327.8h0M582.3 321.1h0M645.1 313.1h0M611.4 314.0h0M631.7 327.0h0M600.6 308.8h0M650.5 317.7h0M617.8 315.3h0M578.9 316.0h0M624.7 325.4h0M600.1 313.9h0M575.7 330.2h0M577.1 315.5h0M589.6 326.9h0M643.4 316.4h0M590.3 320.6h0M597.6 294.4h0M597.3 311.2h0M581.5 305.5h0M598.1 292.7h0M604.0 313.6h0M615.3 320.5h0M637.9 306.5h0M631.3 311.4h0M620.2 309.2h0M629.7 317.6h0M599.1 307.8h0M616.3 325.8h0M618.6 321.3h0M618.8 305.2h0M630.4 303.0h0M639.3 306.0h0M642.6 315.7h0M590.8 304.4h0M650.5 308.6h0M631.7 311.6h0M585.3 315.7h0M569.7 326.0h0M607.2 298.8h0M585.0 327.6h0M613.0 316.6h0M600.9 300.7h0M606.6 304.4h0M579.6 324.0h0M606.7 319.5h0M590.4 301.0h0M648.2 318.9h0M600.2 304.1h0M589.5 314.7h0M628.3 310.4h0M634.3 320.3h0M650.8 316.9h0M638.5 315.1h0M640.4 327.5h0M622.9 309.4h0M594.5 302.6h0M581.8 325.4h0M588.7 297.3h0M594.5 306.8h0M597.4 299.3h0M617.5 315.8h0M586.2 299.9h0M636.9 308.6h0M575.4 310.1h0M573.2 318.9h0M639.8 318.0h0M643.1 314.8h0M649.0 317.1h0M594.2 317.4h0M583.9 319.4h0M652.1 313.9h0M625.9 310.6h0M646.0 317.2h0M578.1 310.0h0M601.3 305.3h0M650.9 319.4h0M584.6 322.9h0M589.3 305.6h0M577.0 328.1h0M627.6 317.6h0M633.1 304.6h0M617.9 307.0h0M590.0 308.8h0M615.8 316.8h0M615.7 296.2h0M593.8 327.6h0M576.1 317.4h0M579.7 310.7h0M617.3 309.6h0M606.6 308.2h0M582.0 328.4h0M617.7 306.8h0M589.9 323.0h0M586.9 301.3h0M585.4 307.9h0M609.6 309.3h0M619.0 316.0h0M619.1 312.8h0M649.2 319.1h0M651.6 328.3h0M589.4 306.4h0M619.9 322.2h0M576.3 308.3h0M612.0 312.2h0M590.5 308.7h0M585.6 327.5h0M627.1 304.0h0M649.7 312.3h0M585.2 298.3h0M584.8 308.0h0M575.9 318.6h0M600.3 292.6h0M627.0 302.6h0M594.6 318.0h0M598.6 298.6h0M596.8 308.1h0M622.8 319.3h0M601.9 295.7h0M604.4 325.3h0M622.4 323.9h0M600.8 300.7h0M577.0 315.7h0M596.3 314.3h0M581.5 317.1h0M579.6 321.9h0M608.7 312.7h0M653.0 310.6h0M606.9 317.1h0M616.7 302.7h0M591.3 318.6h0M632.7 323.2h0M603.1 302.6h0M594.8 323.2h0M629.7 324.4h0M587.0 320.1h0M606.8 317.6h0M595.4 307.0h0M651.3 313.3h0M651.4 320.2h0M582.3 306.3h0M625.3 310.3h0M579.5 319.9h0M597.8 326.5h0M637.3 323.3h0M585.2 321.4h0M616.5 301.3h0M634.3 316.8h0M643.1 326.5h0M617.8 322.7h0M634.3 326.8h0M589.9 311.4h0M624.1 314.2h0M602.1 324.6h0M599.1 301.3h0M629.8 312.0h0M620.0 315.3h0M588.9 305.5h0M588.7 309.8h0M621.4 300.1h0M602.2 293.2h0M622.5 304.1h0M596.5 312.1h0M580.6 309.3h0M618.1 313.8h0M620.9 306.2h0M596.5 320.7h0M609.9 299.7h0M573.1 322.3h0M584.3 311.4h0M591.5 319.8h0M636.4 318.2h0M621.2 319.1h0M583.4 302.8h0M616.0 322.7h0M620.9 326.2h0M572.7 329.1h0M601.1 325.1h0M588.7 302.3h0M644.4 321.8h0M635.4 311.4h0M614.2 298.0h0M644.5 312.2h0M580.3 325.3h0M639.5 313.1h0M596.5 310.0h0M610.9 327.1h0M582.7 312.9h0M589.7 325.9h0M587.1 327.2h0M606.7 297.7h0M602.6 298.8h0M600.6 315.3h0M624.1 322.2h0M596.1 325.6h0M648.6 319.7h0M605.5 303.1h0M635.8 312.6h0M576.6 310.1h0M625.4 325.0h0M591.7 301.0h0M643.1 325.1h0M601.9 298.9h0M631.2 322.8h0M643.5 317.8h0M643.5 324.9h0M579.6 328.6h0M597.0 302.9h0M595.4 318.1h0M587.7 299.8h0M635.1 319.0h0M599.0 316.9h0M617.0 312.9h0M609.7 310.9h0M592.5 300.0h0M595.5 301.5h0M600.7 309.0h0M611.8 320.5h0M626.0 317.9h0M640.8 308.7h0M626.9 316.2h0M607.1 322.7h0M610.1 320.2h0M582.4 325.9h0M575.4 324.2h0M585.8 321.8h0M634.4 302.3h0M603.1 323.4h0M630.4 330.4h0M639.4 326.5h0M617.3 324.7h0M612.9 322.4h0M616.9 304.1h0M647.0 318.4h0M591.0 297.1h0M621.8 309.2h0M603.6 325.6h0M612.8 295.6h0M628.4 316.8h0M644.1 309.6h0M645.2 307.4h0M623.9 320.3h0M632.3 324.0h0M605.0 323.8h0M590.2 308.7h0M578.1 316.7h0M615.9 310.8h0M647.9 317.5h0M602.8 295.5h0M652.5 321.0h0M617.9 298.2h0M645.9 320.0h0M584.5 327.9h0M630.6 310.5h0M613.3 325.9h0M607.7 308.4h0M631.7 316.7h0M650.5 308.8h0M577.8 311.8h0M645.1 309.1h0M616.0 300.0h0M594.4 306.4h0M604.0 312.6h0M596.1 295.1h0M600.9 312.4h0M592.7 294.2h0M589.6 330.1h0M644.6 326.4h0M639.3 307.9h0M589.8 312.9h0M623.2 319.8h0M574.7 329.6h0M628.9 306.8h0M639.1 304.8h0M578.8 322.6h0M600.4 322.0h0M630.2 313.9h0M603.1 290.6h0M586.8 318.9h0M650.1 309.5h0M588.2 318.0h0M586.9 306.6h0M611.8 301.2h0M628.7 322.8h0M617.1 319.6h0M606.6 316.7h0M576.2 313.7h0M608.8 303.0h0M630.2 307.9h0M601.1 316.5h0M583.9 324.8h0M626.5 308.2h0M618.9 314.1h0M615.2 303.1h0M598.1 324.4h0M642.5 301.9h0M608.4 314.6h0M596.0 321.5h0M633.0 306.2h0M583.6 304.1h0M629.5 318.6h0M605.9 311.3h0M573.2 320.5h0M603.0 295.9h0M610.9 326.0h0M633.7 315.9h0M624.0 327.9h0M599.2 321.9h0M638.2 325.0h0M612.3 306.3h0M586.0 325.3h0M616.4 319.9h0M621.9 325.6h0M629.4 323.6h0M622.1 326.0h0M633.8 322.7h0M601.0 323.4h0M637.5 327.6h0M644.3 322.8h0M600.2 323.9h0M612.1 319.4h0M601.7 313.4h0M580.3 318.4h0M594.3 320.6h0M610.4 304.4h0M634.3 302.6h0M634.7 324.8h0M577.1 306.2h0M648.8 302.4h0M617.5 303.7h0M609.0 314.3h0M585.6 328.2h0M573.9 323.9h0M628.2 302.3h0M618.4 306.9h0M595.2 319.9h0M620.5 304.9h0M647.6 311.9h0M646.1 319.7h0M595.9 306.7h0M591.1 318.1h0M621.3 309.3h0M646.5 314.7h0M572.9 324.1h0M603.1 315.5h0M653.4 304.4h0M582.1 326.5h0M584.4 305.6h0M584.3 329.5h0M601.7 319.7h0M589.5 319.4h0M643.0 309.3h0M602.2 308.7h0M593.6 295.9h0M612.1 309.1h0M587.3 319.8h0M599.4 297.1h0M605.4 314.7h0M585.3 315.2h0M589.1 302.9h0M613.2 310.7h0M580.7 306.0h0M587.8 325.8h0M591.5 317.6h0M621.7 305.1h0M617.5 309.5h0M600.2 316.1h0M609.1 320.0h0M587.5 313.8h0M593.3 317.2h0M609.5 310.3h0M616.9 324.6h0M641.7 307.2h0M579.4 315.9h0M628.9 314.3h0M624.7 310.0h0M572.4 330.8h0M638.8 319.1h0M639.0 315.8h0M603.2 306.2h0M599.6 303.4h0M601.5 308.3h0M602.8 295.4h0M575.7 329.6h0M654.0 306.7h0M590.2 314.4h0M623.5 318.5h0M604.8 315.1h0M605.0 321.3h0M596.9 322.9h0M619.7 314.7h0M639.8 319.6h0M608.4 301.9h0M596.7 315.0h0M585.3 309.5h0M607.4 301.1h0M638.5 313.3h0M580.8 315.1h0M632.7 314.2h0" stroke="#ff3322" stroke-width="1.80" stroke-linecap="round" fill="none" opacity="0.85"/>
<path d="M560.1 383.9h1M558.1 349.8h1M562.1 344.3h1M571.3 333.3h1M562.5 361.9h1M559.2 375.1h1M545.9 353.1h1M565.2 353.1h1M572.1 357.5h1M573.7 369.6h1M567.2 355.3h1M574.2 348.7h1M555.6 359.7h1M565.1 382.8h1M547.0 360.8h1M545.4 367.4h1M570.2 358.6h1M559.5 336.6h1M547.6 375.1h1M575.9 333.3h1M564.7 369.6h1M567.6 345.4h1M566.1 341.0h1M554.2 359.7h1M557.5 375.1h1M541.9 352.0h1M565.8 378.4h1M554.3 364.1h1M551.3 348.7h1M573.4 386.1h1M576.4 365.2h1M549.6 349.8h1M559.7 368.5h1M547.6 376.2h1M550.9 341.0h1M567.0 332.2h1M549.0 376.2h1M560.3 367.4h1M551.1 364.1h1M567.3 353.1h1M566.5 334.4h1M570.5 365.2h1M544.3 363.0h1M534.1 353.1h1M566.8 379.5h1M542.0 374.0h1M545.5 364.1h1M562.5 350.9h1M548.6 374.0h1M552.8 380.6h1M546.8 355.3h1M551.5 353.1h1M557.3 361.9h1M543.0 366.3h1M566.8 328.9h1M568.6 382.8h1M566.5 341.0h1M564.1 349.8h1M575.1 349.8h1M544.3 347.6h1M557.6 348.7h1M541.1 368.5h1M553.2 336.6h1M556.5 350.9h1M564.2 366.3h1M547.8 376.2h1M561.5 349.8h1M569.4 365.2h1M554.7 372.9h1M559.1 368.5h1M561.2 349.8h1M562.9 387.2h1M566.6 370.7h1M536.2 365.2h1M573.9 379.5h1M568.0 370.7h1M567.1 365.2h1M563.0 379.5h1M567.4 371.8h1M572.3 393.8h1M565.7 381.7h1M558.5 385.0h1M550.5 359.7h1M570.6 361.9h1M551.8 353.1h1M559.7 381.7h1M554.7 338.8h1M564.2 367.4h1M567.5 341.0h1M543.5 350.9h1M549.3 358.6h1M572.4 382.8h1M543.0 357.5h1M565.4 381.7h1M554.7 383.9h1M568.6 371.8h1M562.0 369.6h1M571.6 385.0h1M554.6 350.9h1M567.7 338.8h1M567.5 381.7h1M559.6 370.7h1M570.9 364.1h1M561.3 378.4h1M555.6 357.5h1M567.1 391.6h1M558.5 337.7h1M564.9 374.0h1M542.3 370.7h1M569.7 357.5h1M537.8 345.4h1M551.2 359.7h1M560.6 368.5h1M565.8 357.5h1M542.1 368.5h1M564.0 377.3h1M556.0 378.4h1M550.5 348.7h1M560.2 335.5h1M572.1 386.1h1M567.8 350.9h1M541.7 348.7h1M557.6 348.7h1M573.3 350.9h1M564.9 378.4h1M535.5 365.2h1M543.9 374.0h1M570.3 368.5h1M569.2 366.3h1M567.2 386.1h1M558.8 367.4h1M572.4 349.8h1M560.6 349.8h1M552.1 341.0h1M572.7 353.1h1M556.5 385.0h1M541.3 347.6h1M562.9 385.0h1M575.6 365.2h1M547.3 335.5h1M555.1 383.9h1M561.4 374.0h1M548.3 341.0h1M552.6 341.0h1M552.0 378.4h1M562.3 357.5h1M544.8 355.3h1M570.2 350.9h1M550.4 370.7h1M539.9 350.9h1M563.5 380.6h1M543.0 378.4h1M549.6 372.9h1M563.6 337.7h1M545.5 341.0h1M564.3 360.8h1M573.7 374.0h1M544.6 364.1h1M554.4 381.7h1M545.7 356.4h1M552.1 363.0h1M566.3 357.5h1M556.7 376.2h1M556.0 344.3h1M548.2 337.7h1M555.4 377.3h1M573.8 334.4h1M548.1 349.8h1M572.3 380.6h1M566.6 370.7h1M559.1 336.6h1M568.4 352.0h1M536.8 350.9h1M569.6 347.6h1M550.6 342.1h1M534.3 356.4h1M563.0 359.7h1M548.2 358.6h1M573.9 383.9h1M573.2 342.1h1M553.5 338.8h1M563.9 361.9h1M553.9 339.9h1M549.1 363.0h1M548.0 350.9h1M572.1 352.0h1M542.5 364.1h1M572.7 369.6h1M553.3 363.0h1M568.4 357.5h1M546.3 355.3h1M575.2 388.3h1M556.3 346.5h1M573.0 348.7h1M570.9 352.0h1M545.3 375.1h1M562.1 355.3h1M553.2 350.9h1M562.2 369.6h1M556.9 375.1h1M566.0 346.5h1M555.8 343.2h1M544.9 358.6h1M564.3 360.8h1M549.9 380.6h1M571.8 380.6h1M565.8 368.5h1M544.4 343.2h1M561.7 380.6h1M543.8 364.1h1M565.3 363.0h1M542.5 365.2h1M572.4 360.8h1M564.6 341.0h1M576.9 357.5h1M570.7 347.6h1M551.5 344.3h1M559.1 371.8h1M575.3 346.5h1M557.4 341.0h1M568.0 369.6h1M560.4 371.8h1M552.2 371.8h1M554.5 344.3h1M567.5 339.9h1M551.4 368.5h1M538.7 344.3h1M570.6 369.6h1M561.6 337.7h1M568.7 349.8h1M569.2 369.6h1M570.5 361.9h1M567.9 345.4h1M538.5 350.9h1M537.7 354.2h1M553.7 385.0h1M566.7 364.1h1M553.9 350.9h1M565.5 339.9h1M561.6 364.1h1M557.9 360.8h1M573.6 389.4h1M563.4 391.6h1M545.8 376.2h1M559.8 357.5h1M565.5 378.4h1M566.6 335.5h1M567.8 370.7h1M556.1 352.0h1M567.0 374.0h1M565.8 343.2h1M550.4 353.1h1M553.3 339.9h1M567.0 350.9h1M547.6 361.9h1M572.4 389.4h1M569.4 379.5h1M544.3 347.6h1M567.6 359.7h1M575.3 345.4h1M542.8 357.5h1M564.4 368.5h1M543.3 365.2h1M550.2 339.9h1M566.3 378.4h1M560.8 386.1h1M559.3 376.2h1M574.6 383.9h1M549.3 369.6h1M566.8 337.7h1M555.2 352.0h1M550.3 357.5h1M557.5 366.3h1M568.6 343.2h1M555.3 345.4h1M556.9 367.4h1M543.4 348.7h1M550.3 354.2h1M567.5 345.4h1M564.4 375.1h1M552.8 339.9h1M567.0 335.5h1M544.2 356.4h1M563.6 377.3h1M566.7 339.9h1M555.1 353.1h1M556.0 386.1h1M546.5 352.0h1M568.5 378.4h1M560.8 341.0h1M559.0 350.9h1M550.3 343.2h1M564.5 344.3h1M553.8 346.5h1M558.8 346.5h1M561.1 334.4h1M569.0 378.4h1M553.2 357.5h1M564.4 343.2h1M558.0 349.8h1M542.5 345.4h1M557.6 352.0h1M548.7 372.9h1M558.9 360.8h1M560.1 336.6h1M562.8 378.4h1M545.0 378.4h1M548.0 360.8h1M563.7 350.9h1M572.4 386.1h1M560.0 376.2h1M568.3 366.3h1M550.8 367.4h1M558.1 383.9h1M540.5 367.4h1M544.8 360.8h1M561.4 380.6h1M573.5 385.0h1M557.2 368.5h1M556.1 380.6h1M549.2 337.7h1M547.9 372.9h1M563.4 338.8h1M570.4 371.8h1M552.9 343.2h1M543.8 366.3h1M569.3 364.1h1M547.1 365.2h1M563.3 383.9h1M561.9 348.7h1M564.0 377.3h1M549.6 343.2h1M545.8 349.8h1M540.0 374.0h1M560.9 375.1h1M556.7 386.1h1M572.5 390.5h1M568.0 368.5h1M550.8 379.5h1M546.7 358.6h1M566.3 391.6h1M549.7 349.8h1M567.8 375.1h1M548.6 356.4h1M564.1 356.4h1M558.8 341.0h1M548.8 350.9h1M573.4 354.2h1M568.3 349.8h1M552.9 370.7h1M570.1 371.8h1M560.4 352.0h1M568.4 355.3h1M552.6 375.1h1M548.3 379.5h1M562.9 341.0h1M572.0 342.1h1M567.7 338.8h1M565.7 386.1h1M551.7 345.4h1M558.6 346.5h1M561.5 356.4h1M569.6 349.8h1M557.8 353.1h1M570.3 341.0h1M546.3 349.8h1M543.2 367.4h1M552.8 365.2h1M544.8 348.7h1M538.6 361.9h1M537.4 359.7h1M560.6 372.9h1M554.2 343.2h1M551.1 379.5h1M567.1 393.8h1M544.4 360.8h1M564.6 345.4h1M570.0 356.4h1M564.5 348.7h1M574.6 342.1h1M560.4 350.9h1M541.0 366.3h1M573.6 379.5h1M551.4 346.5h1M558.9 348.7h1M538.5 364.1h1M539.5 353.1h1M571.7 345.4h1M563.6 360.8h1M572.9 377.3h1M541.2 348.7h1M563.7 382.8h1M572.7 380.6h1M553.4 352.0h1M573.7 380.6h1M567.9 339.9h1M555.6 353.1h1M569.9 365.2h1M573.8 360.8h1M566.7 382.8h1M567.8 359.7h1M560.7 372.9h1M568.0 371.8h1M544.2 352.0h1M553.1 366.3h1M566.2 334.4h1M555.9 360.8h1M566.0 335.5h1M547.2 372.9h1M562.1 346.5h1M561.2 344.3h1M547.3 370.7h1M571.5 342.1h1M566.6 360.8h1M575.6 356.4h1M560.2 353.1h1M552.6 367.4h1M544.9 372.9h1M561.6 383.9h1M550.3 354.2h1M550.9 343.2h1M551.7 350.9h1M553.3 348.7h1M570.1 383.9h1M541.2 360.8h1M557.4 339.9h1M545.8 356.4h1M569.4 363.0h1M560.6 387.2h1M549.6 342.1h1M554.7 350.9h1M568.1 361.9h1M571.4 359.7h1M574.2 343.2h1M557.4 344.3h1M569.0 352.0h1M554.2 360.8h1M558.0 359.7h1M557.7 367.4h1M551.5 377.3h1M562.2 366.3h1M559.3 360.8h1M563.4 344.3h1M563.8 381.7h1M559.8 375.1h1M545.8 365.2h1M543.0 356.4h1M558.3 369.6h1M533.7 344.3h1M567.4 338.8h1M568.0 375.1h1M568.2 346.5h1M548.8 355.3h1M543.6 355.3h1M547.7 369.6h1M553.6 346.5h1M576.7 347.6h1M557.6 348.7h1M567.2 387.2h1M555.7 360.8h1M563.5 349.8h1M554.9 380.6h1M559.3 369.6h1M549.0 370.7h1M544.6 353.1h1M572.7 379.5h1M538.2 355.3h1M541.2 359.7h1M562.7 379.5h1M561.7 359.7h1M567.6 350.9h1M566.6 380.6h1M542.9 361.9h1M562.3 352.0h1M569.5 338.8h1M559.8 376.2h1M546.7 346.5h1M569.8 346.5h1M569.7 342.1h1M549.7 375.1h1M566.1 356.4h1M547.1 342.1h1M564.6 341.0h1M554.3 371.8h1M541.7 354.2h1M557.5 345.4h1M545.2 337.7h1M569.9 358.6h1M575.3 382.8h1M556.1 367.4h1M538.1 366.3h1M541.9 359.7h1M572.3 353.1h1M566.1 338.8h1M570.4 354.2h1M566.3 359.7h1M549.9 353.1h1M556.1 372.9h1M537.4 365.2h1M554.4 347.6h1M565.7 341.0h1M562.5 346.5h1M553.6 342.1h1M543.2 346.5h1M553.7 346.5h1M549.4 344.3h1M556.1 378.4h1M562.2 349.8h1M558.6 381.7h1M566.9 338.8h1M568.8 345.4h1M572.6 355.3h1M542.1 370.7h1M549.9 355.3h1M559.7 366.3h1M549.8 345.4h1M552.6 375.1h1M552.9 348.7h1M569.0 352.0h1M571.4 382.8h1M551.2 357.5h1M561.8 372.9h1M570.2 380.6h1M543.1 365.2h1M551.9 380.6h1M552.6 380.6h1M562.0 345.4h1M560.7 380.6h1M542.6 343.2h1M568.4 336.6h1M559.4 363.0h1M564.0 332.2h1M538.1 357.5h1M570.0 368.5h1M570.1 331.1h1M556.2 356.4h1M552.0 383.9h1M566.8 349.8h1M561.5 341.0h1M560.8 367.4h1M559.9 374.0h1M553.1 370.7h1M548.7 370.7h1M552.7 379.5h1M562.7 382.8h1M565.9 358.6h1M556.4 357.5h1M552.4 381.7h1M554.5 363.0h1M548.7 344.3h1M564.1 360.8h1M555.9 352.0h1M571.7 377.3h1M562.4 378.4h1M544.7 371.8h1M565.6 348.7h1M550.0 377.3h1M558.6 338.8h1M563.1 360.8h1M548.0 342.1h1M561.4 348.7h1M568.7 353.1h1M563.7 377.3h1M561.3 358.6h1M565.2 380.6h1M570.5 335.5h1M559.3 385.0h1M549.0 367.4h1M548.9 342.1h1M558.9 390.5h1M561.0 365.2h1M559.8 347.6h1M555.3 344.3h1M541.2 345.4h1M555.3 376.2h1M569.5 364.1h1M542.2 361.9h1M554.8 376.2h1M562.7 343.2h1M563.1 357.5h1M563.1 346.5h1M556.4 367.4h1M552.1 360.8h1M549.3 341.0h1M563.3 381.7h1M553.1 383.9h1M570.9 386.1h1M541.2 370.7h1M579.0 381.7h1M570.2 338.8h1M560.8 389.4h1M557.9 339.9h1M570.2 337.7h1M573.2 380.6h1M548.7 350.9h1M554.0 344.3h1M555.4 385.0h1M541.3 354.2h1M574.2 342.1h1M565.8 355.3h1M545.0 364.1h1M552.7 367.4h1M544.1 357.5h1M553.1 357.5h1M560.1 371.8h1M560.9 357.5h1M547.7 345.4h1M565.3 342.1h1M560.6 367.4h1M562.5 376.2h1M566.7 371.8h1M565.0 356.4h1M573.9 332.2h1M535.5 347.6h1M570.2 354.2h1M566.0 370.7h1M556.2 382.8h1M551.2 352.0h1M546.8 366.3h1M553.3 339.9h1M545.9 374.0h1M551.7 364.1h1M562.1 368.5h1M552.4 338.8h1M569.3 363.0h1" stroke="#151515" stroke-width="1.10" stroke-linecap="square" fill="none" opacity="0.85"/>
<path d="M601.9 411.4h1.5M608.6 391.6h1.5M580.2 421.3h1.5M617.3 405.9h1.5M604.9 410.3h1.5M608.0 410.3h1.5M590.6 393.8h1.5M585.5 427.9h1.5M592.1 394.9h1.5M590.6 430.1h1.5M579.6 397.1h1.5M582.2 399.3h1.5M616.8 397.1h1.5M603.9 410.3h1.5M583.1 391.6h1.5M597.0 405.9h1.5M598.1 420.2h1.5M573.0 412.5h1.5M583.4 404.8h1.5M596.8 410.3h1.5M606.2 398.2h1.5M599.1 415.8h1.5M606.6 391.6h1.5M596.6 407.0h1.5M583.4 432.3h1.5M594.9 421.3h1.5M580.6 401.5h1.5M591.7 392.7h1.5M593.1 418.0h1.5M599.9 410.3h1.5M587.9 396.0h1.5M582.8 400.4h1.5M582.8 408.1h1.5M580.2 388.3h1.5M583.7 418.0h1.5M580.9 414.7h1.5M589.9 400.4h1.5M599.5 394.9h1.5M597.0 422.4h1.5M585.0 400.4h1.5M612.0 412.5h1.5M593.4 419.1h1.5M604.1 420.2h1.5M606.3 411.4h1.5M587.9 405.9h1.5M593.8 408.1h1.5M595.1 398.2h1.5M592.8 394.9h1.5M609.0 394.9h1.5M592.3 394.9h1.5M583.3 411.4h1.5M576.5 394.9h1.5M609.6 402.6h1.5M580.9 419.1h1.5M602.2 412.5h1.5M606.7 400.4h1.5M595.0 424.6h1.5M587.9 432.3h1.5M594.8 396.0h1.5M588.0 435.6h1.5M621.2 394.9h1.5M593.0 398.2h1.5M592.2 401.5h1.5M580.0 409.2h1.5M593.2 411.4h1.5M589.8 402.6h1.5M619.0 393.8h1.5M599.2 424.6h1.5M615.7 411.4h1.5M595.5 401.5h1.5M603.2 411.4h1.5M587.6 410.3h1.5M588.6 400.4h1.5M594.0 424.6h1.5M607.9 408.1h1.5M580.9 411.4h1.5M579.6 420.2h1.5M596.4 424.6h1.5M576.8 419.1h1.5M580.9 402.6h1.5M599.5 403.7h1.5M578.6 410.3h1.5M579.9 400.4h1.5M579.4 419.1h1.5M610.0 403.7h1.5M590.1 416.9h1.5M605.5 413.6h1.5M567.9 416.9h1.5M605.2 401.5h1.5M594.8 429.0h1.5M580.8 398.2h1.5M598.8 422.4h1.5M602.5 413.6h1.5M604.6 398.2h1.5M595.4 429.0h1.5M585.7 419.1h1.5M591.3 393.8h1.5M587.0 412.5h1.5M586.9 432.3h1.5M608.2 408.1h1.5M598.3 429.0h1.5M594.5 414.7h1.5M581.4 410.3h1.5M601.3 396.0h1.5M602.3 397.1h1.5M598.3 412.5h1.5M595.6 421.3h1.5M603.8 412.5h1.5M596.3 418.0h1.5M580.4 421.3h1.5M572.4 390.5h1.5M588.8 418.0h1.5M581.5 401.5h1.5M590.5 407.0h1.5M579.0 421.3h1.5M583.3 420.2h1.5M597.7 413.6h1.5M581.9 397.1h1.5M587.0 394.9h1.5M582.5 398.2h1.5M571.7 411.4h1.5M578.4 411.4h1.5M604.5 398.2h1.5M587.3 397.1h1.5M582.8 404.8h1.5M579.2 404.8h1.5M593.1 418.0h1.5M580.5 412.5h1.5M584.6 423.5h1.5M603.8 414.7h1.5M591.4 397.1h1.5M593.5 429.0h1.5M590.2 421.3h1.5M599.1 425.7h1.5M581.8 422.4h1.5M614.0 408.1h1.5M576.2 391.6h1.5M610.0 396.0h1.5M585.2 413.6h1.5M594.9 408.1h1.5M607.5 403.7h1.5M580.8 426.8h1.5M593.0 392.7h1.5M582.5 422.4h1.5M596.9 402.6h1.5M610.2 396.0h1.5M593.4 414.7h1.5M585.5 404.8h1.5M615.2 396.0h1.5M574.4 420.2h1.5M604.1 411.4h1.5M572.7 429.0h1.5M606.8 409.2h1.5M586.0 393.8h1.5M609.5 400.4h1.5M613.7 389.4h1.5M612.7 409.2h1.5M586.2 415.8h1.5M576.6 411.4h1.5M582.9 403.7h1.5M580.8 407.0h1.5M605.8 400.4h1.5M609.8 412.5h1.5M575.3 408.1h1.5M601.7 410.3h1.5M600.4 411.4h1.5M585.9 404.8h1.5M579.1 420.2h1.5M587.7 429.0h1.5M579.0 402.6h1.5M590.5 400.4h1.5M600.3 414.7h1.5M581.4 423.5h1.5M590.1 399.3h1.5M577.0 416.9h1.5M606.3 409.2h1.5M581.0 416.9h1.5M595.4 412.5h1.5M594.6 423.5h1.5M587.7 397.1h1.5M576.6 430.1h1.5M596.9 398.2h1.5M585.6 402.6h1.5M589.6 400.4h1.5M599.6 415.8h1.5M580.6 426.8h1.5M591.4 424.6h1.5M612.3 413.6h1.5M580.6 412.5h1.5M574.7 420.2h1.5M584.7 399.3h1.5M585.2 400.4h1.5M591.7 415.8h1.5M578.8 421.3h1.5M600.0 412.5h1.5M590.5 422.4h1.5M586.0 421.3h1.5M609.7 405.9h1.5M579.8 414.7h1.5M576.4 413.6h1.5M605.8 410.3h1.5M586.7 423.5h1.5M611.4 397.1h1.5M600.4 408.1h1.5M596.4 389.4h1.5M614.4 400.4h1.5M600.3 422.4h1.5M574.9 415.8h1.5M601.7 411.4h1.5M598.2 420.2h1.5M586.6 409.2h1.5M594.0 410.3h1.5M612.3 408.1h1.5M612.7 399.3h1.5M612.4 403.7h1.5M591.7 422.4h1.5M599.1 414.7h1.5M584.7 426.8h1.5M603.8 411.4h1.5M587.1 409.2h1.5M612.4 391.6h1.5M584.6 399.3h1.5M577.7 407.0h1.5M605.3 412.5h1.5M589.6 407.0h1.5M594.4 400.4h1.5M581.9 421.3h1.5M581.9 403.7h1.5M608.8 399.3h1.5M586.7 393.8h1.5M606.5 394.9h1.5M584.1 431.2h1.5M603.3 416.9h1.5M594.0 410.3h1.5M585.0 387.2h1.5M578.1 420.2h1.5M593.2 400.4h1.5M577.5 415.8h1.5M601.4 410.3h1.5M586.8 410.3h1.5M579.4 416.9h1.5M591.8 422.4h1.5M592.7 416.9h1.5M575.3 416.9h1.5M579.9 424.6h1.5M584.9 423.5h1.5M579.5 403.7h1.5M590.9 424.6h1.5M592.7 421.3h1.5M614.0 403.7h1.5M579.4 404.8h1.5M594.0 409.2h1.5M589.3 397.1h1.5M588.1 429.0h1.5M599.3 411.4h1.5M582.3 393.8h1.5M587.3 405.9h1.5M600.1 413.6h1.5M576.2 413.6h1.5M610.8 403.7h1.5M577.6 423.5h1.5M598.4 394.9h1.5M587.8 399.3h1.5M587.2 393.8h1.5M577.8 405.9h1.5M575.0 399.3h1.5M604.7 401.5h1.5M613.0 401.5h1.5M603.0 404.8h1.5M602.3 423.5h1.5M584.9 419.1h1.5M577.3 398.2h1.5M587.6 398.2h1.5M582.7 400.4h1.5M583.2 403.7h1.5M583.5 404.8h1.5M593.8 419.1h1.5M586.6 400.4h1.5M583.5 408.1h1.5M601.7 418.0h1.5M597.2 398.2h1.5M575.1 409.2h1.5M609.5 405.9h1.5M589.0 392.7h1.5M607.0 402.6h1.5M585.1 412.5h1.5M590.4 408.1h1.5M586.4 413.6h1.5M583.4 401.5h1.5M583.6 429.0h1.5M583.1 424.6h1.5M578.2 394.9h1.5M599.4 401.5h1.5M588.1 385.0h1.5M602.5 407.0h1.5M591.3 405.9h1.5M606.5 414.7h1.5M588.6 394.9h1.5M595.3 411.4h1.5M573.4 413.6h1.5M587.0 407.0h1.5M595.9 413.6h1.5M582.9 409.2h1.5M593.0 389.4h1.5M586.6 398.2h1.5M589.4 404.8h1.5M606.4 405.9h1.5M585.6 415.8h1.5M592.6 400.4h1.5M610.4 410.3h1.5M589.4 393.8h1.5M585.0 408.1h1.5M611.9 413.6h1.5M584.2 418.0h1.5M603.4 405.9h1.5M601.3 414.7h1.5M581.5 405.9h1.5M578.4 426.8h1.5M579.7 411.4h1.5M579.4 429.0h1.5M588.9 409.2h1.5M578.5 414.7h1.5M574.5 382.8h1.5M599.9 401.5h1.5M583.3 416.9h1.5M582.2 423.5h1.5M598.9 396.0h1.5M603.3 411.4h1.5M578.0 423.5h1.5M578.2 414.7h1.5M583.4 423.5h1.5M587.4 429.0h1.5M584.7 415.8h1.5M583.1 422.4h1.5M584.6 403.7h1.5M600.3 410.3h1.5M576.3 427.9h1.5M600.7 427.9h1.5M589.9 427.9h1.5M584.8 405.9h1.5M613.8 393.8h1.5M572.7 416.9h1.5M605.1 391.6h1.5M599.3 405.9h1.5M606.1 396.0h1.5M583.1 398.2h1.5M585.6 415.8h1.5M587.0 414.7h1.5M583.3 396.0h1.5M612.3 394.9h1.5M591.0 394.9h1.5M578.4 434.5h1.5M605.7 399.3h1.5M577.0 404.8h1.5M606.1 407.0h1.5M596.3 413.6h1.5M608.4 393.8h1.5M586.4 391.6h1.5M594.4 418.0h1.5M604.4 413.6h1.5M603.5 404.8h1.5M596.5 394.9h1.5M585.2 413.6h1.5M611.6 408.1h1.5M586.6 407.0h1.5M602.5 401.5h1.5M607.4 394.9h1.5M597.0 390.5h1.5M596.8 399.3h1.5M588.1 420.2h1.5M614.3 399.3h1.5M603.2 410.3h1.5M584.1 403.7h1.5M592.5 414.7h1.5M571.4 416.9h1.5M587.2 431.2h1.5M582.4 418.0h1.5M618.2 393.8h1.5M587.5 397.1h1.5M581.4 413.6h1.5M586.1 419.1h1.5M594.6 402.6h1.5M571.2 413.6h1.5M591.0 423.5h1.5M585.3 436.7h1.5M578.9 405.9h1.5M618.6 393.8h1.5M577.1 396.0h1.5M594.9 419.1h1.5M594.7 387.2h1.5M604.4 416.9h1.5M584.6 429.0h1.5M585.8 397.1h1.5M581.3 398.2h1.5M614.3 397.1h1.5M574.0 410.3h1.5M583.3 433.4h1.5M593.7 426.8h1.5M590.0 415.8h1.5M574.9 388.3h1.5M575.6 425.7h1.5M599.9 391.6h1.5M593.6 421.3h1.5M612.6 409.2h1.5M591.9 411.4h1.5M578.2 413.6h1.5M605.4 408.1h1.5M595.3 407.0h1.5M589.8 409.2h1.5M591.9 430.1h1.5M594.1 393.8h1.5M587.3 422.4h1.5M597.2 425.7h1.5M589.3 407.0h1.5M580.5 422.4h1.5M581.8 394.9h1.5M613.4 397.1h1.5M584.5 433.4h1.5M580.3 422.4h1.5M611.7 407.0h1.5M584.5 412.5h1.5M590.5 423.5h1.5M587.0 423.5h1.5M580.7 401.5h1.5M592.4 402.6h1.5M597.5 414.7h1.5M581.9 431.2h1.5M598.5 426.8h1.5M598.9 418.0h1.5M591.2 426.8h1.5M598.5 418.0h1.5M593.3 411.4h1.5M589.9 415.8h1.5M575.9 413.6h1.5M602.7 410.3h1.5M585.4 407.0h1.5M582.4 393.8h1.5M575.7 411.4h1.5M600.2 420.2h1.5M619.2 399.3h1.5M609.4 393.8h1.5M599.0 401.5h1.5M578.4 404.8h1.5M590.2 431.2h1.5M578.6 411.4h1.5M606.2 394.9h1.5M584.6 414.7h1.5M574.5 409.2h1.5M615.8 397.1h1.5M591.4 407.0h1.5M609.4 393.8h1.5M592.7 412.5h1.5M582.7 416.9h1.5M587.9 414.7h1.5M593.6 421.3h1.5M590.1 392.7h1.5M575.1 387.2h1.5M597.3 391.6h1.5M573.5 415.8h1.5M586.1 399.3h1.5M603.6 408.1h1.5M592.0 407.0h1.5M582.9 397.1h1.5M605.2 416.9h1.5M578.0 402.6h1.5M584.9 414.7h1.5M587.1 413.6h1.5M599.2 405.9h1.5M612.0 393.8h1.5M596.4 396.0h1.5M617.9 403.7h1.5M598.2 426.8h1.5M607.5 413.6h1.5M601.0 419.1h1.5M602.3 396.0h1.5M575.4 392.7h1.5M584.0 407.0h1.5M583.7 392.7h1.5M588.1 409.2h1.5M604.6 401.5h1.5M584.4 425.7h1.5M587.0 405.9h1.5M596.8 402.6h1.5M606.6 416.9h1.5M579.0 399.3h1.5M585.6 404.8h1.5M596.4 402.6h1.5M589.7 418.0h1.5M575.0 389.4h1.5M584.3 402.6h1.5M590.9 408.1h1.5M582.6 405.9h1.5M590.5 430.1h1.5M602.3 404.8h1.5M576.4 423.5h1.5M600.7 418.0h1.5M612.5 407.0h1.5M586.3 397.1h1.5M619.1 391.6h1.5M616.7 400.4h1.5M590.2 423.5h1.5M590.0 411.4h1.5M599.2 404.8h1.5M582.3 411.4h1.5M597.6 405.9h1.5M579.9 389.4h1.5M589.7 419.1h1.5M577.2 416.9h1.5M582.5 412.5h1.5M597.1 410.3h1.5M605.0 400.4h1.5M616.5 392.7h1.5M577.5 419.1h1.5M601.2 402.6h1.5M601.9 422.4h1.5M598.1 402.6h1.5M581.3 430.1h1.5M590.4 422.4h1.5M610.6 404.8h1.5M610.4 409.2h1.5M578.2 424.6h1.5M604.9 419.1h1.5M596.7 400.4h1.5M595.9 404.8h1.5M597.4 405.9h1.5M581.1 399.3h1.5M577.7 401.5h1.5M608.9 398.2h1.5M593.1 402.6h1.5M606.7 413.6h1.5M601.7 399.3h1.5M608.7 410.3h1.5M575.3 420.2h1.5M594.3 403.7h1.5M576.2 399.3h1.5M612.1 404.8h1.5M578.5 409.2h1.5M588.3 433.4h1.5M605.2 404.8h1.5M595.2 399.3h1.5M589.7 411.4h1.5M605.9 405.9h1.5M587.5 399.3h1.5M582.1 409.2h1.5M601.4 393.8h1.5M579.9 389.4h1.5M580.1 420.2h1.5M579.8 404.8h1.5M581.5 391.6h1.5M585.2 431.2h1.5M604.2 408.1h1.5M597.7 399.3h1.5M580.0 404.8h1.5M591.3 402.6h1.5M605.0 415.8h1.5M586.1 429.0h1.5M590.2 389.4h1.5M582.8 400.4h1.5M574.5 420.2h1.5M592.2 399.3h1.5M594.1 398.2h1.5M586.6 423.5h1.5M616.9 396.0h1.5M585.3 429.0h1.5M602.0 425.7h1.5M591.0 430.1h1.5M575.7 403.7h1.5M595.1 422.4h1.5M601.5 404.8h1.5M584.9 420.2h1.5M608.3 401.5h1.5M613.1 394.9h1.5M613.9 404.8h1.5M581.7 430.1h1.5M604.7 391.6h1.5M581.4 404.8h1.5M586.9 402.6h1.5M581.2 421.3h1.5M600.2 407.0h1.5M577.8 400.4h1.5M591.8 419.1h1.5M584.7 411.4h1.5M593.2 402.6h1.5M604.4 421.3h1.5M590.4 412.5h1.5M591.5 396.0h1.5M589.0 418.0h1.5M613.2 412.5h1.5M580.1 423.5h1.5M598.6 416.9h1.5M585.1 398.2h1.5M614.1 413.6h1.5M603.6 409.2h1.5M616.8 392.7h1.5M597.2 415.8h1.5M593.6 429.0h1.5M606.3 396.0h1.5M586.0 411.4h1.5M577.9 409.2h1.5M577.4 397.1h1.5M577.3 399.3h1.5M602.8 400.4h1.5M582.4 392.7h1.5M607.1 412.5h1.5M580.1 400.4h1.5M591.6 430.1h1.5M604.9 403.7h1.5M588.2 401.5h1.5M604.0 393.8h1.5M602.0 411.4h1.5M619.2 404.8h1.5M608.9 399.3h1.5M581.0 408.1h1.5M596.9 387.2h1.5M604.5 409.2h1.5M599.0 404.8h1.5M612.0 404.8h1.5M589.0 408.1h1.5M571.5 414.7h1.5M617.5 392.7h1.5M582.7 412.5h1.5M595.2 421.3h1.5M588.1 426.8h1.5M587.1 399.3h1.5M610.7 410.3h1.5M576.4 409.2h1.5M588.5 407.0h1.5M595.6 413.6h1.5M581.5 415.8h1.5M592.6 422.4h1.5M598.7 413.6h1.5M586.6 394.9h1.5M581.7 430.1h1.5M608.7 398.2h1.5M591.0 394.9h1.5M612.5 393.8h1.5M604.3 404.8h1.5M582.6 424.6h1.5M605.6 411.4h1.5M587.7 398.2h1.5M589.2 431.2h1.5M583.5 397.1h1.5M579.7 404.8h1.5M606.0 402.6h1.5M594.7 404.8h1.5M577.3 411.4h1.5M577.5 416.9h1.5M579.4 416.9h1.5M588.3 390.5h1.5M604.7 399.3h1.5M588.2 422.4h1.5M573.7 416.9h1.5M595.0 410.3h1.5M601.2 422.4h1.5M579.2 419.1h1.5M600.2 396.0h1.5M576.8 389.4h1.5M585.3 408.1h1.5M584.6 412.5h1.5M588.6 411.4h1.5M595.3 422.4h1.5M588.4 416.9h1.5M584.4 403.7h1.5M596.0 426.8h1.5M571.4 409.2h1.5M586.9 399.3h1.5M579.2 400.4h1.5M592.7 423.5h1.5M581.7 426.8h1.5M580.7 411.4h1.5M598.7 418.0h1.5M591.3 402.6h1.5M575.9 416.9h1.5M612.9 401.5h1.5M594.9 410.3h1.5M574.6 415.8h1.5M596.3 419.1h1.5M582.0 393.8h1.5M591.4 408.1h1.5M585.3 424.6h1.5M614.8 400.4h1.5M598.0 388.3h1.5M611.1 393.8h1.5M587.9 422.4h1.5M586.7 423.5h1.5M606.6 411.4h1.5M596.9 403.7h1.5M576.8 415.8h1.5M586.0 390.5h1.5M600.4 405.9h1.5M610.1 409.2h1.5M600.2 410.3h1.5M579.1 418.0h1.5M617.5 392.7h1.5M600.8 405.9h1.5M604.6 411.4h1.5M585.2 400.4h1.5M614.6 400.4h1.5M593.0 400.4h1.5M603.4 418.0h1.5M577.5 413.6h1.5M605.2 396.0h1.5M591.2 425.7h1.5M592.1 421.3h1.5M599.9 399.3h1.5M593.2 426.8h1.5M602.4 415.8h1.5M597.2 427.9h1.5M586.8 390.5h1.5M614.0 391.6h1.5M591.2 415.8h1.5M580.0 432.3h1.5M599.9 416.9h1.5M587.3 394.9h1.5M591.3 397.1h1.5M586.8 426.8h1.5M588.4 405.9h1.5M611.2 400.4h1.5M584.2 396.0h1.5M599.3 429.0h1.5M601.9 414.7h1.5M592.8 397.1h1.5M593.3 415.8h1.5M604.6 394.9h1.5M588.3 423.5h1.5M606.7 399.3h1.5M575.0 415.8h1.5M586.5 394.9h1.5M579.5 425.7h1.5M575.1 411.4h1.5M585.6 393.8h1.5M578.8 413.6h1.5M600.4 392.7h1.5M619.0 389.4h1.5M594.1 409.2h1.5M581.5 426.8h1.5M605.7 413.6h1.5M585.4 393.8h1.5M580.1 432.3h1.5M596.3 401.5h1.5M590.0 397.1h1.5M615.6 404.8h1.5M580.2 411.4h1.5M585.9 422.4h1.5M586.0 399.3h1.5M584.6 408.1h1.5M595.7 411.4h1.5M572.5 413.6h1.5M591.9 412.5h1.5M593.3 423.5h1.5M606.0 416.9h1.5M609.5 400.4h1.5M587.9 390.5h1.5M598.5 419.1h1.5M572.5 405.9h1.5M600.8 407.0h1.5M587.5 427.9h1.5M587.3 394.9h1.5M571.9 388.3h1.5M579.0 425.7h1.5M596.1 410.3h1.5M590.1 407.0h1.5M598.7 420.2h1.5M573.1 414.7h1.5M582.9 392.7h1.5M590.0 394.9h1.5M585.5 410.3h1.5M605.1 402.6h1.5M611.4 403.7h1.5M583.7 420.2h1.5M578.0 414.7h1.5M584.6 419.1h1.5M605.2 404.8h1.5M594.5 420.2h1.5M588.6 415.8h1.5M592.4 424.6h1.5M581.7 407.0h1.5M599.9 415.8h1.5M609.1 391.6h1.5M600.4 413.6h1.5M614.1 399.3h1.5M599.3 419.1h1.5M590.8 423.5h1.5M605.0 400.4h1.5M588.8 420.2h1.5M584.9 411.4h1.5M574.8 394.9h1.5M593.5 397.1h1.5M613.2 398.2h1.5M604.0 403.7h1.5M601.9 422.4h1.5M610.3 404.8h1.5M584.1 431.2h1.5M587.8 419.1h1.5M584.7 416.9h1.5M586.2 402.6h1.5M582.9 429.0h1.5M581.4 419.1h1.5M600.6 393.8h1.5M593.1 404.8h1.5M608.9 396.0h1.5" stroke="#151515" stroke-width="1.10" stroke-linecap="square" fill="none" opacity="0.85"/>
<path d="M653.3 391.6h3M654.6 368.5h3M643.3 386.1h3M655.6 374.0h3M647.4 368.5h3M646.1 376.2h3M642.8 388.3h3M655.2 383.9h3M649.8 349.8h3M651.9 397.1h3M645.3 385.0h3M646.8 380.6h3M650.0 367.4h3M643.3 372.9h3M647.1 371.8h3M651.0 337.7h3M649.0 376.2h3M652.1 391.6h3M645.0 392.7h3M647.8 365.2h3M648.1 381.7h3M644.8 392.7h3M644.4 382.8h3M656.7 389.4h3M648.8 371.8h3M654.8 392.7h3M644.1 385.0h3M648.8 337.7h3M646.7 343.2h3M657.0 377.3h3M653.2 342.1h3M654.1 392.7h3M654.9 383.9h3M650.2 349.8h3M647.8 379.5h3M653.8 388.3h3M650.8 366.3h3M652.8 355.3h3M652.3 370.7h3M649.3 372.9h3M642.5 376.2h3M652.5 369.6h3M645.5 379.5h3M648.9 367.4h3M647.8 355.3h3M652.9 356.4h3M652.8 346.5h3M654.9 359.7h3M653.1 386.1h3M651.2 353.1h3M649.7 371.8h3M645.0 381.7h3M645.0 397.1h3M648.8 386.1h3M653.0 359.7h3M645.3 350.9h3M647.6 342.1h3M659.0 386.1h3M643.9 372.9h3M644.0 365.2h3M652.7 366.3h3M647.4 356.4h3M651.9 369.6h3M657.9 358.6h3M647.5 369.6h3M650.4 347.6h3M650.0 368.5h3M649.7 376.2h3M652.1 388.3h3M644.5 361.9h3M643.6 390.5h3M661.3 393.8h3M653.0 385.0h3M647.7 342.1h3M656.4 367.4h3M652.1 359.7h3M651.2 356.4h3M655.9 370.7h3M651.4 363.0h3M642.8 380.6h3M653.6 375.1h3M656.7 379.5h3M643.7 382.8h3M650.1 386.1h3M649.3 371.8h3M654.8 377.3h3M653.0 364.1h3M657.9 365.2h3M656.7 365.2h3M657.8 370.7h3M650.7 391.6h3M652.1 382.8h3M643.9 386.1h3M652.1 357.5h3M648.0 380.6h3M641.8 379.5h3M654.1 348.7h3M644.0 391.6h3M656.5 354.2h3M647.6 385.0h3M644.1 349.8h3M652.0 367.4h3M647.2 371.8h3M650.0 367.4h3M655.3 370.7h3M651.7 358.6h3M649.5 358.6h3M654.2 347.6h3M647.9 382.8h3M644.4 392.7h3M656.7 388.3h3M655.7 374.0h3M656.7 367.4h3M647.3 383.9h3M652.6 350.9h3M652.7 345.4h3M649.4 378.4h3M650.9 386.1h3M646.6 356.4h3M644.5 380.6h3M643.5 339.9h3M648.2 361.9h3M647.8 391.6h3M646.6 361.9h3M648.8 359.7h3M648.8 342.1h3M653.4 348.7h3M646.0 343.2h3M648.5 376.2h3M655.7 390.5h3M655.0 387.2h3M655.2 389.4h3M648.7 372.9h3M656.1 348.7h3M654.5 383.9h3M644.3 367.4h3M645.2 361.9h3M655.7 379.5h3M643.2 391.6h3M652.1 385.0h3M654.0 385.0h3M655.9 361.9h3M649.5 385.0h3M647.0 386.1h3M650.9 394.9h3M653.7 354.2h3M648.7 380.6h3M650.5 382.8h3M650.8 352.0h3M654.5 354.2h3M643.1 339.9h3M650.7 385.0h3M652.8 366.3h3M649.9 365.2h3M653.1 385.0h3M654.4 391.6h3M646.7 382.8h3M655.0 363.0h3M647.6 356.4h3M652.7 389.4h3M651.2 383.9h3M649.9 368.5h3M652.0 347.6h3M654.4 376.2h3M644.1 374.0h3M650.4 352.0h3M649.9 376.2h3M646.6 371.8h3M648.2 388.3h3M656.0 372.9h3M647.4 368.5h3M652.5 357.5h3M658.0 388.3h3M647.2 388.3h3M646.4 343.2h3M643.7 390.5h3M652.1 380.6h3M646.9 349.8h3M646.7 387.2h3M652.3 369.6h3M640.9 390.5h3M644.2 350.9h3M658.8 382.8h3M649.2 368.5h3M649.7 379.5h3M647.9 391.6h3M649.5 358.6h3M655.3 361.9h3M645.3 389.4h3M650.1 370.7h3M654.2 358.6h3M651.8 383.9h3M656.2 359.7h3M651.4 360.8h3M649.2 375.1h3M651.7 392.7h3M637.1 390.5h3M649.5 353.1h3M647.9 358.6h3M650.3 367.4h3M641.3 392.7h3M657.0 385.0h3M647.4 388.3h3M646.5 335.5h3M650.7 358.6h3M654.6 352.0h3M653.9 386.1h3M647.9 376.2h3M658.2 372.9h3M647.1 393.8h3M652.4 339.9h3M653.5 380.6h3M646.6 356.4h3M648.0 357.5h3M647.2 375.1h3M649.2 350.9h3M653.1 350.9h3M644.1 345.4h3M654.7 374.0h3M647.1 353.1h3M646.1 377.3h3M648.8 344.3h3M651.6 365.2h3M644.8 396.0h3M651.3 368.5h3M653.5 361.9h3M657.0 385.0h3M657.0 380.6h3M645.0 361.9h3M652.7 382.8h3M647.3 370.7h3M653.2 342.1h3M647.7 347.6h3M656.6 392.7h3M648.8 358.6h3M642.0 390.5h3M648.3 339.9h3M644.2 341.0h3M648.4 369.6h3M648.3 339.9h3M649.5 337.7h3M645.7 387.2h3M656.7 367.4h3M656.1 387.2h3M645.2 383.9h3M648.5 374.0h3M651.3 397.1h3M653.0 352.0h3M643.8 392.7h3M652.5 355.3h3M648.1 353.1h3M643.1 390.5h3M649.4 366.3h3M649.5 348.7h3M654.6 339.9h3M645.8 376.2h3M645.0 357.5h3M652.1 387.2h3M655.6 353.1h3M651.1 393.8h3M658.2 394.9h3M656.0 364.1h3M655.5 357.5h3M649.7 382.8h3M653.7 360.8h3M649.3 339.9h3M641.7 388.3h3M652.4 382.8h3M646.7 376.2h3M653.1 347.6h3M654.2 359.7h3M655.9 386.1h3M655.1 383.9h3M656.5 355.3h3M646.6 345.4h3M652.6 344.3h3M648.7 365.2h3M649.5 359.7h3M654.7 355.3h3M647.5 376.2h3M640.7 392.7h3M654.0 371.8h3M648.0 352.0h3M644.5 387.2h3M645.8 365.2h3M654.9 392.7h3M649.9 364.1h3M653.9 374.0h3M651.1 367.4h3M643.2 388.3h3M655.1 350.9h3M647.2 363.0h3M656.8 365.2h3M656.8 371.8h3M645.4 385.0h3M650.8 349.8h3M646.1 387.2h3M647.1 383.9h3M655.6 363.0h3M651.4 343.2h3M646.9 397.1h3M647.8 380.6h3M643.8 397.1h3M643.3 380.6h3M648.4 349.8h3M653.9 361.9h3M644.0 379.5h3M655.3 361.9h3M649.6 393.8h3M641.7 378.4h3M652.2 370.7h3M657.5 392.7h3M654.4 343.2h3M650.2 370.7h3M658.5 380.6h3M645.9 364.1h3M647.9 364.1h3M652.4 379.5h3M650.7 361.9h3M646.7 358.6h3M650.6 365.2h3M652.1 371.8h3M644.4 387.2h3M649.1 389.4h3M652.4 364.1h3M657.3 368.5h3M653.7 393.8h3M655.3 387.2h3M651.5 379.5h3M642.2 387.2h3M656.7 377.3h3M652.9 352.0h3M651.0 349.8h3M653.0 392.7h3M649.1 372.9h3M639.3 378.4h3M652.3 359.7h3M655.8 390.5h3M647.1 336.6h3M655.0 372.9h3M649.0 371.8h3M645.1 381.7h3M652.9 363.0h3M652.7 342.1h3M646.2 375.1h3M644.8 382.8h3M653.4 354.2h3M657.2 385.0h3M649.9 396.0h3M650.7 358.6h3M646.4 390.5h3M656.2 388.3h3M653.7 386.1h3M647.9 359.7h3M650.2 359.7h3M653.0 381.7h3M650.2 385.0h3M651.5 354.2h3M654.3 387.2h3M655.9 376.2h3M654.6 350.9h3M652.8 342.1h3M648.4 394.9h3M655.8 386.1h3M643.5 344.3h3M644.6 389.4h3M652.6 367.4h3M655.2 392.7h3M647.5 364.1h3M650.1 375.1h3M648.7 366.3h3M656.1 371.8h3M650.3 364.1h3M657.0 371.8h3M654.6 368.5h3M648.4 378.4h3M657.1 352.0h3M654.4 339.9h3M652.8 382.8h3M641.2 336.6h3M646.8 336.6h3M653.6 359.7h3M649.7 375.1h3M650.0 359.7h3M654.8 347.6h3M646.6 359.7h3M650.4 345.4h3M649.8 379.5h3M657.9 353.1h3M647.1 341.0h3M661.4 392.7h3M643.0 381.7h3M655.1 386.1h3M651.4 365.2h3M652.8 353.1h3M660.1 386.1h3M646.1 369.6h3M652.4 338.8h3M655.9 386.1h3M656.2 342.1h3M649.4 387.2h3M647.5 378.4h3M644.8 366.3h3M648.1 366.3h3M654.1 345.4h3M654.9 344.3h3M655.4 391.6h3M658.2 368.5h3M648.4 393.8h3M648.2 347.6h3M653.2 349.8h3M651.4 386.1h3M647.1 396.0h3M650.7 378.4h3M646.8 394.9h3M649.1 392.7h3M645.1 394.9h3" stroke="#101010" stroke-width="1.10" stroke-linecap="square" fill="none" opacity="0.90"/>
<path d="M639.0 332.2h1.5M649.9 331.1h1.5M576.2 325.6h1.5M599.7 332.2h1.5M595.6 331.1h1.5M631.6 333.3h1.5M644.5 334.4h1.5M646.6 325.6h1.5M645.1 324.5h1.5M595.9 324.5h1.5M573.9 337.7h1.5M628.6 335.5h1.5M578.9 339.9h1.5M587.2 336.6h1.5M581.8 333.3h1.5M582.1 334.4h1.5M583.7 334.4h1.5M585.7 330.0h1.5M571.6 335.5h1.5M602.1 335.5h1.5M572.0 331.1h1.5M624.1 332.2h1.5M578.1 330.0h1.5M646.0 327.8h1.5M574.6 333.3h1.5M626.4 326.7h1.5M615.5 333.3h1.5M636.9 330.0h1.5M618.1 334.4h1.5M641.9 333.3h1.5M601.1 332.2h1.5M611.9 326.7h1.5M643.4 335.5h1.5M645.2 325.6h1.5M583.3 326.7h1.5M628.7 334.4h1.5M637.6 332.2h1.5M608.0 328.9h1.5M607.8 328.9h1.5M597.2 328.9h1.5M581.3 330.0h1.5M634.5 331.1h1.5M630.5 326.7h1.5M620.5 335.5h1.5M573.3 332.2h1.5M609.9 330.0h1.5M636.1 328.9h1.5M585.3 333.3h1.5M594.8 330.0h1.5M630.7 325.6h1.5M597.9 331.1h1.5M605.6 326.7h1.5M578.5 334.4h1.5M584.1 331.1h1.5M636.1 330.0h1.5M603.5 323.4h1.5M593.1 327.8h1.5M577.4 337.7h1.5M644.4 328.9h1.5M649.7 331.1h1.5M637.1 331.1h1.5M588.9 331.1h1.5M592.4 336.6h1.5M648.2 335.5h1.5M600.0 332.2h1.5M603.9 327.8h1.5M583.6 333.3h1.5M610.0 331.1h1.5M633.2 325.6h1.5M581.7 332.2h1.5M637.4 325.6h1.5M593.0 330.0h1.5M627.6 335.5h1.5M634.7 335.5h1.5M590.4 330.0h1.5M637.5 327.8h1.5M646.6 334.4h1.5M601.0 334.4h1.5M621.2 333.3h1.5M604.8 334.4h1.5M583.5 332.2h1.5M586.4 333.3h1.5M589.4 332.2h1.5M602.8 335.5h1.5M631.3 328.9h1.5M601.2 325.6h1.5M576.7 332.2h1.5M616.1 330.0h1.5M627.5 326.7h1.5M621.4 327.8h1.5M610.0 331.1h1.5M593.4 330.0h1.5M628.1 326.7h1.5M582.8 332.2h1.5M647.0 332.2h1.5M591.1 327.8h1.5M591.9 328.9h1.5M645.0 330.0h1.5M625.1 326.7h1.5M641.3 324.5h1.5M581.5 325.6h1.5M617.7 328.9h1.5M645.6 332.2h1.5M614.8 327.8h1.5M573.3 327.8h1.5M571.3 333.3h1.5M638.6 331.1h1.5M626.6 327.8h1.5M598.7 328.9h1.5M596.0 332.2h1.5M646.4 328.9h1.5M591.1 330.0h1.5M597.3 330.0h1.5M604.0 335.5h1.5M627.7 330.0h1.5M599.3 333.3h1.5M623.1 328.9h1.5M599.4 331.1h1.5M602.6 330.0h1.5M617.1 325.6h1.5M606.6 326.7h1.5M630.0 335.5h1.5M633.4 326.7h1.5M604.0 330.0h1.5M577.5 331.1h1.5M614.7 335.5h1.5M616.3 327.8h1.5M609.1 327.8h1.5M641.3 325.6h1.5M612.0 332.2h1.5M624.7 323.4h1.5M642.5 330.0h1.5M577.4 334.4h1.5M624.9 331.1h1.5M609.3 332.2h1.5M579.4 327.8h1.5M625.9 325.6h1.5M585.2 333.3h1.5M619.1 330.0h1.5M585.2 334.4h1.5M571.4 332.2h1.5M624.3 332.2h1.5M586.9 325.6h1.5M631.7 334.4h1.5M569.6 331.1h1.5M641.9 332.2h1.5M620.1 334.4h1.5M588.8 331.1h1.5M632.0 334.4h1.5M574.2 326.7h1.5M618.9 332.2h1.5M645.1 331.1h1.5M624.4 328.9h1.5M603.6 333.3h1.5M590.1 333.3h1.5M635.7 335.5h1.5M630.0 332.2h1.5M582.6 331.1h1.5M602.6 332.2h1.5M579.6 334.4h1.5M623.6 331.1h1.5M575.3 332.2h1.5M638.6 334.4h1.5M634.7 336.6h1.5M631.7 330.0h1.5M619.5 330.0h1.5M631.1 336.6h1.5M634.1 334.4h1.5M581.3 328.9h1.5M650.1 331.1h1.5M642.0 323.4h1.5M586.7 331.1h1.5M646.2 334.4h1.5M615.7 338.8h1.5M621.8 336.6h1.5M643.8 330.0h1.5M593.3 332.2h1.5M624.0 327.8h1.5M641.1 330.0h1.5M628.9 328.9h1.5M578.6 330.0h1.5M646.1 325.6h1.5M620.7 328.9h1.5M626.7 328.9h1.5M635.0 326.7h1.5M582.2 330.0h1.5M574.4 330.0h1.5M615.9 331.1h1.5M596.3 328.9h1.5M589.8 335.5h1.5M574.9 330.0h1.5M588.9 331.1h1.5M592.5 331.1h1.5M624.7 325.6h1.5M577.4 334.4h1.5M648.4 331.1h1.5M573.0 328.9h1.5M627.3 328.9h1.5M631.7 336.6h1.5M600.9 326.7h1.5M584.0 335.5h1.5M582.5 327.8h1.5M615.0 333.3h1.5M633.1 328.9h1.5M641.2 333.3h1.5M598.2 328.9h1.5M578.5 334.4h1.5M627.5 335.5h1.5M638.0 331.1h1.5M589.1 326.7h1.5M578.5 334.4h1.5M632.7 332.2h1.5M646.3 327.8h1.5M605.9 335.5h1.5M599.1 326.7h1.5M583.0 328.9h1.5M637.7 333.3h1.5M633.2 332.2h1.5M608.7 330.0h1.5M618.0 328.9h1.5M606.4 332.2h1.5M600.4 335.5h1.5M589.8 326.7h1.5M600.8 327.8h1.5M586.6 326.7h1.5M613.9 330.0h1.5M583.3 333.3h1.5M634.8 334.4h1.5M646.1 336.6h1.5M590.8 331.1h1.5M584.7 333.3h1.5M629.6 332.2h1.5M635.4 333.3h1.5M634.7 330.0h1.5M632.5 335.5h1.5M621.7 325.6h1.5M622.0 334.4h1.5M635.1 326.7h1.5M609.2 331.1h1.5M589.5 325.6h1.5M596.1 326.7h1.5M590.9 330.0h1.5M645.6 328.9h1.5M612.9 326.7h1.5M638.1 326.7h1.5M595.3 330.0h1.5M609.9 334.4h1.5M615.4 330.0h1.5M586.4 325.6h1.5M599.6 326.7h1.5M581.9 331.1h1.5M584.3 334.4h1.5M604.2 332.2h1.5M618.6 327.8h1.5M611.9 322.3h1.5M590.4 332.2h1.5M612.1 334.4h1.5M592.2 326.7h1.5M590.9 332.2h1.5M607.8 336.6h1.5M579.8 336.6h1.5M619.0 333.3h1.5M580.9 330.0h1.5M589.5 331.1h1.5M575.9 333.3h1.5M577.2 326.7h1.5M641.7 333.3h1.5M595.6 338.8h1.5M608.5 332.2h1.5M585.5 332.2h1.5M635.2 325.6h1.5M597.0 328.9h1.5M620.6 332.2h1.5M636.1 333.3h1.5M606.4 327.8h1.5M640.9 326.7h1.5M609.4 328.9h1.5M631.3 327.8h1.5M570.4 334.4h1.5M576.7 334.4h1.5M596.1 326.7h1.5M603.2 335.5h1.5M632.5 333.3h1.5M643.0 332.2h1.5M639.3 332.2h1.5M615.4 324.5h1.5M618.0 327.8h1.5M629.4 334.4h1.5M646.2 327.8h1.5M647.7 328.9h1.5M599.9 339.9h1.5M621.9 335.5h1.5M601.9 327.8h1.5M582.3 334.4h1.5M641.7 326.7h1.5M633.8 335.5h1.5M568.8 330.0h1.5M578.9 337.7h1.5M573.1 325.6h1.5M602.8 332.2h1.5M625.4 327.8h1.5M586.4 335.5h1.5M579.4 336.6h1.5M615.1 328.9h1.5M624.9 334.4h1.5M606.4 328.9h1.5M626.1 325.6h1.5M637.1 328.9h1.5M633.8 334.4h1.5M604.6 327.8h1.5M578.5 333.3h1.5M635.3 324.5h1.5M619.8 328.9h1.5M644.9 334.4h1.5M606.1 323.4h1.5M609.2 334.4h1.5M588.7 328.9h1.5M578.8 331.1h1.5M585.0 326.7h1.5M636.7 332.2h1.5" stroke="#151515" stroke-width="1.10" stroke-linecap="square" fill="none" opacity="0.85"/>
<path d="M563.5 353.0h0M577.6 378.3h0M568.9 385.9h0M556.7 356.9h0M550.5 364.0h0M566.6 371.6h0M544.2 360.9h0M575.1 334.8h0M549.1 362.1h0M571.1 370.4h0M569.2 352.7h0M551.9 354.4h0M565.0 368.6h0M548.5 377.9h0M545.2 348.6h0M539.6 373.9h0M550.1 376.4h0M546.6 363.9h0M539.9 369.9h0M543.9 350.4h0M554.3 378.3h0M559.5 356.6h0M541.7 358.6h0M571.9 370.4h0M554.7 341.6h0M570.9 387.3h0M558.3 361.2h0M541.2 369.0h0M551.5 382.9h0M568.8 346.8h0M569.9 362.7h0M558.0 386.3h0M542.6 366.8h0M553.3 347.0h0M548.1 366.5h0M536.4 364.1h0M562.9 382.3h0M552.1 360.5h0M557.5 359.2h0M566.0 350.5h0M557.1 346.8h0M564.1 342.7h0M562.4 370.9h0M564.3 358.6h0M568.5 340.6h0M562.1 365.8h0M548.0 377.3h0M579.4 372.2h0M562.1 337.0h0M546.1 349.8h0M580.0 382.2h0M562.2 358.7h0M561.5 374.7h0M563.1 358.1h0M554.8 372.6h0M534.6 367.3h0M557.2 333.0h0M554.1 354.2h0M563.1 381.1h0M574.7 377.1h0M539.1 368.7h0M552.4 375.2h0M552.6 356.2h0M572.3 382.9h0M561.6 360.6h0M576.3 347.9h0M559.7 387.4h0M558.9 357.4h0M553.1 388.4h0M551.6 348.8h0M565.1 364.6h0M572.4 389.3h0M559.8 353.3h0M556.8 370.6h0M552.5 368.7h0M566.6 363.0h0M561.6 384.1h0M569.5 375.7h0M591.9 399.1h0M584.8 420.8h0M580.2 419.8h0M573.2 405.9h0M596.6 417.1h0M606.6 406.4h0M603.8 406.2h0M576.1 403.4h0M604.8 405.7h0M600.4 414.9h0M599.1 411.3h0M606.5 399.5h0M592.2 429.1h0M595.8 401.3h0M585.8 431.5h0M598.4 423.6h0M583.9 408.6h0M584.3 422.5h0M578.5 395.6h0M598.8 393.8h0M573.2 394.2h0M576.3 395.5h0M607.4 398.6h0M597.9 403.9h0M610.2 415.7h0M606.5 425.2h0M588.6 401.1h0M608.1 404.9h0M574.7 401.3h0M586.9 407.2h0M594.8 414.8h0M594.2 395.9h0M591.6 402.4h0M573.2 387.0h0M606.1 406.5h0M599.8 423.3h0M578.5 393.6h0M583.3 395.7h0M593.4 392.7h0M607.5 405.8h0M597.8 330.1h0M586.3 335.9h0M598.2 329.5h0M590.4 330.8h0M624.1 325.3h0M585.9 334.8h0M611.1 323.0h0M600.6 325.3h0M617.2 330.8h0M596.8 325.0h0M593.5 332.3h0M625.0 332.4h0M583.3 332.6h0M603.2 334.8h0M598.5 334.2h0M606.8 331.6h0M644.5 335.0h0M594.9 334.1h0M583.0 336.2h0M611.6 332.3h0M605.6 327.2h0M603.0 330.3h0M650.2 327.3h0M577.5 330.4h0M611.6 330.4h0M569.9 336.0h0M640.8 329.9h0M645.3 327.8h0M578.6 332.3h0M590.5 327.1h0M580.9 332.4h0M571.4 334.4h0M607.5 331.2h0M578.8 332.3h0M646.0 329.1h0M640.2 326.1h0M619.9 329.8h0M618.5 331.8h0M577.2 334.6h0M589.9 333.4h0M585.9 328.3h0M648.4 337.1h0M647.7 330.4h0M568.8 330.9h0M608.2 333.9h0M615.7 335.1h0M640.2 324.5h0M608.9 330.4h0M582.7 333.2h0M648.3 332.1h0M580.6 333.6h0M582.9 333.0h0M588.6 331.9h0M579.1 334.3h0M610.2 333.2h0M635.1 324.9h0M593.7 331.1h0M646.5 332.0h0M573.7 331.3h0M641.0 333.5h0M577.1 328.8h0M584.7 328.4h0M629.2 332.0h0M606.8 329.7h0M579.4 334.9h0M634.8 328.0h0M577.6 329.7h0M636.0 331.0h0M587.4 332.8h0M587.1 328.4h0M641.8 337.2h0M572.3 330.1h0M635.4 329.6h0M603.5 333.4h0M598.1 329.5h0M624.5 338.0h0M574.5 329.2h0M629.3 327.5h0M572.8 332.7h0M584.4 329.2h0" stroke="#ff3322" stroke-width="1.80" stroke-linecap="round" fill="none" opacity="0.80"/>
<path d="M580.9 337.8L578.0 345.8L577.0 364.9L579.8 387.7L586.1 391.9L599.8 391.0L619.7 390.0L637.6 388.3L641.0 369.5L642.9 346.5L640.0 337.7L624.8 336.0L600.2 336.0L580.9 337.8Z" fill="#060606" fill-rule="evenodd" opacity="1.00"/>
<path d="M581.0 335.5h1.5M589.5 389.4h1.5M577.0 386.1h1.5M635.2 335.5h1.5M600.1 350.9h1.5M627.8 367.4h1.5M592.3 357.5h1.5M587.5 359.7h1.5M574.4 347.6h1.5M642.4 353.1h1.5M601.5 361.9h1.5M620.1 359.7h1.5M617.0 379.5h1.5M633.2 370.7h1.5M628.6 332.2h1.5M635.8 365.2h1.5M632.7 377.3h1.5M593.6 364.1h1.5M600.6 359.7h1.5M576.0 346.5h1.5M582.6 383.9h1.5M592.7 374.0h1.5M611.2 381.7h1.5M622.8 342.1h1.5M577.0 367.4h1.5M625.5 396.0h1.5M595.3 379.5h1.5M585.6 391.6h1.5M589.2 377.3h1.5M587.5 338.8h1.5M578.5 361.9h1.5M608.4 359.7h1.5M591.5 370.7h1.5M617.3 375.1h1.5M592.9 380.6h1.5M644.7 357.5h1.5M592.1 339.9h1.5M616.2 368.5h1.5M606.7 352.0h1.5M630.7 381.7h1.5M627.2 349.8h1.5M591.8 385.0h1.5M581.1 344.3h1.5M620.8 354.2h1.5M585.8 332.2h1.5M593.2 337.7h1.5M582.0 368.5h1.5M596.1 366.3h1.5M601.5 350.9h1.5M598.9 349.8h1.5M594.6 368.5h1.5M638.8 344.3h1.5M632.3 387.2h1.5M616.5 344.3h1.5M593.2 386.1h1.5M620.2 364.1h1.5M615.4 338.8h1.5M620.6 388.3h1.5M625.9 335.5h1.5M638.7 388.3h1.5M583.6 343.2h1.5M578.5 379.5h1.5M618.1 341.0h1.5M603.8 333.3h1.5M582.5 343.2h1.5M597.5 344.3h1.5M644.4 358.6h1.5M589.4 391.6h1.5M584.7 391.6h1.5M640.2 352.0h1.5M600.5 344.3h1.5M585.1 369.6h1.5M607.0 371.8h1.5M633.3 390.5h1.5M589.2 339.9h1.5M585.0 363.0h1.5M616.0 366.3h1.5M576.5 367.4h1.5M589.5 352.0h1.5M594.9 347.6h1.5M628.4 354.2h1.5M576.7 379.5h1.5M595.4 359.7h1.5M583.8 363.0h1.5M639.5 367.4h1.5M610.9 366.3h1.5M597.1 359.7h1.5M608.7 344.3h1.5M599.2 359.7h1.5M635.1 342.1h1.5M627.5 368.5h1.5M604.2 347.6h1.5M579.3 356.4h1.5M593.7 376.2h1.5M628.6 390.5h1.5M603.3 360.8h1.5M595.3 342.1h1.5M585.2 389.4h1.5M645.6 381.7h1.5M607.2 390.5h1.5M609.3 380.6h1.5M619.3 349.8h1.5M622.2 379.5h1.5M594.4 366.3h1.5M615.5 342.1h1.5M593.1 370.7h1.5M621.9 387.2h1.5M623.3 364.1h1.5M607.1 385.0h1.5M615.3 341.0h1.5M580.4 358.6h1.5M621.8 334.4h1.5M616.0 374.0h1.5M597.2 357.5h1.5M622.2 378.4h1.5M590.4 379.5h1.5M599.1 397.1h1.5M597.6 341.0h1.5M617.2 386.1h1.5M616.0 386.1h1.5M591.6 341.0h1.5M580.4 343.2h1.5M617.8 353.1h1.5M593.8 337.7h1.5M640.3 352.0h1.5M638.1 352.0h1.5M583.2 371.8h1.5M577.2 347.6h1.5M602.6 375.1h1.5M642.4 372.9h1.5M578.3 361.9h1.5M577.9 357.5h1.5M615.4 390.5h1.5M638.9 359.7h1.5M572.0 338.8h1.5M575.2 374.0h1.5M630.4 365.2h1.5M615.5 394.9h1.5M632.6 355.3h1.5M595.1 368.5h1.5M604.1 363.0h1.5M575.5 381.7h1.5M579.4 343.2h1.5M597.3 341.0h1.5M588.7 378.4h1.5M589.7 392.7h1.5M633.3 344.3h1.5M587.0 363.0h1.5M626.2 387.2h1.5M592.5 358.6h1.5M591.7 376.2h1.5M638.0 381.7h1.5M590.6 347.6h1.5M617.2 338.8h1.5M632.8 385.0h1.5M577.8 390.5h1.5M598.5 366.3h1.5M592.3 346.5h1.5M626.2 389.4h1.5M613.2 357.5h1.5M632.7 359.7h1.5M590.1 348.7h1.5M576.1 350.9h1.5M633.0 353.1h1.5M588.7 386.1h1.5M609.8 338.8h1.5M591.4 338.8h1.5M594.5 371.8h1.5M606.8 349.8h1.5M595.7 375.1h1.5M612.3 339.9h1.5M641.5 348.7h1.5M595.0 369.6h1.5M638.5 343.2h1.5M602.6 392.7h1.5M583.4 388.3h1.5M576.4 357.5h1.5M612.1 380.6h1.5M634.1 375.1h1.5M615.1 358.6h1.5M616.9 363.0h1.5M576.1 361.9h1.5M597.6 331.1h1.5M643.8 358.6h1.5M634.0 383.9h1.5M615.0 376.2h1.5M640.5 346.5h1.5M574.9 345.4h1.5M631.6 332.2h1.5M617.1 357.5h1.5M597.6 360.8h1.5M594.3 356.4h1.5M582.2 339.9h1.5M621.1 380.6h1.5M592.9 355.3h1.5M586.2 354.2h1.5M587.6 377.3h1.5M635.3 357.5h1.5M597.0 356.4h1.5M615.4 393.8h1.5M592.6 346.5h1.5M607.6 343.2h1.5M606.2 334.4h1.5M597.2 358.6h1.5M605.0 368.5h1.5M627.6 361.9h1.5M603.6 357.5h1.5M575.9 344.3h1.5M612.1 345.4h1.5M636.6 388.3h1.5M583.2 355.3h1.5M582.9 332.2h1.5M615.0 365.2h1.5M631.3 368.5h1.5M607.9 363.0h1.5M579.5 386.1h1.5M605.6 378.4h1.5M634.4 369.6h1.5M622.9 380.6h1.5M610.5 358.6h1.5M617.7 380.6h1.5M609.1 328.9h1.5M620.2 366.3h1.5M639.3 382.8h1.5M627.0 336.6h1.5M593.8 354.2h1.5M623.6 382.8h1.5M600.0 393.8h1.5M594.8 368.5h1.5M623.8 360.8h1.5M593.0 370.7h1.5M596.8 363.0h1.5M600.2 327.8h1.5M651.0 357.5h1.5M597.1 342.1h1.5M605.7 361.9h1.5M599.1 370.7h1.5M606.4 358.6h1.5M599.0 380.6h1.5M625.4 344.3h1.5M640.5 344.3h1.5M580.7 363.0h1.5M613.6 341.0h1.5M597.1 379.5h1.5M633.0 380.6h1.5M605.6 354.2h1.5M607.1 361.9h1.5M580.4 372.9h1.5M635.6 336.6h1.5M572.7 387.2h1.5M603.1 388.3h1.5M621.6 356.4h1.5M585.3 380.6h1.5M640.1 343.2h1.5M590.0 389.4h1.5M625.3 371.8h1.5M620.1 343.2h1.5M616.1 346.5h1.5M584.5 366.3h1.5M615.2 366.3h1.5M618.9 357.5h1.5M580.8 386.1h1.5M644.3 345.4h1.5M611.1 388.3h1.5M623.3 353.1h1.5M640.3 364.1h1.5M582.2 341.0h1.5M580.4 382.8h1.5M584.4 354.2h1.5M584.7 337.7h1.5M626.3 378.4h1.5M600.8 361.9h1.5M603.6 348.7h1.5M640.9 381.7h1.5M642.4 345.4h1.5M609.4 349.8h1.5M641.0 346.5h1.5M582.1 361.9h1.5M584.4 361.9h1.5M613.3 364.1h1.5M581.5 386.1h1.5M644.1 357.5h1.5M644.3 333.3h1.5M613.2 335.5h1.5M590.2 333.3h1.5M609.8 390.5h1.5M588.2 346.5h1.5M619.4 370.7h1.5M579.0 375.1h1.5M582.3 378.4h1.5M588.0 335.5h1.5M628.6 365.2h1.5M609.6 389.4h1.5M588.9 333.3h1.5M615.9 354.2h1.5M592.3 357.5h1.5M633.6 368.5h1.5M597.9 371.8h1.5M613.5 378.4h1.5M605.9 379.5h1.5M636.1 377.3h1.5M624.8 380.6h1.5M618.7 336.6h1.5M584.5 333.3h1.5M624.7 345.4h1.5M587.2 378.4h1.5M583.7 383.9h1.5M587.0 390.5h1.5M593.9 358.6h1.5M600.0 386.1h1.5M612.1 372.9h1.5M594.2 388.3h1.5M621.2 357.5h1.5M576.3 349.8h1.5M588.7 371.8h1.5M586.7 370.7h1.5M641.3 388.3h1.5M615.4 383.9h1.5M600.7 357.5h1.5M617.5 348.7h1.5M650.0 354.2h1.5M621.9 344.3h1.5M638.5 359.7h1.5M596.0 353.1h1.5M630.3 376.2h1.5M629.6 345.4h1.5M637.0 368.5h1.5M615.8 345.4h1.5M604.6 394.9h1.5M628.0 341.0h1.5M603.4 392.7h1.5M607.7 358.6h1.5M632.9 377.3h1.5M615.3 352.0h1.5M592.7 357.5h1.5M607.1 378.4h1.5M622.4 365.2h1.5M589.4 344.3h1.5M583.7 334.4h1.5M607.8 353.1h1.5M627.5 372.9h1.5M610.8 352.0h1.5M613.6 354.2h1.5M578.8 367.4h1.5M629.6 337.7h1.5M600.0 342.1h1.5M579.0 341.0h1.5M604.3 361.9h1.5M622.3 334.4h1.5M641.6 336.6h1.5M636.6 374.0h1.5M603.7 385.0h1.5M623.0 364.1h1.5M581.3 338.8h1.5M625.0 365.2h1.5M635.4 347.6h1.5M641.9 376.2h1.5M570.2 365.2h1.5M618.3 365.2h1.5M640.3 369.6h1.5M576.6 346.5h1.5M586.3 394.9h1.5M602.0 356.4h1.5M629.2 357.5h1.5M607.6 370.7h1.5M637.4 360.8h1.5M623.8 392.7h1.5M633.2 386.1h1.5M630.3 345.4h1.5M602.0 389.4h1.5M585.2 376.2h1.5M639.0 390.5h1.5M616.9 331.1h1.5M615.2 386.1h1.5M578.5 378.4h1.5M588.9 363.0h1.5M614.0 357.5h1.5M594.8 375.1h1.5M580.0 336.6h1.5M629.0 357.5h1.5M612.9 350.9h1.5M582.1 342.1h1.5M621.0 334.4h1.5M607.4 335.5h1.5M617.5 372.9h1.5M640.4 387.2h1.5M589.8 354.2h1.5M634.2 342.1h1.5M594.5 360.8h1.5M588.0 367.4h1.5M585.9 335.5h1.5M611.2 339.9h1.5M626.3 365.2h1.5M602.1 342.1h1.5M621.6 347.6h1.5M619.9 347.6h1.5M579.8 341.0h1.5M643.4 343.2h1.5M638.3 376.2h1.5M631.3 360.8h1.5M607.1 377.3h1.5M627.3 363.0h1.5M639.6 354.2h1.5M601.8 347.6h1.5M582.6 380.6h1.5M633.0 369.6h1.5M593.1 352.0h1.5M590.4 366.3h1.5M581.8 372.9h1.5M604.0 343.2h1.5M621.2 344.3h1.5M595.9 369.6h1.5M638.3 386.1h1.5M613.8 350.9h1.5M637.1 337.7h1.5M639.0 385.0h1.5M618.3 382.8h1.5M607.6 346.5h1.5M599.8 354.2h1.5M618.4 372.9h1.5M634.6 385.0h1.5M597.6 359.7h1.5M577.3 359.7h1.5M642.6 366.3h1.5M595.1 383.9h1.5M639.8 335.5h1.5M625.6 380.6h1.5M616.9 369.6h1.5M607.2 346.5h1.5M589.0 344.3h1.5M627.8 383.9h1.5M595.4 368.5h1.5M633.5 348.7h1.5M628.8 341.0h1.5M643.2 390.5h1.5M595.9 368.5h1.5M638.3 389.4h1.5M645.1 369.6h1.5M607.5 359.7h1.5M577.9 356.4h1.5M595.7 358.6h1.5M620.6 334.4h1.5M639.3 357.5h1.5M627.5 392.7h1.5M619.6 339.9h1.5M601.8 359.7h1.5M622.3 359.7h1.5M640.7 382.8h1.5M579.6 364.1h1.5M582.5 358.6h1.5M576.3 359.7h1.5M599.1 377.3h1.5M605.4 374.0h1.5M629.0 364.1h1.5M608.8 391.6h1.5M630.5 346.5h1.5M616.7 377.3h1.5M584.3 391.6h1.5M602.3 345.4h1.5M598.3 390.5h1.5M598.7 380.6h1.5M635.1 356.4h1.5M618.8 350.9h1.5M641.3 353.1h1.5M604.3 333.3h1.5M579.4 385.0h1.5M615.8 364.1h1.5M599.2 392.7h1.5M643.3 353.1h1.5M585.4 350.9h1.5M643.2 343.2h1.5M621.9 364.1h1.5M607.2 376.2h1.5M594.2 379.5h1.5M586.3 338.8h1.5M628.5 337.7h1.5M592.3 369.6h1.5M591.0 369.6h1.5M630.4 346.5h1.5M589.7 345.4h1.5M603.8 386.1h1.5M634.0 365.2h1.5M640.1 348.7h1.5M607.5 369.6h1.5M586.0 368.5h1.5M576.4 375.1h1.5M589.4 390.5h1.5M618.1 353.1h1.5M581.7 353.1h1.5M602.3 356.4h1.5M638.8 387.2h1.5M590.7 370.7h1.5M611.0 355.3h1.5M595.8 357.5h1.5M617.0 348.7h1.5M618.5 374.0h1.5M600.8 337.7h1.5M631.3 336.6h1.5M582.3 393.8h1.5M588.4 386.1h1.5M641.3 360.8h1.5M598.4 391.6h1.5M614.1 375.1h1.5M605.7 349.8h1.5M608.4 367.4h1.5M585.4 335.5h1.5M631.8 335.5h1.5M614.8 375.1h1.5M630.5 359.7h1.5M586.0 392.7h1.5M623.5 374.0h1.5M625.5 365.2h1.5M604.1 376.2h1.5M614.9 379.5h1.5M630.8 386.1h1.5M586.8 347.6h1.5M586.6 355.3h1.5M582.2 385.0h1.5M612.3 375.1h1.5M626.7 357.5h1.5M611.6 370.7h1.5M627.3 334.4h1.5M624.1 386.1h1.5M613.9 391.6h1.5M627.9 391.6h1.5M604.5 342.1h1.5M595.6 387.2h1.5M586.8 355.3h1.5M595.7 344.3h1.5M580.4 348.7h1.5M595.4 346.5h1.5M586.8 343.2h1.5M611.5 346.5h1.5M579.1 358.6h1.5M608.5 339.9h1.5M604.8 338.8h1.5M620.3 342.1h1.5M609.0 356.4h1.5M598.1 370.7h1.5M619.3 381.7h1.5M626.7 338.8h1.5M609.3 349.8h1.5M610.6 338.8h1.5M579.6 332.2h1.5M575.3 376.2h1.5M635.3 339.9h1.5M612.5 374.0h1.5M580.4 338.8h1.5M601.6 350.9h1.5M612.5 348.7h1.5M608.7 386.1h1.5M596.3 388.3h1.5M605.1 371.8h1.5M636.9 337.7h1.5M592.3 341.0h1.5M632.9 349.8h1.5M616.9 367.4h1.5M582.3 386.1h1.5M609.3 337.7h1.5M619.6 358.6h1.5M633.2 355.3h1.5M636.2 345.4h1.5M609.6 381.7h1.5M630.1 335.5h1.5M577.2 341.0h1.5M647.4 357.5h1.5M633.5 388.3h1.5M624.0 381.7h1.5M590.2 358.6h1.5M580.9 389.4h1.5M623.6 389.4h1.5M610.0 356.4h1.5M619.7 392.7h1.5M640.5 367.4h1.5M573.4 372.9h1.5M638.4 382.8h1.5M616.9 337.7h1.5M616.5 388.3h1.5M609.2 380.6h1.5M609.6 367.4h1.5M630.7 342.1h1.5M636.9 387.2h1.5M603.2 366.3h1.5M614.4 358.6h1.5M636.6 372.9h1.5M581.4 377.3h1.5M611.4 336.6h1.5M632.0 365.2h1.5M619.3 350.9h1.5M600.7 358.6h1.5M604.6 367.4h1.5M576.3 348.7h1.5M592.0 397.1h1.5M610.4 365.2h1.5M597.7 356.4h1.5M597.2 369.6h1.5M602.0 345.4h1.5M579.9 360.8h1.5M628.7 347.6h1.5M604.4 378.4h1.5M601.7 348.7h1.5M579.3 381.7h1.5M637.2 387.2h1.5M602.6 335.5h1.5M647.4 355.3h1.5M610.8 391.6h1.5M630.2 385.0h1.5M607.0 354.2h1.5M641.7 365.2h1.5M613.2 363.0h1.5M603.4 375.1h1.5M628.4 357.5h1.5M594.8 336.6h1.5M591.6 332.2h1.5M609.3 358.6h1.5M641.5 365.2h1.5M646.0 355.3h1.5M609.6 359.7h1.5M631.6 345.4h1.5M588.0 336.6h1.5M588.5 335.5h1.5M602.7 391.6h1.5M602.4 346.5h1.5M589.4 380.6h1.5M592.0 383.9h1.5M617.1 360.8h1.5M580.6 369.6h1.5M638.2 386.1h1.5M588.7 347.6h1.5M638.2 380.6h1.5M592.4 342.1h1.5M601.6 383.9h1.5M646.2 380.6h1.5M584.4 381.7h1.5M617.8 334.4h1.5M588.5 371.8h1.5M571.5 364.1h1.5M598.7 343.2h1.5M605.0 385.0h1.5M615.8 339.9h1.5M616.7 334.4h1.5M621.3 344.3h1.5M628.7 370.7h1.5M578.6 382.8h1.5M604.1 356.4h1.5M621.7 377.3h1.5M608.5 363.0h1.5M581.9 385.0h1.5M599.1 348.7h1.5M571.7 368.5h1.5M632.7 386.1h1.5M627.3 359.7h1.5M633.8 336.6h1.5M592.9 365.2h1.5M584.3 358.6h1.5M630.7 342.1h1.5M643.6 358.6h1.5M606.0 359.7h1.5M607.9 368.5h1.5M616.4 367.4h1.5M587.6 365.2h1.5M613.8 360.8h1.5M611.5 365.2h1.5M633.5 380.6h1.5M616.8 345.4h1.5M605.7 394.9h1.5M583.2 355.3h1.5M628.8 364.1h1.5M640.0 386.1h1.5M615.9 396.0h1.5M582.9 341.0h1.5M617.0 354.2h1.5M630.2 380.6h1.5M587.8 349.8h1.5M634.5 385.0h1.5M619.3 355.3h1.5M607.6 377.3h1.5M638.1 361.9h1.5M576.2 369.6h1.5M614.7 361.9h1.5M590.8 365.2h1.5M604.6 335.5h1.5M604.6 382.8h1.5M632.5 353.1h1.5M595.1 355.3h1.5M612.0 383.9h1.5M627.6 372.9h1.5M580.8 337.7h1.5M599.0 376.2h1.5M575.1 367.4h1.5M589.7 371.8h1.5M641.9 360.8h1.5M589.4 341.0h1.5M628.2 393.8h1.5M632.4 365.2h1.5M580.7 338.8h1.5M594.7 345.4h1.5M587.0 361.9h1.5M644.3 356.4h1.5M618.2 347.6h1.5M589.5 365.2h1.5M627.0 356.4h1.5M611.8 387.2h1.5M583.9 379.5h1.5M623.6 333.3h1.5M609.1 344.3h1.5M612.1 366.3h1.5M628.9 377.3h1.5M594.6 347.6h1.5M606.7 335.5h1.5M583.8 393.8h1.5M577.7 355.3h1.5M603.7 390.5h1.5M641.0 366.3h1.5M640.4 356.4h1.5M610.8 382.8h1.5M589.1 346.5h1.5M640.8 343.2h1.5M624.1 375.1h1.5M604.3 396.0h1.5M589.2 370.7h1.5M576.0 357.5h1.5M638.8 371.8h1.5M577.8 359.7h1.5M584.1 357.5h1.5M632.7 372.9h1.5M584.8 334.4h1.5M577.6 339.9h1.5M636.0 375.1h1.5M599.0 350.9h1.5M577.0 363.0h1.5M595.1 333.3h1.5M624.3 335.5h1.5M593.8 372.9h1.5M608.7 381.7h1.5M599.5 337.7h1.5M639.6 353.1h1.5M616.2 390.5h1.5M603.8 349.8h1.5M580.2 338.8h1.5M639.2 355.3h1.5M583.5 394.9h1.5M604.5 366.3h1.5M632.0 344.3h1.5M616.1 354.2h1.5M624.1 383.9h1.5M642.0 346.5h1.5M577.2 363.0h1.5M636.4 372.9h1.5M604.3 371.8h1.5M575.3 366.3h1.5M623.4 383.9h1.5M590.1 345.4h1.5M581.8 350.9h1.5M636.4 392.7h1.5M633.9 345.4h1.5M640.7 378.4h1.5M620.9 357.5h1.5M602.5 380.6h1.5M620.2 363.0h1.5M634.4 389.4h1.5M614.8 356.4h1.5M634.2 369.6h1.5M581.9 342.1h1.5M596.8 374.0h1.5M595.4 394.9h1.5M625.4 377.3h1.5M611.4 360.8h1.5M617.6 368.5h1.5M619.2 345.4h1.5M569.9 344.3h1.5M645.8 349.8h1.5M595.4 342.1h1.5M621.8 383.9h1.5M603.8 372.9h1.5M605.0 375.1h1.5M578.5 381.7h1.5M632.6 386.1h1.5M580.9 387.2h1.5M618.7 345.4h1.5M605.9 342.1h1.5M616.2 350.9h1.5M610.9 353.1h1.5M616.1 331.1h1.5M642.7 344.3h1.5M623.6 331.1h1.5M590.6 335.5h1.5M611.3 333.3h1.5M590.3 375.1h1.5M576.9 375.1h1.5M591.3 345.4h1.5M598.0 348.7h1.5M587.8 388.3h1.5M642.2 346.5h1.5M597.2 339.9h1.5M592.9 372.9h1.5M645.3 345.4h1.5M633.0 346.5h1.5M631.1 354.2h1.5M613.7 368.5h1.5M634.9 339.9h1.5M622.9 370.7h1.5M622.0 377.3h1.5M620.8 331.1h1.5M587.1 381.7h1.5M580.4 376.2h1.5M588.3 348.7h1.5M618.7 377.3h1.5M579.6 341.0h1.5M598.5 346.5h1.5M635.6 339.9h1.5M632.4 350.9h1.5M624.7 383.9h1.5M594.1 374.0h1.5M627.4 366.3h1.5M645.7 376.2h1.5M612.7 371.8h1.5M633.5 357.5h1.5M584.7 386.1h1.5M640.1 374.0h1.5M631.8 379.5h1.5M589.8 374.0h1.5M611.1 346.5h1.5M583.9 355.3h1.5M612.1 346.5h1.5M615.6 389.4h1.5M576.2 335.5h1.5M639.0 383.9h1.5M595.6 364.1h1.5M575.8 357.5h1.5M580.9 361.9h1.5M618.4 352.0h1.5M592.9 347.6h1.5M620.6 367.4h1.5M631.4 387.2h1.5M591.9 389.4h1.5M596.2 346.5h1.5M629.3 383.9h1.5M573.0 360.8h1.5M621.8 335.5h1.5M616.1 348.7h1.5M644.2 380.6h1.5M591.7 376.2h1.5M599.4 370.7h1.5M613.7 343.2h1.5M639.0 346.5h1.5M648.3 349.8h1.5M597.2 374.0h1.5M635.6 353.1h1.5M595.6 376.2h1.5M597.8 348.7h1.5M612.0 390.5h1.5M628.7 381.7h1.5M629.0 341.0h1.5M605.0 376.2h1.5M588.9 387.2h1.5M595.7 354.2h1.5M603.2 378.4h1.5M635.7 349.8h1.5M628.5 356.4h1.5M611.9 334.4h1.5M637.4 346.5h1.5M639.9 347.6h1.5M597.9 348.7h1.5M611.1 377.3h1.5M626.5 342.1h1.5M581.5 365.2h1.5M589.1 336.6h1.5M607.4 350.9h1.5M584.0 381.7h1.5M616.7 367.4h1.5M596.0 371.8h1.5M589.4 377.3h1.5M591.3 347.6h1.5M594.5 346.5h1.5M625.1 381.7h1.5M637.3 383.9h1.5M637.8 372.9h1.5M582.0 381.7h1.5M618.8 361.9h1.5M622.4 349.8h1.5M595.7 350.9h1.5M614.0 336.6h1.5M607.5 385.0h1.5M616.2 339.9h1.5M599.2 366.3h1.5M636.5 393.8h1.5M626.5 353.1h1.5M617.6 370.7h1.5M646.2 345.4h1.5M577.3 380.6h1.5M634.9 377.3h1.5M630.9 376.2h1.5M601.9 377.3h1.5M595.6 393.8h1.5M600.0 365.2h1.5M589.5 382.8h1.5M639.5 365.2h1.5M637.8 336.6h1.5M607.2 359.7h1.5M629.0 377.3h1.5M614.4 389.4h1.5M615.5 369.6h1.5M601.4 343.2h1.5M587.1 382.8h1.5M633.5 387.2h1.5M623.7 364.1h1.5M633.9 336.6h1.5M590.8 386.1h1.5M589.8 371.8h1.5M622.6 357.5h1.5M617.7 359.7h1.5M651.2 354.2h1.5M604.6 394.9h1.5M614.0 333.3h1.5M610.7 386.1h1.5M589.9 381.7h1.5M618.4 337.7h1.5M607.9 367.4h1.5M639.4 379.5h1.5M586.1 371.8h1.5M600.7 332.2h1.5M584.2 372.9h1.5M589.5 393.8h1.5M573.6 383.9h1.5M616.7 382.8h1.5M601.0 393.8h1.5M636.7 364.1h1.5M633.1 387.2h1.5M592.9 371.8h1.5M593.4 367.4h1.5M611.0 381.7h1.5M586.4 344.3h1.5M612.0 346.5h1.5M603.5 365.2h1.5M593.1 380.6h1.5M636.9 364.1h1.5M588.9 372.9h1.5M585.0 391.6h1.5M624.3 389.4h1.5M618.7 335.5h1.5M596.0 358.6h1.5M614.9 392.7h1.5M580.3 341.0h1.5M592.1 365.2h1.5M583.3 388.3h1.5M579.7 348.7h1.5M575.6 366.3h1.5M600.9 343.2h1.5M619.1 370.7h1.5M615.1 350.9h1.5M613.4 361.9h1.5M646.2 345.4h1.5M606.2 383.9h1.5M578.3 368.5h1.5M583.9 367.4h1.5M643.3 344.3h1.5M630.1 379.5h1.5M619.5 393.8h1.5M614.0 342.1h1.5M604.0 361.9h1.5M602.3 354.2h1.5M593.2 349.8h1.5M581.6 358.6h1.5M598.9 360.8h1.5M621.4 386.1h1.5M600.5 391.6h1.5M599.9 371.8h1.5M606.9 372.9h1.5M578.6 374.0h1.5M584.7 393.8h1.5M613.9 383.9h1.5M607.3 393.8h1.5M628.2 375.1h1.5M613.6 375.1h1.5M594.6 392.7h1.5M618.8 348.7h1.5M609.8 363.0h1.5M604.3 356.4h1.5M596.1 374.0h1.5M578.9 352.0h1.5M615.0 337.7h1.5M622.4 342.1h1.5M599.7 380.6h1.5M598.2 339.9h1.5M585.0 374.0h1.5M629.9 364.1h1.5M629.5 349.8h1.5M611.4 336.6h1.5M590.6 394.9h1.5M575.0 339.9h1.5M635.1 379.5h1.5M595.3 377.3h1.5M606.0 343.2h1.5M588.0 354.2h1.5M615.9 333.3h1.5M634.1 383.9h1.5M635.7 360.8h1.5M639.0 383.9h1.5M600.4 383.9h1.5M601.7 343.2h1.5M585.9 386.1h1.5M636.5 359.7h1.5M640.6 353.1h1.5M619.1 361.9h1.5M607.8 336.6h1.5M640.2 348.7h1.5M600.2 377.3h1.5M638.9 346.5h1.5M612.9 352.0h1.5M594.7 367.4h1.5M585.4 387.2h1.5M639.1 357.5h1.5M595.2 335.5h1.5M622.3 355.3h1.5M609.6 334.4h1.5M612.7 368.5h1.5M585.0 369.6h1.5M620.2 331.1h1.5M574.7 359.7h1.5M608.7 369.6h1.5M600.3 374.0h1.5M626.4 385.0h1.5M621.0 354.2h1.5M585.8 366.3h1.5M634.0 376.2h1.5M599.9 335.5h1.5M627.0 386.1h1.5M612.4 366.3h1.5M634.1 375.1h1.5M584.2 365.2h1.5M626.0 356.4h1.5M637.3 337.7h1.5M617.4 371.8h1.5M582.7 379.5h1.5M631.4 377.3h1.5M590.3 379.5h1.5M617.0 367.4h1.5M602.5 365.2h1.5M588.2 349.8h1.5M622.8 348.7h1.5M579.4 357.5h1.5M638.3 372.9h1.5M622.1 346.5h1.5M624.3 335.5h1.5M596.6 361.9h1.5M632.3 359.7h1.5M598.1 376.2h1.5M629.3 335.5h1.5M612.8 374.0h1.5M633.0 363.0h1.5M588.4 372.9h1.5M601.0 343.2h1.5M615.9 367.4h1.5M619.6 338.8h1.5M604.6 349.8h1.5M631.7 336.6h1.5M631.3 342.1h1.5M603.3 353.1h1.5M591.3 392.7h1.5M586.0 379.5h1.5M633.9 387.2h1.5M596.9 364.1h1.5M593.3 383.9h1.5M611.5 385.0h1.5M589.6 372.9h1.5M602.4 349.8h1.5M577.3 379.5h1.5M605.4 386.1h1.5M610.7 375.1h1.5M591.2 360.8h1.5M608.7 356.4h1.5M596.5 339.9h1.5M586.9 388.3h1.5M583.1 386.1h1.5M603.1 361.9h1.5M617.4 346.5h1.5M588.9 349.8h1.5M598.6 347.6h1.5M640.6 376.2h1.5M595.3 354.2h1.5M580.9 339.9h1.5M623.4 358.6h1.5M611.9 335.5h1.5M602.0 358.6h1.5M584.1 366.3h1.5M609.9 363.0h1.5M641.0 377.3h1.5M616.7 354.2h1.5M594.0 332.2h1.5M581.5 334.4h1.5M585.8 377.3h1.5M610.7 347.6h1.5M628.7 376.2h1.5M579.3 343.2h1.5M600.3 386.1h1.5M626.1 392.7h1.5M626.1 374.0h1.5M619.6 380.6h1.5M626.0 350.9h1.5M624.5 360.8h1.5M638.5 334.4h1.5M589.3 350.9h1.5M581.2 379.5h1.5M631.7 368.5h1.5M576.9 388.3h1.5M633.4 352.0h1.5M570.5 361.9h1.5M612.0 378.4h1.5M591.3 377.3h1.5M609.8 379.5h1.5M628.7 359.7h1.5M602.7 390.5h1.5M617.9 375.1h1.5M633.3 376.2h1.5M638.2 352.0h1.5M615.7 364.1h1.5M583.5 343.2h1.5M637.2 371.8h1.5M601.4 369.6h1.5M581.3 335.5h1.5M583.0 379.5h1.5M614.7 344.3h1.5M625.6 385.0h1.5M610.5 371.8h1.5M586.3 392.7h1.5M615.7 338.8h1.5M575.2 387.2h1.5M586.0 349.8h1.5M601.4 358.6h1.5M619.5 366.3h1.5M602.5 390.5h1.5M585.3 344.3h1.5M637.4 347.6h1.5M572.9 339.9h1.5M620.0 370.7h1.5M602.4 369.6h1.5M618.6 339.9h1.5M613.3 361.9h1.5M640.0 360.8h1.5M649.5 359.7h1.5M643.3 349.8h1.5M605.0 354.2h1.5M603.1 339.9h1.5M635.6 378.4h1.5M635.2 348.7h1.5M588.2 363.0h1.5M634.5 385.0h1.5M591.1 379.5h1.5M638.8 364.1h1.5M601.0 345.4h1.5M599.1 348.7h1.5M610.9 374.0h1.5M607.7 334.4h1.5M598.7 348.7h1.5M596.2 388.3h1.5M629.0 333.3h1.5M586.0 387.2h1.5M611.9 375.1h1.5M621.1 382.8h1.5M609.9 366.3h1.5M586.1 371.8h1.5M644.3 349.8h1.5M605.8 344.3h1.5M600.6 341.0h1.5M591.4 371.8h1.5M634.4 372.9h1.5M623.7 392.7h1.5M605.0 341.0h1.5M631.2 337.7h1.5M598.9 348.7h1.5M596.5 345.4h1.5M586.6 336.6h1.5M645.1 344.3h1.5M593.5 350.9h1.5M629.1 370.7h1.5M593.2 381.7h1.5M617.3 370.7h1.5M575.4 355.3h1.5M619.3 387.2h1.5M620.6 331.1h1.5M584.2 345.4h1.5M584.7 371.8h1.5M647.3 366.3h1.5M631.1 366.3h1.5M639.0 390.5h1.5M633.5 370.7h1.5M613.3 369.6h1.5M638.2 368.5h1.5M622.2 335.5h1.5M623.0 372.9h1.5M604.6 337.7h1.5M591.7 378.4h1.5M590.7 371.8h1.5M618.8 355.3h1.5M584.3 335.5h1.5M610.5 346.5h1.5M575.2 367.4h1.5M635.6 379.5h1.5M589.8 349.8h1.5M582.5 374.0h1.5M637.8 389.4h1.5M637.4 378.4h1.5M583.4 381.7h1.5M592.4 350.9h1.5M584.5 376.2h1.5M621.8 372.9h1.5M637.7 347.6h1.5M617.5 386.1h1.5M605.7 375.1h1.5M625.9 355.3h1.5M573.4 364.1h1.5M613.4 341.0h1.5M588.3 367.4h1.5M584.8 364.1h1.5M587.3 389.4h1.5M597.0 392.7h1.5M589.2 358.6h1.5M630.4 360.8h1.5M576.8 365.2h1.5M577.3 354.2h1.5M639.3 378.4h1.5M636.1 336.6h1.5M583.5 346.5h1.5M605.7 375.1h1.5M611.5 335.5h1.5M600.3 393.8h1.5M584.9 392.7h1.5M643.3 357.5h1.5M582.7 374.0h1.5M587.7 348.7h1.5M623.1 356.4h1.5M589.0 355.3h1.5M597.6 361.9h1.5M605.1 353.1h1.5M601.0 355.3h1.5M623.0 370.7h1.5M579.7 393.8h1.5M586.3 354.2h1.5M609.7 378.4h1.5M642.2 359.7h1.5M598.4 367.4h1.5M633.5 380.6h1.5M648.5 357.5h1.5M641.4 376.2h1.5M610.9 347.6h1.5M609.2 352.0h1.5M577.3 385.0h1.5M617.4 367.4h1.5M582.0 382.8h1.5M607.8 380.6h1.5M590.0 349.8h1.5M593.7 392.7h1.5M633.1 371.8h1.5M617.7 368.5h1.5M643.4 366.3h1.5M613.1 359.7h1.5M621.1 364.1h1.5M627.8 342.1h1.5M615.2 380.6h1.5M615.8 360.8h1.5M624.7 357.5h1.5M636.6 352.0h1.5M607.4 370.7h1.5M586.1 377.3h1.5M591.9 363.0h1.5M632.4 376.2h1.5M601.8 368.5h1.5M616.8 374.0h1.5M628.5 361.9h1.5M606.4 383.9h1.5M603.1 347.6h1.5M576.6 348.7h1.5M605.4 338.8h1.5M615.0 372.9h1.5M644.0 342.1h1.5M622.7 388.3h1.5M579.4 382.8h1.5M625.5 379.5h1.5M628.6 369.6h1.5M617.7 377.3h1.5M590.7 382.8h1.5M612.1 394.9h1.5M615.9 379.5h1.5M630.2 344.3h1.5M610.8 387.2h1.5M604.3 345.4h1.5M625.6 372.9h1.5M632.3 332.2h1.5M613.6 363.0h1.5M627.5 365.2h1.5M606.2 374.0h1.5M619.6 370.7h1.5M643.4 372.9h1.5M634.9 378.4h1.5M645.5 359.7h1.5M594.9 355.3h1.5M580.9 336.6h1.5M585.6 344.3h1.5M628.5 388.3h1.5M634.2 368.5h1.5M631.0 347.6h1.5M614.0 379.5h1.5M611.5 350.9h1.5M584.3 392.7h1.5M638.7 390.5h1.5M619.4 365.2h1.5M604.9 385.0h1.5M598.9 346.5h1.5M599.7 346.5h1.5M601.1 377.3h1.5M623.0 364.1h1.5M639.3 344.3h1.5M601.7 335.5h1.5M629.3 388.3h1.5M619.7 365.2h1.5M590.1 352.0h1.5M621.8 332.2h1.5M585.8 335.5h1.5M637.4 350.9h1.5M598.5 342.1h1.5M608.6 376.2h1.5M628.5 356.4h1.5M591.4 343.2h1.5M604.1 379.5h1.5M629.4 342.1h1.5M626.3 383.9h1.5M629.0 379.5h1.5M631.4 387.2h1.5M608.8 381.7h1.5M583.5 336.6h1.5M608.8 393.8h1.5M616.0 387.2h1.5M628.4 372.9h1.5M587.1 347.6h1.5M609.6 364.1h1.5M579.6 379.5h1.5M572.0 359.7h1.5M617.8 345.4h1.5M598.3 391.6h1.5M645.1 341.0h1.5M616.4 361.9h1.5M632.4 370.7h1.5M629.3 377.3h1.5M580.0 374.0h1.5M615.4 378.4h1.5M632.3 360.8h1.5M628.0 372.9h1.5M616.7 356.4h1.5M608.3 364.1h1.5M594.9 394.9h1.5M602.8 349.8h1.5M640.0 378.4h1.5M577.5 344.3h1.5M594.2 377.3h1.5M576.1 366.3h1.5M644.4 347.6h1.5M585.4 347.6h1.5M614.6 387.2h1.5M632.0 377.3h1.5M605.3 383.9h1.5M632.8 346.5h1.5M579.9 378.4h1.5M611.4 366.3h1.5M588.4 374.0h1.5M630.6 342.1h1.5M639.7 352.0h1.5M575.7 350.9h1.5M588.6 354.2h1.5M584.8 372.9h1.5M612.2 385.0h1.5M576.9 355.3h1.5M615.2 350.9h1.5M571.8 361.9h1.5M630.4 347.6h1.5M634.1 344.3h1.5M593.3 363.0h1.5M576.5 376.2h1.5M619.2 355.3h1.5M627.6 336.6h1.5M623.7 370.7h1.5M574.8 369.6h1.5M619.7 388.3h1.5M637.2 391.6h1.5M598.2 347.6h1.5M591.5 396.0h1.5M612.4 335.5h1.5M621.8 374.0h1.5M604.6 371.8h1.5M587.0 343.2h1.5M605.7 332.2h1.5M643.7 377.3h1.5M619.3 349.8h1.5M631.1 372.9h1.5M610.8 346.5h1.5M609.2 383.9h1.5M619.7 341.0h1.5M612.4 331.1h1.5M586.0 354.2h1.5M626.8 353.1h1.5M633.5 366.3h1.5M627.8 368.5h1.5M636.0 357.5h1.5M615.1 378.4h1.5M614.2 389.4h1.5M606.5 349.8h1.5M593.8 335.5h1.5M605.0 346.5h1.5M599.1 341.0h1.5M605.0 372.9h1.5M580.5 382.8h1.5M584.3 356.4h1.5M614.2 391.6h1.5M608.2 337.7h1.5M625.4 358.6h1.5M620.6 343.2h1.5M581.7 337.7h1.5M606.6 365.2h1.5M638.0 343.2h1.5M624.3 359.7h1.5M584.6 349.8h1.5M606.8 357.5h1.5M602.8 348.7h1.5M584.0 365.2h1.5M587.9 352.0h1.5M616.4 381.7h1.5M622.5 393.8h1.5M614.7 339.9h1.5M589.6 336.6h1.5M579.1 390.5h1.5M631.2 383.9h1.5M582.4 343.2h1.5M620.3 346.5h1.5M622.0 364.1h1.5M643.2 367.4h1.5M604.7 369.6h1.5M624.0 336.6h1.5M605.3 354.2h1.5M605.9 389.4h1.5M596.1 376.2h1.5M641.5 332.2h1.5M615.7 358.6h1.5M581.0 389.4h1.5M626.6 377.3h1.5M599.1 372.9h1.5M622.1 366.3h1.5M587.4 365.2h1.5M607.0 376.2h1.5M597.4 347.6h1.5M585.1 359.7h1.5M643.8 349.8h1.5M630.5 374.0h1.5M618.0 370.7h1.5M613.1 360.8h1.5M624.6 333.3h1.5M614.6 374.0h1.5M601.2 355.3h1.5M612.4 365.2h1.5M621.4 336.6h1.5M592.0 344.3h1.5M639.5 356.4h1.5M596.4 377.3h1.5M600.0 375.1h1.5M597.2 382.8h1.5M630.9 361.9h1.5M623.3 364.1h1.5M631.6 353.1h1.5M600.0 375.1h1.5M610.6 364.1h1.5M576.0 386.1h1.5M576.6 375.1h1.5M606.5 364.1h1.5M631.4 378.4h1.5M596.1 380.6h1.5M580.1 371.8h1.5M573.5 345.4h1.5M624.4 337.7h1.5M633.2 350.9h1.5M599.0 375.1h1.5M639.5 359.7h1.5M612.5 338.8h1.5M602.1 344.3h1.5M602.1 382.8h1.5M606.7 358.6h1.5M630.9 344.3h1.5M626.8 380.6h1.5M641.4 339.9h1.5M612.7 354.2h1.5M636.4 335.5h1.5M628.3 342.1h1.5M623.2 336.6h1.5M618.0 361.9h1.5M587.1 335.5h1.5M635.5 369.6h1.5M579.5 360.8h1.5M598.5 344.3h1.5M626.0 355.3h1.5M634.7 337.7h1.5M614.3 386.1h1.5M590.6 343.2h1.5M628.4 334.4h1.5M583.5 343.2h1.5M584.1 390.5h1.5M597.3 353.1h1.5M594.5 338.8h1.5M620.4 363.0h1.5M602.2 360.8h1.5M593.9 348.7h1.5M626.2 390.5h1.5M621.9 364.1h1.5M589.4 398.2h1.5M622.9 383.9h1.5M629.4 358.6h1.5M598.5 382.8h1.5M575.5 383.9h1.5M583.7 348.7h1.5M590.2 387.2h1.5M645.1 341.0h1.5M628.9 339.9h1.5M620.4 354.2h1.5M584.6 358.6h1.5M594.8 346.5h1.5M603.9 339.9h1.5M612.3 363.0h1.5M627.6 366.3h1.5M579.9 350.9h1.5M582.5 339.9h1.5M607.0 347.6h1.5M647.7 358.6h1.5M601.1 372.9h1.5M631.7 347.6h1.5M586.0 344.3h1.5M639.6 369.6h1.5M641.6 377.3h1.5M581.3 365.2h1.5M620.8 339.9h1.5M592.2 336.6h1.5M624.6 348.7h1.5M612.6 334.4h1.5M623.8 347.6h1.5M618.5 350.9h1.5M588.8 354.2h1.5M639.2 335.5h1.5M586.1 345.4h1.5M602.7 357.5h1.5M634.7 372.9h1.5M602.4 385.0h1.5M591.0 353.1h1.5M638.7 358.6h1.5M629.7 352.0h1.5M632.9 346.5h1.5M625.2 368.5h1.5M600.0 335.5h1.5M637.3 335.5h1.5M582.2 345.4h1.5M621.3 376.2h1.5M628.6 364.1h1.5M595.3 387.2h1.5M605.3 393.8h1.5M632.2 350.9h1.5M623.8 370.7h1.5M644.8 343.2h1.5M605.9 369.6h1.5M580.3 379.5h1.5M615.9 359.7h1.5M643.8 386.1h1.5M590.8 390.5h1.5M589.1 369.6h1.5M636.5 377.3h1.5M572.6 366.3h1.5M629.2 356.4h1.5M592.7 367.4h1.5M589.3 359.7h1.5M580.3 381.7h1.5M628.9 336.6h1.5M621.6 334.4h1.5M635.1 375.1h1.5M592.8 374.0h1.5M611.2 391.6h1.5M627.2 359.7h1.5M627.4 365.2h1.5M599.0 357.5h1.5M625.7 338.8h1.5M581.3 348.7h1.5M641.4 338.8h1.5M610.5 338.8h1.5M627.1 369.6h1.5M590.9 364.1h1.5M625.8 356.4h1.5M598.7 371.8h1.5M608.9 347.6h1.5M630.7 377.3h1.5M605.1 357.5h1.5M629.0 336.6h1.5M591.8 375.1h1.5M603.8 371.8h1.5M601.1 376.2h1.5M621.4 344.3h1.5M606.9 360.8h1.5M586.2 389.4h1.5M608.5 337.7h1.5M635.0 338.8h1.5M593.3 359.7h1.5M606.0 364.1h1.5M593.8 382.8h1.5M580.7 337.7h1.5M579.6 360.8h1.5M600.0 385.0h1.5M598.9 341.0h1.5M612.1 338.8h1.5M620.1 339.9h1.5M618.7 396.0h1.5M644.0 374.0h1.5M584.8 361.9h1.5M625.3 369.6h1.5M614.4 382.8h1.5M642.2 377.3h1.5M611.7 380.6h1.5M617.9 360.8h1.5M595.5 393.8h1.5M573.1 371.8h1.5M607.8 345.4h1.5M637.0 346.5h1.5M595.9 335.5h1.5M634.4 335.5h1.5M583.1 346.5h1.5M605.4 365.2h1.5M599.4 380.6h1.5M587.4 379.5h1.5M573.9 358.6h1.5M584.7 377.3h1.5M643.3 349.8h1.5M617.3 359.7h1.5M614.6 390.5h1.5M586.8 390.5h1.5M614.3 336.6h1.5M612.1 342.1h1.5M636.7 361.9h1.5M617.1 387.2h1.5M630.4 338.8h1.5M579.0 350.9h1.5M639.9 370.7h1.5M609.9 363.0h1.5M588.6 358.6h1.5M622.0 343.2h1.5M611.7 354.2h1.5M619.1 379.5h1.5M598.9 335.5h1.5M592.0 345.4h1.5M614.1 361.9h1.5M594.6 357.5h1.5M618.9 391.6h1.5M625.8 370.7h1.5M637.2 353.1h1.5M600.2 388.3h1.5M642.0 358.6h1.5M584.3 361.9h1.5M618.7 363.0h1.5M589.2 356.4h1.5M588.3 378.4h1.5M638.1 377.3h1.5M573.8 368.5h1.5M618.7 347.6h1.5M628.0 343.2h1.5M614.2 346.5h1.5M638.1 344.3h1.5M619.9 342.1h1.5M598.8 382.8h1.5M641.2 360.8h1.5M611.8 352.0h1.5M639.1 374.0h1.5M593.6 336.6h1.5M578.6 344.3h1.5M636.6 337.7h1.5M630.3 379.5h1.5M638.6 335.5h1.5M635.3 339.9h1.5M596.9 327.8h1.5M580.7 356.4h1.5M641.1 366.3h1.5M609.1 350.9h1.5M613.9 342.1h1.5M590.7 366.3h1.5M645.7 342.1h1.5M611.4 394.9h1.5M637.6 365.2h1.5M581.8 393.8h1.5M622.8 386.1h1.5M585.5 364.1h1.5M624.9 393.8h1.5M573.8 355.3h1.5M624.8 336.6h1.5M621.0 363.0h1.5M597.2 371.8h1.5M581.4 343.2h1.5M581.7 371.8h1.5M581.4 382.8h1.5M586.4 354.2h1.5M613.2 379.5h1.5M597.5 396.0h1.5M639.7 339.9h1.5M604.5 332.2h1.5M573.0 385.0h1.5M583.9 344.3h1.5M614.4 360.8h1.5M644.8 364.1h1.5M604.7 363.0h1.5M631.8 359.7h1.5M599.1 386.1h1.5M577.0 354.2h1.5M600.5 361.9h1.5M582.7 368.5h1.5M637.7 347.6h1.5M594.3 338.8h1.5M577.8 392.7h1.5M574.9 350.9h1.5M588.2 363.0h1.5M634.5 371.8h1.5M643.9 344.3h1.5M591.2 393.8h1.5M591.9 378.4h1.5M579.5 367.4h1.5M612.2 346.5h1.5M646.8 369.6h1.5M627.2 375.1h1.5M608.4 327.8h1.5M581.0 360.8h1.5M577.4 359.7h1.5M582.8 380.6h1.5M616.1 387.2h1.5M617.5 342.1h1.5M577.3 367.4h1.5M641.1 368.5h1.5M622.3 330.0h1.5M645.7 366.3h1.5M584.9 387.2h1.5M611.1 375.1h1.5M600.2 376.2h1.5M637.2 337.7h1.5M580.2 366.3h1.5M623.0 393.8h1.5M590.3 386.1h1.5M607.2 381.7h1.5M601.6 380.6h1.5M601.0 358.6h1.5M621.0 372.9h1.5M609.4 338.8h1.5M614.8 376.2h1.5M617.1 348.7h1.5M595.5 359.7h1.5M617.5 389.4h1.5M578.2 372.9h1.5M601.9 336.6h1.5M629.8 333.3h1.5M625.7 347.6h1.5M589.8 383.9h1.5M606.6 369.6h1.5M632.5 383.9h1.5M648.0 341.0h1.5M600.2 354.2h1.5M598.3 346.5h1.5M591.2 376.2h1.5M601.3 369.6h1.5M614.3 339.9h1.5M590.8 390.5h1.5M620.3 372.9h1.5M605.2 377.3h1.5M626.6 346.5h1.5M635.3 363.0h1.5M634.7 355.3h1.5M629.9 393.8h1.5M634.2 380.6h1.5M624.2 348.7h1.5M580.5 364.1h1.5M627.1 365.2h1.5M584.8 335.5h1.5M587.1 369.6h1.5M607.7 379.5h1.5M608.1 337.7h1.5M615.7 391.6h1.5M618.5 356.4h1.5M594.4 361.9h1.5M624.9 360.8h1.5M635.7 344.3h1.5M639.6 336.6h1.5M589.8 337.7h1.5M624.4 368.5h1.5M613.7 352.0h1.5M640.6 338.8h1.5M597.1 381.7h1.5M588.7 383.9h1.5M643.1 376.2h1.5M611.1 346.5h1.5M577.0 377.3h1.5M622.3 346.5h1.5M581.0 348.7h1.5M616.0 372.9h1.5M582.2 386.1h1.5M599.3 370.7h1.5M575.8 342.1h1.5M580.2 372.9h1.5M583.5 366.3h1.5M630.3 354.2h1.5M609.6 341.0h1.5M575.1 363.0h1.5M608.4 355.3h1.5M618.6 333.3h1.5M598.8 376.2h1.5M597.4 335.5h1.5M627.0 375.1h1.5M609.5 332.2h1.5M585.2 355.3h1.5M601.9 371.8h1.5M585.1 372.9h1.5M633.7 370.7h1.5M627.1 369.6h1.5M619.3 361.9h1.5M581.8 390.5h1.5M600.2 394.9h1.5M635.4 338.8h1.5M593.3 377.3h1.5M608.2 355.3h1.5M586.8 356.4h1.5M640.1 379.5h1.5M615.9 336.6h1.5M610.0 337.7h1.5M594.5 364.1h1.5M598.6 392.7h1.5M639.8 332.2h1.5M586.1 381.7h1.5M591.6 341.0h1.5M599.6 379.5h1.5M618.4 337.7h1.5M635.0 339.9h1.5M643.2 349.8h1.5M636.0 376.2h1.5M612.7 343.2h1.5M613.3 357.5h1.5M624.8 334.4h1.5M597.0 350.9h1.5M626.9 382.8h1.5M634.3 363.0h1.5M597.0 348.7h1.5M588.3 379.5h1.5M586.8 387.2h1.5M586.6 381.7h1.5M594.3 350.9h1.5M639.3 375.1h1.5M590.7 339.9h1.5M594.2 333.3h1.5M595.8 391.6h1.5M599.6 353.1h1.5M619.2 389.4h1.5M619.4 339.9h1.5M613.2 365.2h1.5M636.3 344.3h1.5M616.9 366.3h1.5M591.2 370.7h1.5M623.3 371.8h1.5M619.6 380.6h1.5M613.0 368.5h1.5M572.9 354.2h1.5M626.1 336.6h1.5M637.1 355.3h1.5M617.6 371.8h1.5M610.3 387.2h1.5M623.8 341.0h1.5M575.5 337.7h1.5M624.3 353.1h1.5M585.3 358.6h1.5M638.2 354.2h1.5M610.7 352.0h1.5M588.9 383.9h1.5M636.9 389.4h1.5M628.6 396.0h1.5M613.1 344.3h1.5M571.5 361.9h1.5M626.0 355.3h1.5M609.4 349.8h1.5M625.2 330.0h1.5M577.7 352.0h1.5M588.9 338.8h1.5M610.4 335.5h1.5M626.9 335.5h1.5M588.9 354.2h1.5M614.9 358.6h1.5M626.2 368.5h1.5M638.9 332.2h1.5M625.8 388.3h1.5M615.5 366.3h1.5M586.2 350.9h1.5M598.8 393.8h1.5M619.6 363.0h1.5M573.7 370.7h1.5M615.9 335.5h1.5M619.0 380.6h1.5M626.5 347.6h1.5M639.4 334.4h1.5M608.3 367.4h1.5M598.3 341.0h1.5M640.8 336.6h1.5M644.5 383.9h1.5M610.2 355.3h1.5M611.6 353.1h1.5M591.7 393.8h1.5M591.9 359.7h1.5M622.0 334.4h1.5M606.0 346.5h1.5M631.7 359.7h1.5M580.8 347.6h1.5M610.6 348.7h1.5M593.6 365.2h1.5M587.3 377.3h1.5M627.5 332.2h1.5M610.8 394.9h1.5M610.2 347.6h1.5M576.6 350.9h1.5M597.5 380.6h1.5M589.2 393.8h1.5M608.3 341.0h1.5M631.8 383.9h1.5M597.7 385.0h1.5M612.5 354.2h1.5M580.8 356.4h1.5M644.6 350.9h1.5M610.4 344.3h1.5M585.2 365.2h1.5M584.2 379.5h1.5M636.5 342.1h1.5M622.0 379.5h1.5M632.2 355.3h1.5M631.7 346.5h1.5M617.4 361.9h1.5M604.8 368.5h1.5M595.2 356.4h1.5M622.8 374.0h1.5M611.6 350.9h1.5M625.5 372.9h1.5M603.4 342.1h1.5M642.8 370.7h1.5M631.4 370.7h1.5M616.9 346.5h1.5M639.9 350.9h1.5M620.0 345.4h1.5M594.0 353.1h1.5M607.3 388.3h1.5M604.7 385.0h1.5M623.7 387.2h1.5M607.7 366.3h1.5M625.1 355.3h1.5M585.1 363.0h1.5M627.7 380.6h1.5M624.9 358.6h1.5M613.7 331.1h1.5M607.2 338.8h1.5M584.6 364.1h1.5M591.3 388.3h1.5M626.4 347.6h1.5M580.5 366.3h1.5M633.0 363.0h1.5M632.1 381.7h1.5M579.8 357.5h1.5M634.2 387.2h1.5M605.5 379.5h1.5M631.0 354.2h1.5M616.6 390.5h1.5M583.8 378.4h1.5M582.9 367.4h1.5M636.2 338.8h1.5M580.3 341.0h1.5M624.6 354.2h1.5M573.5 365.2h1.5M626.9 339.9h1.5M618.5 391.6h1.5M641.6 387.2h1.5M586.0 372.9h1.5M581.8 385.0h1.5M604.6 345.4h1.5M629.3 372.9h1.5M633.7 387.2h1.5M577.3 389.4h1.5M585.4 365.2h1.5M639.6 370.7h1.5M593.1 348.7h1.5M609.2 368.5h1.5M583.1 371.8h1.5M575.7 343.2h1.5M577.0 349.8h1.5M606.0 344.3h1.5M630.9 383.9h1.5M582.4 365.2h1.5M601.9 356.4h1.5M613.7 383.9h1.5M644.8 337.7h1.5M577.1 388.3h1.5M602.0 365.2h1.5M613.4 396.0h1.5M573.9 356.4h1.5M608.4 366.3h1.5M624.3 342.1h1.5M580.4 385.0h1.5M622.9 391.6h1.5M609.2 383.9h1.5M587.0 389.4h1.5M593.5 355.3h1.5M621.4 333.3h1.5M585.6 364.1h1.5M613.1 381.7h1.5M574.1 374.0h1.5M610.4 377.3h1.5M582.0 376.2h1.5M591.5 363.0h1.5M607.5 371.8h1.5M612.6 336.6h1.5M620.7 388.3h1.5M595.1 335.5h1.5M604.9 386.1h1.5M627.4 386.1h1.5M646.4 346.5h1.5M613.1 350.9h1.5M619.5 346.5h1.5M625.5 374.0h1.5M634.4 379.5h1.5M627.5 391.6h1.5M629.3 374.0h1.5M622.1 374.0h1.5M638.1 389.4h1.5M623.2 357.5h1.5M578.6 353.1h1.5M587.8 356.4h1.5M588.2 381.7h1.5M600.3 388.3h1.5M576.4 358.6h1.5M591.5 349.8h1.5M631.0 331.1h1.5M622.0 366.3h1.5M589.1 360.8h1.5M640.1 364.1h1.5M594.1 376.2h1.5M618.0 374.0h1.5M631.0 371.8h1.5M593.2 349.8h1.5M590.9 392.7h1.5M583.2 361.9h1.5M622.4 359.7h1.5M641.5 355.3h1.5M635.5 346.5h1.5M646.9 345.4h1.5M640.2 355.3h1.5M608.1 381.7h1.5M632.0 343.2h1.5M603.7 372.9h1.5M607.1 334.4h1.5M638.3 370.7h1.5M593.1 389.4h1.5M639.5 390.5h1.5M607.2 369.6h1.5M590.5 341.0h1.5M621.1 353.1h1.5M604.7 357.5h1.5M576.6 372.9h1.5M614.3 360.8h1.5M600.8 352.0h1.5M622.5 349.8h1.5M609.0 367.4h1.5M585.1 386.1h1.5M633.8 338.8h1.5M594.8 368.5h1.5M634.4 370.7h1.5M636.7 391.6h1.5M643.0 369.6h1.5M588.1 377.3h1.5M628.3 372.9h1.5M609.7 389.4h1.5M636.9 381.7h1.5M583.5 382.8h1.5M631.4 355.3h1.5M607.3 371.8h1.5M602.4 358.6h1.5M593.4 388.3h1.5M635.0 386.1h1.5M603.2 344.3h1.5M640.8 335.5h1.5M642.1 341.0h1.5M584.9 386.1h1.5M585.6 356.4h1.5M619.7 328.9h1.5M612.8 352.0h1.5M576.4 360.8h1.5M599.7 374.0h1.5M632.9 393.8h1.5M617.6 365.2h1.5M635.9 370.7h1.5M584.7 376.2h1.5M612.4 374.0h1.5M621.5 375.1h1.5M593.3 386.1h1.5M591.5 332.2h1.5M614.2 371.8h1.5M581.6 353.1h1.5M636.4 335.5h1.5M630.6 355.3h1.5M599.9 369.6h1.5M644.9 369.6h1.5M607.6 366.3h1.5M629.2 364.1h1.5M637.2 347.6h1.5M629.2 344.3h1.5M568.0 369.6h1.5M605.6 391.6h1.5M626.7 391.6h1.5M640.4 352.0h1.5M614.5 346.5h1.5M586.2 386.1h1.5M609.2 355.3h1.5M576.0 354.2h1.5M574.6 345.4h1.5M580.0 394.9h1.5M639.8 380.6h1.5M632.7 358.6h1.5M617.1 379.5h1.5M614.1 352.0h1.5M631.8 385.0h1.5M588.2 335.5h1.5M582.5 375.1h1.5M590.1 391.6h1.5M611.5 378.4h1.5M610.5 338.8h1.5M589.5 375.1h1.5M610.6 392.7h1.5M609.4 364.1h1.5M582.7 382.8h1.5M584.9 376.2h1.5M595.9 333.3h1.5M602.6 336.6h1.5M623.4 377.3h1.5M603.8 337.7h1.5M603.0 382.8h1.5M574.7 358.6h1.5M592.6 394.9h1.5M614.3 359.7h1.5M624.1 336.6h1.5M625.4 371.8h1.5M641.6 352.0h1.5M579.4 382.8h1.5M605.5 356.4h1.5M628.2 376.2h1.5M591.4 392.7h1.5M607.0 387.2h1.5M592.5 337.7h1.5M639.6 374.0h1.5M589.3 363.0h1.5M614.9 339.9h1.5M596.6 350.9h1.5M643.0 347.6h1.5M599.6 341.0h1.5M607.3 386.1h1.5M602.4 391.6h1.5M584.3 347.6h1.5M578.8 372.9h1.5M645.2 348.7h1.5M583.8 336.6h1.5M592.9 332.2h1.5M614.6 341.0h1.5M620.5 360.8h1.5M641.4 350.9h1.5M623.2 344.3h1.5M612.8 370.7h1.5M616.6 392.7h1.5M589.9 391.6h1.5M629.1 350.9h1.5M633.1 391.6h1.5M632.4 339.9h1.5M591.0 344.3h1.5M604.1 393.8h1.5M589.2 394.9h1.5M629.1 336.6h1.5M631.8 347.6h1.5M576.0 370.7h1.5M622.8 376.2h1.5M613.8 385.0h1.5M597.0 396.0h1.5M589.5 399.3h1.5M607.7 358.6h1.5M588.1 341.0h1.5M616.7 367.4h1.5M633.6 368.5h1.5M611.8 371.8h1.5M587.1 349.8h1.5M624.4 349.8h1.5M580.9 349.8h1.5M602.2 341.0h1.5M584.3 356.4h1.5M601.8 365.2h1.5M614.5 346.5h1.5M603.9 348.7h1.5M589.3 376.2h1.5M637.5 359.7h1.5M617.1 382.8h1.5M636.1 335.5h1.5M589.1 363.0h1.5M628.9 354.2h1.5M610.2 344.3h1.5M613.9 368.5h1.5M625.3 388.3h1.5M613.0 389.4h1.5M607.3 345.4h1.5M581.4 390.5h1.5M638.8 350.9h1.5M574.4 345.4h1.5M633.8 367.4h1.5M613.2 339.9h1.5M599.4 365.2h1.5M646.5 336.6h1.5M611.1 382.8h1.5M643.3 349.8h1.5M645.1 355.3h1.5M589.7 348.7h1.5M585.9 391.6h1.5M616.7 378.4h1.5M578.1 367.4h1.5M617.7 347.6h1.5M615.1 385.0h1.5M625.7 345.4h1.5M603.3 337.7h1.5M636.6 387.2h1.5M630.8 381.7h1.5M600.8 371.8h1.5M578.4 334.4h1.5M604.6 336.6h1.5M628.0 381.7h1.5M607.3 349.8h1.5M617.3 386.1h1.5M603.2 390.5h1.5M580.9 355.3h1.5M608.8 343.2h1.5M625.3 344.3h1.5M618.6 379.5h1.5M617.5 343.2h1.5M619.7 374.0h1.5M639.6 372.9h1.5M576.2 381.7h1.5M613.4 344.3h1.5M628.4 342.1h1.5M580.9 368.5h1.5M621.9 359.7h1.5M602.3 372.9h1.5M593.0 348.7h1.5M612.9 364.1h1.5M621.2 343.2h1.5M588.9 392.7h1.5M598.4 357.5h1.5M631.8 364.1h1.5M585.3 365.2h1.5M600.4 388.3h1.5M641.8 355.3h1.5M586.4 344.3h1.5M578.9 363.0h1.5M635.2 335.5h1.5M581.8 355.3h1.5M579.5 347.6h1.5M600.7 335.5h1.5M618.4 371.8h1.5M587.4 379.5h1.5M628.4 370.7h1.5M620.1 391.6h1.5M581.1 339.9h1.5M600.6 336.6h1.5M606.0 369.6h1.5M634.5 386.1h1.5M605.2 366.3h1.5M642.8 336.6h1.5M583.4 348.7h1.5M591.5 378.4h1.5M614.0 386.1h1.5M587.2 375.1h1.5M593.3 381.7h1.5M625.1 363.0h1.5M573.6 379.5h1.5M596.7 396.0h1.5M643.1 367.4h1.5M582.3 344.3h1.5M589.9 355.3h1.5M593.7 358.6h1.5M600.7 389.4h1.5M632.3 355.3h1.5M578.7 346.5h1.5M606.7 338.8h1.5M632.9 336.6h1.5M632.2 387.2h1.5M577.7 342.1h1.5M608.0 352.0h1.5M618.5 368.5h1.5M623.7 392.7h1.5M593.6 382.8h1.5M595.3 361.9h1.5M622.8 368.5h1.5M647.1 347.6h1.5M621.1 386.1h1.5M639.7 345.4h1.5M613.1 388.3h1.5M616.7 341.0h1.5M625.3 348.7h1.5M630.1 344.3h1.5M614.8 333.3h1.5M604.1 333.3h1.5M587.1 367.4h1.5M579.6 361.9h1.5M634.9 391.6h1.5M645.5 346.5h1.5M598.8 393.8h1.5M608.8 375.1h1.5M611.9 333.3h1.5M608.9 333.3h1.5M589.5 361.9h1.5M628.2 367.4h1.5M613.7 370.7h1.5M629.3 363.0h1.5M625.2 379.5h1.5M615.9 347.6h1.5M635.5 374.0h1.5M583.3 346.5h1.5M584.1 341.0h1.5M583.0 360.8h1.5M641.7 336.6h1.5M587.7 365.2h1.5M644.5 348.7h1.5M613.0 383.9h1.5M579.7 376.2h1.5M619.6 369.6h1.5M625.5 349.8h1.5M597.2 370.7h1.5M599.1 357.5h1.5M616.1 337.7h1.5M578.4 376.2h1.5M596.6 378.4h1.5M618.3 332.2h1.5M574.7 346.5h1.5M583.2 350.9h1.5M587.8 378.4h1.5M607.4 346.5h1.5M608.1 346.5h1.5M633.5 365.2h1.5M582.3 334.4h1.5M608.6 371.8h1.5M621.9 346.5h1.5M628.6 356.4h1.5M589.7 372.9h1.5M644.7 332.2h1.5M617.9 339.9h1.5M642.7 334.4h1.5M615.7 358.6h1.5M610.6 346.5h1.5M607.4 380.6h1.5M595.2 360.8h1.5M634.1 379.5h1.5M639.1 364.1h1.5M589.8 358.6h1.5M647.5 355.3h1.5M621.3 383.9h1.5M620.5 350.9h1.5M617.8 363.0h1.5M629.2 364.1h1.5M600.6 387.2h1.5M579.3 344.3h1.5M620.2 337.7h1.5M587.0 385.0h1.5M634.1 346.5h1.5M593.7 360.8h1.5M642.9 387.2h1.5M615.9 372.9h1.5M579.2 363.0h1.5M619.7 363.0h1.5M635.1 332.2h1.5M603.5 368.5h1.5M600.8 385.0h1.5M622.7 349.8h1.5M629.8 377.3h1.5M630.4 361.9h1.5M641.5 372.9h1.5M606.8 367.4h1.5M595.4 365.2h1.5M620.9 359.7h1.5M630.3 375.1h1.5M627.2 352.0h1.5M597.2 372.9h1.5M599.6 342.1h1.5M593.2 361.9h1.5M604.9 367.4h1.5M587.4 343.2h1.5M642.2 376.2h1.5M603.1 366.3h1.5M617.4 388.3h1.5M646.1 355.3h1.5M589.9 385.0h1.5M597.9 346.5h1.5M577.9 383.9h1.5M600.3 390.5h1.5M643.4 344.3h1.5M583.7 380.6h1.5M590.5 343.2h1.5M604.2 392.7h1.5M621.8 382.8h1.5M580.2 337.7h1.5M593.5 392.7h1.5M606.2 386.1h1.5M577.1 367.4h1.5M598.4 375.1h1.5M584.5 374.0h1.5M630.8 339.9h1.5M598.2 357.5h1.5M582.3 368.5h1.5M608.3 348.7h1.5M619.7 394.9h1.5M595.7 360.8h1.5M624.4 380.6h1.5M621.9 378.4h1.5M579.5 338.8h1.5M579.0 389.4h1.5M627.9 363.0h1.5M610.0 386.1h1.5M631.0 346.5h1.5M610.3 341.0h1.5M616.3 342.1h1.5M610.3 341.0h1.5M618.6 335.5h1.5M622.6 342.1h1.5M601.2 355.3h1.5M627.2 375.1h1.5M629.7 344.3h1.5M634.2 388.3h1.5M592.4 355.3h1.5M639.5 339.9h1.5M628.2 377.3h1.5M626.2 389.4h1.5M619.8 391.6h1.5M600.4 353.1h1.5M647.9 380.6h1.5M636.1 337.7h1.5M604.4 343.2h1.5M580.3 358.6h1.5M637.7 359.7h1.5M602.4 348.7h1.5M601.4 333.3h1.5M579.6 341.0h1.5M633.2 337.7h1.5M589.0 393.8h1.5M604.5 365.2h1.5M638.1 336.6h1.5M638.6 379.5h1.5M592.1 359.7h1.5M603.3 360.8h1.5M637.2 355.3h1.5M646.8 353.1h1.5M628.0 368.5h1.5M602.8 389.4h1.5M602.1 349.8h1.5M584.1 335.5h1.5M608.5 383.9h1.5M633.5 381.7h1.5M630.0 341.0h1.5M638.7 378.4h1.5M614.8 366.3h1.5M606.8 374.0h1.5M650.5 347.6h1.5M611.4 376.2h1.5M577.1 376.2h1.5M633.6 375.1h1.5M643.2 338.8h1.5M626.8 382.8h1.5M614.8 378.4h1.5M619.7 355.3h1.5M614.8 343.2h1.5M613.8 350.9h1.5M613.8 361.9h1.5M642.0 359.7h1.5M604.3 390.5h1.5M610.7 337.7h1.5M612.9 360.8h1.5M634.5 364.1h1.5M597.9 343.2h1.5M632.9 370.7h1.5M585.0 380.6h1.5M613.2 391.6h1.5M607.2 378.4h1.5M631.9 386.1h1.5M632.3 374.0h1.5M626.3 332.2h1.5M622.5 334.4h1.5M620.2 388.3h1.5M582.1 381.7h1.5M588.6 358.6h1.5M576.3 352.0h1.5M590.8 332.2h1.5M623.0 378.4h1.5M577.5 353.1h1.5M578.7 356.4h1.5M640.1 370.7h1.5M574.4 350.9h1.5M639.7 355.3h1.5M640.5 377.3h1.5M635.5 368.5h1.5M576.9 388.3h1.5M629.2 386.1h1.5M635.5 357.5h1.5M606.8 349.8h1.5M605.0 366.3h1.5M627.6 348.7h1.5M635.3 367.4h1.5M613.2 342.1h1.5M635.7 370.7h1.5M620.6 374.0h1.5M595.3 363.0h1.5M628.7 369.6h1.5M583.6 338.8h1.5M589.2 359.7h1.5M599.1 345.4h1.5M609.3 389.4h1.5M608.5 353.1h1.5M576.5 389.4h1.5M641.6 364.1h1.5M623.6 333.3h1.5M610.1 345.4h1.5M632.9 347.6h1.5M602.7 389.4h1.5M640.6 359.7h1.5M599.3 379.5h1.5M584.0 387.2h1.5M598.5 338.8h1.5M640.2 338.8h1.5M586.8 357.5h1.5M632.7 359.7h1.5M629.2 342.1h1.5M643.9 345.4h1.5M638.2 370.7h1.5M622.7 358.6h1.5M628.6 375.1h1.5M641.6 335.5h1.5M582.9 376.2h1.5M619.3 383.9h1.5M600.3 372.9h1.5M616.7 357.5h1.5M643.9 361.9h1.5M636.5 370.7h1.5M604.1 335.5h1.5M609.6 353.1h1.5M594.0 364.1h1.5M573.7 353.1h1.5M607.9 366.3h1.5M601.3 378.4h1.5M582.2 377.3h1.5M622.1 370.7h1.5M613.0 365.2h1.5M642.3 337.7h1.5M611.9 396.0h1.5M614.0 357.5h1.5M576.1 361.9h1.5M615.6 348.7h1.5M595.6 331.1h1.5M577.6 361.9h1.5M624.5 377.3h1.5M631.3 376.2h1.5M609.5 355.3h1.5M639.2 360.8h1.5M631.4 371.8h1.5M588.9 374.0h1.5M635.7 385.0h1.5M599.0 355.3h1.5M613.7 331.1h1.5M633.0 367.4h1.5M618.3 359.7h1.5M586.5 369.6h1.5M641.7 344.3h1.5M600.1 369.6h1.5M595.3 392.7h1.5M585.3 350.9h1.5M646.7 334.4h1.5M621.3 338.8h1.5M592.4 337.7h1.5M606.4 352.0h1.5M636.6 355.3h1.5M610.1 357.5h1.5M634.0 375.1h1.5M636.0 374.0h1.5M635.1 377.3h1.5M591.3 361.9h1.5M574.0 378.4h1.5M601.0 374.0h1.5M617.1 381.7h1.5M575.1 357.5h1.5M599.2 346.5h1.5M584.0 365.2h1.5M584.7 367.4h1.5M586.7 353.1h1.5M641.6 339.9h1.5M644.5 355.3h1.5M576.1 356.4h1.5M573.2 350.9h1.5M644.3 344.3h1.5M595.3 367.4h1.5M638.5 360.8h1.5M610.8 385.0h1.5M640.7 382.8h1.5M597.2 339.9h1.5M593.4 391.6h1.5M613.6 365.2h1.5M622.2 368.5h1.5M616.0 364.1h1.5M581.1 369.6h1.5M634.0 352.0h1.5M581.9 359.7h1.5M596.5 337.7h1.5M573.6 371.8h1.5M613.8 371.8h1.5M592.4 361.9h1.5M572.6 364.1h1.5M620.5 388.3h1.5M583.5 352.0h1.5M624.8 359.7h1.5M632.5 370.7h1.5M587.5 335.5h1.5M579.7 372.9h1.5M588.4 387.2h1.5M628.4 366.3h1.5M580.6 348.7h1.5M623.8 375.1h1.5M599.3 361.9h1.5M598.7 392.7h1.5M636.5 369.6h1.5M589.4 350.9h1.5M589.9 336.6h1.5M583.7 338.8h1.5M619.3 393.8h1.5M608.1 366.3h1.5M627.3 386.1h1.5M614.5 356.4h1.5M603.7 368.5h1.5M640.8 350.9h1.5M588.0 378.4h1.5M630.6 348.7h1.5M621.8 371.8h1.5M596.0 382.8h1.5M623.1 379.5h1.5M636.4 357.5h1.5M599.7 344.3h1.5M627.4 336.6h1.5M578.3 370.7h1.5M626.7 347.6h1.5M620.7 341.0h1.5M624.0 334.4h1.5M635.0 337.7h1.5M605.0 358.6h1.5M575.3 366.3h1.5M587.9 369.6h1.5M641.1 370.7h1.5M627.2 354.2h1.5M641.5 352.0h1.5M591.8 390.5h1.5M621.3 339.9h1.5M627.3 371.8h1.5M641.7 344.3h1.5M611.1 349.8h1.5M629.1 365.2h1.5M601.1 391.6h1.5M584.7 332.2h1.5M635.6 364.1h1.5M612.0 343.2h1.5M600.8 364.1h1.5M593.1 333.3h1.5M592.2 357.5h1.5M613.1 371.8h1.5M623.3 358.6h1.5M596.4 371.8h1.5M625.5 390.5h1.5M613.1 393.8h1.5M610.2 372.9h1.5M619.3 390.5h1.5M648.7 346.5h1.5M645.3 347.6h1.5M602.9 374.0h1.5M640.2 361.9h1.5M620.4 381.7h1.5M644.4 342.1h1.5M632.4 355.3h1.5M581.3 356.4h1.5M597.9 332.2h1.5M629.9 333.3h1.5M619.0 352.0h1.5M604.5 347.6h1.5M627.0 343.2h1.5M635.1 331.1h1.5M588.8 346.5h1.5M586.6 350.9h1.5M612.7 366.3h1.5M644.5 347.6h1.5M604.1 358.6h1.5M636.0 374.0h1.5M619.8 335.5h1.5M603.7 369.6h1.5M604.6 386.1h1.5M642.4 337.7h1.5M624.7 345.4h1.5M609.3 390.5h1.5M593.3 345.4h1.5M617.4 371.8h1.5M608.4 376.2h1.5M579.4 345.4h1.5M591.0 347.6h1.5M594.3 375.1h1.5M604.0 376.2h1.5M610.2 374.0h1.5M584.0 333.3h1.5M591.6 353.1h1.5M627.6 343.2h1.5M586.9 344.3h1.5M619.7 365.2h1.5M634.0 350.9h1.5M612.7 334.4h1.5M616.1 333.3h1.5M608.7 368.5h1.5M632.4 343.2h1.5M638.1 350.9h1.5M643.8 348.7h1.5M630.8 366.3h1.5M606.7 346.5h1.5M610.2 327.8h1.5M607.9 332.2h1.5M596.9 337.7h1.5M597.1 381.7h1.5M599.5 344.3h1.5M624.3 387.2h1.5M623.3 357.5h1.5M598.1 382.8h1.5M640.8 355.3h1.5M584.0 346.5h1.5M632.9 377.3h1.5M605.4 381.7h1.5M611.5 387.2h1.5M577.1 387.2h1.5M600.1 377.3h1.5M612.7 338.8h1.5M641.5 360.8h1.5M612.0 378.4h1.5M604.1 354.2h1.5M611.6 358.6h1.5M608.7 368.5h1.5M615.4 358.6h1.5M606.1 346.5h1.5M627.7 343.2h1.5M585.2 358.6h1.5M595.5 388.3h1.5M583.1 363.0h1.5M576.4 357.5h1.5M585.0 378.4h1.5M626.2 374.0h1.5M635.5 339.9h1.5M610.8 345.4h1.5M626.5 335.5h1.5M619.7 375.1h1.5M606.0 391.6h1.5M597.1 363.0h1.5M590.0 371.8h1.5M626.0 377.3h1.5M633.6 357.5h1.5M605.4 348.7h1.5M614.4 336.6h1.5M616.8 371.8h1.5M620.0 354.2h1.5M581.0 374.0h1.5M598.3 353.1h1.5M592.9 382.8h1.5M619.5 357.5h1.5M637.6 348.7h1.5M643.9 364.1h1.5M624.5 374.0h1.5M577.0 344.3h1.5M628.5 382.8h1.5M639.6 342.1h1.5M635.1 334.4h1.5M615.4 335.5h1.5M598.6 386.1h1.5M595.5 332.2h1.5M593.8 354.2h1.5M590.8 379.5h1.5M608.7 367.4h1.5M610.0 339.9h1.5M590.6 363.0h1.5M585.1 369.6h1.5M601.5 374.0h1.5M594.8 376.2h1.5M585.2 385.0h1.5M576.3 339.9h1.5M612.9 343.2h1.5M577.7 385.0h1.5M621.9 359.7h1.5M646.9 345.4h1.5M591.7 335.5h1.5M640.4 370.7h1.5M604.7 350.9h1.5M597.2 365.2h1.5M625.7 357.5h1.5M614.8 383.9h1.5M586.2 343.2h1.5M638.0 378.4h1.5M593.6 383.9h1.5M629.3 374.0h1.5M610.1 347.6h1.5M618.3 355.3h1.5M622.9 382.8h1.5M586.8 363.0h1.5M642.0 366.3h1.5M617.3 349.8h1.5M633.1 349.8h1.5M612.0 344.3h1.5M582.5 385.0h1.5M584.5 342.1h1.5M640.1 390.5h1.5M641.1 339.9h1.5M583.8 386.1h1.5M588.6 342.1h1.5M584.1 337.7h1.5M642.2 369.6h1.5M582.6 381.7h1.5M629.3 361.9h1.5M599.7 387.2h1.5M590.9 391.6h1.5M620.2 336.6h1.5M621.9 347.6h1.5M600.4 383.9h1.5M585.0 358.6h1.5M584.6 360.8h1.5M606.4 341.0h1.5M586.4 374.0h1.5M601.6 344.3h1.5M601.4 343.2h1.5M570.0 343.2h1.5M592.8 345.4h1.5M632.3 371.8h1.5M627.0 366.3h1.5M623.7 386.1h1.5M636.0 368.5h1.5M623.2 366.3h1.5M580.1 350.9h1.5M575.6 354.2h1.5M604.5 356.4h1.5M607.5 352.0h1.5M620.4 341.0h1.5M585.5 344.3h1.5M607.0 364.1h1.5M604.4 354.2h1.5M621.0 387.2h1.5M582.3 345.4h1.5M581.7 393.8h1.5M631.9 338.8h1.5M639.3 349.8h1.5M580.0 377.3h1.5M583.9 368.5h1.5M620.4 394.9h1.5M635.3 383.9h1.5M636.4 361.9h1.5M615.1 386.1h1.5M621.8 350.9h1.5M581.5 346.5h1.5M623.3 358.6h1.5M635.0 349.8h1.5M602.5 372.9h1.5M579.2 348.7h1.5M585.3 346.5h1.5M577.0 357.5h1.5M636.9 379.5h1.5M586.6 385.0h1.5M623.0 354.2h1.5M583.7 367.4h1.5M636.1 376.2h1.5M641.2 357.5h1.5M582.1 391.6h1.5M584.2 386.1h1.5M614.3 359.7h1.5M631.4 366.3h1.5M641.1 365.2h1.5M592.2 374.0h1.5M580.4 355.3h1.5M581.8 381.7h1.5M635.2 381.7h1.5M605.6 359.7h1.5M589.2 382.8h1.5M584.8 371.8h1.5M602.0 345.4h1.5M633.0 336.6h1.5M627.7 387.2h1.5M613.9 356.4h1.5M608.0 378.4h1.5M597.1 381.7h1.5M629.8 357.5h1.5M590.3 353.1h1.5M637.8 366.3h1.5M605.5 393.8h1.5M599.2 385.0h1.5M606.9 365.2h1.5M635.5 359.7h1.5M582.9 345.4h1.5M617.7 369.6h1.5M614.2 387.2h1.5M614.9 387.2h1.5M583.2 376.2h1.5M633.9 382.8h1.5M592.8 338.8h1.5M637.7 339.9h1.5M579.2 338.8h1.5M612.0 355.3h1.5M602.9 353.1h1.5M614.9 345.4h1.5M638.7 356.4h1.5M578.4 375.1h1.5M588.1 343.2h1.5M598.1 359.7h1.5M589.7 339.9h1.5M611.9 361.9h1.5M597.2 388.3h1.5M588.2 347.6h1.5M600.6 364.1h1.5M620.4 355.3h1.5M589.5 371.8h1.5M642.0 375.1h1.5M622.2 341.0h1.5M629.8 346.5h1.5M581.4 347.6h1.5M590.8 385.0h1.5M619.1 368.5h1.5M595.2 367.4h1.5M625.7 333.3h1.5M619.6 346.5h1.5M584.8 364.1h1.5M599.7 392.7h1.5M607.5 348.7h1.5M604.6 389.4h1.5M638.0 380.6h1.5M633.8 336.6h1.5M585.4 357.5h1.5M599.4 333.3h1.5M590.2 342.1h1.5M624.5 357.5h1.5M607.2 327.8h1.5M582.9 343.2h1.5M605.9 360.8h1.5M592.4 391.6h1.5M643.2 341.0h1.5M637.3 371.8h1.5M634.7 349.8h1.5M583.9 381.7h1.5M589.3 392.7h1.5M637.7 338.8h1.5M584.5 387.2h1.5M625.1 368.5h1.5M587.2 387.2h1.5M627.6 338.8h1.5M615.7 344.3h1.5M573.8 349.8h1.5M592.8 348.7h1.5M629.3 337.7h1.5M637.7 375.1h1.5M596.6 355.3h1.5M599.1 367.4h1.5M613.4 352.0h1.5M620.9 385.0h1.5M603.9 344.3h1.5M628.4 354.2h1.5M579.0 347.6h1.5M575.0 365.2h1.5M603.4 370.7h1.5M588.1 344.3h1.5M603.0 348.7h1.5M572.5 358.6h1.5M582.2 349.8h1.5M597.1 345.4h1.5M585.3 390.5h1.5M590.7 338.8h1.5M599.1 347.6h1.5M594.5 371.8h1.5M580.6 367.4h1.5M616.8 383.9h1.5M627.7 335.5h1.5M628.6 348.7h1.5M644.6 359.7h1.5M616.4 341.0h1.5M643.5 376.2h1.5M639.1 350.9h1.5M600.2 350.9h1.5M580.5 368.5h1.5M621.5 385.0h1.5M579.8 331.1h1.5M575.4 374.0h1.5M615.5 366.3h1.5M604.8 361.9h1.5M584.9 388.3h1.5M610.0 365.2h1.5M637.7 334.4h1.5M627.3 341.0h1.5M606.8 366.3h1.5M626.9 396.0h1.5M598.3 349.8h1.5M589.1 385.0h1.5M598.9 379.5h1.5M601.2 343.2h1.5M618.7 394.9h1.5M610.6 353.1h1.5M626.6 333.3h1.5M601.6 387.2h1.5M635.2 386.1h1.5M638.6 370.7h1.5M605.9 390.5h1.5M588.0 360.8h1.5M633.7 357.5h1.5M595.7 389.4h1.5M585.0 394.9h1.5M584.0 337.7h1.5M583.0 394.9h1.5M612.4 337.7h1.5M633.4 385.0h1.5M592.9 368.5h1.5M591.2 339.9h1.5M608.5 355.3h1.5M605.8 347.6h1.5M589.3 381.7h1.5M642.0 367.4h1.5M618.1 348.7h1.5M584.1 375.1h1.5M644.8 379.5h1.5M585.9 360.8h1.5M610.0 391.6h1.5M636.7 364.1h1.5M585.0 385.0h1.5M628.6 338.8h1.5M583.4 360.8h1.5M623.3 363.0h1.5M625.4 372.9h1.5M619.7 385.0h1.5M580.4 360.8h1.5M579.8 353.1h1.5M578.8 392.7h1.5M576.2 354.2h1.5M614.8 386.1h1.5M597.2 369.6h1.5M588.2 372.9h1.5M610.9 360.8h1.5M633.4 378.4h1.5M598.7 358.6h1.5M609.6 369.6h1.5M613.6 333.3h1.5M618.0 393.8h1.5M623.6 366.3h1.5M631.6 383.9h1.5M621.3 385.0h1.5M585.0 331.1h1.5M615.3 372.9h1.5M607.4 392.7h1.5M631.5 374.0h1.5M630.3 336.6h1.5M582.4 383.9h1.5M611.0 334.4h1.5M584.4 355.3h1.5M577.5 342.1h1.5M607.8 355.3h1.5M588.2 378.4h1.5M622.2 364.1h1.5M623.5 352.0h1.5M629.3 378.4h1.5M645.2 337.7h1.5M631.3 353.1h1.5M590.5 338.8h1.5M632.4 345.4h1.5M580.0 346.5h1.5M607.0 360.8h1.5M591.6 382.8h1.5M615.7 372.9h1.5M635.8 375.1h1.5M594.1 336.6h1.5M603.2 393.8h1.5M599.8 339.9h1.5M607.1 358.6h1.5M626.0 355.3h1.5M582.6 390.5h1.5M637.1 338.8h1.5M603.1 374.0h1.5M616.0 343.2h1.5M613.0 361.9h1.5M580.3 386.1h1.5M643.8 332.2h1.5M624.3 345.4h1.5M609.5 371.8h1.5M608.6 331.1h1.5M578.5 367.4h1.5M608.5 374.0h1.5M630.9 355.3h1.5M587.5 388.3h1.5M581.3 359.7h1.5M637.0 348.7h1.5M634.6 338.8h1.5M614.4 332.2h1.5M595.3 372.9h1.5M629.2 352.0h1.5M588.3 354.2h1.5M621.0 349.8h1.5M629.9 367.4h1.5M617.5 359.7h1.5M589.3 371.8h1.5M583.4 359.7h1.5M583.9 344.3h1.5M604.1 342.1h1.5M595.5 396.0h1.5M619.7 347.6h1.5M645.0 369.6h1.5M619.6 391.6h1.5M601.2 333.3h1.5M632.8 392.7h1.5M584.9 392.7h1.5M629.6 387.2h1.5M587.0 360.8h1.5M632.0 391.6h1.5M619.6 350.9h1.5M574.1 346.5h1.5M637.7 368.5h1.5M585.6 355.3h1.5M600.7 334.4h1.5M590.4 394.9h1.5M583.4 389.4h1.5M594.6 349.8h1.5M613.9 377.3h1.5M577.5 371.8h1.5M635.4 338.8h1.5M637.4 363.0h1.5M636.0 345.4h1.5M590.1 392.7h1.5M637.9 370.7h1.5M622.1 367.4h1.5M623.5 354.2h1.5M597.4 341.0h1.5M617.6 381.7h1.5M646.1 364.1h1.5M635.2 344.3h1.5M584.8 347.6h1.5M595.1 370.7h1.5M602.1 385.0h1.5M574.8 380.6h1.5M624.8 344.3h1.5M590.3 360.8h1.5M621.3 368.5h1.5M578.1 368.5h1.5M600.9 347.6h1.5M595.7 336.6h1.5M628.1 380.6h1.5M640.5 376.2h1.5M607.5 333.3h1.5M591.1 347.6h1.5M602.4 380.6h1.5M632.8 357.5h1.5M583.7 371.8h1.5M611.0 341.0h1.5M580.6 382.8h1.5M625.9 338.8h1.5M577.5 379.5h1.5M591.7 359.7h1.5M637.7 348.7h1.5M598.6 353.1h1.5M610.2 389.4h1.5M600.7 349.8h1.5M598.5 342.1h1.5M612.3 350.9h1.5M573.8 376.2h1.5M647.9 347.6h1.5M611.1 347.6h1.5M613.8 355.3h1.5M592.8 394.9h1.5M583.2 379.5h1.5M636.8 375.1h1.5M600.6 341.0h1.5M596.1 364.1h1.5M631.4 346.5h1.5M603.7 347.6h1.5M575.5 341.0h1.5M598.4 343.2h1.5M631.3 361.9h1.5M602.9 356.4h1.5M621.0 380.6h1.5M585.7 367.4h1.5M613.3 342.1h1.5M636.9 345.4h1.5M584.7 371.8h1.5M615.8 393.8h1.5M618.7 389.4h1.5M595.7 386.1h1.5M613.9 335.5h1.5M599.7 345.4h1.5M622.2 341.0h1.5M597.9 377.3h1.5M611.8 367.4h1.5M588.9 370.7h1.5M610.4 387.2h1.5M605.0 375.1h1.5M627.7 361.9h1.5M607.2 378.4h1.5M637.7 365.2h1.5M642.4 382.8h1.5M609.8 386.1h1.5M625.4 356.4h1.5M578.7 379.5h1.5M579.5 346.5h1.5M585.4 367.4h1.5M601.2 348.7h1.5M631.2 354.2h1.5M622.6 385.0h1.5M641.6 357.5h1.5M624.5 380.6h1.5M587.7 386.1h1.5M607.3 338.8h1.5M590.9 360.8h1.5M638.0 346.5h1.5M640.5 356.4h1.5M591.8 348.7h1.5M602.8 392.7h1.5M636.8 385.0h1.5M630.3 381.7h1.5M611.9 356.4h1.5M594.1 327.8h1.5M636.3 377.3h1.5M611.9 376.2h1.5M591.1 365.2h1.5M638.2 337.7h1.5M588.6 380.6h1.5M639.5 356.4h1.5M589.0 368.5h1.5M604.0 370.7h1.5M623.7 378.4h1.5M619.2 352.0h1.5M578.6 383.9h1.5M637.1 376.2h1.5M587.3 372.9h1.5M587.5 380.6h1.5M590.9 390.5h1.5M585.5 333.3h1.5M581.1 375.1h1.5M591.8 371.8h1.5M596.8 335.5h1.5M579.6 343.2h1.5M587.2 341.0h1.5M575.2 371.8h1.5M618.6 377.3h1.5M627.6 356.4h1.5M643.1 376.2h1.5M599.1 352.0h1.5M608.0 378.4h1.5M635.4 354.2h1.5M577.7 368.5h1.5M603.0 363.0h1.5M618.6 354.2h1.5M625.3 381.7h1.5M643.7 352.0h1.5M629.1 380.6h1.5M634.1 348.7h1.5M618.7 364.1h1.5M578.5 356.4h1.5M630.0 359.7h1.5M589.0 343.2h1.5M584.5 346.5h1.5M619.7 383.9h1.5M584.8 391.6h1.5M633.3 383.9h1.5M637.1 367.4h1.5M648.1 357.5h1.5M596.2 369.6h1.5M620.6 336.6h1.5M592.3 350.9h1.5M612.3 376.2h1.5M636.8 355.3h1.5M591.1 367.4h1.5M619.4 359.7h1.5M618.6 371.8h1.5M602.6 374.0h1.5M587.7 360.8h1.5M578.5 348.7h1.5M617.7 387.2h1.5M593.9 336.6h1.5M607.5 388.3h1.5M596.2 347.6h1.5M617.1 343.2h1.5M583.7 335.5h1.5M595.1 359.7h1.5M586.3 363.0h1.5M588.9 335.5h1.5M622.0 391.6h1.5M627.4 368.5h1.5M602.1 355.3h1.5M578.0 367.4h1.5M604.3 380.6h1.5M584.1 338.8h1.5M592.7 382.8h1.5M604.9 364.1h1.5M607.2 385.0h1.5M601.4 369.6h1.5M588.4 372.9h1.5M596.5 369.6h1.5M636.0 356.4h1.5M625.2 394.9h1.5M608.0 366.3h1.5M600.3 368.5h1.5M605.7 343.2h1.5M605.5 360.8h1.5M603.6 349.8h1.5M619.0 331.1h1.5M603.0 370.7h1.5M620.7 379.5h1.5M585.4 335.5h1.5M590.3 333.3h1.5M586.2 334.4h1.5M641.1 369.6h1.5M626.9 392.7h1.5M602.8 382.8h1.5M609.9 366.3h1.5M639.1 339.9h1.5M627.0 353.1h1.5M600.7 378.4h1.5M631.3 336.6h1.5M632.6 341.0h1.5M609.8 348.7h1.5M609.0 380.6h1.5M611.9 370.7h1.5M642.8 355.3h1.5M619.7 349.8h1.5M624.6 352.0h1.5M634.1 381.7h1.5M602.8 364.1h1.5M620.5 391.6h1.5M585.6 336.6h1.5M584.0 368.5h1.5M627.9 377.3h1.5M577.7 339.9h1.5M599.5 382.8h1.5M599.7 334.4h1.5M637.4 347.6h1.5M590.7 344.3h1.5M598.5 344.3h1.5M574.6 364.1h1.5M612.8 339.9h1.5M614.3 382.8h1.5M581.3 363.0h1.5M609.2 368.5h1.5M594.6 365.2h1.5M593.9 377.3h1.5M583.0 332.2h1.5M635.0 375.1h1.5M638.3 370.7h1.5M638.6 350.9h1.5M627.3 390.5h1.5M636.2 365.2h1.5M579.1 379.5h1.5M642.0 366.3h1.5M617.7 368.5h1.5M582.4 350.9h1.5M587.8 347.6h1.5M599.6 378.4h1.5M625.1 357.5h1.5M645.3 348.7h1.5M621.9 354.2h1.5M589.5 387.2h1.5M622.6 363.0h1.5M576.9 376.2h1.5M614.7 356.4h1.5M606.3 370.7h1.5M587.1 383.9h1.5M617.8 366.3h1.5M583.8 381.7h1.5M609.2 370.7h1.5M599.1 357.5h1.5M621.4 369.6h1.5M618.8 341.0h1.5M630.9 335.5h1.5M632.5 367.4h1.5M626.3 388.3h1.5M638.5 374.0h1.5M600.9 386.1h1.5M622.4 386.1h1.5M594.1 377.3h1.5M607.7 388.3h1.5M638.4 369.6h1.5M624.0 386.1h1.5M610.1 344.3h1.5M625.8 335.5h1.5M584.1 355.3h1.5M591.1 367.4h1.5M578.0 389.4h1.5M618.0 356.4h1.5M599.6 339.9h1.5M629.0 338.8h1.5M595.3 361.9h1.5M640.9 370.7h1.5M581.1 379.5h1.5M575.5 366.3h1.5M629.9 361.9h1.5M622.5 385.0h1.5M617.4 368.5h1.5M628.9 374.0h1.5M596.3 371.8h1.5M642.1 389.4h1.5M601.4 355.3h1.5M602.3 381.7h1.5M590.6 372.9h1.5M616.9 389.4h1.5M604.8 359.7h1.5M595.7 333.3h1.5M579.4 356.4h1.5M582.0 359.7h1.5M573.1 350.9h1.5M630.3 364.1h1.5M619.1 367.4h1.5M574.9 344.3h1.5M634.2 386.1h1.5M642.8 338.8h1.5M603.7 352.0h1.5M591.7 386.1h1.5M596.0 388.3h1.5M630.8 389.4h1.5M642.2 359.7h1.5M643.4 337.7h1.5M638.6 380.6h1.5M613.1 356.4h1.5M592.8 367.4h1.5M635.2 381.7h1.5M593.1 361.9h1.5M607.9 378.4h1.5M630.6 368.5h1.5M589.9 386.1h1.5M624.7 367.4h1.5M609.3 343.2h1.5M624.9 332.2h1.5M606.6 371.8h1.5M624.0 391.6h1.5M602.3 361.9h1.5M631.9 358.6h1.5M598.5 367.4h1.5M594.4 342.1h1.5M585.2 356.4h1.5M618.6 341.0h1.5M622.8 380.6h1.5M620.4 335.5h1.5M631.1 342.1h1.5M611.1 336.6h1.5M604.0 383.9h1.5M637.3 369.6h1.5M624.2 343.2h1.5M625.3 345.4h1.5M590.4 379.5h1.5M579.9 379.5h1.5M601.9 369.6h1.5M601.1 338.8h1.5M621.2 385.0h1.5M615.4 366.3h1.5M618.6 348.7h1.5M625.4 356.4h1.5M605.7 350.9h1.5M637.5 383.9h1.5M621.6 371.8h1.5M585.0 378.4h1.5M589.8 347.6h1.5M623.7 348.7h1.5M637.8 378.4h1.5M602.5 365.2h1.5M619.3 371.8h1.5M619.7 392.7h1.5M629.4 369.6h1.5M616.7 360.8h1.5M603.7 338.8h1.5M608.5 352.0h1.5M598.3 370.7h1.5M627.5 335.5h1.5M588.3 392.7h1.5M622.2 383.9h1.5M622.8 392.7h1.5M643.5 343.2h1.5M591.2 332.2h1.5M640.6 378.4h1.5M613.0 370.7h1.5M580.6 349.8h1.5M588.0 334.4h1.5M579.7 341.0h1.5M642.2 350.9h1.5M617.7 390.5h1.5M625.3 369.6h1.5M609.3 393.8h1.5M600.3 369.6h1.5M589.8 381.7h1.5M593.7 359.7h1.5M601.3 350.9h1.5M636.4 363.0h1.5M616.2 370.7h1.5M593.3 346.5h1.5M593.2 379.5h1.5M637.3 345.4h1.5M593.1 349.8h1.5M600.5 352.0h1.5M613.8 354.2h1.5M636.4 334.4h1.5M629.0 352.0h1.5M592.0 350.9h1.5M638.7 363.0h1.5M579.9 392.7h1.5M608.3 372.9h1.5M610.5 374.0h1.5M604.1 371.8h1.5M606.1 327.8h1.5M598.5 379.5h1.5M609.6 388.3h1.5M609.9 365.2h1.5M613.5 383.9h1.5M599.2 379.5h1.5M600.9 389.4h1.5M585.8 390.5h1.5M597.4 353.1h1.5M634.4 370.7h1.5M625.4 372.9h1.5M598.5 355.3h1.5M605.7 388.3h1.5M642.3 339.9h1.5M599.4 356.4h1.5M578.9 375.1h1.5M646.1 341.0h1.5M623.1 380.6h1.5M623.2 337.7h1.5M620.5 349.8h1.5M611.8 343.2h1.5M625.3 343.2h1.5M623.4 335.5h1.5M631.7 345.4h1.5M638.9 364.1h1.5M607.3 360.8h1.5M635.5 348.7h1.5M588.3 343.2h1.5M617.6 378.4h1.5M622.5 368.5h1.5M587.6 331.1h1.5M618.3 378.4h1.5M606.1 376.2h1.5M576.4 348.7h1.5M595.2 383.9h1.5M607.7 369.6h1.5M611.3 338.8h1.5M591.8 379.5h1.5M638.6 358.6h1.5M588.4 378.4h1.5M644.7 344.3h1.5M602.4 353.1h1.5M628.9 361.9h1.5M615.7 358.6h1.5M623.1 346.5h1.5M635.8 380.6h1.5M610.0 393.8h1.5M595.6 334.4h1.5M578.7 367.4h1.5M617.7 386.1h1.5M600.4 379.5h1.5M587.2 390.5h1.5M582.7 336.6h1.5M633.5 375.1h1.5M637.9 358.6h1.5M628.9 335.5h1.5M576.4 381.7h1.5M590.9 341.0h1.5M603.5 385.0h1.5M572.8 356.4h1.5M622.2 383.9h1.5M601.6 372.9h1.5M621.7 376.2h1.5M615.5 336.6h1.5M609.0 345.4h1.5M637.1 350.9h1.5M613.2 350.9h1.5M591.0 385.0h1.5M614.0 393.8h1.5M599.9 338.8h1.5M586.3 365.2h1.5M599.4 374.0h1.5M586.3 391.6h1.5M590.1 341.0h1.5M601.5 387.2h1.5M614.1 361.9h1.5M619.6 381.7h1.5M578.9 392.7h1.5M589.4 339.9h1.5M612.9 376.2h1.5M641.6 352.0h1.5M623.6 352.0h1.5M639.7 350.9h1.5M609.5 359.7h1.5M623.1 377.3h1.5M606.7 378.4h1.5M632.1 385.0h1.5M580.0 334.4h1.5M635.9 389.4h1.5M642.9 391.6h1.5M635.8 382.8h1.5M589.1 350.9h1.5M574.2 374.0h1.5M597.0 387.2h1.5M625.7 338.8h1.5M634.8 352.0h1.5M606.2 344.3h1.5M577.5 361.9h1.5M589.0 364.1h1.5M594.0 341.0h1.5M571.9 363.0h1.5M605.1 334.4h1.5M628.0 368.5h1.5M620.2 385.0h1.5M617.2 360.8h1.5M622.9 336.6h1.5M636.0 338.8h1.5M602.3 344.3h1.5M605.0 378.4h1.5M615.6 365.2h1.5M603.5 336.6h1.5M593.4 377.3h1.5M645.9 359.7h1.5M589.1 370.7h1.5M577.5 353.1h1.5M628.3 339.9h1.5M586.7 358.6h1.5M626.9 375.1h1.5M622.6 349.8h1.5M609.1 374.0h1.5M606.7 383.9h1.5M578.2 356.4h1.5M599.3 360.8h1.5M611.2 367.4h1.5M618.7 367.4h1.5M596.0 332.2h1.5M629.4 354.2h1.5M588.2 360.8h1.5M644.8 353.1h1.5M588.9 346.5h1.5M619.8 338.8h1.5M598.1 342.1h1.5M641.8 334.4h1.5M626.3 372.9h1.5M593.6 387.2h1.5M593.8 382.8h1.5M625.9 331.1h1.5M606.6 365.2h1.5M624.2 341.0h1.5M603.4 375.1h1.5M575.1 385.0h1.5M639.4 359.7h1.5M621.1 385.0h1.5M577.9 370.7h1.5M616.8 378.4h1.5M613.1 354.2h1.5M571.9 379.5h1.5M585.7 380.6h1.5M609.3 352.0h1.5M608.2 371.8h1.5M625.1 347.6h1.5M597.6 389.4h1.5M589.7 353.1h1.5M581.5 354.2h1.5M637.3 343.2h1.5M633.0 339.9h1.5M607.0 357.5h1.5M588.5 359.7h1.5M578.3 388.3h1.5M611.0 363.0h1.5M578.8 368.5h1.5M591.5 360.8h1.5M595.6 346.5h1.5M636.0 357.5h1.5M606.3 350.9h1.5M628.7 335.5h1.5M634.3 345.4h1.5M601.2 354.2h1.5M581.6 363.0h1.5M603.2 386.1h1.5M639.7 338.8h1.5M637.6 367.4h1.5M619.7 375.1h1.5M611.4 345.4h1.5M614.2 334.4h1.5M614.9 365.2h1.5M615.4 346.5h1.5M632.4 364.1h1.5M580.0 356.4h1.5M607.6 352.0h1.5M617.4 339.9h1.5M587.8 349.8h1.5M573.6 346.5h1.5M636.5 386.1h1.5M583.5 343.2h1.5M631.9 347.6h1.5M600.3 375.1h1.5M635.6 360.8h1.5M628.6 365.2h1.5M615.4 364.1h1.5M635.1 349.8h1.5M631.4 393.8h1.5M642.9 346.5h1.5M621.9 381.7h1.5M579.3 358.6h1.5M632.3 376.2h1.5M626.7 334.4h1.5M584.8 370.7h1.5M606.4 356.4h1.5M577.3 378.4h1.5M634.9 364.1h1.5M630.3 374.0h1.5M583.1 380.6h1.5M572.4 366.3h1.5M624.3 342.1h1.5M631.1 345.4h1.5M574.7 358.6h1.5M595.0 358.6h1.5M628.6 358.6h1.5M578.7 347.6h1.5M596.6 342.1h1.5M606.1 357.5h1.5M604.0 337.7h1.5M611.4 377.3h1.5M581.0 369.6h1.5M608.1 391.6h1.5M621.8 347.6h1.5M617.1 372.9h1.5M637.7 345.4h1.5M621.9 385.0h1.5M622.3 389.4h1.5M587.7 344.3h1.5M591.6 368.5h1.5M616.1 367.4h1.5M576.4 342.1h1.5M615.4 347.6h1.5M580.3 385.0h1.5M628.8 358.6h1.5M576.6 347.6h1.5M608.7 379.5h1.5M598.2 381.7h1.5M647.5 345.4h1.5M594.3 343.2h1.5M610.4 350.9h1.5M630.1 342.1h1.5M584.1 374.0h1.5M636.2 348.7h1.5M580.7 369.6h1.5M596.2 359.7h1.5M583.1 368.5h1.5M582.4 381.7h1.5M638.4 378.4h1.5M627.5 358.6h1.5M578.5 346.5h1.5M635.8 358.6h1.5M582.4 388.3h1.5M615.7 380.6h1.5M620.2 370.7h1.5M616.5 380.6h1.5M591.0 369.6h1.5M640.7 349.8h1.5M622.2 381.7h1.5M612.2 378.4h1.5M586.2 353.1h1.5M587.0 343.2h1.5M619.6 364.1h1.5M637.5 367.4h1.5M631.4 359.7h1.5M618.3 358.6h1.5M621.8 333.3h1.5M637.2 367.4h1.5M608.8 354.2h1.5M605.0 339.9h1.5M590.8 387.2h1.5M633.8 378.4h1.5M629.3 392.7h1.5M641.9 367.4h1.5M621.4 332.2h1.5M645.0 361.9h1.5M623.9 352.0h1.5M638.4 343.2h1.5M619.4 387.2h1.5M620.1 368.5h1.5M593.7 387.2h1.5M591.2 338.8h1.5M587.4 331.1h1.5M615.6 328.9h1.5M620.9 357.5h1.5M571.9 352.0h1.5M625.1 371.8h1.5M612.3 369.6h1.5M611.8 353.1h1.5M606.9 375.1h1.5M599.2 352.0h1.5M632.6 377.3h1.5M613.2 342.1h1.5M606.0 334.4h1.5M634.0 336.6h1.5M646.0 346.5h1.5M634.9 377.3h1.5M616.8 345.4h1.5M611.0 381.7h1.5M632.7 387.2h1.5M633.6 331.1h1.5M624.8 356.4h1.5M627.2 345.4h1.5M635.2 339.9h1.5M598.2 350.9h1.5M606.8 390.5h1.5M599.4 365.2h1.5M636.3 343.2h1.5M613.5 377.3h1.5M633.6 377.3h1.5M573.7 338.8h1.5M592.8 385.0h1.5M641.3 338.8h1.5M573.5 357.5h1.5M629.9 358.6h1.5M638.3 353.1h1.5M614.6 375.1h1.5M605.6 339.9h1.5M641.4 338.8h1.5M619.4 361.9h1.5M589.4 383.9h1.5M617.6 364.1h1.5M587.6 344.3h1.5M605.1 335.5h1.5M642.2 378.4h1.5M621.1 354.2h1.5M619.0 336.6h1.5M585.9 390.5h1.5M630.1 359.7h1.5M612.2 385.0h1.5M606.2 333.3h1.5M574.8 377.3h1.5M595.2 345.4h1.5M629.5 339.9h1.5M608.0 377.3h1.5M587.4 336.6h1.5M608.2 375.1h1.5M613.3 381.7h1.5M617.4 393.8h1.5M598.7 343.2h1.5M620.4 390.5h1.5M602.6 369.6h1.5M588.4 391.6h1.5M595.4 352.0h1.5M578.3 376.2h1.5M573.4 339.9h1.5M639.0 335.5h1.5M585.7 392.7h1.5M593.6 350.9h1.5M616.4 346.5h1.5M638.4 350.9h1.5M619.9 369.6h1.5M594.4 390.5h1.5M586.2 389.4h1.5M602.1 334.4h1.5M643.4 354.2h1.5M609.2 366.3h1.5M627.4 386.1h1.5M609.8 356.4h1.5M597.6 350.9h1.5M610.6 372.9h1.5" stroke="#060606" stroke-width="1.20" stroke-linecap="square" fill="none" opacity="1.00"/>
<path d="M613.6 351.5h5M640.7 373.5h5M599.8 338.5h5M610.2 349.6h5M613.0 373.7h5M617.2 379.7h5M629.8 341.7h5M632.0 384.7h5M626.7 390.3h5M577.5 346.5h5M582.5 371.4h5M593.0 389.3h5M602.9 367.8h5M636.6 384.2h5M585.6 361.3h5M632.0 376.1h5M594.6 342.1h5M635.6 353.3h5M616.1 353.5h5M602.8 353.1h5M584.2 358.3h5M636.8 386.0h5M601.5 377.1h5M601.0 341.6h5M632.4 348.1h5M582.4 348.4h5M597.6 378.3h5M606.6 340.6h5M621.4 377.4h5M602.5 350.4h5M608.1 358.2h5M627.3 360.0h5M626.9 370.2h5M581.9 372.4h5M597.6 351.7h5M596.3 362.2h5M583.8 363.8h5M641.1 340.9h5M590.1 392.5h5M619.8 374.5h5M592.6 340.1h5M581.3 349.1h5M629.8 379.6h5M632.8 367.1h5M633.4 348.4h5M584.1 370.2h5M609.4 365.3h5M636.5 364.5h5M637.7 362.8h5M642.4 346.0h5M606.5 371.1h5M585.3 346.6h5M612.5 349.0h5M621.1 355.5h5M624.5 370.6h5M583.1 365.6h5M634.5 382.7h5M627.5 366.3h5M622.3 364.4h5M642.1 349.9h5M585.0 365.0h5M625.9 352.7h5M583.3 385.0h5M596.3 372.3h5M577.5 346.2h5M614.5 373.9h5M634.8 375.7h5M597.2 379.7h5M591.8 375.6h5M639.8 346.5h5M580.5 380.5h5M638.9 350.1h5M633.8 368.3h5M633.0 338.0h5M586.3 347.9h5M636.4 341.3h5M617.9 380.8h5M577.4 356.9h5M589.0 367.3h5M612.9 352.2h5M597.3 363.3h5M631.0 379.1h5M611.9 363.9h5M615.5 371.9h5M629.0 362.2h5M587.0 340.6h5M613.1 380.2h5M596.6 341.7h5M618.4 386.4h5M618.9 348.2h5M612.8 338.2h5M617.9 362.9h5M637.4 387.8h5M617.8 389.3h5M631.6 367.0h5M624.6 390.4h5M586.8 351.9h5M640.1 368.2h5M611.0 390.8h5M630.9 384.1h5M592.5 349.1h5M631.9 370.4h5M603.5 338.3h5M592.1 376.9h5M581.8 367.7h5M592.5 377.6h5M598.5 351.1h5" stroke="#ffffff" stroke-width="0.80" stroke-linecap="butt" fill="none" opacity="0.50"/>
<path d="M590.5 381.7h0M612.4 366.5h0M607.4 356.3h0M613.4 344.5h0M633.9 375.7h0M599.9 377.4h0M612.6 359.7h0M633.2 363.1h0M614.7 344.3h0M586.8 388.8h0M595.9 346.2h0M603.3 385.5h0M631.6 354.2h0M606.1 349.2h0M631.4 343.3h0M628.4 366.5h0M584.4 387.1h0M591.3 358.3h0M619.5 359.7h0M628.0 344.0h0M612.8 376.5h0M617.2 335.4h0M577.7 378.3h0M590.6 349.2h0M590.3 346.2h0M583.9 377.8h0M605.1 345.8h0M576.5 356.6h0M631.4 357.3h0M587.0 373.9h0M600.7 354.2h0M627.7 341.8h0M634.3 337.2h0M610.4 364.9h0M614.4 373.1h0M612.3 377.2h0M623.4 363.0h0M643.5 348.4h0M600.6 354.3h0M638.8 337.7h0M578.1 366.2h0M606.6 363.5h0M591.7 342.0h0M589.7 349.5h0M632.9 388.9h0M587.1 376.5h0M602.6 338.0h0M594.3 361.5h0M639.2 356.8h0M601.7 337.7h0M585.8 378.7h0M633.3 378.0h0M598.3 387.9h0M604.6 359.5h0M620.7 365.7h0M597.5 342.1h0M622.0 369.3h0M585.7 366.9h0M627.4 377.9h0M585.0 373.6h0M602.0 352.8h0M607.2 349.5h0M635.5 356.8h0M630.8 341.5h0M623.9 362.4h0M598.7 361.9h0M605.1 369.1h0M613.1 378.0h0M580.8 339.2h0M637.2 348.4h0M604.4 380.7h0M587.7 376.6h0M590.1 358.8h0M613.6 388.7h0M635.5 357.9h0M609.9 388.9h0M579.6 366.8h0M603.6 359.2h0M627.9 346.3h0M634.9 369.1h0M585.1 392.2h0M594.7 391.1h0M593.0 382.1h0M600.7 367.2h0M611.7 345.9h0M581.9 373.0h0M589.3 374.6h0M601.6 366.6h0M628.5 380.5h0M606.3 369.0h0M641.4 353.5h0M641.3 361.0h0M641.1 355.5h0M608.7 349.0h0M598.0 363.5h0M642.4 344.0h0M641.1 366.7h0M596.6 345.8h0M602.3 371.8h0M617.4 337.8h0M589.4 355.2h0M611.3 370.5h0M614.4 339.3h0M595.8 362.7h0M601.5 368.3h0M609.2 358.8h0M635.9 362.4h0M607.8 371.7h0M607.1 349.6h0M614.3 337.6h0M629.7 371.8h0M586.5 343.6h0M585.9 387.3h0M606.8 374.1h0M586.4 349.5h0M625.4 335.1h0M640.5 346.1h0M590.8 367.2h0M602.3 372.7h0M602.2 386.6h0M635.3 383.0h0M608.4 359.5h0M579.5 359.2h0M624.4 386.3h0M587.7 387.0h0M620.4 386.8h0M597.8 376.2h0M594.0 337.6h0M599.9 350.8h0M591.1 360.4h0M588.0 385.5h0M625.7 363.0h0M628.9 381.3h0M596.0 343.4h0M630.9 386.1h0M601.1 336.9h0M590.9 383.6h0M592.9 369.2h0M601.2 342.6h0M611.4 377.1h0M641.6 370.8h0M587.9 366.5h0M578.1 352.7h0" stroke="#ffffff" stroke-width="1.00" stroke-linecap="square" fill="none" opacity="0.40"/>
<path d="M636.4 373.1h0M634.2 366.5h0M635.4 380.3h0M635.6 368.6h0M635.1 379.8h0M633.4 375.4h0M633.1 386.1h0M634.8 365.2h0M635.2 365.5h0M635.3 379.6h0M635.7 353.1h0M633.6 363.6h0M635.6 355.3h0M632.7 371.0h0M634.7 372.5h0M632.9 358.9h0M636.0 357.4h0M635.3 378.8h0M634.1 375.9h0M632.7 356.5h0M636.6 378.3h0M632.7 376.8h0M635.1 386.9h0M635.2 360.3h0M635.6 354.0h0M633.6 366.6h0M636.0 378.9h0M634.5 383.0h0M633.3 352.5h0M635.9 385.1h0M632.7 356.4h0M634.0 369.0h0M634.3 376.5h0M634.6 371.8h0M635.8 362.4h0M636.5 366.8h0M636.0 356.3h0M634.9 364.8h0M634.5 351.5h0M633.6 373.1h0M636.8 372.0h0M635.3 356.6h0M635.3 360.9h0M636.4 376.5h0M634.5 381.8h0M635.2 378.6h0M632.3 366.5h0M635.3 355.2h0M632.2 379.9h0M635.6 367.2h0M636.8 365.8h0M632.5 365.3h0M633.4 368.5h0M634.5 353.8h0M634.0 374.8h0M632.9 386.7h0M635.0 352.0h0M636.4 385.6h0M634.9 361.3h0M636.2 385.1h0M634.1 372.0h0M632.3 363.4h0M637.0 362.4h0M633.4 375.8h0M634.1 365.8h0M633.8 370.4h0M634.2 354.2h0M635.4 361.4h0M633.7 359.1h0M632.3 384.6h0M634.6 383.1h0M636.0 351.0h0M632.8 369.1h0M635.7 364.2h0M633.7 386.3h0M635.6 360.3h0M634.5 363.3h0M636.4 360.7h0M633.4 387.9h0M634.6 356.8h0M635.3 357.8h0M635.8 362.4h0M636.5 384.0h0M636.1 383.3h0M635.1 380.0h0M633.8 354.9h0M635.1 381.6h0M634.9 358.7h0M632.7 377.5h0M635.2 371.0h0M633.2 367.7h0M633.6 369.4h0M634.2 358.1h0M636.1 354.0h0M634.2 379.4h0M633.9 385.5h0M636.0 384.6h0M635.8 381.8h0M635.4 369.4h0M632.1 352.1h0M633.9 361.8h0M633.8 380.2h0M634.4 371.7h0M635.6 351.1h0M636.8 383.2h0M633.8 374.4h0M635.8 378.9h0M634.0 384.2h0M635.7 356.0h0M634.3 366.5h0M634.5 363.1h0" stroke="#ff3322" stroke-width="1.60" stroke-linecap="round" fill="none" opacity="0.60"/>
<text x="509.78" y="289.10" font-size="18.20" font-weight="normal" font-style="normal" fill="#000" font-family='"Liberation Sans", sans-serif' textLength="22.04" lengthAdjust="spacingAndGlyphs" >(e)</text>
<text x="495.57" y="278.10" font-size="14.40" font-weight="bold" font-style="normal" fill="#000" font-family='"Liberation Sans", sans-serif' textLength="8.01" lengthAdjust="spacingAndGlyphs" >2</text>
<text x="495.58" y="320.20" font-size="14.40" font-weight="bold" font-style="normal" fill="#000" font-family='"Liberation Sans", sans-serif' textLength="8.01" lengthAdjust="spacingAndGlyphs" >0</text>
<text x="490.77" y="365.10" font-size="14.40" font-weight="bold" font-style="normal" fill="#000" font-family='"Liberation Sans", sans-serif' textLength="12.80" lengthAdjust="spacingAndGlyphs" >-2</text>
<text x="490.27" y="410.60" font-size="14.40" font-weight="bold" font-style="normal" fill="#000" font-family='"Liberation Sans", sans-serif' textLength="12.80" lengthAdjust="spacingAndGlyphs" >-4</text>
<text x="490.72" y="452.60" font-size="14.40" font-weight="bold" font-style="normal" fill="#000" font-family='"Liberation Sans", sans-serif' textLength="12.80" lengthAdjust="spacingAndGlyphs" >-6</text>
<text x="504.43" y="463.00" font-size="14.40" font-weight="bold" font-style="normal" fill="#000" font-family='"Liberation Sans", sans-serif' textLength="8.01" lengthAdjust="spacingAndGlyphs" >2</text>
<text x="562.29" y="463.00" font-size="14.40" font-weight="bold" font-style="normal" fill="#000" font-family='"Liberation Sans", sans-serif' textLength="8.01" lengthAdjust="spacingAndGlyphs" >3</text>
<text x="620.23" y="463.00" font-size="14.40" font-weight="bold" font-style="normal" fill="#000" font-family='"Liberation Sans", sans-serif' textLength="8.01" lengthAdjust="spacingAndGlyphs" >4</text>
<text x="675.97" y="463.00" font-size="14.40" font-weight="bold" font-style="normal" fill="#000" font-family='"Liberation Sans", sans-serif' textLength="8.01" lengthAdjust="spacingAndGlyphs" >5</text>
<text x="557.66" y="480.00" font-size="16.60" font-weight="normal" font-style="italic" fill="#000" font-family='"Liberation Sans", sans-serif' textLength="8.82" lengthAdjust="spacingAndGlyphs" >V</text>
<text x="567.82" y="480.00" font-size="10.00" font-weight="normal" font-style="italic" fill="#000" font-family='"Liberation Sans", sans-serif' textLength="6.59" lengthAdjust="spacingAndGlyphs" >S</text>
<text x="578.72" y="479.10" font-size="16.60" font-weight="normal" font-style="normal" fill="#000" font-family='"Liberation Sans", sans-serif' textLength="52.65" lengthAdjust="spacingAndGlyphs" >(km/s)</text>
<g transform="translate(484.50 414.10) rotate(-90)"><text x="-1.34" y="0.00" font-size="16.60" font-weight="normal" font-style="normal" fill="#000" font-family='"Liberation Sans", sans-serif' textLength="27.30" lengthAdjust="spacingAndGlyphs" >Log</text><text x="27.28" y="0.00" font-size="10.00" font-weight="normal" font-style="normal" fill="#000" font-family='"Liberation Serif", serif' textLength="18.42" lengthAdjust="spacingAndGlyphs" >10</text><text x="51.26" y="0.00" font-size="15.50" font-weight="normal" font-style="italic" fill="#000" font-family='"Liberation Sans", sans-serif' textLength="8.03" lengthAdjust="spacingAndGlyphs" >σ</text><text x="61.40" y="0.00" font-size="16.60" font-weight="normal" font-style="normal" fill="#000" font-family='"Liberation Sans", sans-serif' textLength="47.20" lengthAdjust="spacingAndGlyphs" >(S/m)</text></g>
<path d="M460.3 268V449.5" stroke="#dcdcdc" stroke-width="1"/>
</svg>
</body></html>
